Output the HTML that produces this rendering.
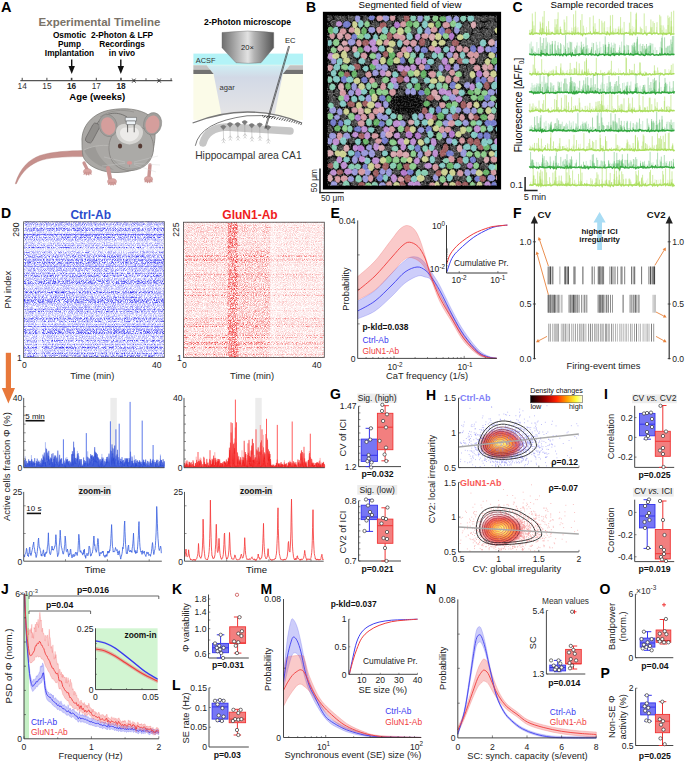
<!DOCTYPE html>
<html><head><meta charset="utf-8"><style>
html,body{margin:0;padding:0;background:#fff;width:685px;height:761px;overflow:hidden}
svg{display:block;font-family:"Liberation Sans", sans-serif;}
</style></head><body>
<svg width="685" height="761" viewBox="0 0 685 761" font-size="9.7">
<rect width="685" height="761" fill="#fff"/>
<text x="1" y="11.8" font-size="14.50" font-weight="bold">A</text>
<text x="99.5" y="26.3" font-size="11.50" text-anchor="middle" font-weight="bold" fill="#7a7267">Experimental Timeline</text>
<text x="69.5" y="38.2" font-size="8.30" text-anchor="middle" font-weight="bold">Osmotic</text>
<text x="69.5" y="47.3" font-size="8.30" text-anchor="middle" font-weight="bold">Pump</text>
<text x="69.5" y="56.4" font-size="8.30" text-anchor="middle" font-weight="bold">Implantation</text>
<text x="122" y="38.2" font-size="8.30" text-anchor="middle" font-weight="bold">2-Photon &amp; LFP</text>
<text x="122" y="47.3" font-size="8.30" text-anchor="middle" font-weight="bold">Recordings</text>
<text x="122" y="56.4" font-size="8.30" text-anchor="middle" font-weight="bold">in vivo</text>
<line x1="71.7" y1="59.6" x2="71.7" y2="68" stroke="#111" stroke-width="1.4" />
<path d="M68.5 66L74.9 66L71.7 74Z" fill="#111"/>
<line x1="120.8" y1="59.6" x2="120.8" y2="68" stroke="#111" stroke-width="1.4" />
<path d="M117.6 66L124 66L120.8 74Z" fill="#111"/>
<line x1="20.3" y1="80.7" x2="172.3" y2="80.7" stroke="#555" stroke-width="1.3" />
<line x1="22.2" y1="77.8" x2="22.2" y2="80.7" stroke="#444" stroke-width="1" />
<text x="22.2" y="88.5" font-size="8.30" text-anchor="middle" fill="#333">14</text>
<line x1="46.9" y1="77.8" x2="46.9" y2="80.7" stroke="#444" stroke-width="1" />
<text x="46.9" y="88.5" font-size="8.30" text-anchor="middle" fill="#333">15</text>
<line x1="71.6" y1="77.8" x2="71.6" y2="80.7" stroke="#444" stroke-width="1.6" />
<text x="71.6" y="88.5" font-size="8.30" text-anchor="middle" font-weight="bold" fill="#222">16</text>
<line x1="96.3" y1="77.8" x2="96.3" y2="80.7" stroke="#444" stroke-width="1" />
<text x="96.3" y="88.5" font-size="8.30" text-anchor="middle" fill="#333">17</text>
<line x1="121" y1="77.8" x2="121" y2="80.7" stroke="#444" stroke-width="1.6" />
<text x="121" y="88.5" font-size="8.30" text-anchor="middle" font-weight="bold" fill="#222">18</text>
<line x1="146" y1="78.2" x2="146" y2="80.7" stroke="#444" stroke-width="0.9" />
<line x1="171.1" y1="78.2" x2="171.1" y2="80.7" stroke="#444" stroke-width="0.9" />
<path d="M132.2 78.6L135.6 82.6M135.6 78.6L132.2 82.6" fill="none" stroke="#333" stroke-width="1"/>
<path d="M157.4 78.6L160.8 82.6M160.8 78.6L157.4 82.6" fill="none" stroke="#333" stroke-width="1"/>
<text x="97.3" y="99.8" font-size="9.60" text-anchor="middle" font-weight="bold">Age (weeks)</text>
<g stroke-linejoin="round">
<path d="M83 150.5 C70 150.8 52 151.5 40 155.5 C29 159.5 20 168 15.3 183.6 C15.8 184.2 16.2 184 16.5 183.4 C22 171 31 163.5 42 160 C54 156.8 70 156.6 83 156.6Z" fill="#c6908c" stroke="#b07d79" stroke-width="0.4"/>
<path d="M84 163 L88 171" fill="none" stroke="#c99492" stroke-width="3.2" stroke-linecap="round"/>
<path d="M82 142 C81 126 93 113 110 110 C124 107.5 140 108.5 150 116 C157 122 156 140 152 155 C148 166 134 172 118 172.5 C102 173 86 166 83 156 C82.2 152 82 147 82 142Z" fill="#aaa8a5" stroke="#7f7d7a" stroke-width="0.8"/>
<path d="M84 150 C88 160 100 168 114 170 C104 163 97 155 95 146 C91 147 87 148 84 150Z" fill="#9c9a97"/>
<path d="M84 150 C90 147 100 144 112 146" fill="none" stroke="#bdbbb8" stroke-width="0.8"/>
<rect x="-3.6" y="-10.5" width="7.2" height="21" rx="3" transform="translate(92.5 133) rotate(28)" fill="#908e8b" stroke="#6a6866" stroke-width="0.7"/>
<path d="M97 124 C103 113 116 110 127 117" fill="none" stroke="#6a6866" stroke-width="0.8"/>
<path d="M100 117 C110 110 122 109 134 112" fill="none" stroke="#8a8885" stroke-width="0.6"/>
<path d="M108 168 L110 178" fill="none" stroke="#c99492" stroke-width="4" stroke-linecap="round"/>
<path d="M150 165 L149 176" fill="none" stroke="#c99492" stroke-width="3.4" stroke-linecap="round"/>
<ellipse cx="87.5" cy="171.6" rx="4.1" ry="2.9" fill="#d9a3a0" stroke="#b88683" stroke-width="0.4"/>
<path d="M85.5 172.1l-1.5 2.2M86.8 172.4l-0.4 2.6M88.2 172.4l0.6 2.6M89.5 172.1l1.6 2.1" fill="none" stroke="#c99290" stroke-width="1.1" stroke-linecap="round"/>
<ellipse cx="112" cy="181.6" rx="4.5" ry="3.1" fill="#d9a3a0" stroke="#b88683" stroke-width="0.4"/>
<path d="M110 182.1l-1.5 2.2M111.3 182.4l-0.4 2.6M112.7 182.4l0.6 2.6M114 182.1l1.6 2.1" fill="none" stroke="#c99290" stroke-width="1.1" stroke-linecap="round"/>
<ellipse cx="148.5" cy="179.2" rx="4.1" ry="2.9" fill="#d9a3a0" stroke="#b88683" stroke-width="0.4"/>
<path d="M146.5 179.7l-1.5 2.2M147.8 180l-0.4 2.6M149.2 180l0.6 2.6M150.5 179.7l1.6 2.1" fill="none" stroke="#c99290" stroke-width="1.1" stroke-linecap="round"/>
<path d="M109 150 C108 136 117 126 131 125.5 C145 125 154 135 153.5 149 C153 161 144 170 131 170.5 C118 171 109.5 162 109 150Z" fill="#abaaa7" stroke="#7f7d7a" stroke-width="0.7"/>
<path d="M112 158 C118 166 124 169 131 169 C139 169 146 165 150 158" fill="none" stroke="#8f8d8a" stroke-width="0.6"/>
<ellipse cx="0" cy="0" rx="9" ry="11.3" transform="translate(108 125.5) rotate(-15)" fill="#a09e9b" stroke="#7f7d7a" stroke-width="0.5"/>
<ellipse cx="0" cy="0.6" rx="7" ry="9" transform="translate(108 125.5) rotate(-15)" fill="#d59e9c"/>
<ellipse cx="0" cy="0" rx="9" ry="11.3" transform="translate(152.6 123.8) rotate(12)" fill="#a09e9b" stroke="#7f7d7a" stroke-width="0.5"/>
<ellipse cx="0" cy="0.6" rx="7" ry="9" transform="translate(152.6 123.8) rotate(12)" fill="#d59e9c"/>
<path d="M116 132 C116 125 123 122.5 129 124.5 C135 122.5 143 125 143 132 C143 139 137 144 129.5 144.5 C122 144 116 139 116 132Z" fill="#d6d5d2"/>
<path d="M120 133 C120 128 125 126.5 129.5 128 C134 126.5 139 128 139 133 C139 138 134 141 129.5 141.5 C125 141 120 138 120 133Z" fill="#ecebe9"/>
<rect x="125.3" y="117.4" width="11.2" height="3.6" fill="#eef3f7" stroke="#555" stroke-width="0.5"/>
<rect x="126.3" y="121" width="9.2" height="3.6" fill="#eef3f7" stroke="#555" stroke-width="0.5"/>
<line x1="127.6" y1="124.6" x2="127.6" y2="132.3" stroke="#333" stroke-width="0.7" />
<line x1="134.2" y1="124.6" x2="134.2" y2="132.3" stroke="#333" stroke-width="0.7" />
<ellipse cx="120" cy="146" rx="2.1" ry="2.6" fill="#553a33"/>
<ellipse cx="140.2" cy="146" rx="2.1" ry="2.6" fill="#553a33"/>
<ellipse cx="129.5" cy="162.8" rx="2.6" ry="1.9" fill="#d99594"/>
<path d="M129.5 164.6 V167" fill="none" stroke="#8a7a78" stroke-width="0.4"/>
<path d="M134 162 L158 156 M134 163.3 L160 165 M134 164.5 L156 172 M125 162 L104 157 M125 163.3 L102 166" fill="none" stroke="#d0d0d0" stroke-width="0.35"/>
</g>
<text x="247.5" y="25.3" font-size="8.50" text-anchor="middle" font-weight="bold">2-Photon microscope</text>
<defs><linearGradient id="obj" x1="0" x2="1" y1="0" y2="0"><stop offset="0" stop-color="#6e6e6e"/><stop offset="0.5" stop-color="#e2e2e2"/><stop offset="0.62" stop-color="#b4b4b4"/><stop offset="1" stop-color="#555"/></linearGradient><linearGradient id="agar" x1="0" x2="0" y1="0" y2="1"><stop offset="0" stop-color="#cfeef4"/><stop offset="0.25" stop-color="#d2d9e6"/><stop offset="1" stop-color="#e4e4e6"/></linearGradient><pattern id="hatch" width="2.2" height="2.2" patternUnits="userSpaceOnUse" patternTransform="rotate(40)"><rect width="0.8" height="2.2" fill="#444"/></pattern></defs>
<rect x="193.4" y="53.6" width="109.6" height="11.3" fill="#b3f3f7" />
<rect x="193.4" y="64.9" width="109.6" height="55" fill="#fbfbe8" />
<path d="M206.6 65.3 L289.8 65.3 L282.8 74 L274.9 114 L221.3 114 L213.6 74Z" fill="url(#agar)"/>
<path d="M193.4 65.3 L206.6 65.3 L210.1 69.7 L193.4 69.7Z" fill="#c2c2c2"/>
<path d="M193.4 69.7 L210.1 69.7 L213.6 74 L193.4 74Z" fill="#727272"/>
<path d="M289.8 65.3 L303 65.3 L303 69.7 L286.3 69.7Z" fill="#c2c2c2"/>
<path d="M286.3 69.7 L303 69.7 L303 74 L282.8 74Z" fill="#727272"/>
<path d="M222 32.5 Q247.8 29.5 273.7 32.5 L273.7 47.8 L261 62.7 Q248.5 64 236 62.7 L222 47.8Z" fill="url(#obj)" stroke="#666" stroke-width="0.4"/>
<text x="247.5" y="50.3" font-size="7.60" text-anchor="middle" fill="#222">20×</text>
<text x="195.8" y="63" font-size="7.40" fill="#333">ACSF</text>
<text x="219.6" y="89.6" font-size="7.60" fill="#333">agar</text>
<path d="M192.6 123 Q247.8 101 302.1 123 L303 125 L303 170 L193 170 L192.6 125Z" fill="#fff"/>
<path d="M192.6 123 Q247.8 101 302.1 123" fill="none" stroke="#777" stroke-width="1.3"/>
<path d="M262 117.6 Q285 120 302.1 125.4 L302.1 123 Q285 117 262 115.3Z" fill="url(#hatch)"/>
<path d="M195.3 145.8 Q200 122 247 115.8 Q262 114.8 275 117" fill="none" stroke="#222" stroke-width="0.6"/>
<path d="M203 143 Q207 128 226 127 L290 131" fill="none" stroke="#c6c6c6" stroke-width="7.5" stroke-linecap="round"/>
<path d="M220.6 126.6 Q223.3 123.8 226 126.6 L223.3 129.8 Z" fill="#7a7a7a" stroke="#7a7a7a" stroke-width="0.6" stroke-linejoin="round"/>
<path d="M223.3 129.4 L223.6 141.4 M223.6 138.4 l-2 2.5 M223.6 138.4 l2 2.5 M223.6 141.4 l-1.3 1.8 M223.6 141.4 l1.3 1.8" fill="none" stroke="#888" stroke-width="0.35"/>
<path d="M227.3 124 Q230 121.2 232.7 124 L230 127.2 Z" fill="#7a7a7a" stroke="#7a7a7a" stroke-width="0.6" stroke-linejoin="round"/>
<path d="M230 126.8 L230.3 138.8 M230.3 135.8 l-2 2.5 M230.3 135.8 l2 2.5 M230.3 138.8 l-1.3 1.8 M230.3 138.8 l1.3 1.8" fill="none" stroke="#888" stroke-width="0.35"/>
<path d="M235 124 Q237.7 121.2 240.4 124 L237.7 127.2 Z" fill="#7a7a7a" stroke="#7a7a7a" stroke-width="0.6" stroke-linejoin="round"/>
<path d="M237.7 126.8 L238 138.8 M238 135.8 l-2 2.5 M238 135.8 l2 2.5 M238 138.8 l-1.3 1.8 M238 138.8 l1.3 1.8" fill="none" stroke="#888" stroke-width="0.35"/>
<path d="M242 121.9 Q244.7 119.1 247.4 121.9 L244.7 125.1 Z" fill="#7a7a7a" stroke="#7a7a7a" stroke-width="0.6" stroke-linejoin="round"/>
<path d="M244.7 124.7 L245 136.7 M245 133.7 l-2 2.5 M245 133.7 l2 2.5 M245 136.7 l-1.3 1.8 M245 136.7 l1.3 1.8" fill="none" stroke="#888" stroke-width="0.35"/>
<path d="M249 124.9 Q251.7 122.1 254.4 124.9 L251.7 128.1 Z" fill="#7a7a7a" stroke="#7a7a7a" stroke-width="0.6" stroke-linejoin="round"/>
<path d="M251.7 127.7 L252 139.7 M252 136.7 l-2 2.5 M252 136.7 l2 2.5 M252 139.7 l-1.3 1.8 M252 139.7 l1.3 1.8" fill="none" stroke="#888" stroke-width="0.35"/>
<path d="M257 124.3 Q259.7 121.5 262.4 124.3 L259.7 127.5 Z" fill="#7a7a7a" stroke="#7a7a7a" stroke-width="0.6" stroke-linejoin="round"/>
<path d="M259.7 127.1 L260 139.1 M260 136.1 l-2 2.5 M260 136.1 l2 2.5 M260 139.1 l-1.3 1.8 M260 139.1 l1.3 1.8" fill="none" stroke="#888" stroke-width="0.35"/>
<path d="M265.3 127 Q268 124.2 270.7 127 L268 130.2 Z" fill="#7a7a7a" stroke="#7a7a7a" stroke-width="0.6" stroke-linejoin="round"/>
<path d="M268 129.8 L268.3 141.8 M268.3 138.8 l-2 2.5 M268.3 138.8 l2 2.5 M268.3 141.8 l-1.3 1.8 M268.3 141.8 l1.3 1.8" fill="none" stroke="#888" stroke-width="0.35"/>
<line x1="288.6" y1="46" x2="264.8" y2="128.5" stroke="#3a3a3a" stroke-width="0.7" />
<line x1="289.6" y1="46.2" x2="265.8" y2="128.7" stroke="#3a3a3a" stroke-width="0.7" />
<text x="290.2" y="43.4" font-size="7.60" text-anchor="middle" fill="#222">EC</text>
<text x="195.2" y="158.9" font-size="10.30" fill="#333">Hippocampal area CA1</text>
<text x="306" y="11.6" font-size="14" font-weight="bold">B</text>
<text x="410" y="8" text-anchor="middle">Segmented field of view</text>
<rect x="322.9" y="11.8" width="178.2" height="177.7" fill="#000" />
<defs><filter id="grain" x="0" y="0" width="1" height="1"><feTurbulence type="fractalNoise" baseFrequency="0.6" numOctaves="2" seed="3"/><feColorMatrix values="0 0 0 0 0.75  0 0 0 0 0.75  0 0 0 0 0.75  2.2 0 0 0 -0.95"/></filter><clipPath id="bclip"><rect x="327.8" y="15.8" width="169.2" height="169.7"/></clipPath></defs>
<rect x="327.8" y="15.8" width="169.2" height="169.7" fill="#0a0a0a" />
<rect x="327.8" y="15.8" width="169.2" height="169.7" fill="#000" filter="url(#grain)" opacity="0.4"/>
<g clip-path="url(#bclip)">
<path d="M332.3 19l-2.3 1.5l-2.7 -0.3l-0.9 -2.6l1 -2.6l2.7 -0.4l2 1.7zM335.2 15.5l2.8 -0.7l2.8 1.1l-0.3 2.4l-1.7 2l-2.9 -0.6l-1.3 -2zM340.7 17.5l2.1 -1.6l2.4 1l0.9 2.1l-1.1 2.1l-2.6 0.7l-1.9 -1.9zM351.8 15.5l2.2 1.5l-0.2 2.6l-2.3 1.8l-2.9 -0.8l-0.8 -2.5l1 -2.6zM364.1 15.8l2.5 -0.3l1.9 2.3l-0.4 3.5l-2.3 1.3l-2.2 -1l-0.9 -3zM400.7 21.6l-2 -1.3l-0.9 -2.6l1.6 -2.4l2.6 0.4l1.5 2.2l-0.8 2.5zM478.9 22.1l-2.5 0.5l-2 -1.8l0 -3.2l1.7 -2.5l2.8 0.6l1.4 3.2zM486.6 16.9l1.3 2.2l-2 1.8l-2.9 0.2l-2.3 -1.6l0.6 -2.5l2.7 -0.8zM489.7 20.3l-1.9 -1.6l0.6 -2.5l2.4 -0.8l2.4 0.8l0.8 2.4l-1.8 2zM501.3 21l-2.3 2l-2.5 -1.8l-0.5 -3.1l1.5 -2.7l3 -0.4l1.9 2.9zM503.2 15.9l2.5 -0.1l1.2 3l-1 2.8l-2.2 1.6l-2.1 -2.1l-0.3 -3.4zM331 24.7l0.2 -3.4l2.8 -1.2l2.4 1.2l1 2.9l-1.7 2.5l-2.6 0.1zM373.4 21.5l3.2 -0.1l2.1 1.9l0.2 3l-3 1.1l-3 -0.5l-1.1 -2.8zM391.5 26l-2.2 1.2l-2 -1.8l-0.2 -2.7l1.8 -1.9l2.5 0.4l1.1 2.4zM463.6 27.1l-0.2 -3l2 -2.1l2.6 0.6l1.5 2.4l-0.6 3.2l-2.9 0.4zM477.6 26.4l-0.7 -2.4l1.8 -2l2.9 0.4l1.6 1.7l-0.5 2.1l-2.3 1.2zM488.7 21.4l2.1 1.8l0.9 2.8l-2.2 1.9l-2.9 0.2l-1.5 -2.8l1.1 -2.7zM496 27.3l-2.3 1.4l-2.2 -1.7l-0.4 -3.2l1.4 -2.7l2.4 0.6l1.5 2.4zM499.4 25.3l0.4 -3.4l2.8 -1.1l2.3 1.9l0.2 3.1l-1.5 2.6l-2.8 -0.1zM508.1 28.7l-2.5 -1l-1.1 -3.3l1.6 -2.8l2.6 -1l2 2.6l-0.4 3.6zM414 34.4l-2.5 -0.3l-1 -3.1l0.8 -3l2.3 -0.8l2.2 1.5l0 3.5zM466.4 31l-1.7 2.1l-2.8 0.6l-2.1 -2.1l0.6 -2.8l2.4 -1.2l2.6 0.8zM466.5 31.4l-0.2 -2.5l2.2 -1.1l2.5 0.4l1 2.6l-1.5 2.2l-2.4 0.1zM478.7 29.3l1.4 2.2l-1.6 2l-2.8 1l-2.2 -1.7l-0.3 -2.4l2.5 -1.6zM482.8 33.6l-1.7 -2l1.5 -2.1l2.5 -0.9l1.9 1.7l0.3 2.3l-2 1.8zM492.8 31.4l-1.2 2.7l-2.6 -0.2l-1.7 -2.4l1 -2.8l2 -1.7l2 1.7zM505.8 33.6l-2.9 0.5l-1.6 -2.3l0.3 -2.6l2.7 -1.5l2.7 1.4l0.8 2.6zM471.8 34.9l2.7 -0.9l2 2.1l0.2 2.8l-2.1 2.1l-2.9 -0.7l-1.3 -2.8zM476.9 38.6l0.2 -2.9l1.8 -2.2l3.1 0.2l1.4 2.5l-0.9 2.6l-2.8 1.3zM490.3 34.9l0.1 2.9l-2.5 1.7l-2.9 -0.8l-1 -2.9l1.4 -2.7l3.1 -0.6zM492.8 34.6l2.5 0.5l1.9 1.9l-1 2.7l-2.2 0.9l-2.1 -1.1l-0.5 -2.6zM499.4 39.4l-1.5 -2.6l1.1 -3.2l2.8 -0.6l2 2l0.5 3.2l-2.3 1.9zM505.1 34.7l2.8 -0.6l2.7 1.4l-0.3 3.2l-2.1 2.2l-3.1 -0.4l-1.5 -2.9zM423.4 43.9l0.1 -2.8l3.2 -1.2l2.6 1.5l0.7 2.3l-1.5 2.3l-3.4 0.2zM448.7 47.1l-1.7 -2.5l0.2 -3l2.5 -1.5l2.8 0.9l0.8 3.1l-1.9 2.3zM461 41.8l1.7 -1.9l3 0.2l1.1 2.3l-0.7 2.3l-2.7 0.9l-2.3 -1.4zM466.1 44.5l0.6 -3.6l2.5 -1.2l2.4 1.1l0.9 3.4l-1.7 3l-2.7 -0.2zM478.3 44.9l-2.7 0.1l-1.6 -2.1l0.6 -2.5l2.5 -0.8l2.2 1.1l1.2 2.4zM392.2 48.8l1.3 -2.9l2.6 -0.5l1.6 2.5l0 3.2l-2.2 1.5l-2.4 -0.8zM349.7 58.5l-2.8 -1.3l-0.1 -3l2.1 -1.9l2.7 0.5l1.5 2.1l-0.5 2.7zM430.9 53.1l-0.2 2.4l-1.7 1.6l-2.5 -0.2l-1.3 -1.9l0.8 -2.2l2.5 -0.8zM486 58.1l-2.9 1.5l-2.7 -1.1l-1.3 -2.4l1.6 -2.4l3 -0.2l2.4 1.7zM350.4 62l0.9 -2.7l2.9 -1.4l2.3 2.1l0.5 2.7l-1.9 2.4l-3.2 -0.5zM364.4 61.7l0.8 -2.5l2.6 -0.5l2.2 1.2l0.2 2.7l-2.1 1.5l-2.5 -0.2zM437.5 58.5l3 0.1l1.7 2.8l-0.6 3.3l-2.7 1.2l-2.6 -1.3l-0.5 -3.2zM478.4 63.5l-1.4 -2.5l0.7 -2.8l2.6 -0.7l2.7 0.9l0.2 3.1l-1.9 2.5zM498.6 58l3 -0.8l1.9 2.2l0.1 2.7l-2.7 1.1l-2.5 -0.7l-1 -2.2zM395.1 67.4l-0.8 3l-2.3 0.3l-1.8 -1.6l0.1 -3.1l1.7 -1.8l2 0.6zM433.3 69.3l-1.1 -2.6l1.4 -2.5l2.8 -0.5l1.8 2l0 2.7l-2.2 1.9zM459.3 68.7l0.8 -2.4l2.8 -1l2.9 1.1l0.4 2.7l-2.1 2l-3 -0.3zM470.6 64.1l2 1.8l0.7 3.3l-2.2 1.9l-2.4 -0.4l-1.7 -2.5l1 -3.2zM357.7 71.9l2.4 -1.4l2.6 1l1.3 2.9l-1.9 2.7l-3.1 -0.3l-2.4 -2zM447.4 71.1l2 2.2l-0.6 3.3l-2.9 1l-2.7 -1.3l-0.8 -3.3l2.1 -2.6zM464.2 76.4l-0.4 -3.3l1.7 -2.8l3.1 0.6l2.2 2.2l-1.2 2.9l-2.5 1.5zM377.2 83.2l-1.8 -2.4l1.8 -2.5l2.9 -0.3l2.6 1.4l-0.4 2.8l-2.2 1.7zM423.2 79l-0.9 2.7l-2.4 0.9l-2.5 -1.5l-0.1 -3.4l2.2 -1.9l2.5 0.7zM459.4 82.8l-0.6 -2.6l1.8 -2.1l2.8 0.4l1.6 1.7l0 2.6l-2.8 1.1zM469.5 83.1l-3.2 -1l-1.6 -2.8l1.9 -2.5l2.9 -0.5l2.1 1.8l0.5 2.9zM407.3 87.1l-2.5 1.9l-2.8 -0.4l-1.9 -2.2l1.2 -2.6l2.7 -1.2l2.8 1.4zM421.7 87.4l0.1 -2.7l2.2 -1.2l2.1 1.1l1.2 2.5l-1.7 2.2l-2.3 0zM330.6 90.1l2.3 1.2l0.2 3l-1.7 2.3l-2.6 -0.3l-1.3 -2.6l1 -2.5zM339.1 94.1l-1.6 2.3l-2.1 -1.2l-1 -2.5l0.9 -2.7l2.2 -1l2 1.9zM398.1 93.6l0.7 -2.3l2.2 -1.4l2.5 1.2l0.4 2.6l-1.7 1.7l-2.5 0.2zM333.6 102.1l-3.2 -0.4l-1.6 -2.8l1.2 -3l3 -0.6l2.8 1.4l0.3 3.3zM424.1 93.7l2.4 2l0.6 2.6l-1.7 2.1l-2.8 -0.1l-2.2 -2l0.8 -3zM468.4 98.1l0.4 2.4l-2.3 1.5l-2.8 -0.4l-1 -2.4l1.3 -2.2l2.7 -0.8zM334.1 106.5l-0.7 -2.8l1.3 -2.5l3.5 -0.7l2.3 2.2l-0.1 2.7l-2.8 1.4zM438.1 105.4l-1.7 2.2l-2.2 -0.5l-1.5 -2.2l0.9 -2.6l1.9 -1.4l1.9 1.5zM345.6 119.6l-2.2 1.4l-2.2 -1.6l-0.8 -3l1.8 -2.6l2.9 0l1.2 3zM402.9 115.6l1.5 -2.4l2.2 -0.2l1.6 2l0.1 3l-2.2 1.1l-2.3 -0.5zM494.9 118.9l-1.5 -2.4l0.7 -2.6l3.1 -0.9l2.5 1.5l1 2.5l-2.6 1.6zM354.7 119.8l2.4 1.2l0.7 2.7l-2.1 1.9l-2.9 0l-1.5 -2.4l0.6 -2.8zM330.9 132.7l-2.5 -0.5l-1.5 -2.4l0.7 -3.1l2.7 -1l2.1 1.9l0.6 3.1zM377 129.3l1.6 -2l3.1 0.2l1.8 2.1l-1 2.4l-2.7 0.6l-2.9 -0.8zM456.6 133l-2.4 -1.4l-0.5 -2.5l1.8 -1.8l2.8 -0.3l1.8 2.2l-0.8 2.7zM406.2 136.6l-2.4 1.3l-3 -0.5l-1 -2.5l1.7 -2.4l3.3 -0.2l2.5 1.9zM419.8 136.3l1 -2.4l3 -1l2.8 1.6l-0.1 2.8l-2.1 2.2l-3.3 -0.7zM466.6 131.3l2.8 1.3l1.2 2.2l-1.4 2.4l-3.4 0l-2.6 -1.7l0.9 -2.5zM490.9 135.4l1.3 -2.3l2.7 0.3l1.4 2l-0.4 2.4l-2.3 1.2l-2.3 -1.2zM500.2 138.8l-2.7 -1.2l-0.1 -2.5l1.7 -1.6l2.7 -0.4l1.6 2.1l-0.9 2.3zM348.6 141.1l0.7 -2.7l2.9 -0.9l2.1 1.6l0.4 2.3l-1.8 1.7l-2.7 0.1zM374.8 145.3l-2.6 0.7l-2 -2.2l0.2 -3.4l1.9 -2l2.6 0.2l1 3.4zM439.3 138.2l2.9 0.1l1.6 2.2l-0.5 2.5l-2.3 1.8l-2.9 -1.2l-0.8 -3zM343.1 146.1l0.4 2.8l-1.4 2.4l-2.6 -0.2l-1.4 -2.1l0.5 -2.5l2 -1.4zM384.5 148.8l1.2 -2.4l2.8 -1l2.7 1.2l0.9 2.5l-2.3 2l-3.5 0zM441.1 148.6l-0.9 2.7l-2.7 0.6l-2 -1.9l-0.2 -3.1l2.3 -1.9l2.4 1.1zM454.3 144.8l2 2.3l-0.6 3.3l-2.1 1.5l-2.5 -0.6l-0.7 -3.4l1.7 -2.4zM376.8 150.9l2.6 0.1l1.8 2l-0.4 2.8l-2.3 1.5l-2.5 -1.2l-0.6 -2.8zM452.8 155.6l0.6 -3.2l2.6 -1.5l2.9 1l0.3 3.1l-1.5 2.3l-2.7 0.5zM330.5 162.8l-2 -2.4l2.2 -2.3l3.1 -0.3l2.9 1.5l-0.7 2.8l-2.5 1.9zM440.2 159.8l-1.3 2.8l-2.6 0l-1.7 -2l0.1 -2.9l2.1 -1.4l2.2 0.9zM477.1 161.1l-0.4 -3.2l2.1 -2.4l3.1 0.5l1.5 3l-1.4 2.8l-2.5 1.1zM417.9 164.5l2.7 -1.9l3.3 0.6l1.4 2.4l-1 2.6l-3.2 0.6l-3 -1.4zM466.6 166.3l-1.2 3.1l-2.8 -0.2l-2.2 -2l0.2 -3.6l2.6 -2l2.8 1.4zM482.5 163.2l3.4 -0.2l2.6 2l-0.7 2.9l-3.2 1.1l-2.8 -1.1l-1.6 -2.5zM399.1 169.7l0.8 2.3l-1.4 2.4l-3.4 0l-2.3 -2l1 -2.5l2.4 -1.5zM429.4 169.6l2.9 -0.1l1.8 2.4l-0.7 2.8l-2.3 1.3l-2.4 -1.1l-0.8 -2.8zM424.1 180.8l-0.7 -2.6l1.9 -2l2.9 -0.1l2.3 1.9l-0.6 2.8l-2.8 1.1zM453.9 177.3l1.2 -2.3l2.6 -0.9l1.9 2.3l-0.3 2.8l-2.1 1.7l-2.4 -1.1zM462.5 182l-1.5 -2.2l0.3 -3.1l2.2 -1.3l2.3 1.1l0.7 3.2l-1.7 2.4zM343.8 185.7l-1.2 2.2l-2.9 0l-1.8 -1.7l0.4 -2.1l2.1 -1.3l2.7 0.7zM351.8 182.3l1.9 -2l2.4 0.8l0.9 2.6l-0.7 2.9l-2.5 0.1l-2.3 -1.4zM422.2 182.6l3.2 0.2l2.4 2l-0.8 3l-3.2 1.1l-2.8 -1.4l-0.8 -2.7zM505.4 186l-1.6 2.2l-2.7 0.4l-1.9 -2.2l0.6 -2.8l2.3 -1.1l2.3 0.9zM335.2 193.6l-1.4 -2.8l0.6 -3.1l2.1 -1.5l1.9 1.9l0.5 2.8l-1.2 2.7zM465.6 193.2l-2.5 1.1l-2.5 -1.3l0 -2.6l1.6 -1.8l2.8 -0.3l1.7 2.4z" fill="#858585" fill-opacity="0.42" stroke="#858585" stroke-opacity="0.35" stroke-width="0.5" stroke-linejoin="round"/>
<path d="M354.9 19.1l0.8 -3l2.3 -0.8l2 1.6l-0.1 3.1l-1.5 2.3l-2.3 -0.6zM388.9 17.1l-0.4 2.8l-2.6 1.5l-2.5 -1.4l-1.4 -2.5l1.9 -2.4l3.2 -0.3zM422.7 19l-1.3 2.4l-2.3 0.5l-1.8 -2.5l0.7 -3.2l2 -1.9l2.4 1.4zM449.4 22.5l-2.6 -0.7l-1.4 -2.7l1.3 -2.8l2.6 -0.9l2 2.1l0.6 3.3zM458.8 17.5l0.2 2.8l-2.1 1.6l-2.6 -0.1l-1.2 -2.4l1 -2.3l2.4 -1.3zM368.3 30.2l0.8 -2.5l3.1 -0.7l2.7 1.5l0.1 2.7l-2.5 1.7l-2.9 -0.6zM425.4 34.5l-0.8 -3.3l1.3 -2.7l2.6 -1.3l2 2.6l0.1 3.6l-2.5 1.8zM456.9 25.6l2 2.1l0.7 3.1l-1.7 2.5l-2.5 -0.1l-1.3 -2.8l0.6 -3.1zM348.5 40.1l3 -1.4l3.1 1.4l0.8 3l-2.4 2l-3.2 0.3l-2 -2.4zM500.9 45.2l-2.3 1.7l-3.2 0l-1.1 -3l1 -2.8l3 -0.9l2.8 1.7zM415.1 50.6l-0.5 -3l1.9 -1.8l2.2 -0.1l1.4 2.4l-1 2.6l-2 1.5zM489.1 46.3l2.3 1.7l0.1 2.5l-2.3 1.6l-3 -0.4l-1.1 -2.4l1.2 -2.3zM379.1 52.9l1.9 1.8l-0.2 2.9l-1.8 2.3l-2.4 -1.3l-1.2 -2.7l1.4 -2.5zM452.6 53.7l-0.4 2.8l-2.2 1.5l-2.5 -0.9l-0.8 -2.7l1.4 -2.2l2.4 0zM336.2 60.1l-0.4 3l-2.2 1.1l-2.3 -1.1l0 -3.1l1.2 -2.8l2.6 0.1zM381.1 64.8l0.8 2.7l-1.7 2.3l-3 0l-1.9 -2l0.1 -2.8l2.8 -1.4zM381.3 67l1.9 -2.5l3.2 0.2l1.7 2.6l-1 2.8l-2.6 1l-2.5 -1.3zM439.7 71.3l-1.2 -2.6l0.3 -2.9l2.3 -1.4l2 1.7l0.6 2.7l-1.4 2.5zM454.8 70.9l-1.3 -2.9l0.6 -3.2l2.3 -1.3l2.4 1.4l0.4 3.6l-2 2.1zM494.8 66.4l1.8 -2.2l2.5 0.9l1.4 2.5l-1 2.9l-2.6 0.7l-2.1 -1.8zM376.2 69.8l1.9 1.9l0.3 2.7l-2.3 1.4l-2.8 -0.3l-0.9 -2.6l1 -2.6zM499.8 82.5l-3.2 0.5l-1.9 -2.3l0 -2.6l2.2 -1.6l3 0.3l1.2 2.8zM356.8 86.1l-0.5 3.1l-2.2 1.9l-2 -2.1l-0.6 -3l1.4 -2.8l2.8 -0.2zM398.1 88.2l-2.5 0.9l-2.2 -1.3l-0.7 -3l1.9 -2.1l2.4 0.1l1.5 2.3zM468.7 87.8l-2.6 0.2l-2.1 -1.8l0.6 -2.8l2.4 -1.5l2.7 1l0.4 2.7zM351.9 89.9l2.2 1.6l-0.3 2.5l-2 1.9l-2.8 -0.9l-0.8 -2.4l1.1 -2.1zM408.2 88.2l1.8 1.5l0.3 2.8l-1.5 2.3l-2.5 -0.1l-1 -2.8l0.7 -2.7zM415.9 90.9l-0.4 3l-2.3 1.4l-2.3 -1.6l-0.2 -3.2l1.4 -2.6l2.5 0.4zM493.5 94.9l-3.4 0.4l-2.7 -1.6l0.5 -2.6l2.2 -2l3.3 0.8l1.6 2.4zM495.3 91.6l1.3 -2.3l2.9 -0.3l2.4 1.4l-0.3 2.5l-2.3 1.2l-2.7 -0.3zM371.2 97.5l0 3.4l-2.4 1.8l-2.5 -1.3l-0.9 -3.2l1.6 -2.7l2.7 -0.8zM449.2 99.1l-0.4 -3l2.4 -1.9l3.2 0l1.8 2.8l-1.2 3l-3.2 0.8zM388.7 104.7l-1.3 2.6l-2.4 0.8l-1.6 -2.6l-0.1 -3.3l2.3 -1.4l2.1 1.1zM482 104.3l1.3 -2.2l2.5 -0.4l1.9 1.9l-0.5 2.6l-2.1 1.4l-2.4 -0.7zM490.6 107.1l-2.6 -1.6l0 -2.8l2.3 -1.6l3.1 0l1.3 2.6l-1.2 2.4zM332.6 106.5l2.6 1.1l1 2.8l-1.5 2.7l-3.1 0.4l-2.2 -2.4l0.4 -3.3zM341.5 114.7l-2.6 0.4l-1.6 -2.3l-0.1 -2.9l2.2 -1.7l2.3 1.2l0.7 2.6zM460.6 111.5l-1.9 1.5l-2.4 -0.5l-1.1 -2.2l0.8 -2.5l2.8 -0.6l2.2 1.7zM468.3 107.3l1.9 2.1l0.1 3l-3.1 1.3l-3.1 -1.1l-1.2 -2.9l2.3 -2.1zM476.8 109.7l-0.4 3l-2.3 1l-2.3 -0.8l-0.5 -2.8l1.4 -2.2l2.3 -0.1zM338.5 115.2l1.5 1.8l-0.9 2.1l-2.4 0.8l-2.1 -1.2l-0.6 -2.2l2 -1.5zM377.8 118.6l-1 -3l1.4 -2.8l2.5 -0.3l2 1.9l-0.3 3.2l-2 2.3zM383.2 115.5l2.9 -0.7l2 1.8l-0.2 2.3l-2.1 1.4l-2.7 -0.3l-1.5 -2.3zM419.2 113.5l2.4 -0.5l1.7 2l-0.1 2.8l-1.6 2.1l-2.3 -0.7l-1.2 -2.8zM446.4 118.1l0.4 -2.9l3.2 -1.3l3.3 1.2l0.7 3.1l-2.2 2.4l-3.4 -0.4zM402.6 127.3l-2.7 -1.5l-1.3 -2.7l2 -2.5l3.2 0.2l1.8 2.1l-0.4 2.7zM443.3 124.8l-1 -2.6l2.6 -2l3.4 0.6l2.1 2.2l-1.6 2.4l-3.1 1.2zM468.8 122.6l-0.9 2.4l-2.4 1l-2.3 -1.2l-0.7 -2.8l2 -2.2l2.8 0.7zM417.6 129.7l1.6 -1.9l2.9 -0.5l2.2 1.7l-0.4 2.4l-2.4 1.5l-2.7 -0.9zM331.7 132.8l3.1 0.7l1.5 2.1l-0.9 2.4l-2.9 0.9l-2.8 -1.3l-0.6 -2.8zM344.4 133.4l3 -0.6l2.2 1.8l0.7 3l-3 1.4l-3.1 -0.2l-1.2 -2.8zM380.4 134.1l1.6 -2.6l2.6 0l1.6 2.6l-0.9 3l-2.1 1.1l-2.3 -1zM441.3 134.3l1.5 -2.2l2.4 -0.2l1.4 2.2l-0.2 2.8l-2.2 1.3l-2.3 -1.1zM510.8 134.4l-0.4 3.1l-2.5 0.6l-2.1 -1.5l-0.4 -3l1.7 -2.7l2.6 0.8zM327.5 143.9l-1.7 -2l0.3 -2.7l2.9 -1.1l3.1 1l0.1 2.8l-1.6 2.4zM450.6 143.8l-3.1 -0.4l-1.3 -2.4l0.7 -2.6l3 -0.4l2.5 1.2l0.3 2.6zM366.2 148.4l0.8 -2.5l2.1 -1.2l2.6 0.6l0.1 2.7l-1.1 2.2l-2.5 -0.2zM366.9 155.2l-3 1.1l-2.4 -1.9l-0.2 -2.6l2.4 -1.9l3.4 0.3l1.4 2.7zM373 157.2l-2.7 -0.4l-1.8 -2.7l1.2 -3.1l2.3 -1.7l2.3 2l0.8 3.5zM418.7 152l2 -1.3l1.8 2l-0.1 3l-1.5 2.2l-2.4 -0.2l-0.9 -3zM464.1 157.1l-2.7 -1.1l-0.9 -3.3l1.2 -3.1l2.7 -0.5l2.3 2.2l-0.5 3.6zM352.3 158l2 -2.2l2.3 1.5l1.3 2.8l-1.4 2.9l-2.7 0.6l-1.8 -2.5zM501.7 169.3l-1.7 -2.3l0.6 -2.7l3.3 -1.2l2.7 1.7l1.2 2.6l-2.6 1.9zM354.5 168.4l2.8 1l0.5 3.1l-1.4 2.6l-2.7 0.2l-2.1 -2.1l0.7 -3zM369.1 174.9l-2.8 0.3l-2 -2.3l0.7 -3l2.5 -1.5l2.7 1.3l0.3 2.9zM385.1 170.1l0.1 2.9l-2 1.6l-2.6 -0.3l-1.2 -2.9l1.6 -2.4l2.2 -0.6zM391.3 174.3l-1.8 2.2l-2.4 -0.9l-1.2 -2.9l1.1 -3.1l2.5 -1.1l2.3 2.2zM465.4 170l2.8 -0.8l2 2.2l0.1 3l-2.1 1.7l-2.4 -0.6l-1.5 -2.6zM471.9 173.8l-1.3 -2.1l1.2 -2.2l2.4 -0.5l2.2 1.3l-0.2 2.5l-1.9 1.8zM353.4 180.7l-2.3 1.4l-2.4 -1.2l-1.1 -2.4l1.8 -2.2l2.8 0.2l1.9 1.8zM368.3 179.9l-1.8 2.5l-2.8 -0.7l-1.3 -2.6l0.8 -2.8l2.5 -1l2.5 1.5zM434.2 174.6l2.4 -0.3l1.4 2.2l0.2 2.9l-2.1 1.8l-2.3 -1.2l-1 -2.8zM490 181l-2.6 -2l0.7 -3l3.2 -1.4l3 1.3l1 2.6l-1.9 2.3zM330.9 183.8l1.2 -2.3l3.1 -0.1l2 1.9l-0.6 2.5l-2.5 1.2l-2.7 -0.9zM378.9 184.8l1.7 -2.1l3.3 -0.1l1.7 2.2l-0.1 2.7l-3.3 0.8l-3.1 -0.9zM432.4 189.1l2.7 -1.7l3.2 1.3l0.5 3l-2 2.4l-3.4 -0.2l-1.9 -2.3zM480.6 190.2l1.9 -1.9l2.8 0.2l1.4 3.1l-1.3 3.2l-2.9 0.3l-2.5 -1.6z" fill="#a4a4ec" fill-opacity="0.92" stroke="#a4a4ec" stroke-width="0.4" stroke-linejoin="round"/>
<path d="M374.4 18.6l-1.8 1.6l-2.6 -0.3l-1.7 -2l1.5 -2.1l2.4 -0.9l2.3 1.3zM349.5 26.4l-2.9 1.3l-3.2 -1.1l-0.4 -2.9l1.9 -2.3l3.4 -0.1l2.4 2.3zM442.9 35.4l-3 -0.4l-1.2 -3.3l1.1 -3l2.4 -1.8l2.2 2.3l0.6 3.5zM357.1 37.5l-1.7 1.9l-3 -0.1l-1 -2.4l0.9 -2.2l2.6 -1l2.3 1.5zM421.1 51.7l-0.3 -2.6l2 -1.8l3 0l1.9 1.9l-0.4 2.7l-3.1 1.1zM475.7 51.6l-2.7 1.3l-2.2 -1.8l-0.6 -3l1.6 -2.4l2.7 -0.2l1.7 2.7zM490.7 49.7l1.1 -2.7l2.7 -0.5l2.4 1.6l0 3.2l-2.4 1.6l-3 -0.1zM499.4 53.2l2.1 1.7l-0.1 2.3l-1.9 1.8l-2.7 -0.8l-1.2 -2.1l1.1 -2.2zM403.2 57.3l1.6 2.1l0 2.9l-2.1 1.4l-2.1 -1l-1.2 -2.5l1.4 -2.5zM425 69.3l-1.2 -2.2l1.3 -2l2.5 -0.7l2.5 1.3l-0.2 2.6l-2.3 1.4zM341.1 77.4l2.5 -1.7l2.6 0.6l1.1 2.7l-0.8 2.9l-2.8 1l-2.4 -2zM366.5 77.4l1 2.4l-0.7 2.4l-2.8 0.8l-2.3 -1.6l-0.5 -2.6l2.3 -1.9zM478.9 77.1l1.4 2.2l0.1 2.9l-2.1 1.7l-2.4 -1.1l-0.2 -3l0.9 -2.7zM484.6 76.9l1.9 1.9l-0.4 3.2l-2 1.8l-2.2 -1.2l-1.3 -2.8l1.6 -2.5zM449.6 86.6l0.9 -3.4l2.4 -1.6l2.5 1.3l1 3.2l-1.9 2.4l-2.6 0.4zM422.4 95l-2.9 0.2l-1.3 -2.1l0.9 -2.1l2.6 -0.8l2.5 1.1l0.7 2.4zM379.8 96.3l2.5 -1.1l2.6 1.1l0.6 2.5l-1.6 2.3l-3.1 -0.3l-1.6 -2.1zM489.2 100l-2.9 1.2l-2.3 -2.2l-0.1 -3l2.7 -1.4l3 0.3l1.1 2.7zM505.9 98.3l2 -1.9l3.1 -0.6l2.1 2.3l-0.8 2.8l-2.9 1.3l-2.7 -1.4zM436.4 107.6l2.2 -1.5l2.2 1.7l0.5 3.2l-1.7 2.5l-2.6 -0.3l-1.2 -2.7zM336.2 122.6l-1.2 2.6l-2.3 0.8l-1.9 -1.8l-0.3 -3l1.9 -2.3l2.7 0.8zM338.5 125.4l-0.3 -2.6l1.1 -2.3l2.3 -0.1l1.6 2l-0.4 2.7l-2 1.1zM378.5 122.9l1.8 -1.8l2.8 0.3l1.6 1.9l-0.7 2.3l-2.7 1.1l-2.7 -1.4zM485.6 125.2l-1.2 -2.8l2.1 -2.3l3 0.1l1.9 2.3l-1 2.7l-2.4 1.3zM493.8 119.8l2.4 1.7l0.4 2.9l-2.6 1.7l-3.2 -0.3l-1.2 -2.7l1 -2.8zM360.3 131.3l-2.9 0.4l-2.8 -1.1l-0.2 -2.7l2.6 -1.3l2.9 0l1.1 2.3zM428.9 125.7l2.2 1.9l0.7 3l-1.8 2.4l-2.9 0l-1.3 -2.8l0.6 -2.9zM479.2 132.9l2.8 0l0.8 2.5l-0.7 2.5l-2.7 0.5l-2 -1.6l-0.1 -2.4zM490.2 134.4l0.2 3l-2.3 2.4l-3.2 -0.9l-1.4 -2.9l1.2 -3l3.1 -0.5zM386.2 137.8l2.1 2.2l-1.3 2.8l-2.5 1.3l-2.3 -1.5l-1.2 -2.9l2.4 -2.1zM415.6 145.9l2.4 -1.1l2.2 1.7l0 2.9l-1.7 2.4l-2.6 -0.6l-1.2 -2.6zM355.4 152.1l2.7 -1.2l2.1 2.1l0.4 2.8l-2 2l-2.6 -0.6l-1.3 -2.3zM446.7 155.4l-0.6 -2.8l2.2 -2.1l3.1 0.3l2.4 1.9l-0.8 2.9l-3.2 1.2zM476.1 159.9l-1 2.4l-2.9 0.8l-2 -2l-0.4 -2.5l2.2 -1.9l2.8 0.9zM365.5 163.4l1.8 1.8l-0.1 2.9l-1.4 2.1l-2.2 -0.3l-1.2 -2.7l1.2 -2.6zM409.6 169.4l3.1 0.5l0.9 2.4l-1.4 2.1l-3 0.6l-2.5 -1.7l0.4 -2.6zM380.1 173.9l2.3 1.9l0.9 2.8l-1.9 2.5l-3.1 -0.1l-1.8 -2.6l1 -2.9zM474.5 179.5l0.4 -2.2l2.5 -1.2l2.9 0.9l0.1 2.5l-1.3 2.1l-2.9 -0.1zM496.6 184.6l-0.3 3l-2.4 0.8l-2.3 -1.1l-0.2 -3l1.5 -2.2l2.4 0.1z" fill="#7c84dc" fill-opacity="0.92" stroke="#7c84dc" stroke-width="0.4" stroke-linejoin="round"/>
<path d="M377.3 20.4l-0.8 -2.5l1.2 -2.1l2.7 -0.5l2.2 1.5l0.2 2.5l-2.3 1.6zM395.1 18.9l-1.8 2l-2.4 -0.4l-1 -2.8l0.9 -2.7l2.2 -1l1.9 1.8zM401.9 21.4l3.1 0.1l1.4 2.3l-0.6 2.4l-2.5 1.1l-2.8 -1l-0.3 -2.7zM449.4 23.5l0.5 2.7l-2.6 1.5l-3.2 0.1l-1.5 -2.4l0.9 -2.6l3.2 -0.8zM346.4 32.1l-1.8 2.2l-3 0l-1.8 -2.2l0.7 -2.5l2.4 -1.4l2.7 1.1zM353.4 27.4l1.5 2l-0.3 2.4l-2.6 1l-2.9 -0.8l-0.2 -2.6l1.6 -2zM379.5 26.8l1.9 1.2l0.8 2.6l-1.6 2.1l-2.5 0.4l-1.6 -2.5l0.6 -3.1zM431.9 27.6l2.8 -0.9l2.4 1.7l0.1 2.6l-2.5 1.4l-2.9 -0.4l-1.5 -2.2zM329.9 33.8l2.4 -1.3l2 1.7l0.5 2.5l-1.5 2.2l-2.4 -0.5l-1.3 -2zM351.2 36.8l-1.5 2.2l-2.7 0.6l-1.9 -1.9l-0.1 -2.7l2.5 -1.5l2.5 1zM394.4 38.4l-1.4 -2.6l2 -2.1l2.9 -1l2.6 1.9l-0.1 2.9l-2.9 1.2zM399.6 35l3.1 -0.6l2.4 1.6l0.2 2.5l-2 2.2l-3.1 -0.8l-1.6 -2.3zM423.1 38.5l-1.9 -2.1l1.6 -2.3l2.8 -0.7l2.7 1.2l0.1 2.7l-2.3 1.5zM359 46.5l-2 -1.3l-0.9 -2.6l1.4 -2.3l2.3 -0.5l1.7 2.2l-0.3 3zM385.5 45.6l-2.1 -1.9l0.7 -2.6l2 -1.8l2.8 0.8l0.8 2.7l-1.6 2.1zM404.6 40.5l2.8 -0.9l2.1 1.7l0.1 2.3l-2 1.9l-3.1 -0.7l-1.7 -2.3zM416.9 42.7l-1.1 2.7l-2.6 1.4l-2.4 -1.9l-0.3 -2.9l2 -2l2.7 0.3zM349.4 47.8l-0.1 2.4l-2.2 1.4l-2.8 -0.3l-1 -2.3l1.1 -2.2l2.7 -0.3zM401 49.7l1.6 -2.1l2.7 -1l1.7 2.3l-0.2 2.6l-2.2 1.4l-2.5 -0.7zM435.4 47.5l-0.4 2.5l-2.7 1.3l-2.8 -1.2l-0.9 -2.4l2 -1.8l2.9 -0.3zM456.3 49.4l0.7 -2.9l2.6 -1.2l2.5 1.2l0.7 2.7l-1.6 2.4l-2.9 0zM463.3 48.8l1.6 -2.3l2.6 0.8l1.6 2.2l-1.3 2.4l-2.3 0.7l-2.4 -1zM362 58.8l-1.1 -2.5l0.6 -2.9l2.9 -0.6l2.6 1.6l-0.2 3.1l-2 2.1zM402 56.9l-2.7 1.2l-2.4 -1.8l-0.1 -2.7l2.1 -1.7l2.9 0.2l1.2 2.4zM456 52.5l2.1 1.5l0.1 3.1l-1.4 2.3l-2.4 0.1l-1.2 -2.8l0.7 -2.9zM468.9 57.2l-1.9 -2.2l1.3 -2.4l2.7 -1.2l2.7 1.4l0.4 2.7l-2 2.1zM478.7 56.1l-1.6 2.2l-2.4 -0.6l-1 -2.5l0.7 -2.5l2.3 -0.9l1.9 1.6zM501.6 52l3.1 -1l2.8 1.6l0 2.8l-2.2 1.9l-2.9 -0.5l-1.6 -2.1zM475 58.3l0.5 2.8l-1.4 2.3l-2.9 0.6l-2.1 -2.1l0.5 -2.8l2.4 -1.6zM330.7 64.9l2.2 1.7l-0.7 2.7l-2 1.9l-2.3 -1.3l-1.2 -2.4l1.5 -2.3zM422.9 64.2l1.8 2.1l-0.6 2.9l-2.5 1.3l-2.1 -1.6l-0.7 -2.4l1.4 -2.3zM480.3 69l-2 2l-3.1 -0.1l-1.6 -2.6l1 -2.8l2.9 -0.4l2.4 1.3zM487.5 66.3l1.5 -2.1l2.5 0l1.4 2.2l-0.3 2.7l-2.3 0.8l-2.4 -0.8zM371.3 73.7l-0.1 2.5l-2.2 1.5l-2.5 -0.9l-1.3 -2.4l1.8 -2.1l2.7 -0.7zM433.4 71l2.4 2l-0.4 3.2l-2.7 1.8l-2.8 -1.4l-1.5 -2.7l1.9 -2.5zM453.4 69.8l1.6 2.1l-0.5 2.6l-2.1 1.2l-2.2 -0.9l-1 -2.6l1.6 -2.2zM371.2 77.8l2.6 0.6l1.1 2.1l-0.7 2.4l-2.7 0.9l-2 -1.7l-0.1 -2.4zM445.8 82.1l-0.5 -3.3l1.4 -2.7l2.6 -0.4l1.9 2.5l-0.4 3.5l-2.4 1.8zM453.5 80.9l-0.2 -2.7l1.7 -2.2l3 0.1l1.6 2.3l-1 2.4l-2.5 1.5zM491.5 82.2l-2.9 0.1l-1.2 -3l1.2 -2.7l2.6 -0.6l2.5 1.4l0.2 3.2zM382.7 90.3l-2.3 -1.5l0.3 -3.5l1.6 -2.5l2.5 0.7l1.3 3.1l-1.2 3zM344.9 96.2l-2.8 0.5l-2.2 -2l0.1 -3.3l2.4 -1.8l2.6 0.9l1.1 2.7zM392.8 88.7l2.6 1.5l0.3 3.4l-2.3 2.1l-2.6 -0.7l-1.6 -2.4l0.9 -3zM456.4 89l2.5 1.5l0 2.6l-2.4 1.6l-3 -0.4l-1.2 -2.4l0.8 -2.7zM444 107.7l-2.9 0.3l-1.6 -2.2l-0.1 -2.8l2.8 -0.8l2.5 0.8l0.9 2.5zM472.1 104.6l-0.7 2.4l-2.2 1.4l-2.4 -1.4l-0.2 -2.9l2 -1.8l2.6 -0.2zM353.3 107.6l2.4 0l2 1.7l-0.5 2.7l-2.5 0.8l-2.4 -0.8l-0.6 -2.5zM373.6 113.2l-0.8 -2.4l1.5 -2.3l3.1 0.1l2.4 1.9l-1.2 2.5l-2.4 1.4zM365.3 114.5l1.5 2.3l-0.7 2.9l-2.8 1l-2.2 -1.9l-0.5 -2.9l2.1 -2.1zM370.1 119.8l-1.2 -2.9l0.5 -3.2l2.5 -0.8l2.2 1.5l0.5 3.3l-2.1 2zM463.7 115l1.2 2.4l-1.1 2.4l-2.2 1l-2 -1.7l0.1 -2.7l1.5 -2.3zM364.6 122.5l-0.6 2.9l-2.8 1.2l-2.8 -1.3l-0.8 -3l2.4 -1.8l2.8 -0.1zM454.6 125.1l-2.6 1.4l-3 -0.8l-1.2 -2.5l1.6 -2.5l3.6 -0.4l2.3 2.1zM393.6 127l1.5 2.2l-1.3 2.5l-2.9 0.6l-1.7 -2l-0.4 -2.4l2.2 -1.6zM443.9 132.1l-2.6 0.9l-2.3 -1.6l-0.1 -2.9l1.9 -2l2.7 0.4l1.3 2.5zM444.7 130.6l0.4 -2.6l2.3 -1.2l2.8 0.4l1 2.8l-1.9 2.1l-2.7 0.4zM337.9 140l-1 -3.3l0.5 -3.4l2.6 -0.5l2.3 1.5l0.1 3.5l-1.7 2.8zM373.4 138.5l-1.8 -2.1l0.9 -2.4l2.8 -0.8l2.7 1l0.4 2.4l-2 1.5zM381.8 140.8l-1.3 2.1l-2.4 1l-2.2 -1.3l-0.8 -2.2l2 -1.8l3 0.2zM464.2 138.8l0.8 2.3l-1.4 2.2l-2.8 0.1l-1.5 -2.1l0.4 -2.4l2.2 -1.5zM399.5 156.9l-2.4 -1l-0.4 -3.1l1.5 -2.7l2.8 0l1.7 2.7l-0.6 3.3zM425 151.2l2.2 -1.7l2.9 0.3l1.2 3.3l-1.7 2.7l-2.8 0.7l-2.2 -2.2zM453.4 161.9l-3 0.3l-2.3 -1.6l0.2 -2.7l2.1 -2.1l3 0.9l1.3 2.6zM496.2 162l-3.3 0.5l-2.1 -1.9l-0.1 -2.4l2.4 -1.6l3.4 0.3l0.8 2.7zM379.5 167.8l-2.4 0.7l-2.3 -1.2l-0.2 -2.4l2.1 -1.3l2.4 0.3l1.6 1.9zM434.4 164.1l2.8 0.1l1.3 2.5l-0.8 2.5l-2.6 1.5l-2.3 -1.9l-0.2 -2.7zM358 171.6l1.6 -2.4l2.9 -0.8l2.6 1.8l-0.4 2.8l-2.2 2.3l-3.3 -1zM463.3 172.8l-0.9 2.9l-2.6 0.6l-2.2 -1.5l-0.2 -2.8l1.9 -1.9l2.5 0.3zM491.5 169.2l2.5 -0.3l1.8 1.7l0.4 2.8l-2 2l-2.4 -1l-1 -2.4zM335 180l0.2 -3.2l2.4 -0.9l2.2 0.9l0.5 2.8l-1.2 2.8l-2.5 -0.2zM343.6 175.4l2.9 0.7l1.5 2.5l-1.8 2.2l-3 1.1l-2.4 -2.1l0.3 -2.9zM372.7 180.3l-1.8 1.7l-2 -1.2l-0.9 -2.7l1.3 -2.4l2.2 -0.7l1.8 2.3zM399.6 176.4l2.7 0.6l1.9 1.9l-0.9 2.6l-2.8 0.6l-2.3 -1.3l-0.4 -2.4zM500.5 180.6l-2.3 0.4l-2.1 -1.6l0 -3.2l2.1 -1.8l2.6 0.5l1 3.1zM387.8 181.9l2.6 -0.7l1.4 2.3l-0.3 2.4l-2.2 1.2l-2.4 -0.9l-0.8 -2.4zM429.2 185.9l0.4 -2.5l2.7 -1l2.8 1l0.5 2.7l-1.8 2.2l-3.2 0.2zM444.9 188.7l-1.6 -1.9l0.2 -2.7l1.6 -2.1l2.1 1.2l1.1 2.6l-1.1 2.7zM491.2 194.9l-1.9 -1.9l0 -3.1l1.8 -2.2l2.4 0.9l1 2.9l-0.8 3.3zM505.1 187.6l1.9 1.7l0 3.1l-1.9 2.3l-2.4 -1.2l-0.8 -2.7l0.8 -2.7z" fill="#e4a4ac" fill-opacity="0.92" stroke="#e4a4ac" stroke-width="0.4" stroke-linejoin="round"/>
<path d="M408.2 21.6l-2.7 0.1l-1.6 -2.6l0 -3.4l2.2 -1.4l2.4 0.7l1.1 3.4zM382.8 22.4l2.9 0.6l1 2.6l-1.5 2.5l-3.3 0.3l-2.3 -2.1l0.6 -2.8zM445.1 32.9l0 -2.5l1.8 -1.7l2.7 0.1l1.7 2l-0.9 2.3l-2.6 0.7zM391.3 38.9l-2.5 1.4l-1.9 -2.7l0.2 -3.4l1.9 -1.9l2.3 0.7l1.4 2.9zM363.9 40.3l3 -0.2l2.5 1.8l-1.1 2.6l-2.4 1.6l-3 -1l-0.5 -2.5zM424.1 45.2l-2.5 0.7l-2.3 -1.6l0.1 -3.5l1.8 -2.2l2.6 -0.1l1.4 3.2zM456.5 40.3l2.5 1.7l-0.6 2.8l-3 1.4l-2.9 -1.3l-0.6 -2.5l1.5 -2.4zM507.6 42.1l-0.9 3l-2.6 1l-2.6 -1.7l-0.2 -3.7l2.3 -2.4l2.7 1.2zM386.8 51.7l1.4 2.1l-0.5 2.5l-2.1 1l-2 -1.3l-0.8 -2.5l1.7 -2zM457.4 62.4l-0.3 -2.6l2.4 -2l3.1 1l1.3 2.3l-1.4 2.2l-2.8 0.7zM360.3 67l-1.2 2.6l-3.4 0l-2.4 -1.7l-0.2 -2.8l3 -1.3l3.1 0.6zM347.9 71.9l1.8 1.6l0 2.2l-2.3 1.4l-2.6 -0.9l-1.2 -2.1l1.7 -1.8zM404.6 76.4l-2.9 -1.1l-0.5 -2.8l1.3 -2.3l2.8 -0.5l2.3 2l-1 2.7zM404.1 79.2l-1.8 2.5l-3.1 1.2l-2.2 -2.2l-0.4 -2.7l2.5 -1.6l3.1 0.3zM485.3 82.2l2.6 0.1l1.5 2.6l-0.4 3.3l-2.3 1.6l-2 -1.9l-0.8 -2.9zM428.8 95.2l3.3 -0.5l1.9 2.3l-0.6 2.5l-2.8 1.1l-2.8 -1l-1.4 -2.4zM351.2 107l-2.8 -1l-1.3 -2.5l2.2 -2l3.3 -0.3l1.9 2.2l-0.1 2.8zM366.9 105.9l-2.9 0.5l-1.5 -2.2l0.3 -2.5l2.8 -0.9l2.5 1.2l1.1 2.4zM466.2 104.3l-0.7 3.4l-2.4 0.7l-2.1 -1.4l-0.2 -3.1l1.4 -2.6l2.6 0.1zM422.1 113.1l-0.2 -3.1l1.6 -2.5l2.6 0.6l1.6 2.4l-1.1 2.7l-2.1 1.1zM433.6 120.4l-2.3 -1.1l-0.6 -2.6l2 -1.6l2.6 -0.2l1.2 2.2l-0.5 2.4zM457.5 113.8l1.3 2.5l-1 2.4l-2.9 1.1l-2.5 -1.7l-0.4 -2.6l2.3 -1.7zM475.1 114.8l2.7 0.6l1.4 2.1l-1.5 2l-2.5 0.8l-2 -1.5l-0.1 -2.3zM410.1 132.3l-2.8 0.2l-2.3 -1.3l0 -2.8l1.6 -2.5l2.7 1.1l1.9 2.3zM364.8 136.8l-1.7 1.9l-2.8 -0.2l-2 -1.9l0.7 -2.7l2.9 -0.7l2.5 1.1zM467.1 140.3l1.9 -2.3l2.6 -0.1l1.8 2.2l-0.3 3.2l-2.6 1.7l-2.6 -1.5zM477.3 138.4l2.4 1.8l0.3 3.3l-1.6 2.8l-2.8 -0.7l-1.9 -2.5l0.9 -3.3zM442.9 147.8l0.9 -3.3l2.6 -0.6l1.7 2.4l0 3.1l-1.7 2.6l-2.5 -1.1zM477.5 147.5l1.4 -2l2.5 -1.1l2.4 1.4l0.2 2.4l-2 1.7l-2.8 -0.4zM439.6 153.5l1 -2.9l2.3 -1.5l2.2 1.9l0.7 3.2l-2.1 2.1l-2.7 0.2zM457.4 158.7l2.5 -1.4l2.5 1.1l1 2.6l-1.6 2.2l-2.5 0.1l-2.1 -1.7zM331.3 168.5l-2.7 -0.8l-1.6 -2l1.6 -2l2.6 -0.8l2.1 1.6l0.4 2.5zM388.5 167l-1.6 2.7l-3 0.1l-1.6 -3.2l1.2 -3.1l2.4 -1.5l2.3 1.8zM403.8 167.8l-0.2 -2.8l3 -1.5l3.3 0.9l0.6 2.8l-1.7 2.2l-3.1 0.6zM343.1 173l-2.2 1.5l-2.7 0.3l-1.7 -1.9l0.6 -2.2l2.6 -1.2l2.6 1.1zM377.7 170.3l0.8 2.7l-0.5 2.9l-2.5 0.6l-2 -1.7l-0.1 -3l1.9 -1.9zM441 171.1l0.5 2.7l-1.7 2.1l-2.7 0.1l-1.5 -2.1l0.7 -2.3l2.1 -1.5zM407.3 174.9l2.8 0.9l1.1 3l-1.6 3l-3.2 0.4l-1.9 -2.7l0.5 -2.9zM482.9 175.7l2.3 1.3l0.9 2.5l-2 2.1l-2.9 -0.2l-1.8 -2.1l0.6 -2.7zM359.1 182.7l2.7 -0.6l2.4 1.2l0.8 2.5l-2.4 1.8l-3.1 -0.2l-1.4 -2.3zM404.9 187.4l-2.8 0.9l-2.5 -1.2l-0.4 -3l1.7 -2.4l2.8 0.2l1.6 2.4zM460.5 187.1l-2.9 0.8l-2.3 -1.8l0 -2.8l1.8 -2.3l2.8 0.8l1.7 2.4zM467.6 182.7l0.7 3.2l-1.2 3l-2.8 0.4l-1.8 -2.5l-0.1 -3.5l2.5 -1.6zM328 194.2l-2 -2.4l0.2 -3.1l2.7 -1.5l3.1 0.8l0.8 3.2l-1.6 2.8zM354.1 189.8l-0.1 2.5l-2.6 1.2l-3 -0.4l-1.5 -2.3l1.9 -2l3 -0.8zM423.2 187.8l1.3 2.7l-1.6 2.5l-2.7 0.2l-2.3 -1.8l0.4 -3.2l2.5 -1.5z" fill="#aa6264" fill-opacity="0.92" stroke="#aa6264" stroke-width="0.4" stroke-linejoin="round"/>
<path d="M413.7 14.8l2 1.7l0.2 2.5l-1.6 2.1l-2.8 -0.3l-1.4 -2.5l1 -2.6zM428.1 20.9l-2.9 -0.5l-1.2 -2.5l0.9 -2.5l2.7 -0.9l1.9 1.8l0.5 2.5zM460 18l1.8 -2l2.6 -0.6l1.7 2l-0.3 2.6l-2.1 1.7l-2.6 -1.1zM463.1 38l-0.1 -2.9l2 -2.1l3.1 0.1l1.5 2.4l-1 2.5l-2.7 1.3zM410.2 55.4l0.9 -2.5l2.4 -0.6l1.8 1.8l0.4 2.9l-2.2 1.6l-2.4 -0.6zM443.4 56.9l-1.5 2.6l-2.6 -0.7l-1.9 -2.3l0.9 -3.2l2.6 -0.7l2.4 1.1zM440.8 71.6l1.4 2.3l-0.9 2.6l-2.2 1.1l-2.3 -1.4l-0.2 -3.1l1.8 -2.2zM329.2 82.8l-2.4 -1.1l0 -2.8l1.6 -1.9l2.5 -0.3l1.3 2.5l-0.5 2.8zM331.8 83.7l2.4 0.5l1.2 2.6l-1.1 2.5l-2.3 1l-2.4 -1.5l0.1 -3.3zM370.8 87.7l-1.5 2.1l-2.2 -0.7l-1 -2.5l0.7 -2.8l2.3 -1.2l2 2.1zM388 84.4l1.9 -1.8l2.7 0l0.8 3.1l-0.7 3.2l-2.8 0.3l-2.3 -1.8zM409.7 88.9l-2.2 -0.8l-1 -2.3l1.3 -2.3l2.6 -0.6l1.8 2.2l-0.5 2.6zM428.6 86.6l0.9 -2.2l2.3 -1.1l2.4 1.1l0.5 2.4l-1.9 1.6l-2.7 0.3zM440.5 89.4l-2.9 0.2l-1.3 -3.1l0.5 -3l2.4 -1.1l2.5 1.1l0.3 3.2zM449.1 96.9l-0.5 2.7l-2.6 1.1l-2.6 -0.7l-1.1 -2.2l1.4 -2.3l2.9 0.1zM329.7 102.7l2.5 0.2l1.4 1.9l-0.4 2.5l-2.4 1.1l-2.2 -1.3l-0.5 -2.5zM498 101.7l2.3 1l0.8 2.8l-1.3 2.6l-2.5 0.7l-1.9 -2.3l0.6 -3zM494.5 107.3l1.7 2.1l-0.2 2.8l-2 1.6l-2.1 -1.1l-1.2 -2.4l1.4 -2.2zM369.9 118.7l1.8 2.2l0.1 3.2l-2.3 1.7l-2.6 -0.9l-0.8 -3l1.2 -2.8zM390.8 118.5l1.8 2.9l-1 3.1l-2.3 1.2l-2.7 -0.8l-0.6 -3.5l2 -2.2zM505.9 123l-1.2 2.5l-3.3 0.4l-2.8 -1.8l0.6 -2.9l2.7 -1.5l3.4 0.4zM351.1 131.9l-2.4 -0.1l-1.4 -2.2l0.4 -2.7l2.2 -1.4l2.2 1.3l0.3 2.8zM336.4 145.4l0.6 2.8l-1.4 2.6l-2.5 -0.6l-1.4 -2.1l0.2 -3l2.4 -0.8zM394.9 151.2l-2.7 -0.9l-0.5 -2.6l2.3 -1.7l3 0.2l1.2 2.2l-0.5 2.4zM427.8 149.7l-1.8 2l-2.8 -0.7l-1 -2.5l1.1 -2.3l2.7 -0.7l1.9 1.9zM511.1 146.8l-0.6 2.5l-2.3 1.5l-2.7 -0.9l-1.2 -2.1l1.5 -2l2.7 -0.7zM447.1 158.1l1.8 1.8l0 2.4l-2.6 0.9l-2.3 -0.7l-1.5 -2.1l1.9 -1.8zM335 161.3l2.7 0.3l1.1 3.2l-0.7 3.2l-2.3 1.3l-2.3 -1.7l-0.2 -3.6zM353.2 169.3l-3.1 0.2l-1.9 -2l0.6 -2.3l2.4 -1.4l2.8 1l1.2 2.4zM361.1 166.6l-1.3 2.2l-2.3 0.5l-2.3 -1.2l-0.1 -2.7l2.1 -1.7l2.5 0.7zM390 165.1l1.7 -2.1l2.5 -0.4l2.1 2l-0.8 2.9l-2.3 1.5l-2.6 -1zM416.2 175.7l-0.5 -3.2l1.5 -2.3l2.4 -0.9l1.3 3l-0.1 3.5l-2.4 0.9zM427.8 174.4l-2.8 1.3l-2.9 -0.9l-1.2 -2.5l1.9 -2.2l3 -0.2l2.1 1.9zM358.5 182.4l-2.7 -1.4l-0.2 -2.9l1.4 -2.7l3 0.3l1.6 2.4l-0.2 3.1zM470.8 177l0.9 2.8l-1.8 2.1l-2.2 0l-1.4 -2.4l0.8 -2.7l1.9 -1.3zM346.1 180.5l2.5 1.4l0.8 3.2l-2 2.4l-2.7 0.1l-1.8 -2.5l0.8 -3.1zM377.3 183.4l0.8 2.9l-2.3 1.9l-2.8 0l-1.4 -2.8l1 -2.8l2.6 -0.6zM346.8 188l1.3 2.8l-1.1 3.1l-3 0.5l-2.5 -1.9l-0.2 -3.5l2.6 -2zM388.5 189l2.1 -2l2.7 -0.1l1.5 2.6l-0.9 2.7l-2.4 1.6l-2.2 -1.9z" fill="#90dcc0" fill-opacity="0.92" stroke="#90dcc0" stroke-width="0.4" stroke-linejoin="round"/>
<path d="M436.1 14.9l2.1 1.9l-0.4 2.9l-1.9 1.7l-2.6 -0.4l-1 -2.8l1.4 -2.3zM364.2 24.2l1.3 -2.5l2.2 -0.8l1.7 1.9l0.1 2.9l-2 1.6l-2.2 -0.7zM419.3 23.7l-0.7 2.8l-2.5 1.8l-2.4 -1.9l-0.8 -2.9l2 -2.1l2.8 -0.2zM451.6 26.8l-1.6 -2.7l1.4 -2.7l2.4 -1.2l2 1.9l0.4 2.9l-2 2zM393.9 33.7l-2.5 -0.5l-1.8 -2.5l1.2 -3.1l2.6 -0.8l2.2 1.7l0.6 3.3zM404.6 31.6l0.3 -3.6l2.7 -1.2l2.6 0.7l0.9 3.2l-1.7 2.5l-2.6 0.4zM364 37.3l-2.2 1.9l-2.8 -0.6l-2.1 -1.7l1 -2.5l2.9 -0.8l2.7 1.1zM381.4 34.4l3.3 -0.5l2.3 2.1l-0.4 2.8l-3.1 1.2l-3.2 -0.8l-0.9 -2.6zM446.3 33.2l2.3 1.3l0.5 2.8l-2.4 1.6l-2.6 -0.4l-1.4 -2.2l0.8 -2.7zM333.1 44l0.2 -2.8l2.1 -2.1l3 0.7l0.8 2.7l-0.8 2.7l-3 0.7zM335.8 52.5l-2.9 0.4l-1.9 -1.7l-0.2 -2.4l2.1 -1.6l2.5 0.9l1.2 2zM375.4 54.3l0.7 2.4l-1.8 2.2l-3 -0.4l-2.1 -2l1.2 -2.4l2.5 -1.1zM413.3 63.3l-2.9 0.5l-1.7 -2.2l0 -2.5l1.9 -2l2.7 0.9l0.9 2.6zM347.1 69.8l-3.2 0l-2.5 -1.6l0.2 -2.8l2.8 -1.2l2.8 0.7l1.2 2.4zM407.8 74.1l0 -2.8l3.2 -1l2.9 1.1l0.5 2.6l-1.8 2.1l-3.3 0.4zM457.1 71.8l2.8 -0.6l1.7 2.1l0.2 2.6l-2.8 1.1l-2.7 -0.8l-1.5 -2.4zM510.6 75.9l-2.6 0.3l-1.8 -2.2l0.1 -3.3l2.7 -1.7l2.4 1.8l0.8 2.9zM388.9 80.7l-1.8 2l-3.2 0.2l-1.8 -2.3l0.8 -2.6l2.8 -1.3l2.7 1.4zM371.8 86.9l-0.5 -2.6l2.2 -1.6l2.9 -0.3l1.2 2.5l-0.6 2.6l-2.8 0.4zM444.2 83.2l2.4 0.5l1.5 2.3l-0.5 3.2l-2.1 1.8l-2.1 -1.8l-0.8 -3.2zM379 88.2l2.1 1.2l0.8 2.6l-0.8 2.8l-2.3 0.3l-2.1 -1.6l0.1 -3.4zM382.7 94.6l-1.4 -2.5l1.8 -2.2l2.6 -0.4l2.3 1.5l0 2.7l-2.4 1.5zM480.7 92.2l-1.8 2.5l-3.1 -0.2l-1.6 -2.4l0.3 -2.9l2.8 -1.6l3 1.4zM486.9 91l0.8 2.2l-1.5 2.1l-3.2 0.3l-1.6 -2.1l0.4 -2.2l2.5 -1.1zM344.3 99.5l-2.3 1.3l-2.6 -0.3l-1.3 -2.1l1 -2.4l2.9 -0.2l2.4 1.3zM476.5 99.4l-2.7 1.2l-2.4 -1.4l-0.9 -2.4l2 -1.9l2.8 0.4l1.9 1.8zM494.9 96.4l1.5 1.9l-1.1 2.2l-2.7 0.8l-2.4 -1.5l0.1 -2.4l1.9 -1.8zM456 107.5l-3 -0.1l-1.3 -2.5l0.5 -2.8l3 -0.9l2.4 1.6l0.1 2.6zM504.2 101.8l2.5 0l1.2 2.6l-0.3 3.2l-2.7 0.9l-2.4 -1.6l-0.6 -3.3zM480.4 107.7l2.3 1.4l0.4 2.3l-1.6 1.8l-2.7 0.2l-1.7 -2l0.8 -2.3zM500.2 108.9l2.8 0l2.1 1.7l-0.5 2.5l-2.7 0.9l-2.6 -0.9l-1.3 -2.4zM328.7 119.2l-2.3 -1.8l0.4 -2.9l2.8 -1.3l2.9 0.9l0.6 2.7l-1.3 2.5zM349.1 118.8l-1.2 -3.1l2.1 -2.5l2.9 0l1.8 2.5l-0.4 3.3l-2.7 1.6zM402.2 115.8l0.3 2.9l-1.9 1.5l-2.1 -0.3l-0.9 -2.5l0.7 -2.6l2.1 -0.4zM437.8 126.9l-2 -2l0.4 -2.9l2.4 -1.8l2.9 1.1l1 3.1l-1.9 2.4zM476.3 124.3l-2.1 1.5l-2.7 -0.2l-1.3 -2.4l1.4 -2.2l2.4 -0.5l2.2 1.2zM508.9 125.1l-2.6 -0.5l-1.4 -2.6l1.3 -2.9l3 -0.5l2.2 2.1l0.1 3.1zM343.7 131.3l-1.8 -2.2l1 -2.8l2 -1.8l2.1 1.7l0.3 2.8l-1.1 2.7zM401.9 126.1l2.2 1.9l-0.9 3l-2.2 1.2l-2.2 -1l-1.2 -2.9l1.8 -2.6zM468.9 132.4l-2.5 -1.4l-0.7 -2.3l1.7 -1.9l3 -0.1l1.8 2l-0.6 2.4zM485.5 126.9l0.7 2.8l-2 2l-2.9 0.2l-1.3 -2.6l0.6 -2.6l2.5 -1.2zM440.7 133.1l1.6 2.4l-0.7 3l-2.2 1.5l-2.5 -1.2l-0.5 -3.7l1.7 -2.9zM396.1 141.2l0.6 2.6l-2.8 1.4l-3.1 -0.5l-1.4 -2.3l1 -2.7l3.4 -0.1zM414.7 150.9l1.4 2.5l-0.8 2.8l-2.2 0.9l-2.1 -1.1l-0.4 -2.9l1.6 -2.4zM468.3 151.5l2.9 0.3l1.5 2l-1 2.1l-2.4 0.8l-2.5 -0.9l-0.6 -2.4zM479.2 151.7l1.2 2.7l-1 2.9l-2.6 0.5l-1.9 -2l-0.3 -3.2l2.2 -1.7zM482.3 151.8l2.6 -0.9l1.6 2.3l-0.2 2.7l-2.3 1.8l-2.4 -1.4l-0.7 -2.4zM504.6 151.6l2.8 0.9l0.6 2.6l-1.7 2.2l-3 0.1l-2.1 -2l0.9 -2.5zM392.8 159l2 -2l2.9 0l1.6 2.3l-0.3 3l-3.1 0.8l-3.1 -1zM407.1 161.1l-2.6 1.6l-3.1 -0.6l-1 -2.5l1.4 -2.1l2.8 -0.6l2.5 1.5zM413 170l-3.1 -1.6l-0.5 -2.9l2.1 -2.2l3.3 0l1.7 2.3l-0.8 2.5zM474 163.5l2.6 -1l2.2 1.6l0.1 2.6l-1.8 2l-2.9 -0.2l-0.9 -2.5zM497.2 163.8l2.8 1.1l0.7 2.6l-1.9 2.1l-3.1 0.3l-2.2 -2.2l1.1 -2.6zM507.2 175.7l-2.4 -2.2l0.7 -3.2l2.3 -1.7l2.7 1l0.8 2.9l-1.3 2.6zM445.5 181.2l-2.5 1.5l-2.5 -1l-1.1 -2.7l1.5 -2.4l2.6 -0.7l1.8 2.2zM366.6 188.1l-1.2 -2.4l0.8 -2.5l2.7 -0.4l2.4 1.1l0 2.5l-1.8 1.9zM474.4 183.3l0.9 2.8l-1.6 2.3l-2.3 0.3l-1.4 -2.3l0.2 -3.1l2.2 -1.5zM375.9 190.4l0.6 -2.9l2.3 -0.4l2.1 1.3l0 3l-1.7 2.2l-2.3 -0.8zM383.7 194.2l-2.3 -1.6l0.5 -2.4l2.2 -1.5l3.1 0.5l1.2 2.5l-1.6 2.3zM438.6 191l1.9 -2.1l3.1 -0.6l2.4 1.9l-0.2 2.9l-3.1 1.2l-2.9 -1zM446.7 190.6l1.1 -2.3l2.8 0.3l1.8 1.6l-0.1 2.4l-2.4 1.4l-2.7 -0.9zM452.1 193l-0.2 -2.9l1.5 -2.4l2.7 0.1l1.4 2.3l-0.3 2.9l-2.6 0.8z" fill="#96dc96" fill-opacity="0.92" stroke="#96dc96" stroke-width="0.4" stroke-linejoin="round"/>
<path d="M444.4 16.4l1.6 2l-0.6 2.3l-2.7 0.7l-2.3 -1l-1.2 -2.2l2.2 -1.8zM408.1 21.1l3 0.1l1.6 2.4l-0.9 2.7l-2.8 0.7l-2.9 -1l0.1 -2.9zM440.8 25.4l-1.9 2l-2.4 0.2l-1 -2.9l0.7 -2.8l2.1 -1.2l1.9 1.7zM331.3 34.2l-2.5 -1.4l-1.4 -3l1.8 -2.8l2.6 -0.1l1.8 2.1l-0.1 3.2zM363.8 34.9l-2.1 -1.9l0 -3.4l1.7 -2.5l2.2 1.2l1.1 2.5l-0.7 2.9zM362.6 48.4l0.7 2.3l-1.7 1.8l-2.5 0l-1.5 -1.9l0.5 -2.3l2.3 -1.4zM394.3 57.6l-3 1l-2.2 -2.1l-0.4 -2.9l1.9 -2.4l2.9 0.7l1.9 2.5zM392.5 58.5l0.7 3.3l-1.2 3.2l-2.9 0.4l-2.2 -2.4l0.7 -3.3l2.1 -2zM494.4 64.5l-2.9 -1.4l-0.2 -2.9l1.8 -2.4l3.4 0l1.6 2.6l-0.9 2.6zM374.6 69.2l-2.5 1.1l-2 -2l-0.5 -2.9l2.2 -1.8l2.5 0.8l1.3 2.3zM343.9 75l-1.6 2.1l-2.7 -0.7l-1.3 -2.1l0.7 -2.4l2.6 -0.6l2.3 1.2zM355.5 70.8l1.5 2.6l-0.7 3.1l-2.3 1l-1.9 -1.5l-0.4 -2.8l1.4 -2.4zM424.3 69.9l1.9 2.4l-0.1 3.3l-1.8 2.7l-2.7 -1.1l-1.2 -3.2l1.5 -2.8zM349.3 83.2l1.3 2.3l-0.5 2.7l-2.2 1.5l-2 -1.7l-0.7 -2.6l1.5 -2.2zM419.6 83.3l1 3.5l-1.3 3l-2.5 0.7l-2.4 -1.8l0.4 -3.5l2 -1.9zM374.5 90.6l0.7 3.1l-1.9 2.2l-2.4 -0.2l-1.4 -2.4l0.4 -3.2l2.6 -1.4zM425.7 94.7l-1.6 -2.7l1 -3.3l2.7 -0.9l1.9 2.1l0.7 3.1l-2.1 2.3zM468 90.9l2.3 -1.3l2.6 0.8l1.3 2.2l-1.7 2.1l-2.8 0l-2 -1.5zM389.4 102.1l-2.1 -0.7l-1.2 -2.2l0.7 -2.5l1.9 -1.1l2 1.2l0.3 3.1zM484.1 96.4l-0.2 2.6l-2.2 1.7l-3.1 -0.3l-1.5 -2.3l1.4 -2.3l2.9 -0.9zM429.4 105.3l-2.3 1.3l-2.6 -0.7l-1.2 -2.5l1.9 -2.1l2.6 -0.2l1.9 1.7zM448.9 108.4l-2.4 -1.2l-0.5 -2.6l2.1 -1.8l2.6 0.4l1.3 2.1l-0.6 2.5zM438.1 118.5l-0.9 -3.1l1.9 -2.7l3.1 0l1.8 2.6l-0.5 3.1l-2.7 1.4zM480.8 115.5l3 -1.2l2.8 1.1l1.3 2.5l-2.3 2l-3 0l-2.1 -1.8zM373.9 124.9l-0.3 -3l1.3 -2.5l2.8 -0.3l2 2.4l-1 2.8l-2.1 1.5zM337.4 131.3l-2.5 -0.8l-0.6 -2.8l2 -1.8l2.6 -0.3l1.6 2.2l-0.7 2.6zM364.8 144.5l-1.6 -2l-0.2 -2.5l2.3 -1.2l2.5 0.7l0.9 2.4l-1.3 2.1zM483.1 145.7l2.4 -1.9l2.9 0.7l1.5 2.7l-1.5 2.5l-2.6 0.9l-2.1 -1.9zM389 163l-2.8 -0.4l-1.8 -2.6l1.7 -2.7l2.7 -1.4l2.6 2l0.2 3.4zM397.7 164.3l1.9 -1.1l1.9 1.3l0.6 3l-1.8 1.9l-2.3 0.4l-1 -2.9zM451.4 162.8l2.2 2.1l-0.3 3l-3.1 1l-2.8 -0.9l-0.7 -2.5l1.4 -2.4zM483.3 171.3l2 -1.9l2.9 0.9l1.2 2.2l-1.4 2.1l-2.6 0.5l-2.2 -1.4zM362.4 193.6l-1.4 -2.5l1.5 -2.6l3 -0.2l2.4 1.7l-0.6 2.8l-2.1 2.2zM467.9 193.3l-2.8 -1.6l1.1 -2.6l2.6 -1.6l3.4 0.8l0.9 2.8l-1.9 2.5z" fill="#6cc06c" fill-opacity="0.92" stroke="#6cc06c" stroke-width="0.4" stroke-linejoin="round"/>
<path d="M467.4 18.1l1.5 -2.6l2.8 -0.6l2.1 1.9l0.2 3.1l-2.6 1.7l-3 -0.7zM358.1 24.8l0.5 -2.8l2 -1.9l2.4 1.3l0.4 3.2l-1.5 2.2l-2.5 0.6zM424.1 20.5l2.8 0.9l1 2.9l-0.9 2.8l-2.4 1.3l-2.3 -1.9l-0.1 -3.2zM459.3 28.5l-3 -1l-1 -2.3l1.3 -2.1l2.8 -0.4l2.3 1.5l-0.3 2.4zM338.4 29.9l-0.6 2.6l-2 1.3l-2.3 -1.2l-0.4 -3.2l1.7 -2.3l2.6 0zM382 31.8l0.2 -3.2l2.3 -1.8l2.7 1.1l1 3.2l-1.6 2.8l-2.6 -0.1zM418.1 27.8l2.3 -1.2l1.9 2.2l0 3.1l-1.8 2l-2.6 -0.2l-0.8 -3.2zM365.7 38.7l-1.7 -2.1l1 -2.4l2.6 -0.6l2.4 1.1l0.3 2.4l-1.7 1.9zM377.4 35.4l0.6 2.8l-1 2.8l-2.4 0.4l-1.6 -2.5l0.5 -3.1l1.8 -2zM407.3 39.3l-0.8 -3.2l1.2 -3l2.9 -0.3l1.7 2.4l0.1 3l-2.2 1.8zM330.8 40.1l1.1 2.5l-0.6 2.5l-2.2 0.9l-2.1 -1.2l-0.2 -2.6l1.6 -1.7zM400.8 46.8l-2.4 0l-1.3 -2.6l0.7 -2.9l2 -1.6l2.1 1.5l0.4 3.1zM484.7 45.9l-2.9 0.5l-1.8 -2.2l0.2 -2.6l2.1 -2.2l3.1 1.1l0.9 3zM380.8 45.5l2.9 0.7l1.2 2.2l-0.7 2.6l-3.1 0.5l-2.7 -1.5l0.4 -2.6zM443.1 48.9l1.8 -2.1l2.5 -0.3l1.9 1.8l-0.6 2.6l-2 1.7l-2.7 -0.8zM358.4 51.5l1.4 2.5l-0.6 2.4l-2.3 1.6l-2.5 -1.5l-0.9 -2.7l2 -2zM421.3 59.6l-1.9 -1.8l0 -3l1.6 -2l2.2 0.3l1.1 2.7l-1.1 2.7zM436 52.9l1.2 2.4l-0.7 2.4l-2.5 1l-2.1 -1.6l-0.1 -2.4l1.5 -2.2zM461.4 58.4l-1.6 -2.3l0.6 -2.9l1.9 -1.4l2.2 0.9l0.6 2.9l-1.2 2.8zM337.1 63.4l-0.3 -3l2 -2.2l2.8 0.5l0.9 2.9l-0.9 2.6l-2.5 0.9zM358.8 62.9l-0.1 -2.9l2.1 -1.7l2.6 0.3l1.9 2.3l-1.3 2.7l-2.7 0.5zM433.9 60.9l-0.1 2.4l-2.8 1.4l-3.2 -1l-0.8 -2.6l2 -2.1l3.3 -0.1zM462.9 59.5l2.6 -0.9l2.7 0.7l0.9 2.5l-2 2l-2.8 -0.2l-2.2 -1.6zM340.1 66.3l-0.3 2.8l-2.5 1.5l-2.9 -0.8l-0.9 -2.8l1.5 -2.4l3 -0.8zM348.4 66.5l2.2 -1.8l2.9 1l1.5 2.3l-1.5 2.4l-3.1 0l-2.6 -1.4zM366 71.4l-2.3 -1.1l-1.1 -2.1l1.6 -1.9l2.6 -0.3l1.6 1.8l-0.4 2.1zM335.3 70.1l1 2.8l-0.8 2.6l-2 0.9l-2.2 -1.1l-0.4 -3.2l1.9 -1.9zM396 71.4l1.9 2l0.3 2.8l-2.5 1.3l-2.6 -0.6l-0.9 -2.4l1 -2.4zM332.9 79.9l0.7 -3l2.9 -0.9l2.6 1.3l1 2.9l-2.2 2.2l-2.9 -0.3zM353.4 78.8l-0.7 2.9l-2.9 1l-2.9 -1l-0.5 -3l2.1 -2l2.9 0zM418 79.8l-0.4 2.8l-3 1l-2.8 -0.8l-0.8 -2.4l1.2 -2.5l3.5 -0.2zM430.7 80.3l-1.4 2.4l-3 0.9l-2.2 -1.8l-0.2 -2.3l2 -1.9l3.1 0.4zM476 83.8l2.8 -1.7l2.8 1.3l0.9 2.4l-1.1 2.6l-3.3 0.2l-2 -2zM495.4 81.7l2.5 1.9l-0.5 3.4l-2 2.2l-2.9 -0.3l-1.3 -3.4l1.6 -2.9zM366.4 93.5l-2.5 1.1l-2.6 -1.1l-0.7 -2.7l1.8 -2.3l2.8 0.5l2.1 1.9zM458.7 93.5l0.5 -2.9l2.5 -0.9l2.4 1l0.8 2.8l-1.8 2.1l-2.6 0.3zM355.2 102.1l-2.6 -0.3l-1.3 -2.2l0.5 -2.7l2.8 -1.1l2.3 1.9l0.3 2.7zM363.5 96.2l1.5 2.1l-1.4 2.4l-2.6 0.2l-2.1 -1.6l-0.1 -2.8l2.4 -1.3zM340.7 101.3l2.8 -0.7l2.1 1.7l0.6 2.7l-2.2 1.8l-2.7 -0.4l-1.6 -2.3zM386.9 114.2l-1.4 -2.3l0.9 -2.3l2.4 -1.5l2.3 1.7l0.2 2.5l-1.6 2.1zM432.7 114.2l-2.6 -0.3l-1.1 -2.8l0.6 -3l2.4 -0.6l2.2 1.3l0 3.1zM441.9 112.2l0.5 -2.6l2.7 -1l2.9 0.5l0.5 2.3l-1.1 2.3l-3.3 0.3zM449.9 109.5l1.7 -2.9l2.6 -0.7l1.8 2.8l-0.4 3.6l-2.2 2.1l-2.3 -1.7zM390.3 116l1.5 -2.5l2.6 0.1l1.9 1.7l-0.4 2.7l-2.1 1.1l-2.3 -0.6zM416.6 114.1l1.3 2.7l-1.3 3l-2.6 0.7l-1.7 -2.4l0 -3.2l2.1 -1.7zM350.2 120l0.6 2.5l-1.1 2.5l-3.4 0.3l-2.1 -1.9l-0.2 -2.7l2.9 -1.5zM415.5 125.8l-1.3 -2.5l0.8 -2.8l2.3 -0.8l2.1 1.4l-0.1 2.7l-1.5 2zM424.2 125.4l-2.3 -1.6l0 -2.5l2.1 -1.9l3.2 0.5l1.1 2.5l-1.1 2.3zM454.8 124l0.4 -2.5l2.6 -1.4l2.8 1l1.6 2.3l-2 2.2l-3.2 0.3zM479 120.3l2.4 0.8l0.6 2.3l-1.4 1.9l-2.4 0.2l-2.1 -1.6l0.6 -2.5zM368.9 128l2.4 -0.8l2.6 1l0.2 2.5l-1.8 2l-2.8 -0.6l-1.5 -1.9zM488.5 131.4l-1.3 -2.5l0.7 -2.6l2.3 -1l2.4 1.2l0.5 2.9l-2 1.9zM496.9 131.5l-1.3 -2.9l1.8 -2.5l2.7 -0.5l1.8 2.5l-0.4 3.1l-2.4 1.3zM504.6 126.6l2.2 0.4l1 2.2l-0.7 2.5l-2.5 0.5l-1.8 -1.7l0 -2.5zM429.1 137.7l-1.4 -2.5l0.1 -3.2l2.6 -1.4l2.4 1.6l0.5 3.1l-1.7 2.3zM472 137.6l-1.3 -2.8l1.5 -2.7l2.9 -0.2l2.5 1.5l-0.6 2.8l-2 1.8zM343.1 137.2l2.7 1l0.5 3.3l-1.3 2.9l-2.8 -0.1l-1.9 -2.2l0.3 -3.3zM359.9 139l0.8 2.7l-0.9 2.6l-2.5 0.6l-1.9 -1.8l-0.3 -2.8l2.2 -1.3zM429.8 140.7l-1.3 2.5l-2.3 0.4l-1.9 -1.7l0.1 -2.9l2 -1.8l2.4 0.7zM456.7 144.6l-2.4 0.8l-2 -1.8l-0.3 -3l2 -1.9l2.3 0.9l1.3 2.3zM485.4 138.6l2 2.5l0 3.6l-2.7 1.6l-2.7 -1.1l-0.7 -3l1.1 -2.9zM491.2 144.1l-2.4 0.2l-1.7 -2l0.5 -2.6l2.1 -1l2 1l0.9 2.3zM507.2 139l2.1 2.1l-1 3l-2.5 1.3l-2.1 -1.7l-0.9 -2.9l2 -2.2zM407.9 146l2.6 -1.2l3 0.4l1.1 2.3l-1.3 2.2l-3.1 0.6l-2 -1.9zM432.2 150.7l-2.3 -0.3l-1 -2.6l1 -2.8l2.5 -0.4l2.1 1.7l-0.3 2.9zM463.2 146l2.3 -1.8l3.3 -0.3l1.6 2.4l-0.3 2.8l-3.4 0.9l-3.2 -1.2zM473.2 151.5l-2 -1.9l-0.1 -2.7l1.8 -2l2.7 0.4l1 2.6l-0.8 2.5zM493.9 150.3l-2.6 -1.8l-0.2 -2.9l2.7 -1.6l3.3 0.2l1.3 2.7l-1.2 2.7zM503.3 145.4l0.9 2.3l-1.3 2.3l-2.7 -0.2l-1.9 -1.5l0.1 -2.5l2.4 -1.3zM349.6 155.9l-1.5 -2.2l0.3 -2.6l3 -0.5l2.4 1l0.7 2.3l-1.9 1.7zM386.1 155.7l-2.8 0.3l-1.3 -2.3l0.6 -2.3l2.3 -0.9l2.2 1.1l0.9 2.4zM496.7 150.6l2.6 1.3l0.4 2.6l-1.5 2l-2.7 0.4l-1.9 -2.1l1 -2.5zM347.5 162.3l-2.7 0l-1.4 -2.4l0.8 -2.6l2.7 -0.4l2.5 1l0.1 2.7zM369.6 163l-2.6 1.3l-2.4 -1.6l-1 -2.9l2.1 -2.2l2.8 0.5l2.1 2zM433.4 163l-2.6 -0.1l-1.1 -2.8l0.4 -2.8l2.1 -1.6l2.3 1.6l0.5 3.3zM462.8 158.4l2.2 -1.9l2.9 0.7l0.9 2.9l-1.2 2.8l-2.9 0.5l-1.8 -2.2zM502.4 156.8l2.2 1.5l0.9 3l-1.8 2.3l-2.5 0.1l-1.6 -2.4l0.1 -3.4zM440.1 163.7l2.6 -1l2.4 1.5l0.1 2.4l-2.2 1.5l-2.6 -0.6l-1.5 -1.9zM459.5 167.8l-2.7 1l-2.9 -0.7l-0.1 -2.7l1.6 -2l2.9 -0.2l2.3 2zM495.2 165.9l-0.5 3l-2.6 1.3l-2.5 -1l-1.4 -2.5l1.8 -2.4l2.8 -0.1zM386.3 181.4l-2.2 -0.9l-1.1 -2.4l0.6 -2.9l2.4 -0.7l1.8 1.8l0 2.7zM411.8 177l2.9 -1.4l2.8 1.8l-0.1 2.8l-2 1.8l-3.2 0l-1.5 -2.5zM447.9 174.7l2.6 -0.7l2.1 2l-0.3 3.1l-1.9 2.1l-2.7 -0.5l-1.1 -3.1zM415.9 189.7l0.4 3.5l-2.3 2l-2.5 -0.6l-1.1 -2.8l0.7 -3.1l2.6 -1z" fill="#8cd8d2" fill-opacity="0.92" stroke="#8cd8d2" stroke-width="0.4" stroke-linejoin="round"/>
<path d="M338.2 26.5l-2.1 -1.7l0.5 -2.4l2.2 -1.4l2.4 1l1 2.2l-1.5 1.9zM419.6 34l0.6 3l-1 2.4l-2 0.7l-2 -1.6l0 -3.3l2.2 -1.3zM369 42.3l2 -2.4l2.8 -1l2.3 2.3l-0.4 3.1l-2.3 2.2l-2.9 -1.3zM370.6 49.8l-2 2.4l-3.1 -1.1l-2.1 -2.2l1.5 -2.7l2.9 -0.7l2.3 1.5zM375.2 52.1l-2.8 -0.7l-1.6 -2.6l1.5 -2.8l3.1 -0.2l2.1 1.9l-0.1 2.8zM412.4 49.8l-1.5 2.2l-2.7 0.4l-1.6 -2.1l-0.2 -2.6l2.5 -1.4l2.3 1.2zM440.9 48.6l-0.1 3.2l-2.7 1.9l-2.7 -1.3l-1.5 -2.4l1.7 -2.4l2.9 -0.8zM454 51.4l-2.1 1l-1.9 -1.6l-0.2 -2.8l1.6 -1.9l2.2 0l1.4 2.5zM480.6 45.9l2.7 1.6l0.7 3.2l-2.3 1.9l-2.9 0.4l-1.2 -2.8l0.3 -3zM499.5 51.1l-0.1 -2.2l1.9 -1.7l2.8 0.5l1.6 2.2l-1.4 2.3l-3 0.5zM506.4 51.8l-1.6 -2.4l1.5 -2.6l2.8 -0.5l1.9 1.8l0.2 2.6l-2.1 1.7zM327.3 57.5l0.7 -2.8l2.3 -1.6l2.9 0.7l0.6 2.7l-1.3 2.3l-2.9 0.9zM374.5 59.4l3.1 0.1l1.2 2.7l-1.7 2.2l-2.8 1l-2.2 -1.9l0.2 -2.6zM415.9 58.7l2.3 -1.3l2.6 1.1l0.4 3.7l-1.9 2.3l-2.4 0l-1.6 -2.5zM421.9 59.8l1.7 -1.7l2.5 0.4l0.4 2.7l-1 2.2l-2.2 0.8l-1.6 -2zM441.7 61.5l0.9 -2.9l2.6 -1.1l2.3 1.8l0.2 2.9l-1.6 2.8l-3 -0.7zM404 69.1l-2 2.3l-3.2 -0.3l-1.6 -2.5l0.5 -3l3.2 -0.4l2.9 1zM404.9 66.5l2.6 -1l2.2 1.6l0.3 2.5l-2 1.8l-2.9 -0.3l-1.2 -2.3zM415.8 66l0.2 2.8l-1.8 1.9l-2.5 -0.4l-1.3 -2.2l0.4 -2.8l2.7 -0.8zM385.5 71.8l-0.2 3l-2.3 1.4l-2.2 -1l-0.8 -2.4l0.8 -2.7l2.5 0.1zM505.4 73.4l-0.9 2.5l-2.4 1l-2.6 -0.9l-0.9 -2.6l1.9 -2.2l2.9 0.2zM396.7 81l-1.4 2.2l-3 0l-1.6 -2.1l0.2 -2.6l2.7 -1.3l2.8 1.2zM404.5 81.3l-0.7 -2.7l1.8 -2.1l2.4 0.2l1.2 2.3l-0.4 2.8l-2.3 0.7zM474.8 87.2l-1 2.7l-2.6 0.3l-1.6 -2.2l0.2 -2.8l2 -1.7l2.4 1zM502.1 89.7l-2.1 -0.9l-0.9 -2.4l0.9 -2.5l2.3 -0.5l1.5 2l0.2 2.8zM359.3 87.9l1.7 2.6l0.1 3.4l-2.3 2l-2.7 -1.2l-0.6 -3.4l1.3 -2.6zM443.8 88.6l2.6 2l-0.4 2.9l-3.2 1.2l-3.3 -0.7l-0.9 -2.7l1.6 -2.5zM450.4 90.2l1.1 2.4l-0.5 2.6l-3.1 0.7l-2.5 -1.5l-0.2 -2.6l2.4 -1.4zM502.4 93.2l0.1 -2.6l1.8 -1.6l2.5 0.2l1.5 2.3l-1.1 2.6l-2.6 0.4zM459.7 95.7l2.5 2.1l-0.3 2.8l-2.4 2l-3 -1l-1.6 -2.4l1.7 -2.3zM375.8 107.2l-1.2 -2.2l1.3 -2.2l2.8 -0.5l2.5 1.4l0.1 2.7l-2.7 1.3zM504.6 111.3l0.7 -2.5l2.5 -1.2l2 1.7l1 2.5l-2.1 1.7l-2.4 -0.3zM432.2 114.2l0.3 2.9l-1.8 2.4l-3.6 -0.1l-1.9 -2.3l0.1 -2.9l3.5 -1.1zM394.6 126.9l-1.6 -2.6l0.6 -2.9l3.2 -1.2l3.2 1.3l0.4 3l-2.3 2zM365.6 132.2l-3.1 0.1l-1.2 -2.7l0.5 -2.8l2.9 -0.6l2.4 1.2l0.3 2.7zM385.2 126.5l2.5 0.6l2 1.9l-1 2.7l-2.3 1.4l-2.3 -1.6l-0.7 -2.8zM480.6 127.7l-0.7 3.1l-2.3 1.8l-2.8 -1l-0.9 -3.2l1.8 -2.6l2.7 0zM353.2 132.7l2.5 -0.6l2.5 1.1l-0.3 2.6l-1.8 1.6l-2.5 -0.3l-1.5 -2.1zM364.7 137.9l-0.1 -3.4l1.8 -2.2l2.4 0.3l1.5 2.6l-1 2.9l-2.3 1.3zM396.4 138.5l-2.3 -1.7l-0.1 -2.3l2 -1.6l3.1 -0.1l0.9 2.5l-0.6 2.5zM332.5 142.4l0.9 -3l2.7 -1.1l2.4 1.5l0.7 2.8l-1.9 2.3l-3.1 0.1zM397.6 141.1l1.6 -2.3l3.1 -0.5l2.3 2.1l-0.3 3l-2.9 1.2l-3.1 -0.6zM412.8 145.5l-2.1 -1.9l-0.4 -3.3l2.1 -1.8l2.3 0.3l1.4 2.5l-1 2.7zM430.9 142.3l0.6 -3.5l2.6 -0.6l1.9 2.1l0.5 3.5l-2 2.5l-2.4 -1.2zM494.2 141.3l1 -2.3l2.8 -0.7l2.5 1.5l0.2 2.7l-2.3 1.8l-3.3 -0.1zM357.1 145.6l0.7 2.5l-1 2.5l-2.3 0.4l-1.6 -2l0.2 -2.8l1.9 -1.3zM376.7 150.8l-2.3 -1l-1.1 -3l1.1 -3.4l2.7 0l2.1 2.2l-0.6 3.4zM401.9 144.3l2.1 -0.6l1.9 1.8l-0.3 3.1l-1.9 1.6l-2.4 -0.5l-0.7 -3.1zM438 153.5l-1 3l-2.5 0.4l-2 -2.3l0.5 -3.5l2.2 -1.7l2.1 1.4zM336.5 160.3l0.8 -2.7l2.2 -1.4l2.3 1.5l0.1 2.8l-1.3 2.4l-2.7 -0.1zM361.7 162.2l-2.3 -1.3l-0.5 -2.6l1.6 -2.4l2.9 0.5l2 2.2l-0.9 2.8zM379 162l-2.3 2.1l-3.4 -0.7l-1.3 -2.6l1.2 -2.8l3.5 -0.6l2.9 1.8zM419.7 160l-0.5 2.7l-2.1 1.6l-2.5 -1l-0.6 -3l1.7 -2.1l2.5 -0.7zM507.3 161l-1.2 -2.2l1.8 -2l2.9 -0.3l1.7 2l-0.6 2.2l-2.2 1.1zM341.2 167l-0.1 -2.9l1.8 -2l2.7 0.1l1.6 2.7l-1.2 2.8l-2.6 1.2zM424.3 165l2.5 -1.7l3.2 -0.2l2 2.2l-1.2 2.5l-2.9 1l-2.5 -1.3zM336.5 173.5l-2.1 1.9l-2.7 -0.6l-1.7 -2.2l1.5 -2.2l2.4 -0.8l2 1.4zM346.6 174.6l-2.4 -2.2l0.9 -2.9l3.1 -1l3 1.1l1 2.7l-2.4 1.8zM393.5 182.8l-2 -2.5l-0.7 -3.5l2.1 -2.5l2.6 0.7l1.7 2.9l-1.2 3.4zM409.2 186.5l-1.4 -2.3l1.7 -2.1l2.9 -0.6l2.1 1.8l0.3 2.7l-2.8 1.3zM415.6 181.6l3.4 0.2l1.5 2.5l-0.5 2.9l-3.3 0.9l-2.9 -1.5l-0.2 -2.9zM490.1 183.1l0.7 2.9l-2.2 2l-2.8 -0.4l-1.5 -2.8l1.4 -2.7l2.5 -0.6zM429.4 193.9l-2.6 -0.9l-1.3 -2.6l1.4 -2.6l2.7 -0.2l1.9 1.7l0.1 2.8z" fill="#cc98e2" fill-opacity="0.92" stroke="#cc98e2" stroke-width="0.4" stroke-linejoin="round"/>
<path d="M353.3 27.5l-1 -2.6l0.5 -3.1l2.4 -0.6l1.8 1.8l0.1 2.9l-1.5 2.5zM430.9 22.7l2.7 0.6l0.5 2.5l-1.7 2l-2.8 -0.3l-1.7 -1.7l0.6 -2.2zM360.2 32.2l-1.3 3.1l-2.6 -0.6l-1.8 -2.5l0.6 -3.6l2.5 -1l2.2 1.6zM403.5 33.3l-2.9 1.6l-3 -1.4l-0.2 -3.2l1.5 -2.5l2.8 0l1.9 2.2zM494.5 29.1l2.6 -1.7l3.1 -0.3l1.5 2.9l-1.2 2.8l-2.9 1.3l-2.4 -2zM438.7 40.1l-2.9 -0.9l-1 -3.1l1.7 -2.7l3 -0.1l2 2.2l-0.5 2.9zM461 39.9l-2.6 -0.2l-1.6 -2.1l1.1 -2.3l2.4 -1.1l2.6 1.3l0.3 2.9zM376.4 44l0.2 -2.8l1.9 -2.1l2.8 0.8l1.4 2.4l-1.2 2.4l-2.6 0.9zM389.9 40.9l3.2 -0.2l2.3 1.9l-0.3 2.8l-2.6 1.6l-3 -0.9l-1.2 -2.6zM436.1 41.3l1.2 2.2l-1 2.4l-2.5 0.5l-2.1 -1.6l0.4 -2.6l1.8 -1.9zM442.9 39.8l2.4 1.7l-0.2 2.5l-2.3 1.3l-3.1 0l-1.2 -2.5l1.3 -2.4zM393.6 50.1l-1.4 2.4l-3.2 0l-2 -1.7l-0.2 -2.6l2.8 -1.2l2.7 0.9zM337.6 53.1l1.9 2.3l-0.9 2.4l-2.7 1.2l-3 -1l-0.8 -2.6l2.1 -1.9zM342.1 51.9l2.6 -1.3l2 2.5l0.4 3.6l-2.2 1.8l-2.5 -0.4l-1.6 -3zM407.2 52l2.2 1.6l0.1 2.8l-1.8 1.9l-2.4 -0.6l-1.3 -2.2l0.5 -2.8zM494.8 54.3l-0.1 2.7l-2.3 1.5l-2.6 -0.7l-1.6 -2.3l1.4 -2.7l3 -0.2zM342.9 61.4l0.7 -2.6l2.9 -1.3l3 1.1l0.6 2.6l-1.8 2.1l-3 -0.4zM385.8 62l-2 1.9l-2.6 0l-1.2 -2.9l0.9 -2.9l2.5 -1.3l2.2 2zM399.7 62.6l-2.7 0.9l-2.9 -0.6l-0.7 -3l1.9 -2.2l2.7 -0.1l1.9 2zM450.9 63.9l-1.7 -2.1l0 -2.9l2.3 -1.2l2.4 0.5l0.7 2.8l-1.4 2.1zM489.7 63.7l-1.9 1.9l-2.1 -1.5l-1.1 -2.7l1.6 -2.5l2.4 -0.3l1.7 2.2zM503.8 63.6l2.4 -0.2l2 1.6l-0.2 3.1l-1.6 2.5l-2.4 -0.9l-1.3 -2.9zM417.5 76.5l-2.7 -0.8l-1 -2.9l1.3 -2.5l2.4 -0.5l2.1 1.7l0 3zM473.6 71.5l1.5 2.2l-0.1 2.9l-2.2 1.8l-2.4 -1.4l-0.7 -2.9l1.2 -2.8zM496.6 75l-2 2.3l-2.7 -0.5l-1.8 -2.3l1.1 -2.8l2.4 -1.3l2.3 1.6zM353.4 80.2l2.1 -2l2.7 -0.4l1.8 2l-0.1 2.6l-2.5 1.5l-2.9 -0.8zM437.2 79.7l-0.1 2.7l-2.9 1.3l-3.3 -0.6l-1.2 -2.7l2.2 -2l3 -0.2zM442.2 75.8l2.6 1.4l-0.2 3.2l-2.4 1.6l-2.7 -0.5l-1.5 -2.7l1.2 -3zM361.8 82.9l2.2 1.5l1 3l-2 2.2l-2.6 0l-2.1 -2.3l0.9 -3.3zM455 87.2l0.8 -2.5l2.1 -1.3l2.3 1l1.3 2.4l-2 1.9l-2.5 0.2zM509.2 89.1l-2.6 0.5l-1.5 -2.4l0.4 -2.7l2.4 -1.7l2.6 1.4l0.7 2.9zM375.4 93.9l1.9 2.3l-0.2 3.5l-2.2 1.8l-2.7 -0.7l-0.6 -3.6l1.2 -3.1zM499.4 97.6l0.7 -2.8l2.6 -0.4l2.1 1.6l-0.3 2.8l-1.7 2.1l-2.4 -1.1zM358.2 102.1l2.3 0.4l1.4 3l-1.4 3l-2.4 1l-1.7 -2.4l-0.3 -3.2zM373.5 107.3l-2.8 1.1l-2.8 -1.1l-0.9 -2.9l2.1 -2.6l3.6 0l2.2 2.6zM479.4 105.8l-1.7 2.3l-2.5 -0.5l-1.7 -2l0.7 -2.8l2.3 -1.2l2.1 1.5zM343.9 113.3l-0.4 -2.5l1.5 -2.1l2.7 0.1l1.4 2.2l-0.4 2.5l-2.5 1.4zM371.2 111.6l-2.2 1.8l-2.9 0.3l-1.7 -2.2l0.4 -2.7l2.9 -0.6l2.6 0.9zM489 107l1.9 2.2l0.3 3.2l-2.2 1.5l-2.3 -0.5l-1.3 -2.7l1.2 -2.8zM501.7 117.4l-0.7 -2.6l2.4 -1.9l3.2 0.4l1.4 2.2l-0.9 2.3l-2.8 0.9zM431 118.7l2.4 1.4l0 3.4l-1.8 2.1l-2.6 0l-1.5 -2.9l1.1 -2.9zM409.8 129.8l0.8 -3.1l2.5 -0.4l2.3 1.4l-0.1 3.3l-1.9 2l-2.3 -0.5zM438.6 130.3l-2.6 1.1l-2.7 -1.1l-0.5 -2.6l1.7 -2l2.9 -0.2l1.7 2.2zM460.4 131l0.1 -3.3l2.5 -1l2.5 0.8l0.6 3.4l-1.7 2.6l-2.7 0.4zM456.7 136.7l-1.7 -2.1l1.4 -2.4l2.6 -1.1l2.1 1.9l0.1 2.6l-2 1.6zM408.7 143.3l-1.9 1.2l-2.3 -0.6l-0.7 -2.8l1.5 -2.3l2.4 0.1l1.8 1.8zM418.4 139.7l2.9 -0.5l2 1.8l0.8 2.8l-2.5 1.9l-2.7 -1l-1.2 -2.3zM338.3 150.6l1.8 1.7l0.1 2.2l-1.6 2l-2.6 -0.8l-1.3 -2.1l0.8 -2.5zM344.9 156.9l-3.4 0.3l-2.4 -2.1l0.2 -3l2.9 -1.5l3 1l1.3 2.7zM491.3 156.6l-2 -1.3l-0.6 -2.6l2.1 -1.7l2.4 0.5l1.5 2.1l-1.1 2.2zM379.9 160.3l1.1 -2.4l2.6 -1l2.3 1.9l-0.1 3l-2.2 1.8l-2.7 -0.7zM412.2 160.7l-1.3 2.3l-2.4 -0.6l-1.7 -1.9l0.7 -2.7l2.4 -0.7l2.2 1.1zM425.9 156l2 1.9l0.3 2.6l-2.4 1.5l-3 -0.4l-1.2 -2.5l1.3 -2.4zM369.3 169.9l-1.4 -2.7l0.8 -3.1l2.6 -1.3l2.6 1.8l0 3.6l-1.9 2.7zM442.5 174.8l-1.5 -2.6l1.6 -2.6l2.9 -0.8l2.3 2.1l-0.6 2.9l-2 2zM451.1 169.6l2.6 0.2l1.7 2.2l-0.4 3l-2.6 0.9l-2.1 -1.3l-1.1 -2.6zM476.2 171.4l2.4 -1.9l2.6 1.3l1.8 2.3l-1.7 2.5l-2.9 0.3l-2.5 -1.6zM500.3 174.4l-0.4 -2.8l1.4 -2.5l2.5 0.3l1.2 2.8l-0.8 3l-2.2 1zM419.4 181.7l-2.4 -2.1l0.1 -3l3.1 -1.6l3.4 1.1l1 2.8l-2 2.1zM394.5 187.6l-1.2 -2.7l1.3 -2.5l2.5 -0.4l2 1.4l0.3 2.8l-2.2 1.6zM434.8 186.5l0.2 -2.9l1.7 -2.4l2.1 1.6l1 2.8l-1.1 2.8l-2.4 0.6zM449.8 183.1l2.7 -1.2l2.5 1.3l0.8 2.8l-1.7 2.4l-2.7 -0.1l-2 -2zM478.5 181.6l2.7 0.7l1.1 2.5l-1.1 2.5l-2.6 0.4l-1.9 -1.7l0.2 -2.4zM360.9 191.6l-2.1 2l-3 0.1l-2.2 -2l0.5 -2.8l3 -0.9l2.6 1.1z" fill="#dce29c" fill-opacity="0.92" stroke="#dce29c" stroke-width="0.4" stroke-linejoin="round"/>
<path d="M394.1 24.3l1.4 -2.4l2.9 0.3l1.6 2l-0.5 2.5l-2.5 1.5l-2.4 -1.5zM448.8 35.8l1.3 -2.3l2.4 -0.8l1.7 2.5l-0.7 2.9l-1.9 2.1l-2.1 -1.7zM510.8 60.4l-0.1 2.6l-1.8 1.9l-2.6 -0.7l-0.5 -2.8l1.2 -2.1l2.3 -0.9zM447 64.2l2.5 0.5l1.3 2.7l-1.3 2.6l-2.4 0.7l-2.1 -1.7l-0.2 -3.1zM482.3 73.1l-0.5 3l-2.4 1.2l-2.4 -1.1l-0.8 -2.9l1.5 -2.6l2.8 0.1zM345.6 101.5l-1.6 -2.2l0.2 -3l2 -1.7l2.4 0.9l0.6 3l-1.2 2.8zM355.9 115l2.8 -0.4l1.8 2.1l-0.1 2.7l-2.3 1.7l-2.4 -1.4l-1 -2.4zM411.2 137.8l-3 0.1l-2.3 -1.7l-0.1 -3.2l2.7 -1.8l2.8 1.1l1.2 2.7zM417.6 132.3l2.5 1.2l1.2 2.6l-1.6 2.4l-2.7 0.2l-1.9 -1.9l0.1 -2.9zM449.4 131.8l2.5 -1.3l2.4 1.6l0.4 3.3l-1.9 2.2l-2.4 -0.4l-1.4 -2.3zM364 147l0.4 2.6l-2.5 1.8l-3.2 -0.6l-2 -2.3l1.3 -2.8l3.5 -0.2zM469.9 168.5l-2.3 -1.2l-0.8 -2.2l1.6 -1.8l2.7 -0.6l1.8 2.1l-0.7 2.5zM407.5 172.9l-1.6 2.4l-2.8 0.4l-2.1 -1.6l-0.3 -2.6l2.4 -1.8l2.8 1zM506 174.7l1 2.7l-0.8 2.8l-2.3 1l-2 -1.9l-0.2 -3.2l1.9 -2.2zM369.7 187.8l2.7 -1.3l2.6 1.6l0.2 3.1l-1.5 2.7l-3.1 -0.2l-1.5 -2.8zM494.3 189.7l1.5 -2.1l2.2 0.5l0.9 2.6l-0.5 2.9l-2.2 1.1l-1.9 -1.9z" fill="#c080dc" fill-opacity="0.92" stroke="#c080dc" stroke-width="0.4" stroke-linejoin="round"/>
<path d="M473.3 28.4l-2 -1.5l-0.5 -3l2 -2.1l2.6 0.4l0.8 2.7l-0.8 2.4zM337.3 34.2l2.3 -1.6l2.3 1.2l1.3 2.8l-1.8 2.5l-2.4 0.3l-1.7 -2.1zM429.8 34.6l2.6 -1l2.6 1.5l-0.3 3.2l-1.7 2.6l-2.7 -1l-1.4 -2.4zM347.9 43.4l-1.6 1.9l-2.6 0.2l-1.9 -1.4l0.1 -2.1l2.1 -1.5l2.6 0.9zM491.9 39.1l2.6 2l0.2 2.6l-2 1.9l-3.1 -0.3l-1.6 -2.3l1 -2.4zM342 50.5l-2.5 1l-1.9 -1.8l0.1 -2.4l1.8 -2l2.6 1l1.6 2.2zM356.7 46.9l0.7 2.6l-1.1 2.3l-2.4 0.8l-1.6 -2.2l0.3 -2.7l1.8 -1.7zM483.8 70.5l-1.6 -2.4l0.4 -2.9l2.2 -1.3l2.1 1.3l0.8 2.6l-1.2 2.6zM385.6 73l1.6 -1.9l2.5 -0.1l1.5 2.1l-0.6 2.4l-2.1 1.1l-2.5 -0.8zM483 73.1l2.1 -2.3l3 0.5l1.5 2.7l-1.4 2.6l-2.4 1.1l-2.2 -1.7zM507.8 78.4l0.3 3l-2.4 2l-3.2 -0.5l-1.1 -2.6l0.6 -2.7l3 -1zM340.6 90.7l-2 -2l-0.3 -2.9l1.7 -2.6l2.9 0.5l1.1 3.1l-0.7 3.2zM434.1 96.4l-2.4 -1.6l-0.4 -3l2 -2l2.6 0.2l2 2.4l-1.3 3zM435.8 99.8l-1.5 -2l1 -2.4l2.7 -0.3l2.2 1.2l0.3 2.5l-2.3 1.6zM358.1 110.8l1.1 -2.7l2.4 -0.6l1.8 2.2l0.2 3.4l-2.4 1.4l-2.6 -0.3zM378.6 111.1l-0.2 -2.8l2.3 -1.6l2.8 0.4l0.7 2.8l-1 2.5l-2.7 0.5zM473.7 116.9l-1.4 2.5l-2.4 0.2l-1.4 -2.3l0.3 -2.9l1.9 -2l2.1 1.6zM491.7 113.6l2.6 1.7l-0.2 3.2l-2.2 1.9l-2.9 -0.2l-1.6 -2.9l1.5 -2.8zM409.3 124.4l-1.2 -1.9l0.7 -2.3l2.8 -0.3l2.4 1.1l-0.2 2.3l-1.9 1.5zM385.5 135.4l0.6 -2.7l2.7 -1.4l3.1 1.1l1 2.9l-2.3 2.1l-3.2 0.3zM348.4 145.6l1 2.9l-1.3 2.6l-2.3 0.7l-2.2 -1.8l0.2 -3.4l2.2 -1.8zM379.7 150.6l-1.4 -2.3l0.7 -2.3l2.5 -0.9l2.5 1l0.8 2.5l-1.9 2.2zM461.6 145.9l0.6 3.1l-1.2 2.7l-2.4 0.2l-1.8 -2.1l0.5 -3l1.9 -2.1zM333.4 154.5l-2.7 1.6l-3.4 0.3l-1.7 -2.7l1.3 -2.7l3 -1l2.9 1.4zM391 152.2l2.5 -0.9l2.5 0.9l1 2.6l-2.1 2l-2.9 0.2l-1.4 -2.3zM403.3 152.5l2.8 -1.1l2.5 1.5l0.8 2.8l-2.2 2.1l-2.9 -0.3l-2.2 -2.1zM483.8 160.2l0.8 -2.8l2.1 -0.9l2.1 1.2l0.2 3l-1.6 1.9l-2.3 0.4zM330.2 174.3l1.9 1.9l0.5 3.2l-1.9 2.3l-2.4 -0.8l-1.2 -2.6l0.8 -2.9zM509.4 188.3l-2.9 -0.3l-1.3 -2.3l0.5 -2.5l2.4 -0.9l2.6 1l0.3 2.8zM401.6 192.9l-2.6 0.7l-2.1 -1.6l0 -2.4l2 -1.5l2.7 0.2l1.1 2.4zM403.3 189.3l1.6 -2.1l2.9 0.5l1.5 2.2l-1.3 2.3l-2.6 0.7l-2 -1.5zM480.4 188.5l0.4 3.3l-2.2 2.2l-2.9 -0.3l-1.1 -3.1l1 -3l2.5 -0.7z" fill="#e8b4bc" fill-opacity="0.92" stroke="#e8b4bc" stroke-width="0.4" stroke-linejoin="round"/>
</g>
<rect x="327.8" y="15.8" width="169.2" height="169.7" fill="#000" filter="url(#grain)" opacity="0.22"/>
<ellipse cx="407" cy="104.5" rx="14" ry="10.5" fill="#000" fill-opacity="0.35"/>
<line x1="320" y1="168.4" x2="320" y2="193.3" stroke="#222" stroke-width="1.5" />
<line x1="319.3" y1="192.6" x2="343.8" y2="192.6" stroke="#222" stroke-width="1.3" />
<text x="317.2" y="180.6" font-size="8.30" text-anchor="middle" fill="#222" transform="rotate(-90 317.2 180.6)">50 μm</text>
<text x="332.5" y="200.8" font-size="8.30" text-anchor="middle" fill="#222">50 μm</text>
<text x="512.5" y="11.6" font-size="14" font-weight="bold">C</text>
<text x="602" y="7.7" text-anchor="middle">Sample recorded traces</text>
<text x="521.8" y="105" font-size="10.10" text-anchor="middle" transform="rotate(-90 521.8 105)">Fluorescence [ΔF/F<tspan font-size="6.7" dy="2">0</tspan><tspan dy="-2">]</tspan></text>
<path d="M619.9 33.6V29.9M613.8 33.6V28.3M541.3 33.6V28.1M673 33.6V26.4M634.8 33.6V29.9M635.8 33.6V28.5M593.3 33.6V26.7M541.8 33.6V27.3M534 33.6V28.4M599.1 33.6V31M630.5 33.6V29.1M618.4 33.6V26.2M566.6 33.6V32.5M573.1 33.6V27.9M558.9 33.6V31.4M660.4 33.6V28M593.5 33.6V26.4M576.9 33.6V27.9M558.3 33.6V29.6M646 33.6V26.2M656.7 33.6V29.9M613.8 33.6V30.4M549.4 33.6V29.1M650.5 33.6V26.7M632.3 33.6V25.9M569.6 33.6V31.4M594.7 33.6V30.7M560.6 33.6V29.7M620 33.6V29.1M575.2 33.6V26.7M671.4 33.6V29.4M540.5 33.6V32.4M655.6 33.6V32.3M632 33.6V28.6M574.3 33.6V27.1M532.5 33.6V31.6M595.3 33.6V32.4M649.4 33.6V30.9M550 33.6V32.3M620.5 33.6V29.5M620.6 33.6V28M646.2 33.6V25.9M628.5 33.6V31.2M598.3 33.6V31.3M531.3 33.6V29.3M632.8 33.6V31.3M569 33.6V30.2M630.3 33.6V29M618.4 33.6V27.3M586.5 33.6V27.1M660.5 33.6V32M664.3 33.6V27.5M548.4 33.6V29.4M620 33.6V26.2M584.1 33.6V28.6M656.6 33.6V27M666 33.6V29.4M623.7 33.6V31.2M633.9 33.6V26.9M622.3 33.6V27.6M560.5 33.6V26.3M671.2 33.6V25.8M607.2 33.6V27.1M575.9 33.6V26.2M653.2 33.6V30.2M541.6 33.6V29.5M609.1 33.6V27.2M600 33.6V32.4M646.5 33.6V32.2M645.1 33.6V31.4M578 33.6V27.1M550 33.6V31.6M604.2 33.6V27.5M650.9 33.6V27.8M666.2 33.6V29.2M666.7 33.6V32M561.7 33.6V28.9M571.6 33.6V27.5M621.9 33.6V28.9M651.4 33.6V28.7" fill="none" stroke="#abde5e" stroke-width="0.6" stroke-opacity="0.45"/>
<path d="M595 33.6V23.3M663.1 33.6V25.4M603 33.6V22.6M556.3 33.6V24.4M620.6 33.6V17.1M543.3 33.6V28.5M542.8 33.6V16.6M629.8 33.6V31.5M671.4 33.6V11.8M624.1 33.6V21.9M552.4 33.6V31.6M605.9 33.6V31.4M557.1 33.6V29.4M534 33.6V25.5M593.3 33.6V15.6M604.6 33.6V21.3M601.8 33.6V20.7M595.7 33.6V28.9M673.7 33.6V10.7M650.9 33.6V19.5M575.2 33.6V29.6M571.4 33.6V31.3M640.3 33.6V26.7M651.9 33.6V27M667.9 33.6V15.5M529.8 33.6V29.9M661.1 33.6V25.3M671.2 33.6V26.8M540.2 33.6V21.6M642 33.6V29M542.3 33.6V28M668.8 33.6V18.1M546.7 33.6V29.4M544.3 33.6V31.4M644.7 33.6V30.3M610.4 33.6V25.8M557.2 33.6V18.9M548.6 33.6V21.2M546.5 33.6V26.3M560.4 33.6V29M669.8 33.6V16.8M573.6 33.6V14.3M560.1 33.6V26.9M653 33.6V21.3M544.2 33.6V11M560.5 33.6V29.2M641.2 33.6V28.1M572.5 33.6V31.3M542.7 33.6V22.7M564.8 33.6V22.3M583.3 33.6V25.7M668.1 33.6V25M612.6 33.6V14.9M556.1 33.6V30.5M660.8 33.6V16.4M565.7 33.6V30.1M636.4 33.6V12.6M558.1 33.6V12.3M657 33.6V22.2M590.5 33.6V31M535.3 33.6V11.8M564.1 33.6V19.6M566.8 33.6V16.2M615.8 33.6V28.6M555 33.6V19.2M539.6 33.6V29.6M610.4 33.6V15.3M618.3 33.6V28.9M662.1 33.6V29.9M532.1 33.6V29M594 33.6V31.4M555.1 33.6V27.3M612.3 33.6V30.8M582 33.6V14.1M671.2 33.6V20.9M629.4 33.6V22.7M550 33.6V31.5M532.3 33.6V13.5M630.8 33.6V11.8M532.8 33.6V21.4M599.3 33.6V18.9M575.7 33.6V10.6M540.6 33.6V23.6M636 33.6V13.9M636.1 33.6V19.6M644.2 33.6V13.4M580.5 33.6V20.1M659.7 33.6V14.8M589.9 33.6V17.2M654.3 33.6V23" fill="none" stroke="#abde5e" stroke-width="0.7" stroke-opacity="0.8"/>
<polyline points="529.2,33.4 529.9,34 530.7,34.1 531.4,32.8 532.1,33.8 532.9,34.4 533.6,34.1 534.3,33.5 535,33.3 535.8,33.5 536.5,33.1 537.2,33.5 538,33.5 538.7,33.5 539.4,34.1 540.2,33.5 540.9,32.9 541.6,34.1 542.3,33.1 543.1,33.4 543.8,33.5 544.5,33.4 545.3,33.1 546,33.5 546.7,34.6 547.5,33.3 548.2,33.5 548.9,34.1 549.6,33.9 550.4,33.9 551.1,34 551.8,32.7 552.6,33.2 553.3,33.7 554,33.8 554.8,34.2 555.5,33.8 556.2,33.5 556.9,33.6 557.7,33.5 558.4,33.7 559.1,33.9 559.9,33.4 560.6,33.2 561.3,33.2 562.1,34.1 562.8,34.2 563.5,34 564.2,34 565,34 565.7,33.6 566.4,33.9 567.2,33.1 567.9,33.5 568.6,33.3 569.4,33.9 570.1,33.3 570.8,33.6 571.5,33.8 572.3,34.2 573,33.2 573.7,33.2 574.5,34 575.2,33.1 575.9,33.8 576.7,33.3 577.4,33.6 578.1,32.8 578.9,33.9 579.6,33.4 580.3,33.2 581,34.5 581.8,33.9 582.5,35.2 583.2,33.8 584,33.4 584.7,33.6 585.4,34.3 586.2,33.6 586.9,33.8 587.6,33.8 588.3,33.2 589.1,33.7 589.8,33.4 590.5,33 591.3,34 592,33.9 592.7,33.6 593.5,33.2 594.2,32.7 594.9,33.8 595.6,33.6 596.4,32.8 597.1,33.6 597.8,32.9 598.6,33.6 599.3,33.7 600,33.8 600.8,33.7 601.5,33.7 602.2,33.1 602.9,33.4 603.7,33.4 604.4,33.5 605.1,33.7 605.9,33.9 606.6,34.3 607.3,32.4 608.1,33.8 608.8,33.5 609.5,34.6 610.2,34 611,32.9 611.7,33.8 612.4,33.4 613.2,34 613.9,33.1 614.6,33.6 615.4,33.5 616.1,33.6 616.8,33.3 617.5,32.8 618.3,33.8 619,34 619.7,33.6 620.5,33.1 621.2,33.7 621.9,33.9 622.7,33.5 623.4,33.6 624.1,34.2 624.8,33.1 625.6,33.3 626.3,32.7 627,33.3 627.8,33.3 628.5,33.2 629.2,33.3 630,34.4 630.7,33.5 631.4,33.5 632.2,34.6 632.9,33.6 633.6,32.8 634.3,33.8 635.1,33.2 635.8,34.3 636.5,33 637.3,33.3 638,32.9 638.7,33.6 639.5,33.1 640.2,33.6 640.9,33.4 641.6,33.3 642.4,34 643.1,34 643.8,33.6 644.6,33.2 645.3,33.1 646,33.7 646.8,34.7 647.5,33.4 648.2,33.2 648.9,33.3 649.7,33.1 650.4,33.2 651.1,33.5 651.9,34.2 652.6,33.6 653.3,33.4 654.1,32.9 654.8,33.7 655.5,33.6 656.2,33 657,33.1 657.7,33.6 658.4,34.1 659.2,33.9 659.9,33.7 660.6,33.5 661.4,33.7 662.1,33.6 662.8,34.6 663.5,33.1 664.3,33.4 665,34.2 665.7,33.5 666.5,34.2 667.2,33.6 667.9,33.7 668.7,33.4 669.4,33 670.1,33.2 670.8,34.6 671.6,33.9 672.3,33.9 673,34 673.8,33.9 674.5,34.1" fill="none" stroke="#abde5e" stroke-width="1.5" />
<path d="M608.2 54.5V46.7M669.2 54.5V45.7M645.8 54.5V52.7M608.6 54.5V44M541.8 54.5V52.5M636.1 54.5V42.7M541.9 54.5V45.9M550.5 54.5V44.6M623.4 54.5V50.6M561.5 54.5V44.3M605 54.5V44.3M586.6 54.5V49.4M669.4 54.5V45.4M600.9 54.5V47.1M633.7 54.5V45M661.7 54.5V48.6M648.9 54.5V45.5M652.9 54.5V43.8M650 54.5V42.8M667.9 54.5V45.8M605.3 54.5V45M645.5 54.5V48.4M590.4 54.5V51.7M636.7 54.5V41.6M583.9 54.5V51.5M559.2 54.5V48.4M571.8 54.5V41.9M538.2 54.5V49.8M546.3 54.5V45.7M641.7 54.5V51.3M538.7 54.5V48M614 54.5V42.6M534.9 54.5V52.2M556.3 54.5V50.9M563.7 54.5V44.9M615.5 54.5V50.8M556.4 54.5V50.1M554.6 54.5V44.4M574.7 54.5V46.9M647.6 54.5V47.7M567.3 54.5V42.9M661.6 54.5V49.4M608.7 54.5V42M599.3 54.5V50.8M536.9 54.5V42.1M645.3 54.5V48.9M605.8 54.5V47.3M569.3 54.5V41.6M624.6 54.5V50.6M531.3 54.5V47.8M583.3 54.5V43.9M632.6 54.5V46.2M552.4 54.5V51.6M576.1 54.5V50.4M655.1 54.5V47.3M621.6 54.5V41.6M568.2 54.5V47.1M551.4 54.5V44.3M529.9 54.5V43.6M651.8 54.5V43.6M541.6 54.5V50.3M633.1 54.5V52.3M599 54.5V47.9M667.6 54.5V46.5M653.4 54.5V49.9M643.6 54.5V48.5M662 54.5V52.4M648.9 54.5V51M608.1 54.5V47.2M552.4 54.5V43.5M574.6 54.5V49.8M540.7 54.5V49.8M597.1 54.5V44.9M581.6 54.5V45.3M545 54.5V48.8M596.3 54.5V41.9M649.4 54.5V45.7M531.5 54.5V49M632.2 54.5V50.7M611.1 54.5V48M531.2 54.5V41.6M645.1 54.5V51M618.6 54.5V50M584 54.5V47M572.7 54.5V49.5M586.3 54.5V45.5M566.7 54.5V51.1M635.2 54.5V49.5M666.1 54.5V46.7M634.1 54.5V49.5M649 54.5V52.4M550 54.5V52.4M627.5 54.5V45M555.7 54.5V48.7M650.5 54.5V46.4M542.7 54.5V50.8M552.4 54.5V52M588.4 54.5V52.6M662.5 54.5V48.4M603.5 54.5V45.7M640.4 54.5V43.6M585.4 54.5V49.5M589.2 54.5V53.3M587.5 54.5V45.1M671.4 54.5V44M625 54.5V46.2M532.4 54.5V49.5M579.1 54.5V45.7M545 54.5V49M603.2 54.5V44M648.8 54.5V46.2M552.5 54.5V44.3M660 54.5V46.9M580.6 54.5V47.5M550.2 54.5V44.9M672.1 54.5V47.3M632.9 54.5V43.5M558.2 54.5V42.2M620.2 54.5V51.1M541.7 54.5V50.6M612.9 54.5V45.1M577.2 54.5V42.4M581.8 54.5V47.9M547.6 54.5V41.8M549.3 54.5V42.7M608.1 54.5V46.8M610.6 54.5V50.3M660.9 54.5V41.6M647.7 54.5V46.3M547.4 54.5V43.6M571.3 54.5V42.7M564.5 54.5V46.6M649.6 54.5V51.3M608.8 54.5V52.6M534.3 54.5V51.3M672.1 54.5V42.2M624.7 54.5V49.8M626.6 54.5V44.6M584.8 54.5V46.4M645.7 54.5V53.3M558.5 54.5V47.9M550.3 54.5V48.9M611.9 54.5V51.4M604.7 54.5V50.3M611.7 54.5V49.5M622.3 54.5V53M626.5 54.5V51.8M668.1 54.5V46.3M597.5 54.5V48.6M619.7 54.5V45.2M639.1 54.5V44.5M599.8 54.5V41.6M650.7 54.5V43.2M588.7 54.5V48.3M611.4 54.5V42.6M605.6 54.5V47.2M592.1 54.5V42.6M576 54.5V52.8M634.4 54.5V42.7M635.3 54.5V46.3" fill="none" stroke="#6cc680" stroke-width="0.6" stroke-opacity="0.6"/>
<path d="M617.9 54.5V52.3M666.1 54.5V48M605.7 54.5V44.6M582.5 54.5V50.1M624.2 54.5V45.4M570.6 54.5V41.9M572.4 54.5V52.5M565.1 54.5V52.4M552.3 54.5V41M586 54.5V37.4M637.7 54.5V52.4M672.4 54.5V36.1M540.3 54.5V37.1M591.7 54.5V47M670.1 54.5V50.6M605.2 54.5V36.3M634 54.5V47.2M670.9 54.5V39.5M616.8 54.5V51.9M619.8 54.5V47.4M559.1 54.5V52.3M605.9 54.5V51.9M593.6 54.5V43.1M595.4 54.5V50.4M613.7 54.5V48M642 54.5V46M673.7 54.5V35.8M635.7 54.5V50.7M546.1 54.5V37.5M642.9 54.5V44M581.5 54.5V50.3M628.6 54.5V45.3M615.1 54.5V43.8M638.4 54.5V51.2M565.6 54.5V35.1M661.8 54.5V37.9M535.4 54.5V52.3M568.8 54.5V47.9M619.6 54.5V52M607.9 54.5V52.2M542.2 54.5V42.9M609.2 54.5V43.9M583.6 54.5V47M560.1 54.5V49.2M637.2 54.5V38.9M540.4 54.5V51.9M646.5 54.5V44M640.6 54.5V51M590.9 54.5V50.4M646.6 54.5V48.8M624 54.5V34.8M576.7 54.5V45.6M637.4 54.5V36.7M591.4 54.5V48.8M543.7 54.5V38M541 54.5V52.2M611.1 54.5V46.8M628.6 54.5V49.9M641.6 54.5V52.2M560.5 54.5V43.2M541.5 54.5V49.8M634.3 54.5V42.5M570.5 54.5V51.7M581.3 54.5V41.7M582.6 54.5V51.9M632 54.5V45.2M662.2 54.5V36.2M661.5 54.5V47.7M645.6 54.5V49.8M575.5 54.5V48.4M664.6 54.5V37.4M565.5 54.5V49M582.5 54.5V48.9M586.8 54.5V48.5M557.8 54.5V45.3M644.7 54.5V45.8M650.4 54.5V45.3M555.2 54.5V40.9M656.8 54.5V50.1M532.9 54.5V46.3" fill="none" stroke="#2fa63c" stroke-width="0.65" stroke-opacity="0.62"/>
<polyline points="529.2,54.5 529.9,54.1 530.7,54.4 531.4,54.4 532.1,54.8 532.9,54.8 533.6,54 534.3,54.5 535,55.2 535.8,54.7 536.5,54.2 537.2,54.4 538,54.3 538.7,54.9 539.4,54.5 540.2,54.7 540.9,55.5 541.6,53.9 542.3,54 543.1,53.7 543.8,53.8 544.5,54.9 545.3,54.6 546,55.2 546.7,53.6 547.5,54.1 548.2,55.1 548.9,55 549.6,54.9 550.4,54.9 551.1,54.5 551.8,54.5 552.6,54.5 553.3,54.9 554,54.4 554.8,54.6 555.5,55.2 556.2,54 556.9,54.2 557.7,54.8 558.4,54.4 559.1,54.4 559.9,55.4 560.6,54.7 561.3,54.3 562.1,55 562.8,55.6 563.5,54 564.2,54.2 565,54.6 565.7,54.2 566.4,55.5 567.2,54.7 567.9,54.3 568.6,54.7 569.4,54.1 570.1,54.2 570.8,54.5 571.5,55.6 572.3,53.5 573,54.7 573.7,55.1 574.5,54.8 575.2,55.4 575.9,54.7 576.7,54.6 577.4,54.4 578.1,54.1 578.9,55.2 579.6,54 580.3,54.4 581,54.3 581.8,54.1 582.5,53.5 583.2,54.3 584,54.6 584.7,54.6 585.4,54.9 586.2,54.4 586.9,54.2 587.6,54.6 588.3,54.8 589.1,54.1 589.8,53.8 590.5,54 591.3,55 592,54.9 592.7,54.1 593.5,54.6 594.2,54.9 594.9,55.1 595.6,54.2 596.4,54.4 597.1,55.1 597.8,55.6 598.6,55.2 599.3,54 600,54.7 600.8,54.4 601.5,54.5 602.2,54.2 602.9,54.3 603.7,54.5 604.4,55.3 605.1,54.8 605.9,54.7 606.6,54.5 607.3,54.2 608.1,54.4 608.8,55.1 609.5,54.9 610.2,55.4 611,54.6 611.7,54.5 612.4,53.8 613.2,54.7 613.9,53.7 614.6,55.2 615.4,54.2 616.1,54.5 616.8,53.9 617.5,54.3 618.3,54.1 619,55 619.7,54.6 620.5,54 621.2,53.6 621.9,54.5 622.7,54.3 623.4,54 624.1,54.8 624.8,54.4 625.6,54.6 626.3,54.2 627,54.2 627.8,54.3 628.5,53.8 629.2,54.8 630,54.7 630.7,53.7 631.4,54.5 632.2,55 632.9,54.6 633.6,55.1 634.3,54.4 635.1,54.5 635.8,53.9 636.5,54.1 637.3,53.7 638,54.1 638.7,54.6 639.5,54.7 640.2,55 640.9,54.6 641.6,54.1 642.4,54.7 643.1,54.4 643.8,55.3 644.6,55.4 645.3,54.9 646,54 646.8,54.3 647.5,54.6 648.2,54.2 648.9,54.7 649.7,54.8 650.4,54.9 651.1,54.6 651.9,54.1 652.6,54.1 653.3,54.4 654.1,55.1 654.8,55.2 655.5,54.9 656.2,54.7 657,54.8 657.7,54.9 658.4,55.1 659.2,54.9 659.9,53.8 660.6,54.9 661.4,54.7 662.1,54.3 662.8,54.7 663.5,54.6 664.3,54.5 665,53.7 665.7,54.6 666.5,54.8 667.2,54.5 667.9,53.8 668.7,54.7 669.4,54.8 670.1,54.6 670.8,54.7 671.6,54.3 672.3,54.2 673,54.7 673.8,54.3 674.5,54.6" fill="none" stroke="#2fa63c" stroke-width="1.5" />
<path d="M621 74.2V72.8M591.4 74.2V71.2M538.4 74.2V71.3M577.1 74.2V70.7M570.1 74.2V72.4M587.8 74.2V70.8M553.8 74.2V69.9M564.3 74.2V72.7M579 74.2V71.1M551.5 74.2V70.3M630.9 74.2V70.4M630.7 74.2V73.1M586.2 74.2V71.4M538.8 74.2V71.2M537.6 74.2V70.7M614.2 74.2V70.9M576.7 74.2V71.9M533.1 74.2V71.5M658.4 74.2V70.4M567.5 74.2V69.9M556.5 74.2V70.9M618.5 74.2V68.4M582 74.2V70.3M665.7 74.2V69.3M620.2 74.2V70.1M589 74.2V71.1M569.6 74.2V69.1M656.6 74.2V71.3M661 74.2V73M549.3 74.2V70.7M574.2 74.2V71.4M670.7 74.2V72.5M557.5 74.2V72.1M627.8 74.2V72M529.8 74.2V70.5M586.5 74.2V72M600.9 74.2V69.9M608.8 74.2V70.1M610.6 74.2V69M669.5 74.2V71.5M579.7 74.2V68.8M574.9 74.2V69.6M630 74.2V69.8M668.8 74.2V69.1M552.7 74.2V70.1M600.5 74.2V70.4M583 74.2V71.8M637.8 74.2V70.5M563.9 74.2V72M576.6 74.2V72.3M603.8 74.2V72.6M538.8 74.2V72.9M544.5 74.2V69.7M546 74.2V70.9M641.1 74.2V70.8M553.2 74.2V68.9M655.2 74.2V72.9M566.3 74.2V70.7M644.6 74.2V71.2M633 74.2V71.9" fill="none" stroke="#abde5e" stroke-width="0.6" stroke-opacity="0.45"/>
<path d="M534.6 74.2V56.3M639.8 74.2V62.4M562.9 74.2V70.4M609.3 74.2V70.6M596.3 74.2V57.9M582.2 74.2V69.4M671.3 74.2V64.9M535.4 74.2V68.5M623.5 74.2V72M579.2 74.2V63.3M654.4 74.2V65.3M657.6 74.2V67.5M586.4 74.2V60M584.7 74.2V61.4M560.8 74.2V69.3M556.2 74.2V66.1M553.3 74.2V70.9M560.6 74.2V67.5M574.2 74.2V67.8M673 74.2V63.6M654.2 74.2V70.9M585 74.2V72M629.5 74.2V69M569.3 74.2V72.2M556 74.2V70.3M586.4 74.2V58.1M632.9 74.2V70.2M581.8 74.2V71.4M664.9 74.2V69.1M640.2 74.2V62.7M660.6 74.2V72.2M576.2 74.2V68.7M541.7 74.2V59.1M576.6 74.2V61.7M604.6 74.2V72M586.6 74.2V70.6M535.6 74.2V71.4M615.6 74.2V72.1M574.8 74.2V68.1M608.2 74.2V71.5M631.7 74.2V70.3M634.4 74.2V63.8M550.9 74.2V70.9M570.2 74.2V62.9M588.2 74.2V68.7M654.7 74.2V70.7M571.8 74.2V69.3M560.8 74.2V72.1M533.2 74.2V64.6M611.4 74.2V60.8M670.5 74.2V69.9M626.5 74.2V58.2M560.9 74.2V63.4M625.9 74.2V57.3M655 74.2V70.6" fill="none" stroke="#abde5e" stroke-width="0.7" stroke-opacity="0.8"/>
<polyline points="529.2,74.1 529.9,73.8 530.7,73.8 531.4,74.9 532.1,74.7 532.9,73.5 533.6,73.8 534.3,74 535,74 535.8,73.6 536.5,74.6 537.2,73.5 538,74.5 538.7,74.5 539.4,74 540.2,73.9 540.9,74.2 541.6,74.3 542.3,73.3 543.1,73.7 543.8,74.4 544.5,74.2 545.3,74 546,73.8 546.7,73.9 547.5,73.9 548.2,75.4 548.9,73.7 549.6,74.9 550.4,74.4 551.1,74.3 551.8,74.3 552.6,74 553.3,74.9 554,74.4 554.8,74.2 555.5,74.1 556.2,74.3 556.9,73.7 557.7,74.1 558.4,73.9 559.1,74.5 559.9,74.5 560.6,73.4 561.3,74.1 562.1,74.6 562.8,73.6 563.5,73.7 564.2,74.6 565,74.1 565.7,74 566.4,73.7 567.2,74.3 567.9,74 568.6,74.3 569.4,74.4 570.1,74.5 570.8,74.1 571.5,74 572.3,74.2 573,74.2 573.7,74.3 574.5,74 575.2,74.1 575.9,73.9 576.7,73.9 577.4,74.3 578.1,74.7 578.9,74 579.6,74.5 580.3,74.4 581,74.3 581.8,74.5 582.5,74 583.2,74.5 584,74.3 584.7,72.7 585.4,74.4 586.2,74.5 586.9,75.1 587.6,73.7 588.3,74.2 589.1,74.4 589.8,73.8 590.5,74.7 591.3,74.4 592,73.9 592.7,73.7 593.5,74 594.2,75.2 594.9,75.2 595.6,73.1 596.4,73.4 597.1,74.5 597.8,74.2 598.6,73.9 599.3,74.5 600,74.2 600.8,74.3 601.5,74.3 602.2,73.7 602.9,74.8 603.7,74 604.4,74.7 605.1,74.5 605.9,74.2 606.6,74.3 607.3,74.2 608.1,73.4 608.8,74.1 609.5,74.4 610.2,73.5 611,73.5 611.7,74.7 612.4,74.6 613.2,73.5 613.9,74.4 614.6,74.2 615.4,74.6 616.1,74.1 616.8,74.1 617.5,73.9 618.3,74.3 619,74.1 619.7,73.9 620.5,74.1 621.2,73.9 621.9,74.5 622.7,73.7 623.4,73.5 624.1,73.8 624.8,74.7 625.6,74 626.3,74.5 627,74.5 627.8,74 628.5,74.5 629.2,74.4 630,74.2 630.7,73.9 631.4,74.2 632.2,73.6 632.9,74.1 633.6,73.9 634.3,74.4 635.1,74.4 635.8,73.9 636.5,74.6 637.3,74.7 638,74.2 638.7,73.9 639.5,74.4 640.2,73.1 640.9,73.9 641.6,74.5 642.4,75.1 643.1,73.9 643.8,74.9 644.6,75.2 645.3,75 646,73.2 646.8,74.7 647.5,74.3 648.2,74.7 648.9,74.1 649.7,73.9 650.4,74.1 651.1,74.9 651.9,74.6 652.6,74.1 653.3,74.4 654.1,74.6 654.8,74.5 655.5,74.2 656.2,73.9 657,73.9 657.7,74 658.4,74 659.2,73.5 659.9,73.6 660.6,74.6 661.4,73.7 662.1,73.6 662.8,74.2 663.5,74.8 664.3,74.8 665,74 665.7,73.7 666.5,74 667.2,73.8 667.9,74 668.7,74.4 669.4,73.7 670.1,73.9 670.8,74.1 671.6,74.2 672.3,73.9 673,73.8 673.8,73.7 674.5,73.9" fill="none" stroke="#abde5e" stroke-width="1.5" />
<path d="M533.1 92.5V85.2M597.4 92.5V87.9M596.8 92.5V88.3M626.5 92.5V85.4M669.7 92.5V81.7M672.9 92.5V87.5M649.3 92.5V85M630.9 92.5V81.5M539.3 92.5V86.9M587.6 92.5V84.9M561.2 92.5V81.6M559.9 92.5V87.8M550.3 92.5V87.6M636.7 92.5V90.7M553.8 92.5V85M619.6 92.5V84.1M566.3 92.5V83.4M635.2 92.5V83.7M547 92.5V86.8M532 92.5V82.9M666 92.5V82.5M533.2 92.5V88M607 92.5V86.2M545.7 92.5V83.6M573.2 92.5V86.4M547.7 92.5V85.8M548.4 92.5V90.6M603.6 92.5V88.6M641.9 92.5V89M589.4 92.5V91M561.1 92.5V87M610.2 92.5V86.9M652.5 92.5V90.5M652.4 92.5V90M669.7 92.5V86.3M588.3 92.5V85.4M654.4 92.5V81.9M589.4 92.5V91.4M551.9 92.5V83.3M635.7 92.5V84.4M552.3 92.5V86.2M533.8 92.5V90.4M573.1 92.5V81.8M622.5 92.5V83M536.3 92.5V87.3M541 92.5V88.9M545.8 92.5V82.3M577.1 92.5V86.6M624.1 92.5V82.6M666.3 92.5V85.8M602 92.5V82.5M586.6 92.5V88.5M636.4 92.5V88.9M582.8 92.5V87.2M598.5 92.5V87.9M591.8 92.5V87M536.9 92.5V83.1M538.6 92.5V86.2M608.7 92.5V87.5M561.8 92.5V90.5M583.4 92.5V88.4M599.5 92.5V89.2M637.8 92.5V86.6M531 92.5V87.4M669.1 92.5V91.4M615.3 92.5V81.9M582.5 92.5V85.5M582.9 92.5V88.5M617.6 92.5V85.6M575.2 92.5V86.5M604.2 92.5V84M537.4 92.5V90.6M566.1 92.5V88.8M644.5 92.5V87.2M653.8 92.5V87.5M570.9 92.5V84.7M542 92.5V81.7M649.7 92.5V88.2M575.5 92.5V83.3M643.5 92.5V85.1M537.9 92.5V83.9M536.6 92.5V85.3M609.4 92.5V82.2M621.9 92.5V91.3M664.5 92.5V84M613.4 92.5V91.4M636 92.5V87.3M627.8 92.5V81.7M662 92.5V90.8M642.5 92.5V87.1M638.2 92.5V87.7M594.3 92.5V87.1M546.7 92.5V88.3M635.7 92.5V90.8M546.4 92.5V83.2M625.8 92.5V86M546 92.5V90.3M574.4 92.5V82M610.5 92.5V82.3M560.2 92.5V87.4M607.1 92.5V83.1M547.5 92.5V82.8M597.9 92.5V91.2M592 92.5V87.7M627 92.5V82.2M600.9 92.5V84.6M585.7 92.5V83.7M544.9 92.5V84.1M553.7 92.5V85.6M558.9 92.5V88M553.3 92.5V88M615 92.5V86.3M585.8 92.5V85.8M651.2 92.5V87.9M613.9 92.5V86.7M671.2 92.5V88.2M630.3 92.5V89.2M567.4 92.5V84.2M612.7 92.5V88.9M539 92.5V83.3M584.2 92.5V84.3M592.1 92.5V85.3M610.4 92.5V81.7M661 92.5V86.9M599.9 92.5V89.2M638.4 92.5V90.5M573.9 92.5V83M534.8 92.5V84.5M611.7 92.5V86M577.8 92.5V90M666.9 92.5V83.9M646 92.5V90.5M642.8 92.5V89.3M558.5 92.5V86.2M617.7 92.5V90.3M640.1 92.5V85.7M659.5 92.5V82.3M629.2 92.5V87.9M666.9 92.5V84.3M571.7 92.5V82.9M634.6 92.5V88.9M565.7 92.5V91.3M607.2 92.5V89M572 92.5V89M548.7 92.5V86.7M569 92.5V88.6M569.8 92.5V86.4M655.8 92.5V89.9M653.7 92.5V83M617.6 92.5V86.1" fill="none" stroke="#6cc680" stroke-width="0.6" stroke-opacity="0.6"/>
<path d="M664.1 92.5V89.7M597.3 92.5V73.7M636.2 92.5V87.9M636 92.5V73.8M587.7 92.5V77M548 92.5V73.8M600.6 92.5V88.8M650.9 92.5V82M665 92.5V77.9M644.8 92.5V84.7M673.1 92.5V90.3M655.3 92.5V80.6M565.9 92.5V78.4M595.2 92.5V84.2M654.6 92.5V89.2M570 92.5V82.1M540.3 92.5V83.9M643.3 92.5V85.1M564.6 92.5V78.6M653.1 92.5V79.3M609 92.5V76M644.7 92.5V89.7M582.5 92.5V90.1M535 92.5V87.4M654.5 92.5V77.8M546.6 92.5V89.4M585.8 92.5V77.4M618.7 92.5V76.1M540.1 92.5V73.8M559.5 92.5V82.4M656.2 92.5V80.3M558.1 92.5V81.6M591.9 92.5V90.5M578.7 92.5V87.8M620.6 92.5V88.3M616.7 92.5V81M555.8 92.5V89.9M629.8 92.5V85.5M548.3 92.5V90M665.5 92.5V82.8M581.3 92.5V89.2M673.3 92.5V81.1M635.9 92.5V87.2M574.5 92.5V86.4M550.8 92.5V82.4M591 92.5V78.1M588.7 92.5V85.6M602.8 92.5V75.1M579.7 92.5V80.8M563.6 92.5V83.4M570.8 92.5V76.8M571 92.5V77.3M627.3 92.5V85.7M664.4 92.5V86.8M637 92.5V83M594.4 92.5V90.3M590.2 92.5V88.3M593.3 92.5V74.7M572 92.5V81M626.7 92.5V88.7M589.1 92.5V89.8M658.9 92.5V88.6M590.4 92.5V87.5M648.1 92.5V77.4M614.9 92.5V84M544 92.5V76.2M542.5 92.5V87.1M583.7 92.5V80.4M626.3 92.5V87.4M659.3 92.5V74.8" fill="none" stroke="#2fa63c" stroke-width="0.65" stroke-opacity="0.62"/>
<polyline points="529.2,92.4 529.9,91.9 530.7,92 531.4,91.6 532.1,92.6 532.9,92.2 533.6,93.5 534.3,92.9 535,92 535.8,93.1 536.5,92.6 537.2,93 538,92 538.7,93 539.4,93 540.2,92.3 540.9,92.1 541.6,92.3 542.3,92.6 543.1,93.6 543.8,93.3 544.5,93.2 545.3,92.4 546,92.4 546.7,92.7 547.5,92.4 548.2,92.3 548.9,92.4 549.6,92.9 550.4,92.5 551.1,92.6 551.8,92.4 552.6,92.4 553.3,92.4 554,93.1 554.8,92.6 555.5,93.2 556.2,92.4 556.9,93 557.7,91.9 558.4,92.3 559.1,92.5 559.9,92.2 560.6,92.5 561.3,92.1 562.1,92.4 562.8,92.2 563.5,92.5 564.2,92.4 565,92.1 565.7,92.3 566.4,92.5 567.2,91.9 567.9,92.5 568.6,93.1 569.4,92.4 570.1,92.8 570.8,92.8 571.5,92.1 572.3,93.1 573,93.6 573.7,92 574.5,93.5 575.2,92.2 575.9,93.2 576.7,91.7 577.4,93 578.1,92.6 578.9,91.9 579.6,92.1 580.3,92 581,92.1 581.8,92.7 582.5,92.4 583.2,91.4 584,92.4 584.7,92.7 585.4,92.5 586.2,93.3 586.9,91.7 587.6,92.6 588.3,92.5 589.1,92.8 589.8,91.9 590.5,91.9 591.3,92.4 592,92.5 592.7,91.7 593.5,92.7 594.2,92.5 594.9,92.8 595.6,91.3 596.4,92.7 597.1,92.1 597.8,92.3 598.6,92.9 599.3,93.3 600,92.6 600.8,92.5 601.5,93.1 602.2,92.1 602.9,92.4 603.7,92.3 604.4,92.1 605.1,92.6 605.9,93.4 606.6,92.6 607.3,92.7 608.1,92.5 608.8,93 609.5,92.6 610.2,92.1 611,92.5 611.7,93.2 612.4,92.5 613.2,93 613.9,92.5 614.6,93.4 615.4,92.6 616.1,92.8 616.8,92.4 617.5,92.9 618.3,92.4 619,91.8 619.7,92.6 620.5,92 621.2,93.2 621.9,92.9 622.7,92.5 623.4,92.8 624.1,91.3 624.8,93.2 625.6,92.2 626.3,92.8 627,93.7 627.8,91.8 628.5,92.3 629.2,92.7 630,92.7 630.7,91.7 631.4,92.1 632.2,93.2 632.9,92.2 633.6,92.8 634.3,91.9 635.1,92.1 635.8,91.7 636.5,92.6 637.3,93 638,92.5 638.7,92.4 639.5,92.6 640.2,92.7 640.9,92.4 641.6,92.8 642.4,93.4 643.1,93.5 643.8,92.2 644.6,91.9 645.3,93.4 646,92.9 646.8,93.1 647.5,92.8 648.2,92.4 648.9,92.9 649.7,93 650.4,93 651.1,92 651.9,93 652.6,92.3 653.3,92.3 654.1,92.7 654.8,92.3 655.5,93.6 656.2,92.8 657,92.6 657.7,92.4 658.4,92.6 659.2,92.4 659.9,92.8 660.6,92.9 661.4,92.9 662.1,91.9 662.8,92.4 663.5,92.5 664.3,92 665,92.7 665.7,92.4 666.5,92.5 667.2,92.7 667.9,92.2 668.7,93.2 669.4,93 670.1,92.3 670.8,92.7 671.6,92.8 672.3,92.2 673,92.3 673.8,92.8 674.5,91.3" fill="none" stroke="#2fa63c" stroke-width="1.5" />
<path d="M556.7 110.9V106.7M628.7 110.9V105.2M577.4 110.9V105.3M661.2 110.9V108.4M667.1 110.9V106.8M668.6 110.9V106M577.8 110.9V108.5M605.1 110.9V107.5M534.8 110.9V105.6M607 110.9V107.5M637.1 110.9V108.7M558.4 110.9V107M564.5 110.9V108.3M539.8 110.9V109.6M581 110.9V107.3M666.6 110.9V106.7M589.5 110.9V107.9M563.7 110.9V107.5M668.1 110.9V109.3M592.2 110.9V106.5M639.7 110.9V107.1M622.2 110.9V105.2M659.9 110.9V108.6M607.8 110.9V104.9M605.9 110.9V109M640.2 110.9V109.6M551.4 110.9V107.1M569 110.9V106.3M634.6 110.9V108.3M640.4 110.9V106.7M631.6 110.9V107.6M592.1 110.9V109.4M598.2 110.9V105.1M657.9 110.9V109.6M540 110.9V108.6M629.9 110.9V107.7M548.1 110.9V107.8M612.4 110.9V106.2M587.9 110.9V106.7M628 110.9V106.8M536.4 110.9V106.3M548.3 110.9V109.6M598 110.9V109.8M540.2 110.9V107.9M597.3 110.9V109.4M667.3 110.9V105.6M599.9 110.9V107M575.2 110.9V105M547 110.9V108.4M561.6 110.9V105.6M603.1 110.9V107.8M587.2 110.9V105.5M566.8 110.9V105.9M631.9 110.9V107.7M582.5 110.9V107.7M595.1 110.9V108.3M619.7 110.9V107.8M573.5 110.9V106M595.4 110.9V107.5M656.6 110.9V107.6" fill="none" stroke="#abde5e" stroke-width="0.6" stroke-opacity="0.45"/>
<path d="M596 110.9V101.8M651.8 110.9V104.2M557.2 110.9V94.3M670.8 110.9V108.9M639.8 110.9V105.2M537.2 110.9V108M554.7 110.9V99.1M560.2 110.9V108.9M561.4 110.9V97.7M601.7 110.9V100.8M596.8 110.9V107.8M531.9 110.9V106.5M535.7 110.9V107M619 110.9V105.6M597.9 110.9V101.4M575.5 110.9V105.8M657.2 110.9V102.2M589.9 110.9V102.9M596.1 110.9V106.2M661.5 110.9V107.3M664.7 110.9V96.5M657 110.9V108M603.1 110.9V93.3M571.4 110.9V108M634.1 110.9V107.3M613.9 110.9V108.1M666.4 110.9V106.8M543.7 110.9V100.1M579.8 110.9V102.6M601.4 110.9V94.8M603.9 110.9V105.5M529.9 110.9V103.7M568.5 110.9V102.3M620.9 110.9V104.2M542.7 110.9V103.7M599.2 110.9V101M669.7 110.9V106.8M593.6 110.9V108.6M645.1 110.9V107.3M649.3 110.9V97.7M566.4 110.9V95.3M602.4 110.9V104.8M609.8 110.9V94.3M600.4 110.9V103.9M571.6 110.9V96.8M602.3 110.9V106M558.1 110.9V107.5M650.1 110.9V97.6M670.9 110.9V95M628.6 110.9V97.8M632.4 110.9V97.5M645.3 110.9V107.9M647.3 110.9V106.5M564.9 110.9V94.9M533 110.9V103.4M579.2 110.9V97.9M617.8 110.9V95.1M664.3 110.9V101M539 110.9V100.5M545.5 110.9V93.4M655.4 110.9V106.4M556.5 110.9V100M639.1 110.9V93.3M619.6 110.9V108.3M634.6 110.9V108.7M654.9 110.9V98.4M643 110.9V96M611.8 110.9V94.3M621.9 110.9V103.8M585.2 110.9V105.9M533 110.9V108M644.5 110.9V107.4M624 110.9V98.3M629.9 110.9V103.4M575.3 110.9V106.9" fill="none" stroke="#abde5e" stroke-width="0.7" stroke-opacity="0.8"/>
<polyline points="529.2,110.2 529.9,111.6 530.7,111.7 531.4,110.8 532.1,110.4 532.9,111.3 533.6,110.9 534.3,110.5 535,110.7 535.8,109.8 536.5,110.5 537.2,110.3 538,110.3 538.7,111.2 539.4,111 540.2,111.7 540.9,109.7 541.6,110.6 542.3,110.5 543.1,111.5 543.8,111.4 544.5,110.9 545.3,110.9 546,110.6 546.7,110.7 547.5,110.7 548.2,109.8 548.9,111.8 549.6,111.2 550.4,111.8 551.1,111.5 551.8,111.1 552.6,111.3 553.3,110.1 554,110.4 554.8,111.3 555.5,110.7 556.2,110.2 556.9,110.9 557.7,110.3 558.4,110.9 559.1,111.6 559.9,110.4 560.6,110.7 561.3,111.1 562.1,110.9 562.8,111 563.5,110.5 564.2,110.7 565,109.8 565.7,110.8 566.4,111.5 567.2,110.4 567.9,110.8 568.6,111.2 569.4,111.4 570.1,111.4 570.8,110.5 571.5,110.7 572.3,111.7 573,110.7 573.7,111 574.5,110.5 575.2,110.6 575.9,109.5 576.7,110.6 577.4,109.9 578.1,110.4 578.9,110.4 579.6,111.5 580.3,111.2 581,111.1 581.8,110.7 582.5,110.3 583.2,111.1 584,110.5 584.7,110.8 585.4,111.3 586.2,110.8 586.9,110.9 587.6,110.4 588.3,111.4 589.1,111.1 589.8,111.2 590.5,111.6 591.3,110.1 592,110.9 592.7,111.2 593.5,111 594.2,111 594.9,111.1 595.6,110.2 596.4,110.9 597.1,111.4 597.8,110.9 598.6,110.8 599.3,111.3 600,110.1 600.8,111.1 601.5,111.6 602.2,110.8 602.9,110.5 603.7,111.1 604.4,110.7 605.1,110.5 605.9,111 606.6,110.1 607.3,111.2 608.1,110.3 608.8,110.6 609.5,111.2 610.2,110.9 611,111 611.7,111.5 612.4,111.6 613.2,111.8 613.9,110.6 614.6,111.3 615.4,110.1 616.1,111.3 616.8,111.5 617.5,110.6 618.3,111.1 619,111.3 619.7,110.8 620.5,110.6 621.2,111.6 621.9,110.3 622.7,111 623.4,111.3 624.1,111 624.8,111.6 625.6,111.6 626.3,111.1 627,111.7 627.8,111.2 628.5,110.3 629.2,110.7 630,111 630.7,111 631.4,110.1 632.2,111.9 632.9,110.2 633.6,110.4 634.3,111.1 635.1,111 635.8,111.6 636.5,111 637.3,111.1 638,111.2 638.7,110.6 639.5,110.3 640.2,110.7 640.9,111.4 641.6,110.8 642.4,111.5 643.1,110.6 643.8,111.2 644.6,110.9 645.3,111.3 646,110.9 646.8,111 647.5,110.7 648.2,111.5 648.9,110.9 649.7,111.1 650.4,111.2 651.1,110.5 651.9,110.5 652.6,110.9 653.3,111.5 654.1,110.4 654.8,110.4 655.5,110.4 656.2,110.7 657,110.4 657.7,110.5 658.4,111.1 659.2,110.4 659.9,110.9 660.6,110.4 661.4,110.8 662.1,111.1 662.8,110 663.5,110.9 664.3,111 665,110.9 665.7,111 666.5,111.1 667.2,110.3 667.9,110.8 668.7,111.2 669.4,111.5 670.1,110.3 670.8,110.6 671.6,110.3 672.3,110.9 673,110.4 673.8,110.4 674.5,111.2" fill="none" stroke="#abde5e" stroke-width="1.5" />
<path d="M598.1 130.6V129.2M618.5 130.6V127.9M578.2 130.6V129.5M657.8 130.6V124.3M586.3 130.6V124.7M665.3 130.6V128.4M585 130.6V123.2M583.4 130.6V123.2M660.8 130.6V129.2M570.8 130.6V127M638 130.6V122.5M630.6 130.6V121.3M556.5 130.6V126.1M652.8 130.6V122.7M546 130.6V120.8M636.6 130.6V121.8M582 130.6V124.2M668 130.6V121.5M613 130.6V121.6M673.9 130.6V122M624.3 130.6V121M550.4 130.6V126M611.1 130.6V128.4M642.4 130.6V129M620.4 130.6V127.1M576.3 130.6V124.1M557.3 130.6V125.6M653.4 130.6V120.7M567.6 130.6V126.3M629.8 130.6V127.9M652.2 130.6V127.8M610 130.6V126.5M529.9 130.6V129.6M530 130.6V126.6M569.4 130.6V120.7M621.7 130.6V129M633 130.6V127.5M599.2 130.6V123.1M653.3 130.6V121.2M590.4 130.6V126.7M587.1 130.6V126.8M636.7 130.6V125.4M628.6 130.6V128.2M642.7 130.6V120.9M559 130.6V124.1M553.1 130.6V129.3M589.4 130.6V128M635.1 130.6V124.4M627 130.6V120.9M538.1 130.6V128.7M534.9 130.6V125.5M648.7 130.6V123.4M608.7 130.6V121.9M583.4 130.6V128.6M622.3 130.6V129.4M562.8 130.6V129.3M553 130.6V129M606.4 130.6V128.4M616.8 130.6V122.2M579.4 130.6V128.5M626.6 130.6V123M657.3 130.6V124.6M613.7 130.6V121.8M627.4 130.6V120.8M571.1 130.6V122.6M621 130.6V125.4M531.3 130.6V125.3M567.7 130.6V124.2M603.2 130.6V125M538.2 130.6V128.4M617.3 130.6V123.5M672.6 130.6V122.5M571.6 130.6V125.5M602.7 130.6V122.4M586.6 130.6V121.3M599.5 130.6V126M598.9 130.6V126.4M673.9 130.6V129.2M587.4 130.6V128.9M627.5 130.6V128.2M551.2 130.6V125.8M616.6 130.6V122.7M593.8 130.6V126.9M582.8 130.6V121.6M560.5 130.6V129.5M657.5 130.6V125.3M548.8 130.6V128.4M658.2 130.6V122.9M539 130.6V123.5M560.6 130.6V125.6M617 130.6V129.1M664.7 130.6V126.6M550.5 130.6V122.6M545.4 130.6V129.3M623.8 130.6V125.4M659.7 130.6V122.5M559.5 130.6V129.2M616.8 130.6V125.4M573.2 130.6V121.3M559.8 130.6V123.8M540.3 130.6V121.3M666.6 130.6V124M575.9 130.6V123.1M660.1 130.6V122.4M535.6 130.6V125.1M549.9 130.6V124.7M666.8 130.6V121.8M565.6 130.6V124.6M575.5 130.6V128.1M637 130.6V122.8M578.3 130.6V125.8M630.2 130.6V123.1M596.6 130.6V128.5M543.5 130.6V128.1M648.9 130.6V125.1M622.7 130.6V126.3M582.9 130.6V128M670.3 130.6V124.2M548.3 130.6V123.3M616 130.6V124.1M640.8 130.6V124.1M656.2 130.6V120.9M588.4 130.6V123.8M583.7 130.6V125.9M582.5 130.6V123.8M580.6 130.6V126.4M651.9 130.6V122.4M627.3 130.6V122M585.4 130.6V123.8M566 130.6V126.8M544.2 130.6V122.4M662.6 130.6V126.9M584.3 130.6V128.5M550.2 130.6V123.9M658.4 130.6V128.8M566.4 130.6V122.8M562.3 130.6V121.7M580.6 130.6V125.3M558.8 130.6V127M591 130.6V127.1" fill="none" stroke="#6cc680" stroke-width="0.6" stroke-opacity="0.6"/>
<path d="M656.7 130.6V111.8M662 130.6V115.8M540.4 130.6V126.8M669.8 130.6V122.2M604 130.6V126M654.1 130.6V122.7M672.6 130.6V128.3M673 130.6V128.6M551.1 130.6V124.8M622 130.6V128.1M610.9 130.6V113.2M592.5 130.6V117.6M615.1 130.6V121.4M554.7 130.6V123.6M659.6 130.6V119.6M561 130.6V123.9M608.1 130.6V125.6M613.1 130.6V120.5M532.3 130.6V127.1M624.5 130.6V127.2M540.2 130.6V117.6M577.9 130.6V112.7M610.3 130.6V128.2M621.6 130.6V126.6M647.2 130.6V118.5M639.1 130.6V128.4M534.6 130.6V116.8M550 130.6V127.3M534 130.6V127.7M598 130.6V112.7M576.1 130.6V126.6M649.2 130.6V127.5M621.3 130.6V120.8M664.7 130.6V128.5M611 130.6V124.9M648.6 130.6V126.7M632.9 130.6V127.5M601.1 130.6V112.5M564.3 130.6V126.4M662.1 130.6V119.5M539.2 130.6V127.4M563.9 130.6V126.3M651.6 130.6V119M671.1 130.6V119.6M620.3 130.6V124.9M633.2 130.6V123.1M538.2 130.6V123.1M585.1 130.6V122.4M536.7 130.6V128.5M671.5 130.6V125.1M577.3 130.6V127.8M615.2 130.6V113.9M555.7 130.6V123M601.8 130.6V117.5M611.2 130.6V126.9M557.1 130.6V118.4M541 130.6V115.1M534.5 130.6V127.4M597.2 130.6V115.6M619.1 130.6V118M639.5 130.6V118.5M537.1 130.6V116.1M551 130.6V127.7M535.1 130.6V128.5M656.2 130.6V125M542.2 130.6V128.5M651.8 130.6V121.1M661.9 130.6V128.5M545.9 130.6V126.3M557.3 130.6V128.1M558.6 130.6V120.3M554 130.6V127.6M607 130.6V125.1M551.3 130.6V121.7M603 130.6V124.9" fill="none" stroke="#2fa63c" stroke-width="0.65" stroke-opacity="0.62"/>
<polyline points="529.2,130.6 529.9,130.5 530.7,130.1 531.4,130 532.1,130.5 532.9,130.9 533.6,130.7 534.3,130.7 535,130.8 535.8,130 536.5,131.1 537.2,130.6 538,130.3 538.7,130.4 539.4,131.1 540.2,130.7 540.9,129.9 541.6,131.6 542.3,130 543.1,131.4 543.8,131 544.5,130.2 545.3,131.2 546,131.2 546.7,131.1 547.5,130.9 548.2,130.8 548.9,130.7 549.6,130.4 550.4,130.7 551.1,131.2 551.8,130.6 552.6,131.5 553.3,129.9 554,130.6 554.8,130 555.5,129.8 556.2,130.7 556.9,130.5 557.7,130.4 558.4,130.1 559.1,130.5 559.9,129.9 560.6,130.5 561.3,130.4 562.1,130.1 562.8,130.8 563.5,129.8 564.2,130.8 565,130.7 565.7,130.9 566.4,130.7 567.2,131 567.9,130.5 568.6,130.1 569.4,130.8 570.1,130.3 570.8,130.5 571.5,130.7 572.3,130.2 573,131.1 573.7,129.9 574.5,131.2 575.2,130.6 575.9,131.4 576.7,131.1 577.4,130.9 578.1,130.7 578.9,130.7 579.6,130 580.3,130.4 581,130.2 581.8,130.3 582.5,130.6 583.2,130.3 584,130.7 584.7,130.5 585.4,130.4 586.2,130.8 586.9,130.8 587.6,130 588.3,130.5 589.1,131.9 589.8,130.6 590.5,130.8 591.3,130.2 592,131.1 592.7,131.3 593.5,130.9 594.2,130.6 594.9,130.6 595.6,129.8 596.4,130.9 597.1,130.5 597.8,130.8 598.6,130.8 599.3,130.7 600,131.6 600.8,131 601.5,130.3 602.2,130.9 602.9,130.9 603.7,130.6 604.4,131.2 605.1,130.5 605.9,129.8 606.6,130.1 607.3,130.8 608.1,130.2 608.8,130.7 609.5,129.9 610.2,130.8 611,130.5 611.7,130.2 612.4,130.4 613.2,130.5 613.9,131 614.6,130.7 615.4,130.5 616.1,130.7 616.8,131 617.5,130.8 618.3,131.4 619,130.3 619.7,131 620.5,130.7 621.2,130.3 621.9,130.9 622.7,131 623.4,131.1 624.1,130.8 624.8,130.2 625.6,130.7 626.3,130.8 627,131.4 627.8,130.7 628.5,130.7 629.2,131.3 630,130.6 630.7,130.4 631.4,130.7 632.2,131 632.9,130.7 633.6,129.9 634.3,130.4 635.1,131.1 635.8,130.3 636.5,131 637.3,130.7 638,130.3 638.7,131 639.5,129.7 640.2,129.7 640.9,129.9 641.6,130.9 642.4,130.5 643.1,130.9 643.8,130.6 644.6,130.7 645.3,130.4 646,130.4 646.8,131.1 647.5,131 648.2,130 648.9,130.9 649.7,131.5 650.4,131 651.1,130.2 651.9,131 652.6,130.7 653.3,130.5 654.1,131.1 654.8,131.2 655.5,130.4 656.2,130.7 657,130.4 657.7,130.6 658.4,131.3 659.2,130.4 659.9,130.9 660.6,130.7 661.4,130.7 662.1,130.1 662.8,130.9 663.5,130.1 664.3,130.9 665,130.6 665.7,130.7 666.5,130.4 667.2,130.2 667.9,130.2 668.7,130.6 669.4,130.6 670.1,130.7 670.8,130.5 671.6,131 672.3,130.7 673,130.7 673.8,130.5 674.5,130.6" fill="none" stroke="#2fa63c" stroke-width="1.5" />
<path d="M532.7 149.8V144.5M617.6 149.8V145.1M618.3 149.8V147M578.7 149.8V148.4M625.5 149.8V148.5M628 149.8V144.2M626.1 149.8V145.8M646.3 149.8V144M647 149.8V143.8M596 149.8V148.7M618.3 149.8V145.6M654.2 149.8V145.7M582.1 149.8V148.8M649.6 149.8V145.7M671.9 149.8V145.8M652.7 149.8V144.9M672.7 149.8V146.5M659.2 149.8V146.8M531.3 149.8V147.2M580.4 149.8V143.8M586.7 149.8V147.4M629.4 149.8V148.3M573.8 149.8V146.8M547.6 149.8V145.8M590.7 149.8V144.8M578.7 149.8V143.9M557.9 149.8V146.1M562.3 149.8V148.7M573.2 149.8V144.3M571.8 149.8V146.4M605.3 149.8V147.5M606.9 149.8V148.5M580.1 149.8V147.4M647.4 149.8V144.9M630.8 149.8V145.8M654.7 149.8V145.1M537.7 149.8V148.1M637.6 149.8V144.6M672.5 149.8V144.9M552.5 149.8V146M619.8 149.8V145.8M549.1 149.8V144M603.3 149.8V147.5M671.3 149.8V146.9M539.8 149.8V145.5M567.2 149.8V147.7M573.4 149.8V145.8M575.8 149.8V145.5M660.3 149.8V143.8M658 149.8V144.2M566.2 149.8V144.7M542.7 149.8V145.9M540.6 149.8V148.3M666.6 149.8V148.2M633.2 149.8V146.2M529.9 149.8V144.8M538.5 149.8V144.4M647.8 149.8V146.3M594.1 149.8V148.7M630.7 149.8V148.6" fill="none" stroke="#abde5e" stroke-width="0.6" stroke-opacity="0.45"/>
<path d="M656.5 149.8V144.7M593.7 149.8V142.1M533.2 149.8V147.4M643 149.8V141.5M600.9 149.8V144.9M638.1 149.8V142.5M644 149.8V135.8M658.7 149.8V138.2M626.9 149.8V143.2M606.7 149.8V141.1M605.5 149.8V136.2M653.5 149.8V147.7M638.2 149.8V140.4M616 149.8V134.1M536.9 149.8V142.9M583.9 149.8V133.1M553.5 149.8V141.4M550.5 149.8V137.6M600.3 149.8V138M574 149.8V134.7M530.7 149.8V146.3M635.5 149.8V134.8M641.9 149.8V145.8M541.4 149.8V138.6M635.2 149.8V147.6M664.6 149.8V142M534.5 149.8V142.9M578.5 149.8V147.4M657.5 149.8V133.4M547.6 149.8V143.4M569.2 149.8V139.3M545.5 149.8V145M588.9 149.8V143M592.5 149.8V140.8M665.4 149.8V133.5M660.6 149.8V135.9M562.7 149.8V146.1M596 149.8V139.9M617.2 149.8V144.8M672.8 149.8V145.3M532.5 149.8V147.5M559.9 149.8V138.1M651 149.8V147.7M563.9 149.8V146.1M643.2 149.8V134.3M567.7 149.8V147.4M669.2 149.8V132.5M633.1 149.8V143M637.5 149.8V137.3M603.2 149.8V145.8M605.5 149.8V139.5M576.5 149.8V140M550.9 149.8V132.5M560.2 149.8V146.3M668.3 149.8V133.1M663.2 149.8V135.7M652.2 149.8V136.1M611.5 149.8V147.6M635.3 149.8V135.8M650.6 149.8V147.7M538.5 149.8V138.1M600.1 149.8V134.4M672.7 149.8V143.4M627.2 149.8V139.5M629.8 149.8V144.6M622 149.8V147.6M659.6 149.8V138.3M645.5 149.8V143.1M559.3 149.8V143.3M627.9 149.8V141.7M545.4 149.8V147.8M587.1 149.8V146.1M562.4 149.8V146.4M589.7 149.8V138.9M661.5 149.8V139.2" fill="none" stroke="#abde5e" stroke-width="0.7" stroke-opacity="0.8"/>
<polyline points="529.2,148.8 529.9,149.6 530.7,149.7 531.4,149.6 532.1,149.7 532.9,149.1 533.6,149.4 534.3,150.5 535,149.4 535.8,149.6 536.5,149.4 537.2,149.7 538,149.6 538.7,150.7 539.4,149.3 540.2,150.4 540.9,149.6 541.6,150 542.3,151 543.1,149.8 543.8,149.8 544.5,148.5 545.3,149.7 546,149.7 546.7,149.9 547.5,149.9 548.2,149.3 548.9,149.4 549.6,150.2 550.4,149.7 551.1,149.8 551.8,150.1 552.6,149.9 553.3,149.9 554,149.3 554.8,149.8 555.5,149.1 556.2,150.6 556.9,149.5 557.7,150.6 558.4,149.6 559.1,149.8 559.9,150.4 560.6,149.9 561.3,149.9 562.1,149.7 562.8,149.7 563.5,149.5 564.2,149.5 565,149 565.7,149.8 566.4,149.5 567.2,150.5 567.9,150.8 568.6,150.7 569.4,149.3 570.1,149.7 570.8,149.8 571.5,149.1 572.3,150.5 573,150.1 573.7,150 574.5,150.7 575.2,150 575.9,149.7 576.7,149.9 577.4,149.6 578.1,150 578.9,149.2 579.6,150.1 580.3,149.7 581,149.6 581.8,149.7 582.5,149.8 583.2,149 584,150.1 584.7,149.7 585.4,150.6 586.2,149.8 586.9,150.2 587.6,149.8 588.3,149.8 589.1,149.3 589.8,149.6 590.5,149.6 591.3,148.7 592,149.7 592.7,149.5 593.5,150 594.2,150.3 594.9,149.7 595.6,150.4 596.4,150.4 597.1,150.2 597.8,149.7 598.6,149.9 599.3,150.6 600,150.5 600.8,150.3 601.5,149 602.2,148.8 602.9,150.6 603.7,150.1 604.4,150.4 605.1,150.1 605.9,149.7 606.6,150 607.3,149.8 608.1,150.5 608.8,150.2 609.5,149.4 610.2,149.5 611,150.3 611.7,150.2 612.4,150 613.2,150 613.9,149.3 614.6,149.4 615.4,150.1 616.1,149 616.8,150 617.5,150.1 618.3,150.1 619,150.2 619.7,150.7 620.5,150 621.2,149.5 621.9,149.1 622.7,148.8 623.4,149.9 624.1,150.2 624.8,149.1 625.6,149.9 626.3,149.5 627,149.7 627.8,149.9 628.5,149.8 629.2,149.3 630,150.2 630.7,149.8 631.4,149 632.2,150.2 632.9,150.5 633.6,149.7 634.3,150.6 635.1,149.1 635.8,149.7 636.5,150.4 637.3,150.4 638,150.1 638.7,150.3 639.5,149.6 640.2,150.2 640.9,150.3 641.6,150.3 642.4,150 643.1,150.2 643.8,150 644.6,150.1 645.3,149.1 646,150.1 646.8,149.4 647.5,149.7 648.2,149.9 648.9,149.9 649.7,149.2 650.4,149.6 651.1,149.9 651.9,149.6 652.6,149.8 653.3,149.9 654.1,149.9 654.8,149.6 655.5,149.9 656.2,150.1 657,149.3 657.7,150.2 658.4,149.4 659.2,150 659.9,150.1 660.6,150.1 661.4,149.3 662.1,149.4 662.8,149.3 663.5,150.1 664.3,149.9 665,149 665.7,150.2 666.5,150.4 667.2,149.6 667.9,149.8 668.7,149.9 669.4,149.4 670.1,149.6 670.8,150.1 671.6,149.7 672.3,149.8 673,149.9 673.8,150.6 674.5,149.9" fill="none" stroke="#abde5e" stroke-width="1.5" />
<path d="M644 167.4V162.2M576.4 167.4V159.7M616.1 167.4V164.5M608.7 167.4V160.3M536.4 167.4V161.9M600.1 167.4V164.4M552.7 167.4V164.8M592.8 167.4V163.4M616.5 167.4V164.5M619.2 167.4V163.1M644.5 167.4V160.8M563.9 167.4V159.6M608.5 167.4V164.1M566.4 167.4V161.4M592.7 167.4V161.6M566.6 167.4V160.4M567.9 167.4V160.3M593 167.4V163.6M613 167.4V162.7M608.8 167.4V162.5M666.8 167.4V161.2M543 167.4V159.5M531.9 167.4V166M647.8 167.4V164.5M533.9 167.4V165.2M601.2 167.4V160.5M532.6 167.4V165.2M531.5 167.4V166M575.2 167.4V163M669.5 167.4V161.9M653 167.4V162.3M661.1 167.4V161.7M564.3 167.4V163.8M598.9 167.4V165.6M663.1 167.4V163M558.6 167.4V163M645.9 167.4V164.5M614.5 167.4V165.8M564.5 167.4V165.1M602.6 167.4V161.6M562.5 167.4V161.6M614.3 167.4V161.1M673.4 167.4V164.1M673.5 167.4V163.2M603.2 167.4V165.2M542 167.4V161.9M544.6 167.4V166.2M541.8 167.4V162.6M558 167.4V164.6M640.4 167.4V163.3M550.9 167.4V161.6M673.2 167.4V162M593.9 167.4V162.6M631.1 167.4V160.5M643.1 167.4V164.7M642.3 167.4V165.7M548.2 167.4V162.8M556.3 167.4V162.5M570.7 167.4V159.8M592.2 167.4V160.7M666 167.4V163.2M640.6 167.4V163M587.3 167.4V165.5M624.7 167.4V159.9M629 167.4V164.2M605.5 167.4V163.9M586.2 167.4V161M530.7 167.4V163M603.6 167.4V165.4M635.4 167.4V164.6M587.9 167.4V164.7M615.9 167.4V163.4M628.4 167.4V163.4M642.8 167.4V162.5M544.9 167.4V163M566.2 167.4V164.3M666.5 167.4V163M636.3 167.4V165.3M620.5 167.4V165.6M561.7 167.4V165.5M533.3 167.4V160M668.9 167.4V163.8M531.5 167.4V161.3M625.3 167.4V166.1M640.3 167.4V165.9M563.3 167.4V160.9M640.4 167.4V164.8M603 167.4V160.8M616.8 167.4V162.7M556.4 167.4V165.9M556.8 167.4V162.7M615.7 167.4V163.2M621.5 167.4V162.5M622.9 167.4V163.5M651.2 167.4V162.7M656.7 167.4V159.5M649.2 167.4V161M629.3 167.4V162.5M565.4 167.4V165.7M625.1 167.4V164.7M618.1 167.4V162.6M617.3 167.4V163.4M564.3 167.4V164.3M630.2 167.4V160.2M575.7 167.4V164.2M594.3 167.4V163.4M620.9 167.4V161.1M640.5 167.4V160.7M634.4 167.4V159.6M594.4 167.4V163.3M623.7 167.4V164.2M649.4 167.4V163.5M610.1 167.4V162.8M582.2 167.4V166.3M569.9 167.4V163.1M667 167.4V165.4M660 167.4V159.6M643.9 167.4V164.4M532.5 167.4V160.2M539.6 167.4V164.3M665.2 167.4V161.7M648.6 167.4V160.6M555.4 167.4V162.9M543.3 167.4V163.7M601.2 167.4V160.7M571.4 167.4V161.7M550 167.4V164.6M538.2 167.4V162.3M614.3 167.4V161.4M590.3 167.4V159.8" fill="none" stroke="#6cc680" stroke-width="0.6" stroke-opacity="0.6"/>
<path d="M655.4 167.4V164.7M531.9 167.4V159.6M565.3 167.4V159M661.3 167.4V156.6M570.1 167.4V159.1M571.5 167.4V156.4M567 167.4V154.2M627.6 167.4V153.7M579.6 167.4V152.4M613.7 167.4V163.8M623 167.4V163.2M546.1 167.4V165.3M617.8 167.4V164M544.1 167.4V156.1M550.2 167.4V156.5M569.1 167.4V162.6M664.3 167.4V155M650.1 167.4V151.8M616.8 167.4V152.8M619.5 167.4V159.5M576.4 167.4V162.4M611.9 167.4V163.9M622.3 167.4V154.3M633.6 167.4V164.1M533.7 167.4V162.6M592.3 167.4V154.7M608.6 167.4V160.5M617.1 167.4V160M627.6 167.4V159.9M609.5 167.4V164M547.5 167.4V161.6M657.6 167.4V152.6M572 167.4V159.6M604.5 167.4V161.4M555.4 167.4V155.8M542 167.4V164.1M569.9 167.4V164.3M557.6 167.4V165.2M605.2 167.4V164.6M622.4 167.4V159.2M619.8 167.4V161.1M618.1 167.4V163.4M596.7 167.4V157.7M560.8 167.4V156.9M614.2 167.4V152M618.6 167.4V160M640.5 167.4V163.5M583.5 167.4V161.7M635.7 167.4V157.1M556.4 167.4V152.4M671.4 167.4V160.8M673.4 167.4V158.9M585.2 167.4V165.1M532.2 167.4V159.4M633.4 167.4V159M642.7 167.4V161.7M636.8 167.4V159.2M621.2 167.4V160M626 167.4V159.9M542.8 167.4V157.9M631.2 167.4V161.8M669.7 167.4V161.1M553.7 167.4V160.6M581.4 167.4V164.6M657.9 167.4V164.5M632.5 167.4V164.6M604.3 167.4V151.5M542.5 167.4V154.4M530.6 167.4V151.9M660.8 167.4V161.5M621.7 167.4V161.4M553.3 167.4V162.7M593.4 167.4V154.2M546.2 167.4V160.2M597.7 167.4V160" fill="none" stroke="#3aac45" stroke-width="0.65" stroke-opacity="0.62"/>
<polyline points="529.2,167.3 529.9,166.8 530.7,167.6 531.4,167.2 532.1,167.3 532.9,167.9 533.6,166.5 534.3,166.7 535,167.3 535.8,167.3 536.5,167.9 537.2,167.2 538,167.6 538.7,168.1 539.4,166.8 540.2,166.8 540.9,167.1 541.6,167.3 542.3,166.9 543.1,167.5 543.8,167 544.5,167.9 545.3,167.6 546,167.7 546.7,167.5 547.5,167.5 548.2,166.7 548.9,167.3 549.6,166.6 550.4,168 551.1,166.9 551.8,167 552.6,167.2 553.3,168.3 554,166.9 554.8,168.1 555.5,167.4 556.2,168.5 556.9,167.3 557.7,167.1 558.4,167.4 559.1,167.1 559.9,167.1 560.6,167.7 561.3,167.2 562.1,167.8 562.8,167.6 563.5,167.8 564.2,168.1 565,167.8 565.7,167 566.4,168 567.2,166.3 567.9,167.9 568.6,167.9 569.4,166.9 570.1,167.9 570.8,166.6 571.5,167.8 572.3,167.2 573,167.3 573.7,167.3 574.5,167.1 575.2,167.7 575.9,167.4 576.7,167.4 577.4,167.4 578.1,167.2 578.9,166.9 579.6,167.6 580.3,167.7 581,166.9 581.8,167.8 582.5,167.9 583.2,167.5 584,168 584.7,166.4 585.4,168 586.2,167.1 586.9,167.5 587.6,167 588.3,168.5 589.1,167.2 589.8,167.7 590.5,166.7 591.3,167.3 592,167.6 592.7,167.3 593.5,167.1 594.2,168 594.9,166.7 595.6,167.4 596.4,167.3 597.1,167.2 597.8,167.7 598.6,167.5 599.3,167.3 600,167.7 600.8,167.3 601.5,167.6 602.2,167.9 602.9,167.5 603.7,167.4 604.4,167.1 605.1,168 605.9,167.8 606.6,167.6 607.3,167.5 608.1,167 608.8,167.4 609.5,167.5 610.2,166.9 611,167 611.7,167.3 612.4,168.2 613.2,167.5 613.9,166.8 614.6,167.9 615.4,167.8 616.1,167.7 616.8,167.1 617.5,167.3 618.3,168.3 619,167.9 619.7,169.4 620.5,166.6 621.2,166.7 621.9,167.2 622.7,167 623.4,167.1 624.1,167.7 624.8,168 625.6,166.8 626.3,167.6 627,167.8 627.8,167.5 628.5,168 629.2,167.9 630,167 630.7,167.4 631.4,167.5 632.2,166.9 632.9,167.3 633.6,167.8 634.3,167.6 635.1,167.4 635.8,168.5 636.5,167.7 637.3,167.8 638,167 638.7,167.9 639.5,167.2 640.2,167.3 640.9,167.2 641.6,166.8 642.4,167.6 643.1,166.8 643.8,167.8 644.6,167 645.3,167.9 646,167.5 646.8,167.9 647.5,166.9 648.2,167.6 648.9,167.7 649.7,167.5 650.4,167.3 651.1,167.1 651.9,166 652.6,167.6 653.3,166.8 654.1,166.9 654.8,167.6 655.5,166.2 656.2,167.1 657,167.7 657.7,167.4 658.4,167.3 659.2,167 659.9,167.5 660.6,166.7 661.4,167.1 662.1,167.7 662.8,167 663.5,167.3 664.3,167.2 665,166.8 665.7,166.5 666.5,167 667.2,167.1 667.9,166.9 668.7,167.4 669.4,167.5 670.1,167.7 670.8,167.6 671.6,166.9 672.3,168 673,167.5 673.8,167.7 674.5,166.8" fill="none" stroke="#3aac45" stroke-width="1.5" />
<path d="M607.3 185V182.7M613.9 185V182.1M631.1 185V183.7M651.1 185V181.3M554.6 185V182.3M620.3 185V183.4M661.3 185V182.7M589 185V183.6M595.5 185V178.2M556.7 185V182.9M608.6 185V180.2M550.3 185V182.7M616.9 185V182.6M533.7 185V179.8M655 185V179.2M653.1 185V182.7M574.4 185V180.4M618.6 185V180.2M609.5 185V182.6M564.1 185V183.5M538 185V180.5M542.2 185V178.7M668.1 185V183.1M669.1 185V180.3M530.5 185V181.7M581.8 185V182.1M539.4 185V182.5M532.2 185V181.3M599.2 185V182.6M663.1 185V178.7M601.8 185V179.2M580.7 185V179.5M641.9 185V181.9M636.5 185V181.9M554.7 185V181.5M546.1 185V179.7M566 185V181M646.4 185V180.4M660.8 185V179.6M629.6 185V179.6M629.4 185V178.5M615.5 185V180M609.1 185V180.8M665.5 185V182.2M557.1 185V181M574.7 185V179.7M621.5 185V184M559.8 185V180.3M586.9 185V179.9M597.4 185V183.3M629.2 185V178.2M543 185V180.3M618.2 185V180.3M602.6 185V181M672.5 185V178.8M592.4 185V179.1M626 185V179.2M673.7 185V183.6M560.3 185V182.6M647.8 185V178.5M562.4 185V181.1M658.1 185V179.7M614.4 185V178.6M663 185V183.5M669.1 185V182.3M618.4 185V179.5M572.1 185V182.2M660.3 185V179.3M670.6 185V183.4M620.1 185V179.6M667.7 185V179.6M570.1 185V183.4M554.7 185V182.4M612 185V182.1M551.1 185V183.5M628.6 185V179.1M547.5 185V180.9M671.1 185V181.8M606.8 185V179.1M533.1 185V178.8M641.4 185V179.6M579.2 185V181M665.4 185V183.6M541.6 185V180.2M667.1 185V183.1M556.9 185V181.2M643.6 185V180.6M624.9 185V183.7M558.5 185V180.5M634.3 185V183.5" fill="none" stroke="#abde5e" stroke-width="0.6" stroke-opacity="0.45"/>
<path d="M555.7 185V167.3M556 185V177.2M596.1 185V182M568.2 185V181.8M553.9 185V182.9M622.9 185V174.1M566 185V167.3M590.8 185V178.2M663.5 185V174.5M596.9 185V172.3M636.5 185V180.4M539.8 185V172.7M637.6 185V175.5M546.6 185V172.4M555 185V171.2M619.4 185V174.7M540.5 185V179.6M635.5 185V182.5M535.3 185V178.9M652.7 185V174.9M562.9 185V182.7M650.5 185V170.1M630.9 185V181.6M638 185V183M554.6 185V180.3M667.8 185V182.9M552.9 185V172.6M639.7 185V180.9M540.7 185V169.8M669.7 185V168.4M611.4 185V182.7M636.5 185V174.5M649.7 185V172.1M602.2 185V166.6M596.3 185V178.3M621.7 185V171.4M614.5 185V167.6M568.9 185V168.7M656.4 185V179.9M533.8 185V175.5M619.1 185V167.1M610.2 185V172.9M639.3 185V182M625.9 185V178.5M560.9 185V180.8M582 185V172.6M609.4 185V180.2M537.7 185V171.4M638.5 185V170.2M643.2 185V182.8M570.3 185V178M572.6 185V170.5M559.2 185V183M594.8 185V182.9M533.8 185V175.4M616.9 185V176.6M539.9 185V176.3M605.2 185V180.5M561.9 185V182.1M599.4 185V179.6M614.2 185V174M569.5 185V175.3M567 185V172.4M559.1 185V175.6M635.9 185V171.1M606.3 185V168.3M672 185V171.3M581.5 185V181M620.1 185V182.4M555.2 185V182.6M623.6 185V179.3M662.7 185V170.9M606.4 185V180M575.9 185V182.8M545.7 185V169.3M572.7 185V183M671.1 185V179.4M641.5 185V178.2M669.4 185V182.7M598 185V174.5M533.2 185V168.2M578.5 185V173.9M541.1 185V182.7M542.2 185V171.4M665.6 185V168.2M606.3 185V182.6M641.9 185V177.3M642.6 185V174.8M611.4 185V182M550.3 185V182.7M592.1 185V180.7M667.4 185V182.9M639.3 185V182.4M544.6 185V168M561.4 185V175.6M614.1 185V179.1M580.2 185V182.3M630.1 185V179.5M616.4 185V170.7M540.7 185V178.7M580.6 185V167.8M619.3 185V181.7M595.9 185V183M603.9 185V182.8M549.6 185V177.2" fill="none" stroke="#abde5e" stroke-width="0.7" stroke-opacity="0.8"/>
<polyline points="529.2,185.3 529.9,185.2 530.7,184.7 531.4,185.2 532.1,185.1 532.9,185.2 533.6,184.3 534.3,184.1 535,184.3 535.8,184.2 536.5,185.4 537.2,185.4 538,184.4 538.7,185.7 539.4,184.5 540.2,184.6 540.9,186 541.6,184.4 542.3,185.3 543.1,185.4 543.8,185.5 544.5,185.3 545.3,185.1 546,185.7 546.7,185 547.5,185 548.2,185.2 548.9,184.8 549.6,184.9 550.4,185.5 551.1,185.7 551.8,185.3 552.6,185 553.3,184.8 554,184.8 554.8,184.8 555.5,184.8 556.2,185 556.9,184.9 557.7,185.5 558.4,184.4 559.1,184.8 559.9,185.4 560.6,184.8 561.3,184.8 562.1,185.2 562.8,185 563.5,184.6 564.2,185.1 565,185.3 565.7,184.2 566.4,185.4 567.2,184.2 567.9,185.3 568.6,184.4 569.4,185.1 570.1,185 570.8,185.5 571.5,185 572.3,184.8 573,184.7 573.7,185.1 574.5,184.9 575.2,185.4 575.9,185.2 576.7,185.6 577.4,185.3 578.1,185.1 578.9,185 579.6,185.3 580.3,185.3 581,184.4 581.8,185.2 582.5,184.8 583.2,185.1 584,185.4 584.7,184.1 585.4,185 586.2,185.5 586.9,184.2 587.6,185.1 588.3,185 589.1,184.8 589.8,185.4 590.5,185.4 591.3,185 592,185.6 592.7,185.7 593.5,185.1 594.2,185.4 594.9,185.4 595.6,185.8 596.4,185.4 597.1,185.3 597.8,185.1 598.6,185.3 599.3,185.7 600,185 600.8,185 601.5,184.6 602.2,186.2 602.9,184.8 603.7,184.8 604.4,184.8 605.1,185.5 605.9,185.2 606.6,184.1 607.3,185.1 608.1,185.8 608.8,185 609.5,185.1 610.2,186.3 611,184.9 611.7,184.9 612.4,185.3 613.2,186.1 613.9,185.2 614.6,184.3 615.4,184.9 616.1,184.9 616.8,185.3 617.5,184.9 618.3,185.1 619,184.4 619.7,184.5 620.5,185 621.2,185.7 621.9,184.6 622.7,184.3 623.4,185.5 624.1,185.2 624.8,185.4 625.6,184.9 626.3,185.1 627,185 627.8,185 628.5,185.8 629.2,184.8 630,184.8 630.7,185 631.4,184.9 632.2,185.8 632.9,184.9 633.6,185.2 634.3,184.5 635.1,185.3 635.8,185.3 636.5,185.3 637.3,184.3 638,184.7 638.7,183.8 639.5,185.8 640.2,185 640.9,185.7 641.6,185.9 642.4,185.5 643.1,184.7 643.8,184.9 644.6,185.4 645.3,184.1 646,185.6 646.8,185.7 647.5,185.4 648.2,184.9 648.9,185.2 649.7,184.3 650.4,184.6 651.1,184.8 651.9,184.7 652.6,185.8 653.3,185.2 654.1,183.9 654.8,185.5 655.5,185.2 656.2,184.9 657,184.7 657.7,185.9 658.4,185.1 659.2,185.1 659.9,184.3 660.6,184.8 661.4,185.4 662.1,185.1 662.8,184.8 663.5,184.9 664.3,184.3 665,183.9 665.7,185.3 666.5,184.4 667.2,184.3 667.9,185.2 668.7,185.4 669.4,184.9 670.1,185.5 670.8,185 671.6,183.6 672.3,185.7 673,184.5 673.8,185.7 674.5,184.9" fill="none" stroke="#abde5e" stroke-width="1.5" />
<line x1="525.1" y1="177.1" x2="525.1" y2="191.2" stroke="#222" stroke-width="1.5" />
<line x1="524.4" y1="190.5" x2="537.6" y2="190.5" stroke="#222" stroke-width="1.5" />
<text x="523" y="187.6" font-size="9.40" text-anchor="end" fill="#222">0.1</text>
<text x="535" y="199.8" font-size="9.20" text-anchor="middle" fill="#222">5 min</text>
<text x="1" y="217.5" font-size="14" font-weight="bold">D</text>
<text x="90.8" y="219.3" font-size="12" text-anchor="middle" font-weight="bold" fill="#2b4bcc">Ctrl-Ab</text>
<text x="250" y="219.3" font-size="12" text-anchor="middle" font-weight="bold" fill="#f02020">GluN1-Ab</text>
<defs><filter id="rastb" filterUnits="userSpaceOnUse" x="23.6" y="221.8" width="140.7" height="135.8"><feTurbulence type="fractalNoise" baseFrequency="0.9 2.2" numOctaves="1" seed="4"/><feColorMatrix values="0 0 0 0 0  0 0 0 0 0  0 0 0 0 0  2.9 0 0 0 -1.02"/><feComposite in="SourceGraphic" operator="in"/></filter><filter id="rastr" filterUnits="userSpaceOnUse" x="183.5" y="222.2" width="140.8" height="135.2"><feTurbulence type="fractalNoise" baseFrequency="0.9 2.2" numOctaves="1" seed="9"/><feColorMatrix values="0 0 0 0 0  0 0 0 0 0  0 0 0 0 0  2.7 0 0 0 -1.0"/><feComposite in="SourceGraphic" operator="in"/></filter></defs>
<g filter="url(#rastb)" fill="#3434f4"><rect x="23.6" y="221" width="140.7" height="1" fill-opacity="0.52"/><rect x="23.6" y="222" width="140.7" height="1" fill-opacity="0.58"/><rect x="23.6" y="223" width="140.7" height="1" fill-opacity="0.58"/><rect x="23.6" y="224" width="140.7" height="1" fill-opacity="0.82"/><rect x="23.6" y="225" width="140.7" height="1" fill-opacity="0.49"/><rect x="23.6" y="226" width="140.7" height="1" fill-opacity="0.33"/><rect x="23.6" y="227" width="140.7" height="1" fill-opacity="0.37"/><rect x="23.6" y="228" width="140.7" height="1" fill-opacity="1.00"/><rect x="23.6" y="229" width="140.7" height="1" fill-opacity="0.75"/><rect x="23.6" y="230" width="140.7" height="1" fill-opacity="0.93"/><rect x="23.6" y="231" width="140.7" height="1" fill-opacity="0.35"/><rect x="23.6" y="232" width="140.7" height="1" fill-opacity="0.34"/><rect x="23.6" y="233" width="140.7" height="1" fill-opacity="0.34"/><rect x="23.6" y="234" width="140.7" height="1" fill-opacity="0.92"/><rect x="23.6" y="235" width="140.7" height="1" fill-opacity="0.75"/><rect x="23.6" y="236" width="140.7" height="1" fill-opacity="0.56"/><rect x="23.6" y="237" width="140.7" height="1" fill-opacity="0.94"/><rect x="23.6" y="238" width="140.7" height="1" fill-opacity="0.50"/><rect x="23.6" y="239" width="140.7" height="1" fill-opacity="0.75"/><rect x="23.6" y="240" width="140.7" height="1" fill-opacity="0.47"/><rect x="23.6" y="241" width="140.7" height="1" fill-opacity="0.31"/><rect x="23.6" y="242" width="140.7" height="1" fill-opacity="0.28"/><rect x="23.6" y="243" width="140.7" height="1" fill-opacity="0.57"/><rect x="23.6" y="244" width="140.7" height="1" fill-opacity="0.38"/><rect x="23.6" y="245" width="140.7" height="1" fill-opacity="0.70"/><rect x="23.6" y="246" width="140.7" height="1" fill-opacity="0.31"/><rect x="23.6" y="247" width="140.7" height="1" fill-opacity="1.00"/><rect x="23.6" y="248" width="140.7" height="1" fill-opacity="0.36"/><rect x="23.6" y="249" width="140.7" height="1" fill-opacity="0.25"/><rect x="23.6" y="250" width="140.7" height="1" fill-opacity="0.25"/><rect x="23.6" y="251" width="140.7" height="1" fill-opacity="0.44"/><rect x="23.6" y="252" width="140.7" height="1" fill-opacity="0.72"/><rect x="23.6" y="253" width="140.7" height="1" fill-opacity="0.38"/><rect x="23.6" y="254" width="140.7" height="1" fill-opacity="0.57"/><rect x="23.6" y="255" width="140.7" height="1" fill-opacity="0.75"/><rect x="23.6" y="256" width="140.7" height="1" fill-opacity="0.89"/><rect x="23.6" y="257" width="140.7" height="1" fill-opacity="0.58"/><rect x="23.6" y="258" width="140.7" height="1" fill-opacity="0.41"/><rect x="23.6" y="259" width="140.7" height="1" fill-opacity="1.00"/><rect x="23.6" y="260" width="140.7" height="1" fill-opacity="0.89"/><rect x="23.6" y="261" width="140.7" height="1" fill-opacity="0.56"/><rect x="23.6" y="262" width="140.7" height="1" fill-opacity="0.94"/><rect x="23.6" y="263" width="140.7" height="1" fill-opacity="0.79"/><rect x="23.6" y="264" width="140.7" height="1" fill-opacity="0.58"/><rect x="23.6" y="265" width="140.7" height="1" fill-opacity="0.58"/><rect x="23.6" y="266" width="140.7" height="1" fill-opacity="0.39"/><rect x="23.6" y="267" width="140.7" height="1" fill-opacity="0.35"/><rect x="23.6" y="268" width="140.7" height="1" fill-opacity="0.74"/><rect x="23.6" y="269" width="140.7" height="1" fill-opacity="0.60"/><rect x="23.6" y="270" width="140.7" height="1" fill-opacity="0.71"/><rect x="23.6" y="271" width="140.7" height="1" fill-opacity="0.46"/><rect x="23.6" y="272" width="140.7" height="1" fill-opacity="0.37"/><rect x="23.6" y="273" width="140.7" height="1" fill-opacity="1.00"/><rect x="23.6" y="274" width="140.7" height="1" fill-opacity="0.43"/><rect x="23.6" y="275" width="140.7" height="1" fill-opacity="0.93"/><rect x="23.6" y="276" width="140.7" height="1" fill-opacity="0.82"/><rect x="23.6" y="277" width="140.7" height="1" fill-opacity="0.34"/><rect x="23.6" y="278" width="140.7" height="1" fill-opacity="0.58"/><rect x="23.6" y="279" width="140.7" height="1" fill-opacity="0.54"/><rect x="23.6" y="280" width="140.7" height="1" fill-opacity="0.81"/><rect x="23.6" y="281" width="140.7" height="1" fill-opacity="0.91"/><rect x="23.6" y="282" width="140.7" height="1" fill-opacity="0.81"/><rect x="23.6" y="283" width="140.7" height="1" fill-opacity="1.00"/><rect x="23.6" y="284" width="140.7" height="1" fill-opacity="0.44"/><rect x="23.6" y="285" width="140.7" height="1" fill-opacity="0.52"/><rect x="23.6" y="286" width="140.7" height="1" fill-opacity="0.39"/><rect x="23.6" y="287" width="140.7" height="1" fill-opacity="0.34"/><rect x="23.6" y="288" width="140.7" height="1" fill-opacity="0.60"/><rect x="23.6" y="289" width="140.7" height="1" fill-opacity="0.49"/><rect x="23.6" y="290" width="140.7" height="1" fill-opacity="0.40"/><rect x="23.6" y="291" width="140.7" height="1" fill-opacity="0.77"/><rect x="23.6" y="292" width="140.7" height="1" fill-opacity="1.00"/><rect x="23.6" y="293" width="140.7" height="1" fill-opacity="0.54"/><rect x="23.6" y="294" width="140.7" height="1" fill-opacity="0.51"/><rect x="23.6" y="295" width="140.7" height="1" fill-opacity="0.53"/><rect x="23.6" y="296" width="140.7" height="1" fill-opacity="0.51"/><rect x="23.6" y="297" width="140.7" height="1" fill-opacity="0.82"/><rect x="23.6" y="298" width="140.7" height="1" fill-opacity="0.51"/><rect x="23.6" y="299" width="140.7" height="1" fill-opacity="0.94"/><rect x="23.6" y="300" width="140.7" height="1" fill-opacity="1.00"/><rect x="23.6" y="301" width="140.7" height="1" fill-opacity="0.84"/><rect x="23.6" y="302" width="140.7" height="1" fill-opacity="0.87"/><rect x="23.6" y="303" width="140.7" height="1" fill-opacity="0.55"/><rect x="23.6" y="304" width="140.7" height="1" fill-opacity="0.54"/><rect x="23.6" y="305" width="140.7" height="1" fill-opacity="0.49"/><rect x="23.6" y="306" width="140.7" height="1" fill-opacity="0.55"/><rect x="23.6" y="307" width="140.7" height="1" fill-opacity="0.55"/><rect x="23.6" y="308" width="140.7" height="1" fill-opacity="0.51"/><rect x="23.6" y="309" width="140.7" height="1" fill-opacity="1.00"/><rect x="23.6" y="310" width="140.7" height="1" fill-opacity="0.46"/><rect x="23.6" y="311" width="140.7" height="1" fill-opacity="0.91"/><rect x="23.6" y="312" width="140.7" height="1" fill-opacity="0.44"/><rect x="23.6" y="313" width="140.7" height="1" fill-opacity="0.52"/><rect x="23.6" y="314" width="140.7" height="1" fill-opacity="0.35"/><rect x="23.6" y="315" width="140.7" height="1" fill-opacity="0.47"/><rect x="23.6" y="316" width="140.7" height="1" fill-opacity="0.43"/><rect x="23.6" y="317" width="140.7" height="1" fill-opacity="0.53"/><rect x="23.6" y="318" width="140.7" height="1" fill-opacity="1.00"/><rect x="23.6" y="319" width="140.7" height="1" fill-opacity="0.74"/><rect x="23.6" y="320" width="140.7" height="1" fill-opacity="0.50"/><rect x="23.6" y="321" width="140.7" height="1" fill-opacity="0.87"/><rect x="23.6" y="322" width="140.7" height="1" fill-opacity="0.31"/><rect x="23.6" y="323" width="140.7" height="1" fill-opacity="0.37"/><rect x="23.6" y="324" width="140.7" height="1" fill-opacity="0.73"/><rect x="23.6" y="325" width="140.7" height="1" fill-opacity="0.35"/><rect x="23.6" y="326" width="140.7" height="1" fill-opacity="0.71"/><rect x="23.6" y="327" width="140.7" height="1" fill-opacity="0.41"/><rect x="23.6" y="328" width="140.7" height="1" fill-opacity="0.48"/><rect x="23.6" y="329" width="140.7" height="1" fill-opacity="0.93"/><rect x="23.6" y="330" width="140.7" height="1" fill-opacity="0.80"/><rect x="23.6" y="331" width="140.7" height="1" fill-opacity="0.80"/><rect x="23.6" y="332" width="140.7" height="1" fill-opacity="0.91"/><rect x="23.6" y="333" width="140.7" height="1" fill-opacity="1.00"/><rect x="23.6" y="334" width="140.7" height="1" fill-opacity="0.33"/><rect x="23.6" y="335" width="140.7" height="1" fill-opacity="0.40"/><rect x="23.6" y="336" width="140.7" height="1" fill-opacity="0.59"/><rect x="23.6" y="337" width="140.7" height="1" fill-opacity="0.43"/><rect x="23.6" y="338" width="140.7" height="1" fill-opacity="0.49"/><rect x="23.6" y="339" width="140.7" height="1" fill-opacity="0.34"/><rect x="23.6" y="340" width="140.7" height="1" fill-opacity="1.00"/><rect x="23.6" y="341" width="140.7" height="1" fill-opacity="0.59"/><rect x="23.6" y="342" width="140.7" height="1" fill-opacity="0.41"/><rect x="23.6" y="343" width="140.7" height="1" fill-opacity="0.30"/><rect x="23.6" y="344" width="140.7" height="1" fill-opacity="0.84"/><rect x="23.6" y="345" width="140.7" height="1" fill-opacity="0.34"/><rect x="23.6" y="346" width="140.7" height="1" fill-opacity="0.57"/><rect x="23.6" y="347" width="140.7" height="1" fill-opacity="1.00"/><rect x="23.6" y="348" width="140.7" height="1" fill-opacity="0.77"/><rect x="23.6" y="349" width="140.7" height="1" fill-opacity="0.41"/><rect x="23.6" y="350" width="140.7" height="1" fill-opacity="0.57"/><rect x="23.6" y="351" width="140.7" height="1" fill-opacity="0.38"/><rect x="23.6" y="352" width="140.7" height="1" fill-opacity="0.45"/><rect x="23.6" y="353" width="140.7" height="1" fill-opacity="1.00"/><rect x="23.6" y="354" width="140.7" height="1" fill-opacity="0.45"/><rect x="23.6" y="355" width="140.7" height="1" fill-opacity="0.82"/><rect x="23.6" y="356" width="140.7" height="1" fill-opacity="0.86"/><rect x="23.6" y="357" width="140.7" height="1" fill-opacity="0.39"/><rect x="37" y="320" width="5" height="38" fill="#fff" fill-opacity="0.5"/></g>
<path d="M23.6 234.5H164.3M23.6 266.5H164.3M23.6 326.5H164.3" fill="none" stroke="#3434f4" stroke-width="1.1" stroke-opacity="0.55" stroke-dasharray="3 1 5 1 2 1"/>
<rect x="23.6" y="221.8" width="140.7" height="135.8" fill="none" stroke="#555" stroke-width="0.8"/>
<g filter="url(#rastr)" fill="#f03030"><rect x="183.5" y="222" width="140.8" height="1" fill-opacity="0.48"/><rect x="183.5" y="223" width="140.8" height="1" fill-opacity="0.25"/><rect x="183.5" y="224" width="140.8" height="1" fill-opacity="0.33"/><rect x="183.5" y="225" width="140.8" height="1" fill-opacity="0.48"/><rect x="183.5" y="226" width="140.8" height="1" fill-opacity="0.33"/><rect x="183.5" y="227" width="140.8" height="1" fill-opacity="0.55"/><rect x="183.5" y="228" width="140.8" height="1" fill-opacity="0.43"/><rect x="183.5" y="229" width="140.8" height="1" fill-opacity="0.44"/><rect x="183.5" y="230" width="140.8" height="1" fill-opacity="0.47"/><rect x="183.5" y="231" width="140.8" height="1" fill-opacity="0.48"/><rect x="183.5" y="232" width="140.8" height="1" fill-opacity="0.41"/><rect x="183.5" y="233" width="140.8" height="1" fill-opacity="0.34"/><rect x="183.5" y="234" width="140.8" height="1" fill-opacity="0.39"/><rect x="183.5" y="235" width="140.8" height="1" fill-opacity="0.47"/><rect x="183.5" y="236" width="140.8" height="1" fill-opacity="0.26"/><rect x="183.5" y="237" width="140.8" height="1" fill-opacity="0.39"/><rect x="183.5" y="238" width="140.8" height="1" fill-opacity="0.52"/><rect x="183.5" y="239" width="140.8" height="1" fill-opacity="0.25"/><rect x="183.5" y="240" width="140.8" height="1" fill-opacity="0.38"/><rect x="183.5" y="241" width="140.8" height="1" fill-opacity="0.46"/><rect x="183.5" y="242" width="140.8" height="1" fill-opacity="0.39"/><rect x="183.5" y="243" width="140.8" height="1" fill-opacity="0.37"/><rect x="183.5" y="244" width="140.8" height="1" fill-opacity="0.51"/><rect x="183.5" y="245" width="140.8" height="1" fill-opacity="0.34"/><rect x="183.5" y="246" width="140.8" height="1" fill-opacity="0.27"/><rect x="183.5" y="247" width="140.8" height="1" fill-opacity="0.46"/><rect x="183.5" y="248" width="140.8" height="1" fill-opacity="0.34"/><rect x="183.5" y="249" width="140.8" height="1" fill-opacity="0.52"/><rect x="183.5" y="250" width="140.8" height="1" fill-opacity="0.39"/><rect x="183.5" y="251" width="140.8" height="1" fill-opacity="0.40"/><rect x="183.5" y="252" width="140.8" height="1" fill-opacity="0.30"/><rect x="183.5" y="253" width="140.8" height="1" fill-opacity="0.49"/><rect x="183.5" y="254" width="140.8" height="1" fill-opacity="0.32"/><rect x="183.5" y="255" width="140.8" height="1" fill-opacity="0.90"/><rect x="183.5" y="256" width="140.8" height="1" fill-opacity="0.90"/><rect x="183.5" y="257" width="140.8" height="1" fill-opacity="0.26"/><rect x="183.5" y="258" width="140.8" height="1" fill-opacity="0.54"/><rect x="183.5" y="259" width="140.8" height="1" fill-opacity="0.90"/><rect x="183.5" y="260" width="140.8" height="1" fill-opacity="0.90"/><rect x="183.5" y="261" width="140.8" height="1" fill-opacity="0.32"/><rect x="183.5" y="262" width="140.8" height="1" fill-opacity="0.54"/><rect x="183.5" y="263" width="140.8" height="1" fill-opacity="0.29"/><rect x="183.5" y="264" width="140.8" height="1" fill-opacity="0.53"/><rect x="183.5" y="265" width="140.8" height="1" fill-opacity="0.43"/><rect x="183.5" y="266" width="140.8" height="1" fill-opacity="0.30"/><rect x="183.5" y="267" width="140.8" height="1" fill-opacity="0.26"/><rect x="183.5" y="268" width="140.8" height="1" fill-opacity="0.36"/><rect x="183.5" y="269" width="140.8" height="1" fill-opacity="0.27"/><rect x="183.5" y="270" width="140.8" height="1" fill-opacity="0.47"/><rect x="183.5" y="271" width="140.8" height="1" fill-opacity="0.29"/><rect x="183.5" y="272" width="140.8" height="1" fill-opacity="0.34"/><rect x="183.5" y="273" width="140.8" height="1" fill-opacity="0.40"/><rect x="183.5" y="274" width="140.8" height="1" fill-opacity="0.90"/><rect x="183.5" y="275" width="140.8" height="1" fill-opacity="0.46"/><rect x="183.5" y="276" width="140.8" height="1" fill-opacity="0.44"/><rect x="183.5" y="277" width="140.8" height="1" fill-opacity="0.52"/><rect x="183.5" y="278" width="140.8" height="1" fill-opacity="0.44"/><rect x="183.5" y="279" width="140.8" height="1" fill-opacity="0.42"/><rect x="183.5" y="280" width="140.8" height="1" fill-opacity="0.48"/><rect x="183.5" y="281" width="140.8" height="1" fill-opacity="0.29"/><rect x="183.5" y="282" width="140.8" height="1" fill-opacity="0.36"/><rect x="183.5" y="283" width="140.8" height="1" fill-opacity="0.30"/><rect x="183.5" y="284" width="140.8" height="1" fill-opacity="0.45"/><rect x="183.5" y="285" width="140.8" height="1" fill-opacity="0.45"/><rect x="183.5" y="286" width="140.8" height="1" fill-opacity="0.29"/><rect x="183.5" y="287" width="140.8" height="1" fill-opacity="0.32"/><rect x="183.5" y="288" width="140.8" height="1" fill-opacity="0.39"/><rect x="183.5" y="289" width="140.8" height="1" fill-opacity="0.90"/><rect x="183.5" y="290" width="140.8" height="1" fill-opacity="0.26"/><rect x="183.5" y="291" width="140.8" height="1" fill-opacity="0.27"/><rect x="183.5" y="292" width="140.8" height="1" fill-opacity="0.54"/><rect x="183.5" y="293" width="140.8" height="1" fill-opacity="0.32"/><rect x="183.5" y="294" width="140.8" height="1" fill-opacity="0.54"/><rect x="183.5" y="295" width="140.8" height="1" fill-opacity="0.90"/><rect x="183.5" y="296" width="140.8" height="1" fill-opacity="0.29"/><rect x="183.5" y="297" width="140.8" height="1" fill-opacity="0.36"/><rect x="183.5" y="298" width="140.8" height="1" fill-opacity="0.35"/><rect x="183.5" y="299" width="140.8" height="1" fill-opacity="0.35"/><rect x="183.5" y="300" width="140.8" height="1" fill-opacity="0.29"/><rect x="183.5" y="301" width="140.8" height="1" fill-opacity="0.44"/><rect x="183.5" y="302" width="140.8" height="1" fill-opacity="0.38"/><rect x="183.5" y="303" width="140.8" height="1" fill-opacity="0.41"/><rect x="183.5" y="304" width="140.8" height="1" fill-opacity="0.42"/><rect x="183.5" y="305" width="140.8" height="1" fill-opacity="0.37"/><rect x="183.5" y="306" width="140.8" height="1" fill-opacity="0.26"/><rect x="183.5" y="307" width="140.8" height="1" fill-opacity="0.26"/><rect x="183.5" y="308" width="140.8" height="1" fill-opacity="0.39"/><rect x="183.5" y="309" width="140.8" height="1" fill-opacity="0.25"/><rect x="183.5" y="310" width="140.8" height="1" fill-opacity="0.52"/><rect x="183.5" y="311" width="140.8" height="1" fill-opacity="0.38"/><rect x="183.5" y="312" width="140.8" height="1" fill-opacity="0.28"/><rect x="183.5" y="313" width="140.8" height="1" fill-opacity="0.30"/><rect x="183.5" y="314" width="140.8" height="1" fill-opacity="0.37"/><rect x="183.5" y="315" width="140.8" height="1" fill-opacity="0.30"/><rect x="183.5" y="316" width="140.8" height="1" fill-opacity="0.33"/><rect x="183.5" y="317" width="140.8" height="1" fill-opacity="0.34"/><rect x="183.5" y="318" width="140.8" height="1" fill-opacity="0.90"/><rect x="183.5" y="319" width="140.8" height="1" fill-opacity="0.53"/><rect x="183.5" y="320" width="140.8" height="1" fill-opacity="0.53"/><rect x="183.5" y="321" width="140.8" height="1" fill-opacity="0.45"/><rect x="183.5" y="322" width="140.8" height="1" fill-opacity="0.53"/><rect x="183.5" y="323" width="140.8" height="1" fill-opacity="0.45"/><rect x="183.5" y="324" width="140.8" height="1" fill-opacity="0.90"/><rect x="183.5" y="325" width="140.8" height="1" fill-opacity="0.47"/><rect x="183.5" y="326" width="140.8" height="1" fill-opacity="0.90"/><rect x="183.5" y="327" width="140.8" height="1" fill-opacity="0.32"/><rect x="183.5" y="328" width="140.8" height="1" fill-opacity="0.37"/><rect x="183.5" y="329" width="140.8" height="1" fill-opacity="0.36"/><rect x="183.5" y="330" width="140.8" height="1" fill-opacity="0.39"/><rect x="183.5" y="331" width="140.8" height="1" fill-opacity="0.47"/><rect x="183.5" y="332" width="140.8" height="1" fill-opacity="0.30"/><rect x="183.5" y="333" width="140.8" height="1" fill-opacity="0.45"/><rect x="183.5" y="334" width="140.8" height="1" fill-opacity="0.44"/><rect x="183.5" y="335" width="140.8" height="1" fill-opacity="0.90"/><rect x="183.5" y="336" width="140.8" height="1" fill-opacity="0.27"/><rect x="183.5" y="337" width="140.8" height="1" fill-opacity="0.90"/><rect x="183.5" y="338" width="140.8" height="1" fill-opacity="0.41"/><rect x="183.5" y="339" width="140.8" height="1" fill-opacity="0.41"/><rect x="183.5" y="340" width="140.8" height="1" fill-opacity="0.28"/><rect x="183.5" y="341" width="140.8" height="1" fill-opacity="0.52"/><rect x="183.5" y="342" width="140.8" height="1" fill-opacity="0.90"/><rect x="183.5" y="343" width="140.8" height="1" fill-opacity="0.90"/><rect x="183.5" y="344" width="140.8" height="1" fill-opacity="0.90"/><rect x="183.5" y="345" width="140.8" height="1" fill-opacity="0.27"/><rect x="183.5" y="346" width="140.8" height="1" fill-opacity="0.37"/><rect x="183.5" y="347" width="140.8" height="1" fill-opacity="0.90"/><rect x="183.5" y="348" width="140.8" height="1" fill-opacity="0.54"/><rect x="183.5" y="349" width="140.8" height="1" fill-opacity="0.40"/><rect x="183.5" y="350" width="140.8" height="1" fill-opacity="0.41"/><rect x="183.5" y="351" width="140.8" height="1" fill-opacity="0.34"/><rect x="183.5" y="352" width="140.8" height="1" fill-opacity="0.41"/><rect x="183.5" y="353" width="140.8" height="1" fill-opacity="0.43"/><rect x="183.5" y="354" width="140.8" height="1" fill-opacity="0.90"/><rect x="183.5" y="355" width="140.8" height="1" fill-opacity="0.41"/><rect x="183.5" y="356" width="140.8" height="1" fill-opacity="0.42"/><rect x="183.5" y="357" width="140.8" height="1" fill-opacity="0.44"/><rect x="227.7" y="222.2" width="9.7" height="135.2" fill-opacity="0.9"/><rect x="239" y="250" width="31" height="85" fill-opacity="0.3"/><rect x="270.5" y="222.2" width="6" height="135.2" fill="#fff" fill-opacity="0.5"/><rect x="276.5" y="222.2" width="48" height="135.2" fill="#fff" fill-opacity="0.3"/></g>
<path d="M229 224.5h1M233 224.5h1M235 224.5h2M230 225.5h3M235 225.5h1M237 225.5h1M228 226.5h3M234 226.5h1M237 226.5h1M228.3 228.5h2M232.3 228.5h1M234.3 228.5h3M230 229.5h1M233 229.5h1M237 229.5h1M229.8 230.5h1M233.8 230.5h1M228 231.5h3M234 231.5h1M237 231.5h1M228.5 232.5h2M232.5 232.5h1M234.5 232.5h1M236.5 232.5h1M228.5 235.5h1M230.5 235.5h3M234.5 235.5h2M227.7 236.5h1M231.7 236.5h1M234.7 236.5h1M230.5 238.5h3M234.5 238.5h2M228.4 239.5h3M232.4 239.5h3M236.4 239.5h1M229.2 240.5h1M231.2 240.5h1M234.2 240.5h1M236.2 240.5h1M229.8 242.5h2M233.8 242.5h3M230.2 243.5h2M235.2 243.5h2M230.1 244.5h1M234.1 244.5h3M228.1 245.5h1M231.1 245.5h3M235.1 245.5h1M237.1 245.5h3M230.5 247.5h2M234.5 247.5h3M227.7 250.5h1M230.7 250.5h1M233.7 250.5h1M228.8 251.5h3M234.8 251.5h3M230.1 257.5h2M235.1 257.5h1M228.6 259.5h1M230.6 259.5h2M235.6 259.5h3M230.5 261.5h1M232.5 261.5h1M234.5 261.5h2M229.3 266.5h1M231.3 266.5h2M236.3 266.5h3M230 269.5h1M234 269.5h2M230.2 270.5h2M233.2 270.5h1M235.2 270.5h2M230.6 273.5h1M234.6 273.5h3M227.9 274.5h3M232.9 274.5h1M235.9 274.5h3M229 276.5h1M233 276.5h2M236 276.5h3M228.6 277.5h1M231.6 277.5h1M234.6 277.5h1M227.9 279.5h3M231.9 279.5h1M234.9 279.5h1M229.8 282.5h3M233.8 282.5h1M235.8 282.5h1M228.2 283.5h1M232.2 283.5h3M230 284.5h1M234 284.5h1M237 284.5h1M228.7 285.5h1M231.7 285.5h1M233.7 285.5h3M227.7 286.5h2M230.7 286.5h1M233.7 286.5h3M230 288.5h2M233 288.5h1M236 288.5h2M228.7 289.5h1M231.7 289.5h3M228.7 293.5h1M232.7 293.5h3M236.7 293.5h1M229.9 295.5h1M232.9 295.5h1M236.9 295.5h3M228.9 297.5h1M230.9 297.5h3M235.9 297.5h1M230 298.5h2M233 298.5h1M236 298.5h3M230.6 300.5h1M233.6 300.5h1M236.6 300.5h1M227.8 303.5h1M230.8 303.5h3M236.8 303.5h1M230 304.5h3M235 304.5h3M230 308.5h3M234 308.5h2M237 308.5h3M228.1 309.5h2M232.1 309.5h1M236.1 309.5h1M229.8 311.5h1M232.8 311.5h1M234.8 311.5h1M228.4 315.5h2M233.4 315.5h1M235.4 315.5h1M228.1 316.5h2M232.1 316.5h1M234.1 316.5h2M228 320.5h3M233 320.5h2M237 320.5h3M229.4 323.5h2M232.4 323.5h1M236.4 323.5h3M229.7 324.5h1M231.7 324.5h1M233.7 324.5h3M229.5 325.5h2M232.5 325.5h1M234.5 325.5h3M228 328.5h1M231 328.5h2M236 328.5h3M228.2 329.5h1M232.2 329.5h3M236.2 329.5h1M229.2 331.5h2M233.2 331.5h1M236.2 331.5h2M229.4 332.5h1M233.4 332.5h3M228 333.5h2M231 333.5h2M235 333.5h2M228.1 334.5h1M231.1 334.5h2M234.1 334.5h2M230.1 335.5h2M235.1 335.5h3M228.1 339.5h3M232.1 339.5h3M229.5 341.5h1M232.5 341.5h3M229.8 343.5h1M233.8 343.5h1M235.8 343.5h1M229.6 344.5h1M233.6 344.5h2M236.6 344.5h3M228.6 345.5h1M231.6 345.5h3M236.6 345.5h3M229.5 348.5h3M233.5 348.5h1M236.5 348.5h1M229.6 349.5h3M233.6 349.5h1M235.6 349.5h3M229.4 351.5h1M231.4 351.5h3M236.4 351.5h3M230.4 352.5h1M234.4 352.5h1M228.6 354.5h1M230.6 354.5h2M234.6 354.5h2M229.6 355.5h1M231.6 355.5h1M234.6 355.5h1M236.6 355.5h2M230 356.5h3M234 356.5h2" fill="none" stroke="#f03030" stroke-width="1" stroke-opacity="0.45"/>
<rect x="183.5" y="222.2" width="140.8" height="135.2" fill="none" stroke="#444" stroke-width="0.8"/>
<text x="18.8" y="222.5" font-size="8.60" text-anchor="end" fill="#222" transform="rotate(-90 18.8 222.5)">290</text>
<text x="21.8" y="361" font-size="8.60" text-anchor="end" fill="#222">1</text>
<text x="24.4" y="368" font-size="8.60" text-anchor="middle" fill="#222">0</text>
<text x="156.8" y="368" font-size="8.60" text-anchor="middle" fill="#222">40</text>
<text x="92.2" y="379" font-size="9.30" text-anchor="middle" fill="#222">Time (min)</text>
<text x="178.7" y="222.5" font-size="8.60" text-anchor="end" fill="#222" transform="rotate(-90 178.7 222.5)">225</text>
<text x="181.7" y="361" font-size="8.60" text-anchor="end" fill="#222">1</text>
<text x="184.3" y="368" font-size="8.60" text-anchor="middle" fill="#222">0</text>
<text x="316.8" y="368" font-size="8.60" text-anchor="middle" fill="#222">40</text>
<text x="252.1" y="379" font-size="9.30" text-anchor="middle" fill="#222">Time (min)</text>
<text x="11" y="289.7" font-size="9.30" text-anchor="middle" fill="#222" transform="rotate(-90 11 289.7)">PN index</text>
<line x1="8.4" y1="352.8" x2="8.4" y2="392" stroke="#e8783a" stroke-width="5.2" />
<path d="M1.8 388 L15 388 L8.4 403.6Z" fill="#e8783a"/>
<rect x="110.4" y="397.9" width="6.4" height="69.8" fill="#ececec" />
<path d="M24.2 467.7L24.2 461.3L24.5 460L24.7 465.2L25 465.5L25.2 462.4L25.5 458.9L25.7 462.2L26 466.1L26.2 465.1L26.5 463.4L26.7 460.9L27 463.3L27.2 464.1L27.5 463.8L27.7 462.8L28 465.1L28.2 463.2L28.5 462.6L28.7 459.2L29 463.4L29.2 460.8L29.5 465.8L29.7 461.1L30 462.8L30.2 464.5L30.5 463.3L30.7 461L31 464L31.2 460.7L31.5 459.5L31.7 459.2L32 459.2L32.2 466.3L32.5 462.4L32.7 464.9L33 460.9L33.2 463L33.5 462.7L33.7 462.1L34 464.7L34.2 463L34.5 465L34.7 458.1L35 464.3L35.2 463.2L35.5 467.6L35.7 466.9L36 465.3L36.2 461.2L36.5 461.3L36.7 462.5L37 464.8L37.2 458.6L37.5 465.7L37.7 465.3L38 462L38.2 465.6L38.5 462.5L38.7 460.7L39 463.3L39.2 462.1L39.5 463L39.7 464.7L40 464.2L40.3 466.1L40.5 462.8L40.8 467.2L41 464.2L41.3 461.9L41.5 458.5L41.8 466.4L42 463.7L42.3 461.2L42.5 459.9L42.8 466.2L43 454.6L43.3 464L43.5 456.5L43.8 461.2L44 458.4L44.3 452.6L44.5 456.4L44.8 458.7L45 463.8L45.3 462L45.5 465.8L45.8 447.8L46 466.4L46.3 463.6L46.5 449L46.8 450.9L47 459.8L47.3 453.3L47.5 462.4L47.8 461.1L48 455.5L48.3 456.3L48.5 460.9L48.8 450.8L49 455.5L49.3 458.7L49.5 464.9L49.8 459.3L50 461.5L50.3 460.7L50.5 457.6L50.8 463.1L51 460.2L51.3 458.5L51.5 460.3L51.8 453.9L52 467.5L52.3 462L52.5 465.7L52.8 462L53 453.2L53.3 467.2L53.5 462.4L53.8 458.7L54 460.4L54.3 456.8L54.5 466.7L54.8 455.4L55 463.8L55.3 464.9L55.6 455.7L55.8 455.7L56.1 461.9L56.3 462.3L56.6 458.7L56.8 457.5L57.1 458.4L57.3 463.3L57.6 464.7L57.8 450.6L58.1 457.2L58.3 464.9L58.6 466.6L58.8 462.5L59.1 461.5L59.3 466.2L59.6 454.8L59.8 459.2L60.1 462.4L60.3 460.3L60.6 461.1L60.8 458.8L61.1 461.9L61.3 458.9L61.6 458.3L61.8 463.7L62.1 464.1L62.3 465.3L62.6 463.7L62.8 465L63.1 463.1L63.3 462.4L63.6 461.9L63.8 466.1L64.1 460.5L64.3 464L64.6 463.5L64.8 464.5L65.1 467.1L65.3 462.6L65.6 467.7L65.8 460.4L66.1 463.1L66.3 459.3L66.6 461.5L66.8 461.4L67.1 459.5L67.3 463.2L67.6 459L67.8 463.4L68.1 462.3L68.3 464.7L68.6 461.3L68.8 460.8L69.1 464L69.3 466.2L69.6 462.4L69.8 460.8L70.1 462.4L70.3 465L70.6 464L70.8 462.1L71.1 464.4L71.4 462.9L71.6 454.2L71.9 465.6L72.1 460.6L72.4 451.2L72.6 455.4L72.9 453.9L73.1 459.1L73.4 465.3L73.6 441.7L73.9 455.8L74.1 456L74.4 447.5L74.6 452.3L74.9 456.7L75.1 463.7L75.4 458.1L75.6 458.1L75.9 461.3L76.1 462.5L76.4 463.4L76.6 458.7L76.9 461.5L77.1 456.5L77.4 453.9L77.6 457.7L77.9 459.5L78.1 453.1L78.4 457.5L78.6 466.5L78.9 463.6L79.1 460.4L79.4 464.5L79.6 459.1L79.9 467.7L80.1 467.2L80.4 459.3L80.6 460.7L80.9 467.2L81.1 462.5L81.4 459.1L81.6 465.9L81.9 466.2L82.1 466.3L82.4 465.7L82.6 467.6L82.9 464.4L83.1 466.9L83.4 463L83.6 457.5L83.9 465.9L84.1 460.9L84.4 460.2L84.6 466.3L84.9 462.9L85.1 463.2L85.4 464L85.6 461.1L85.9 464.3L86.1 462.2L86.4 464.1L86.7 463.4L86.9 465.1L87.2 456.7L87.4 463L87.7 465.9L87.9 457.2L88.2 458.1L88.4 463.1L88.7 464.4L88.9 464.6L89.2 458.3L89.4 463.1L89.7 464.2L89.9 458.9L90.2 462.5L90.4 461.6L90.7 454.1L90.9 457.8L91.2 456L91.4 459L91.7 455.2L91.9 461L92.2 455.9L92.4 455.3L92.7 461.6L92.9 465.5L93.2 456.9L93.4 459.9L93.7 456.3L93.9 462L94.2 456.4L94.4 454.2L94.7 447.1L94.9 450L95.2 456.9L95.4 451.8L95.7 462.1L95.9 453.3L96.2 458.5L96.4 452.8L96.7 457.8L96.9 460.6L97.2 462.9L97.4 454.2L97.7 459.7L97.9 457.1L98.2 458.4L98.4 466.5L98.7 458.4L98.9 462.4L99.2 459.6L99.4 459.5L99.7 467.5L99.9 462.7L100.2 462L100.4 460.7L100.7 459.1L100.9 464.3L101.2 463L101.4 460.6L101.7 467.5L101.9 457.2L102.2 465.4L102.5 459L102.7 462.4L103 457.6L103.2 459.9L103.5 462.9L103.7 467.5L104 462.5L104.2 461.9L104.5 461.2L104.7 466.3L105 465L105.2 464.8L105.5 461.6L105.7 465L106 462.5L106.2 459L106.5 463.2L106.7 457L107 460.4L107.2 462.1L107.5 456.8L107.7 458.7L108 461.6L108.2 462.7L108.5 460L108.7 457.9L109 453.6L109.2 457.5L109.5 461.7L109.7 465.4L110 456.4L110.2 455.2L110.5 450.4L110.7 460.1L111 464.7L111.2 450.9L111.5 457.2L111.7 464L112 444.4L112.2 449.4L112.5 455L112.7 453.4L113 460.6L113.2 448.5L113.5 458.5L113.7 458.7L114 457.7L114.2 463.5L114.5 449.2L114.7 445.5L115 451.7L115.2 465.9L115.5 458.9L115.7 461.2L116 455.7L116.2 465.6L116.5 465.6L116.7 461.1L117 454.3L117.2 460.3L117.5 449.8L117.8 463.7L118 460.2L118.3 461.3L118.5 464.1L118.8 457.1L119 466.1L119.3 465.3L119.5 463L119.8 463.6L120 458.6L120.3 463.9L120.5 461L120.8 463.9L121 459L121.3 462.8L121.5 462.1L121.8 467.3L122 461L122.3 464.7L122.5 460.6L122.8 461.6L123 461.5L123.3 460L123.5 461.9L123.8 465.3L124 462.4L124.3 462.3L124.5 466L124.8 460.9L125 458.2L125.3 461.7L125.5 461.9L125.8 460.7L126 458.4L126.3 463.6L126.5 458.4L126.8 464.1L127 459.3L127.3 459.1L127.5 465.8L127.8 458.1L128 459.6L128.3 467.3L128.5 462.1L128.8 462.8L129 463.9L129.3 458L129.5 463.4L129.8 459.6L130 464.7L130.3 461L130.5 451.7L130.8 458.1L131 466.8L131.3 464.2L131.5 460.9L131.8 467.1L132 456.6L132.3 460.9L132.5 461.2L132.8 460.9L133 463.8L133.3 465.5L133.6 463.1L133.8 467.2L134.1 461.3L134.3 460.1L134.6 462.9L134.8 467.5L135.1 463.6L135.3 462.6L135.6 466.4L135.8 459.1L136.1 466L136.3 463L136.6 465.9L136.8 460.7L137.1 466.4L137.3 465.5L137.6 460.4L137.8 466.4L138.1 464.6L138.3 461.9L138.6 462.4L138.8 467.7L139.1 461.8L139.3 464L139.6 460.2L139.8 467.6L140.1 461.4L140.3 462.3L140.6 464.2L140.8 464.4L141.1 462.3L141.3 465L141.6 464.2L141.8 465.2L142.1 463L142.3 461.6L142.6 467.3L142.8 463.2L143.1 462.5L143.3 459.6L143.6 465.2L143.8 460.2L144.1 464.4L144.3 462.1L144.6 462.8L144.8 462.6L145.1 464.2L145.3 465.8L145.6 459.6L145.8 459.7L146.1 463.6L146.3 463.7L146.6 463.8L146.8 466.6L147.1 466.1L147.3 462.3L147.6 460.9L147.8 463.9L148.1 465.6L148.3 466L148.6 464.8L148.9 461.6L149.1 463.2L149.4 466.9L149.6 466.2L149.9 462.5L150.1 462.6L150.4 458.9L150.6 459.7L150.9 462.9L151.1 465L151.4 462.8L151.6 466.1L151.9 465L152.1 460.8L152.4 461.8L152.6 461L152.9 459.4L153.1 464.3L153.4 461.3L153.6 463.1L153.9 462.5L154.1 462.7L154.4 462L154.6 466.8L154.9 466.7L155.1 463.1L155.4 462.1L155.6 464.5L155.9 463.6L156.1 466.8L156.4 460.9L156.6 462.2L156.9 459.6L157.1 464.3L157.4 463.6L157.6 463.1L157.9 459.9L158.1 461.9L158.4 462.3L158.6 467.4L158.9 465.5L159.1 467L159.4 463.8L159.6 461.2L159.9 463.2L160.1 465.6L160.4 458.2L160.6 466.1L160.9 459.9L161.1 460.4L161.4 462.7L161.6 460L161.9 466L162.1 464.7L162.4 464.1L162.6 462.4L162.9 463.8L163.1 459.1L163.4 464.3L163.6 463.9L163.9 466.3L164.1 462.1L164.4 461.3L164.4 467.7" fill="#2042d2" stroke="#2042d2" stroke-width="0.5" stroke-opacity="0.8" fill-opacity="0.85"/>
<path d="M116.8 461.1 V457.8M78.7 463.6 V461.3M32.1 462.4 V460.9M37.2 465.7 V465.2M134.7 462.9 V460.2M45.4 447.8 V442.2M40.3 462.8 V460.4M86.1 462.2 V460.9M76.6 461.5 V457.6M83.7 465.9 V465M111.8 464 V462.6M101.9 457.2 V453.9M52.2 465.7 V464.9M66.9 459.5 V457.1M50.6 463.1 V460.1M83.7 465.9 V465.5M29.1 465.8 V465.3M145.2 464.2 V463.1M117.2 460.3 V458.6M114.9 451.7 V445.8M126.8 464.1 V462.6M76.8 461.5 V459.8M107.1 462.1 V458.8M120.6 463.9 V462.5M70.3 465 V463.3M142.1 463 V462.1M118.9 466.1 V465.2M118.4 464.1 V461.7M146.6 463.8 V462.9M162.9 463.8 V462.6M77.4 457.7 V450.9M47.9 456.3 V452.5M111.5 457.2 V454.4M61.7 464.1 V462.1M109.7 465.4 V464.1M134.3 460.1 V455.3M148.6 464.8 V463.1M160.4 458.2 V454.5M122 461 V458.3M159.1 467 V466.6M84.4 466.3 V465.6M65.6 460.4 V459.2M78.3 457.5 V455.6M25.3 462.2 V461.4M87.7 457.2 V451.3M31.4 459.2 V455.1M40.1 462.8 V460.9M65.7 460.4 V457.8M123.4 461.9 V459.9M79 460.4 V456.5M40.8 464.2 V463.1M122 461 V457M160.5 458.2 V455.8M111.4 457.2 V454.2M122 461 V457M43.4 461.2 V459.2M154.6 462 V460.2M112.4 455 V447.5M63.4 461.9 V458.5M25.2 458.9 V456.3M47.8 455.5 V451.8M54.3 466.7 V466.6M136.1 466 V465.6M104.2 461.9 V459.4M142.5 467.3 V467M110.9 464.7 V464.2M130.2 461 V459.9M153.5 461.3 V459.5M59.8 462.4 V461.2M79.6 467.7 V467.6" fill="none" stroke="#4a6ae6" stroke-width="0.8" stroke-opacity="0.55"/>
<path d="M63.4 465.7 V439.3M86.3 465.7 V433.1M110.4 465.7 V421.3M115.9 465.7 V429.3M119.2 465.7 V423.7M130.1 465.7 V401.9M142.2 465.7 V420.6M153.1 465.7 V445" fill="none" stroke="#4a6ae6" stroke-width="0.9"/>
<line x1="23.7" y1="397.9" x2="23.7" y2="467.7" stroke="#444" stroke-width="0.9" />
<line x1="23.7" y1="467.7" x2="164.4" y2="467.7" stroke="#444" stroke-width="0.9" />
<path d="M23.7 459h2M23.7 450.2h2M23.7 441.5h2M23.7 432.8h2M23.7 424.1h2M23.7 415.3h2M23.7 406.6h2" fill="none" stroke="#444" stroke-width="0.6"/>
<text x="22.2" y="401.3" font-size="8.60" text-anchor="end" fill="#222">40</text>
<text x="22.2" y="471.1" font-size="8.60" text-anchor="end" fill="#222">0</text>
<rect x="255.3" y="397.9" width="6.4" height="69.8" fill="#ececec" />
<path d="M184.5 467.7L184.5 463L184.8 467.6L185 465.3L185.3 466.6L185.5 465.9L185.8 463.5L186 466.4L186.3 463.3L186.5 464.2L186.8 465.1L187 460.5L187.3 466.1L187.5 467.2L187.8 464.3L188 464.8L188.3 466.4L188.5 465.9L188.8 466.4L189 461.7L189.3 467.2L189.5 462.2L189.8 463.4L190 465.7L190.3 464.7L190.5 463.8L190.8 462.8L191 462.3L191.3 462.5L191.5 465.2L191.8 465.6L192 465.5L192.3 464L192.5 467L192.8 467.3L193 460.3L193.3 463.1L193.5 462.8L193.8 465.5L194 466.8L194.3 465.9L194.5 466.7L194.8 466.3L195 467L195.3 463.6L195.5 464.2L195.8 463.1L196 464.7L196.3 466.4L196.5 459.8L196.8 462.3L197 463.1L197.3 462.2L197.5 465.1L197.8 462.2L198 466.2L198.3 461L198.5 461L198.8 461.1L199 462.3L199.3 463L199.5 462.5L199.8 460.6L200 464.7L200.3 460.2L200.6 459.8L200.8 467.7L201.1 465.9L201.3 461.4L201.6 463.9L201.8 465.8L202.1 467.6L202.3 467.1L202.6 466.1L202.8 464L203.1 466.5L203.3 465.9L203.6 463.3L203.8 457.3L204.1 458.6L204.3 463.8L204.6 462L204.8 464.3L205.1 464L205.3 466.2L205.6 463.9L205.8 467.1L206.1 466.2L206.3 464.6L206.6 464.5L206.8 458.9L207.1 466.7L207.3 467.3L207.6 462.8L207.8 463L208.1 462.7L208.3 464.8L208.6 467L208.8 465.3L209.1 467.6L209.3 464.4L209.6 458.9L209.8 464.9L210.1 463.5L210.3 460.1L210.6 467.4L210.8 460.6L211.1 464.4L211.3 465.6L211.6 464.2L211.8 466.6L212.1 458.8L212.3 461.9L212.6 464.2L212.8 459.8L213.1 466.6L213.3 460.6L213.6 455.6L213.8 464.5L214.1 458.2L214.3 466.1L214.6 465L214.8 467L215.1 457.8L215.3 460.5L215.6 465L215.9 459.5L216.1 463.8L216.4 462.1L216.6 467L216.9 463.9L217.1 463L217.4 461.2L217.6 466.6L217.9 458.9L218.1 463.1L218.4 459.1L218.6 462.4L218.9 461.1L219.1 465.1L219.4 467.1L219.6 459.3L219.9 461.6L220.1 463.2L220.4 467L220.6 462.9L220.9 467.2L221.1 463.8L221.4 463L221.6 463.9L221.9 467.2L222.1 463.7L222.4 464.6L222.6 463.8L222.9 462.3L223.1 466.4L223.4 466.8L223.6 465.7L223.9 461.4L224.1 466.7L224.4 461.6L224.6 463.7L224.9 461.4L225.1 463.7L225.4 462.8L225.6 464.7L225.9 462.3L226.1 467.1L226.4 459.5L226.6 465.9L226.9 464.7L227.1 463.9L227.4 461.2L227.6 461.7L227.9 466.3L228.1 459.6L228.4 457.6L228.6 464L228.9 458.6L229.1 463.3L229.4 447.7L229.6 457.3L229.9 450.1L230.1 466.8L230.4 442.6L230.6 443.6L230.9 463.8L231.1 432.5L231.4 467L231.7 467.3L231.9 437.7L232.2 423.1L232.4 439.2L232.7 451.4L232.9 460L233.2 460.4L233.4 446.1L233.7 443.9L233.9 464.1L234.2 442.7L234.4 453.6L234.7 447.9L234.9 463.8L235.2 466.7L235.4 427.5L235.7 446.8L235.9 457.9L236.2 466.6L236.4 442.4L236.7 456L236.9 464L237.2 458.6L237.4 452.4L237.7 454.7L237.9 457.2L238.2 466.9L238.4 464.4L238.7 456.3L238.9 463.7L239.2 459.5L239.4 462.3L239.7 464.2L239.9 460.8L240.2 463.6L240.4 457.2L240.7 460.5L240.9 459.9L241.2 461L241.4 464.1L241.7 466.1L241.9 466.2L242.2 456.8L242.4 462.9L242.7 463L242.9 460.1L243.2 460.3L243.4 463.4L243.7 457.3L243.9 465.7L244.2 440.8L244.4 462.2L244.7 466.1L244.9 457.8L245.2 457.2L245.4 452L245.7 457L245.9 454L246.2 458.8L246.4 461.1L246.7 466.6L247 464.5L247.2 460.2L247.5 467.4L247.7 455L248 462L248.2 452.8L248.5 455.1L248.7 461.9L249 439.9L249.2 450.1L249.5 464L249.7 456L250 463.2L250.2 465.6L250.5 457.1L250.7 461.9L251 450.5L251.2 466L251.5 455L251.7 445.6L252 454.6L252.2 439.6L252.5 438.9L252.7 467.6L253 460.1L253.2 461.9L253.5 443.2L253.7 461.3L254 459.8L254.2 462.7L254.5 460L254.7 458.7L255 458.8L255.2 457.1L255.5 464.2L255.7 457.6L256 461.3L256.2 461L256.5 459.6L256.7 449.4L257 454.5L257.2 450.6L257.5 463.5L257.7 462.8L258 457.8L258.2 447.4L258.5 456L258.7 461L259 463.6L259.2 451.9L259.5 463.9L259.7 462.6L260 451.5L260.2 454.5L260.5 442.4L260.7 467.1L261 465.6L261.2 454.4L261.5 440.4L261.7 454.3L262 450.1L262.2 466L262.5 454.2L262.8 465L263 462.1L263.3 451L263.5 447.3L263.8 463.5L264 455.8L264.3 452.3L264.5 459L264.8 456.5L265 453.6L265.3 464.5L265.5 466.7L265.8 452.1L266 434L266.3 459.8L266.5 460.4L266.8 437.9L267 462.5L267.3 463.3L267.5 439.7L267.8 451.3L268 451.7L268.3 460.4L268.5 449.4L268.8 461.1L269 453.7L269.3 457.4L269.5 451.3L269.8 457.6L270 454L270.3 465.4L270.5 459L270.8 461.4L271 465.5L271.3 467.3L271.5 464.9L271.8 466.8L272 465.8L272.3 466L272.5 466.4L272.8 464.7L273 464.7L273.3 467.2L273.5 466.7L273.8 464.6L274 466.2L274.3 466.1L274.5 467.1L274.8 466.4L275 465.7L275.3 467.3L275.5 465.3L275.8 465.8L276 466L276.3 463.3L276.5 466.9L276.8 462.8L277 464.5L277.3 459.6L277.5 467L277.8 466.6L278.1 464.3L278.3 463.5L278.6 465.7L278.8 463.5L279.1 464.9L279.3 467.2L279.6 464.5L279.8 463.4L280.1 464.3L280.3 465.4L280.6 467L280.8 463.6L281.1 462.1L281.3 467.3L281.6 463.8L281.8 466.5L282.1 464.7L282.3 464.6L282.6 465.5L282.8 463.8L283.1 467.2L283.3 467.5L283.6 464.9L283.8 465.7L284.1 464.5L284.3 462.2L284.6 467.6L284.8 464.6L285.1 466.2L285.3 463.9L285.6 467.2L285.8 464.5L286.1 464.1L286.3 463.3L286.6 464.1L286.8 466.8L287.1 466.8L287.3 466.6L287.6 465.6L287.8 467.3L288.1 462.8L288.3 464.3L288.6 467.6L288.8 462L289.1 464.7L289.3 463.3L289.6 465.1L289.8 462.4L290.1 462.7L290.3 463.4L290.6 462.2L290.8 463.8L291.1 464.5L291.3 466.7L291.6 465.8L291.8 462.5L292.1 463.8L292.3 467.4L292.6 463.3L292.8 464.7L293.1 464.9L293.3 461.2L293.6 463L293.9 467.4L294.1 464.9L294.4 462.9L294.6 462.7L294.9 463.9L295.1 465.9L295.4 464.3L295.6 466.3L295.9 462.2L296.1 465.1L296.4 466.2L296.6 466.5L296.9 464.4L297.1 466.7L297.4 467.1L297.6 467L297.9 459.5L298.1 464.4L298.4 462.3L298.6 462.5L298.9 465.5L299.1 460.1L299.4 463.3L299.6 465.6L299.9 466.6L300.1 463.5L300.4 463.7L300.6 453.4L300.9 460.2L301.1 453.6L301.4 451.1L301.6 450.3L301.9 464.4L302.1 465.1L302.4 452L302.6 455.9L302.9 458.5L303.1 465.6L303.4 462.4L303.6 467.4L303.9 453.3L304.1 457L304.4 464.2L304.6 458.4L304.9 462.4L305.1 464.9L305.4 461.7L305.6 466.2L305.9 463.1L306.1 465.5L306.4 467L306.6 465.3L306.9 461.5L307.1 467.5L307.4 467L307.6 466.8L307.9 465.7L308.1 460.2L308.4 460.1L308.6 460.3L308.9 459.9L309.2 454.5L309.4 453.9L309.7 453L309.9 465.8L310.2 464.5L310.4 457.2L310.7 457.9L310.9 464.3L311.2 463.2L311.4 458.9L311.7 463.6L311.9 466L312.2 462.9L312.4 465.8L312.7 462.9L312.9 464L313.2 465.5L313.4 466.9L313.7 462.7L313.9 466.9L314.2 464.8L314.4 465.8L314.7 465L314.9 465.9L315.2 463L315.4 464.8L315.7 467.3L315.9 467.7L316.2 463.5L316.4 465.5L316.7 462.5L316.9 464.1L317.2 462.4L317.4 467.4L317.7 465.8L317.9 462.4L318.2 467.7L318.4 463.6L318.7 465.2L318.9 462.9L319.2 465.7L319.4 466.6L319.7 463.4L319.9 460.5L320.2 467.6L320.4 464.5L320.7 466.8L320.9 464L321.2 464.1L321.4 466.6L321.7 467.4L321.9 464.9L322.2 465L322.4 463.2L322.7 465.1L322.9 462.8L323.2 464.5L323.4 461.9L323.7 462.9L323.9 467.5L324.2 465.6L324.4 464.1L324.7 465.6L324.7 467.7" fill="#f01010" stroke="#f01010" stroke-width="0.5" stroke-opacity="0.8" fill-opacity="0.85"/>
<path d="M214.8 457.8 V452.2M269.2 457.4 V453.7M234.4 447.9 V438.5M316 467.7 V467.7M312.2 462.9 V459.5M203.3 463.3 V462.8M300 466.6 V466.4M257.4 463.5 V461.9M320.1 460.5 V457.9M203.7 458.6 V456.5M310.3 464.5 V462.6M204.4 462 V458.2M236.6 456 V449.8M263.3 447.3 V434.8M252.9 460.1 V459.2M262.3 454.2 V445.9M242 456.8 V450.3M246.9 460.2 V457.8M234.8 463.8 V462.9M254.4 460 V454.9M266.9 462.5 V459.5M209.9 463.5 V462.1M265.5 466.7 V466.4M186.2 464.2 V462M202.9 465.9 V465M321 464 V463M222.4 463.8 V462.7M260.2 454.5 V445.5M205.1 466.2 V465.8M309.3 454.5 V451M277.5 467 V466.7M185.1 465.9 V465.6M290.3 463.4 V460.7M281.4 467.3 V467.2M199 463 V461M200.2 459.8 V457.5M189.9 464.7 V463.5M249.8 463.2 V462M215.7 459.5 V458.4M188.9 467.2 V467.1M321.3 464.1 V463.7M284.4 462.2 V460.2M266.5 460.4 V458.4M321 464 V461.9M241.1 461 V458.5M312.3 462.9 V461.9M306.2 465.5 V464.5M263.6 463.5 V461.7M267 462.5 V461.7M219.6 461.6 V459.7M215.7 459.5 V458.3M283.9 465.7 V465M287.8 467.3 V467.2M315.6 464.8 V464.1M256.1 461 V458.6M294.7 462.7 V461.8M260.7 467.1 V466.9M271.6 466.8 V466.6M260.3 442.4 V425M199.3 462.5 V459M319.1 462.9 V461.1M196.2 459.8 V456.7M318.6 463.6 V463.1M289.4 463.3 V460.8M201 461.4 V458.4M205.6 467.1 V467M257.3 463.5 V462.3M276.4 466.9 V466.6M216.8 463 V459.9M185.8 463.3 V460.8" fill="none" stroke="#ff4a4a" stroke-width="0.8" stroke-opacity="0.55"/>
<path d="M235.4 465.7 V399.6M231 465.7 V422.3M236.5 465.7 V422.3M248 465.7 V443.3M256 465.7 V429.3M262 465.7 V429.3M266.5 465.7 V418.8M277.3 465.7 V424.9M292.2 465.7 V421.5M310.3 465.7 V433.7M304 465.7 V446.8M198 465.7 V452M210 465.7 V450.2" fill="none" stroke="#ff4a4a" stroke-width="0.9"/>
<line x1="184" y1="397.9" x2="184" y2="467.7" stroke="#444" stroke-width="0.9" />
<line x1="184" y1="467.7" x2="324.7" y2="467.7" stroke="#444" stroke-width="0.9" />
<path d="M184 459h2M184 450.2h2M184 441.5h2M184 432.8h2M184 424.1h2M184 415.3h2M184 406.6h2" fill="none" stroke="#444" stroke-width="0.6"/>
<text x="182.5" y="401.3" font-size="8.60" text-anchor="end" fill="#222">40</text>
<text x="182.5" y="471.1" font-size="8.60" text-anchor="end" fill="#222">0</text>
<line x1="25.5" y1="420.7" x2="44.6" y2="420.7" stroke="#111" stroke-width="1.6" />
<text x="35" y="418.6" font-size="8" text-anchor="middle" fill="#111">5 min</text>
<polyline points="24.2,554.8 24.5,557.1 24.9,554.6 25.2,554.3 25.5,553.9 25.8,553 26.2,551 26.5,548.3 26.8,549.4 27.1,551.6 27.5,555.6 27.8,555 28.1,555.6 28.5,556.6 28.8,553.2 29.1,553.6 29.4,548.4 29.8,547.2 30.1,552.5 30.4,553 30.7,555.3 31.1,555.6 31.4,554.2 31.7,552.1 32.1,550.4 32.4,549.3 32.7,547.6 33,545.2 33.4,544 33.7,542 34,546.5 34.3,547.8 34.7,549.8 35,552.8 35.3,552.4 35.7,554.4 36,557.5 36.3,557.3 36.6,556.2 37,553.7 37.3,551.5 37.6,547.7 37.9,545.5 38.3,539.8 38.6,538 38.9,543.5 39.3,547.9 39.6,547.9 39.9,547.7 40.2,550.3 40.6,551 40.9,553.5 41.2,555.7 41.5,554.3 41.9,556.2 42.2,554.3 42.5,553.4 42.9,552.4 43.2,550.6 43.5,549.8 43.8,553.5 44.2,555.8 44.5,553.7 44.8,556.9 45.1,555.5 45.5,553.8 45.8,552.4 46.1,553.6 46.5,551.9 46.8,552.5 47.1,550.3 47.4,546.8 47.8,545 48.1,540.1 48.4,532.8 48.7,542.3 49.1,547.1 49.4,551.2 49.7,553 50,554 50.4,554.7 50.7,553.9 51,551.8 51.4,550.4 51.7,548.9 52,546.1 52.3,548.1 52.7,549.9 53,549 53.3,550.3 53.6,549.4 54,549.2 54.3,548.2 54.6,546.3 55,546.6 55.3,544.3 55.6,539.3 55.9,534.7 56.3,541.1 56.6,545.2 56.9,549.9 57.2,552.4 57.6,556.6 57.9,555.7 58.2,554.9 58.6,554.5 58.9,551.1 59.2,546.2 59.5,542.9 59.9,537.6 60.2,530.2 60.5,535.6 60.8,540.8 61.2,545.2 61.5,547.7 61.8,547.8 62.2,550.4 62.5,550.9 62.8,553.4 63.1,554.2 63.5,553.9 63.8,551.9 64.1,550.7 64.4,546.8 64.8,544.9 65.1,536.1 65.4,537.3 65.8,543.3 66.1,549.5 66.4,551.5 66.7,551.8 67.1,551.6 67.4,549 67.7,550.5 68,551.9 68.4,555.1 68.7,556.7 69,554.5 69.4,555 69.7,553.6 70,554.1 70.3,549.7 70.7,549.1 71,552.4 71.3,555 71.6,556.6 72,557.9 72.3,557.2 72.6,555.1 73,554.5 73.3,555 73.6,554.6 73.9,556.9 74.3,555.1 74.6,554.9 74.9,555.7 75.2,553.4 75.6,552.3 75.9,553.5 76.2,552.9 76.6,552.6 76.9,554.9 77.2,555.5 77.5,553.1 77.9,551.4 78.2,545.8 78.5,540.3 78.8,534.3 79.2,537.8 79.5,542.1 79.8,549.7 80.2,552.2 80.5,552.1 80.8,550.6 81.1,551.9 81.5,552.8 81.8,552.8 82.1,552.8 82.4,554.3 82.8,555.1 83.1,552.7 83.4,553.8 83.8,550.1 84.1,552.1 84.4,549.1 84.7,554.2 85.1,556.5 85.4,555.6 85.7,558.3 86,556.2 86.4,555.4 86.7,555.2 87,553.2 87.4,554.7 87.7,555.6 88,555.7 88.3,554.6 88.7,551.9 89,546.1 89.3,546.3 89.6,547.2 90,549 90.3,553.6 90.6,556.1 91,556 91.3,555.6 91.6,553.8 91.9,553.1 92.3,553 92.6,551.2 92.9,549.5 93.2,545.7 93.6,539.9 93.9,536 94.2,540.1 94.5,545.5 94.9,544.7 95.2,549 95.5,550.1 95.9,550 96.2,552.3 96.5,551.6 96.8,550 97.2,546.3 97.5,542.5 97.8,538.5 98.1,538.9 98.5,544.6 98.8,551.8 99.1,553 99.5,556.1 99.8,555.8 100.1,552.4 100.4,552.9 100.8,553 101.1,553.8 101.4,552.4 101.7,552.6 102.1,552.4 102.4,551.3 102.7,552.7 103.1,551 103.4,553 103.7,555.6 104,555.4 104.4,556.3 104.7,555.6 105,557.4 105.3,555.8 105.7,555.3 106,556.3 106.3,554.5 106.7,556.2 107,556.4 107.3,553.8 107.6,551.3 108,553.3 108.3,551.3 108.6,552.5 108.9,551.3 109.3,552.5 109.6,549.8 109.9,550.7 110.3,546.1 110.6,544.9 110.9,538.4 111.2,533.4 111.6,524.6 111.9,531.9 112.2,540.1 112.5,546.8 112.9,548.3 113.2,552.1 113.5,551.3 113.9,551.9 114.2,551.6 114.5,551.8 114.8,551.3 115.2,549.3 115.5,547.5 115.8,548.6 116.1,549.7 116.5,550 116.8,550.5 117.1,549.5 117.5,553 117.8,552.6 118.1,555 118.4,553.7 118.8,551 119.1,550.7 119.4,550.9 119.7,554.2 120.1,555.8 120.4,557.2 120.7,559.1 121.1,557.3 121.4,556.3 121.7,554.9 122,553.6 122.4,551.2 122.7,547.3 123,548.8 123.3,546.2 123.7,542.2 124,534.9 124.3,525.9 124.7,521 125,531.7 125.3,537.9 125.6,544.7 126,549.1 126.3,553.2 126.6,552.8 126.9,554 127.3,553.5 127.6,551.1 127.9,547.8 128.3,545.7 128.6,545 128.9,550.5 129.2,550.6 129.6,551 129.9,552 130.2,550.2 130.5,550.9 130.9,550.5 131.2,551.9 131.5,551 131.9,552.5 132.2,548.1 132.5,546.8 132.8,543.9 133.2,539.2 133.5,533.2 133.8,540.9 134.1,546.8 134.5,551.8 134.8,551.6 135.1,551.8 135.5,553.4 135.8,550.4 136.1,553.3 136.4,551.9 136.8,552.5 137.1,552.9 137.4,549.4 137.7,546.1 138.1,539.7 138.4,535.2 138.7,525.4 139,521.6 139.4,534.1 139.7,542.4 140,546.7 140.4,550.1 140.7,550.7 141,552.2 141.3,551.2 141.7,552.4 142,554.4 142.3,552.5 142.6,550.6 143,553.3 143.3,552.7 143.6,552.8 144,551.6 144.3,551 144.6,553.8 144.9,554.3 145.3,555.1 145.6,555.9 145.9,556.5 146.2,554.6 146.6,554.3 146.9,551.9 147.2,553.3 147.6,553.7 147.9,553.2 148.2,552.3 148.5,554.6 148.9,555.6 149.2,554.7 149.5,554.3 149.8,554.5 150.2,554.5 150.5,556.3 150.8,554.5 151.2,553.6 151.5,551.2 151.8,548.8 152.1,545.8 152.5,542.6 152.8,545 153.1,549.4 153.4,551.7 153.8,554.5 154.1,553.4 154.4,550.8 154.8,550 155.1,548.6 155.4,545.4 155.7,540.5 156.1,532.8 156.4,523 156.7,506.5 157,513 157.4,523.8 157.7,531.7 158,538.4 158.4,543 158.7,547.6 159,549.3 159.3,550.5 159.7,549.1 160,548.9 160.3,546.6 160.6,546 161,548.1 161.3,553.2" fill="none" stroke="#4066e0" stroke-width="0.85" />
<line x1="23.7" y1="491.9" x2="23.7" y2="561.2" stroke="#444" stroke-width="0.9" />
<line x1="23.7" y1="561.2" x2="161.8" y2="561.2" stroke="#444" stroke-width="0.9" />
<path d="M65.5 561.2v-2M107.4 561.2v-2M149.2 561.2v-2" fill="none" stroke="#444" stroke-width="0.6"/>
<path d="M23.7 533.5h2M23.7 505.8h2" fill="none" stroke="#444" stroke-width="0.6"/>
<text x="22.2" y="495.3" font-size="8.60" text-anchor="end" fill="#222">25</text>
<text x="22.2" y="564.6" font-size="8.60" text-anchor="end" fill="#222">0</text>
<rect x="78.2" y="485" width="33" height="11" fill="#ececec" />
<text x="94.8" y="493.8" font-size="8.40" text-anchor="middle" font-weight="bold" fill="#111">zoom-in</text>
<text x="95.2" y="572.5" font-size="9.60" text-anchor="middle" fill="#111">Time</text>
<polyline points="185,556.7 185.3,554.2 185.7,551.3 186,549.1 186.3,552.3 186.6,555.8 187,556.6 187.3,556.9 187.6,556.7 188,556.2 188.3,553.9 188.6,549.8 189,553.4 189.3,555 189.6,557.6 189.9,557.8 190.3,558.8 190.6,560 190.9,559.3 191.3,559.7 191.6,559.4 191.9,559.8 192.3,560.1 192.6,559.9 192.9,560.5 193.2,559.6 193.6,559.2 193.9,560 194.2,559.3 194.6,560.2 194.9,559.7 195.2,560.7 195.6,559.8 195.9,559 196.2,558.8 196.5,558.8 196.9,558.5 197.2,556.6 197.5,556.2 197.9,553.4 198.2,549.6 198.5,543.5 198.9,550.5 199.2,554.2 199.5,556 199.8,557.2 200.2,557.3 200.5,557.3 200.8,558.4 201.2,556.7 201.5,556.8 201.8,554.9 202.2,551.1 202.5,545.9 202.8,537.3 203.1,519.2 203.5,533.8 203.8,544.8 204.1,549.3 204.5,553.3 204.8,556.1 205.1,557.8 205.4,558.8 205.8,559.2 206.1,559.1 206.4,559.4 206.8,559.3 207.1,559 207.4,559.9 207.8,558.9 208.1,557.3 208.4,557.2 208.7,554.7 209.1,551.8 209.4,547.7 209.7,538.7 210.1,523.9 210.4,500.1 210.7,523.1 211.1,537.7 211.4,547 211.7,551.3 212,556.2 212.4,556 212.7,558.1 213,558.7 213.4,558.4 213.7,558.7 214,557.3 214.4,557.6 214.7,556 215,554.6 215.3,549.7 215.7,544.1 216,532.4 216.3,524.3 216.7,538.6 217,546.2 217.3,551.2 217.7,552.5 218,551.4 218.3,550.9 218.6,545.2 219,538.4 219.3,542.9 219.6,549.1 220,553.8 220.3,555.4 220.6,557 221,558 221.3,559.1 221.6,559.4 221.9,558.2 222.3,558.3 222.6,557.9 222.9,556.3 223.3,554.6 223.6,550 223.9,544.7 224.3,534.2 224.6,533.1 224.9,544.1 225.2,549.2 225.6,554 225.9,556.3 226.2,557.4 226.6,559.1 226.9,557.7 227.2,558.7 227.5,558.4 227.9,557.3 228.2,556.1 228.5,554.1 228.9,550.1 229.2,543.2 229.5,532.5 229.9,541.1 230.2,549.1 230.5,552.8 230.8,555.5 231.2,556.8 231.5,557.2 231.8,559 232.2,559.2 232.5,559.1 232.8,558.9 233.2,558.8 233.5,559.3 233.8,559.2 234.1,557.9 234.5,557.1 234.8,554.9 235.1,555.2 235.5,557.1 235.8,557.8 236.1,558.6 236.5,559.6 236.8,559.8 237.1,559.3 237.4,559.8 237.8,560 238.1,559.9 238.4,559.8 238.8,559.4 239.1,559.5 239.4,559.1 239.8,559.4 240.1,557.8 240.4,558.2 240.7,556.2 241.1,554.9 241.4,554.1 241.7,555.7 242.1,556.8 242.4,558.1 242.7,558.1 243.1,557.5 243.4,556.3 243.7,554.9 244,552.1 244.4,546.4 244.7,537.7 245,544.1 245.4,550.5 245.7,554.5 246,555.5 246.3,557.7 246.7,558 247,559.6 247.3,559.1 247.7,559.4 248,559.6 248.3,559.5 248.7,560 249,559 249.3,558.6 249.6,559.3 250,559.2 250.3,559.5 250.6,558.9 251,558.7 251.3,557.7 251.6,557.4 252,556.8 252.3,558.7 252.6,558.7 252.9,558.9 253.3,559 253.6,559.6 253.9,559 254.3,558.8 254.6,560 254.9,560.1 255.3,559.6 255.6,559.6 255.9,560.9 256.2,559.3 256.6,559.8 256.9,558.8 257.2,558.6 257.6,557.6 257.9,556.9 258.2,554 258.6,556.4 258.9,557.6 259.2,557.2 259.5,559.2 259.9,559 260.2,559.4 260.5,558.4 260.9,558.5 261.2,558.1 261.5,558.2 261.9,556 262.2,554.2 262.5,550 262.8,543.6 263.2,533.4 263.5,523.4 263.8,537.4 264.2,546.4 264.5,552.2 264.8,554.5 265.1,556.9 265.5,557.2 265.8,558.5 266.1,559 266.5,558.6 266.8,557.5 267.1,557.3 267.5,555.3 267.8,553.1 268.1,548.7 268.4,554.2 268.8,556.2 269.1,557 269.4,557.7 269.8,558.6 270.1,559.2 270.4,559.9 270.8,559 271.1,559.7 271.4,560.3 271.7,559.9 272.1,560.6 272.4,559.3 272.7,559 273.1,559.6 273.4,559.6 273.7,559.8 274.1,559.9 274.4,559 274.7,558.8 275,558.6 275.4,559 275.7,557.7 276,555.7 276.4,553.9 276.7,550.2 277,543.5 277.4,535.3 277.7,517.8 278,507.8 278.3,528.3 278.7,540.2 279,549.1 279.3,553.4 279.7,555.2 280,556.6 280.3,558 280.7,559.4 281,559.3 281.3,559.3 281.6,559.6 282,559.5 282.3,560.1 282.6,560 283,560 283.3,559.3 283.6,560.3 283.9,560 284.3,559.4 284.6,559.9 284.9,558.9 285.3,559.9 285.6,559.7 285.9,559.5 286.3,558.8 286.6,558 286.9,557.2 287.2,556.5 287.6,553 287.9,550 288.2,543.2 288.6,541.5 288.9,547 289.2,550.7 289.6,551.3 289.9,552.1 290.2,548.8 290.5,543 290.9,531.9 291.2,514 291.5,499.1 291.9,522.7 292.2,538.1 292.5,546.1 292.9,551.8 293.2,553.8 293.5,556.9 293.8,557.8 294.2,559 294.5,559.8 294.8,558.9 295.2,559.7 295.5,558.3 295.8,559.7 296.2,558.9 296.5,559.3 296.8,557.6 297.1,556 297.5,555.8 297.8,558.4 298.1,558 298.5,558.4 298.8,559 299.1,559.2 299.5,559.8 299.8,559.5 300.1,560.5 300.4,559.1 300.8,559.8 301.1,559.1 301.4,558.8 301.8,559.9 302.1,559.8 302.4,559.6 302.8,559 303.1,558.5 303.4,558.3 303.7,557.3 304.1,555.6 304.4,553.3 304.7,550.4 305.1,553.7 305.4,555.2 305.7,556.5 306,558.5 306.4,558.6 306.7,560.3 307,560.1 307.4,559.6 307.7,559.8 308,558.6 308.4,559.1 308.7,559.5 309,559 309.3,559.1 309.7,559 310,559.8 310.3,558.9 310.7,558.5 311,557.6 311.3,555.8 311.7,552.7 312,548.4 312.3,540.8 312.6,527.3 313,509.7 313.3,530 313.6,540.8 314,549.4 314.3,553.6 314.6,555.2 315,556.7 315.3,559 315.6,558.5 315.9,559.3 316.3,560.1 316.6,559.2 316.9,559.9 317.3,559.8 317.6,558.9 317.9,559.9 318.3,559.2 318.6,560 318.9,560.2 319.2,560.2 319.6,559.2 319.9,559.8 320.2,559.5 320.6,559.7 320.9,558.8 321.2,557.1 321.6,555.7 321.9,554.3 322.2,556.5 322.5,557.2 322.9,560 323.2,559.2" fill="none" stroke="#f53c3c" stroke-width="0.85" />
<line x1="184.5" y1="491.9" x2="184.5" y2="561.2" stroke="#444" stroke-width="0.9" />
<line x1="184.5" y1="561.2" x2="323.7" y2="561.2" stroke="#444" stroke-width="0.9" />
<path d="M226.7 561.2v-2M268.9 561.2v-2M311 561.2v-2" fill="none" stroke="#444" stroke-width="0.6"/>
<path d="M184.5 533.5h2M184.5 505.8h2" fill="none" stroke="#444" stroke-width="0.6"/>
<text x="183" y="495.3" font-size="8.60" text-anchor="end" fill="#222">25</text>
<text x="183" y="564.6" font-size="8.60" text-anchor="end" fill="#222">0</text>
<rect x="239.6" y="485" width="33" height="11" fill="#ececec" />
<text x="256.1" y="493.8" font-size="8.40" text-anchor="middle" font-weight="bold" fill="#111">zoom-in</text>
<text x="256.6" y="572.5" font-size="9.60" text-anchor="middle" fill="#111">Time</text>
<line x1="26.8" y1="513.4" x2="41" y2="513.4" stroke="#111" stroke-width="1.6" />
<text x="33.9" y="511.4" font-size="8" text-anchor="middle" fill="#111">10 s</text>
<text x="10.3" y="466.5" font-size="9.50" text-anchor="middle" fill="#222" transform="rotate(-90 10.3 466.5)">Active cells fraction Φ (%)</text>
<text x="330.5" y="217.5" font-size="14" font-weight="bold">E</text>
<path d="M357.7 301C360.6 299.2 369.3 295.2 375 290.5C380.7 285.8 387 278 392 273C397 268 401.5 263.2 405 260.5C408.5 257.8 410.3 256.9 413 256.7C415.7 256.4 418.5 257.3 421 259C423.5 260.7 425.8 264.2 428 267C430.2 269.8 432 272.8 434 276C436 279.2 436.9 280.1 440 286C443.1 291.9 448.7 303.9 452.7 311.5C456.7 319.1 459.9 325.2 464.2 331.5C468.5 337.8 474.2 345.4 478.3 349.5C482.4 353.6 485.4 354.8 488.5 356.2C491.6 357.6 495.3 357.9 496.7 358.2L496.7 358.4C495.3 358.3 491.6 358.5 488.5 357.8C485.4 357.1 482.4 357.1 478.3 354C474.2 350.9 468.5 344.6 464.2 339C459.9 333.4 456.7 327.8 452.7 320.5C448.7 313.2 443.6 301.8 440 295C436.4 288.2 433.5 283 431 280C428.5 277 427.2 277.7 425 277C422.8 276.3 421.3 275 418 276C414.7 277 409.3 279.7 405 283C400.7 286.3 397 291.3 392 296C387 300.7 380.7 307.2 375 311C369.3 314.8 360.6 317.5 357.7 318.8Z" fill="#5a5af0" stroke="#4a4ae8" stroke-width="0.4" fill-opacity="0.3" stroke-opacity="0.6"/>
<path d="M357.7 276.6C360.6 274 369.3 267.3 375 261C380.7 254.7 387.8 244.3 392 239C396.2 233.7 397.5 231.2 400 229C402.5 226.8 404.5 225.5 406.8 225.5C409.1 225.5 411.8 226.6 414 229C416.2 231.4 417.8 234.5 420 240C422.2 245.5 425.2 256.4 427 262C428.8 267.6 428.8 268.2 431 273.5C433.2 278.8 436.4 286.8 440 294C443.6 301.2 448.7 309.5 452.7 316.5C456.7 323.5 459.9 330.2 464.2 336C468.5 341.8 474.2 348 478.3 351.5C482.4 355 485.4 356.1 488.5 357.2C491.6 358.3 495.3 358 496.7 358.2L496.7 358.4C495.3 358.3 491.6 358.6 488.5 358C485.4 357.4 482.4 357.7 478.3 355C474.2 352.3 468.5 347.2 464.2 342C459.9 336.8 456.7 330.2 452.7 323.5C448.7 316.8 443.6 309.3 440 302C436.4 294.7 433.5 285.2 431 279.5C428.5 273.8 427.2 271.2 425 268C422.8 264.8 420.6 262.2 418 260.5C415.4 258.8 412 257.3 409.3 257.5C406.6 257.7 404.9 258.9 402 261.5C399.1 264.1 396.5 268.2 392 273C387.5 277.8 380.7 285.5 375 290C369.3 294.5 360.6 298.3 357.7 300Z" fill="#ee5050" stroke="#e84848" stroke-width="0.4" fill-opacity="0.3" stroke-opacity="0.6"/>
<path d="M357.7 311C360.6 309.3 369.3 305.3 375 301C380.7 296.7 387 289.8 392 285C397 280.2 400.8 275 405 272C409.2 269 413.7 267.3 417 267C420.3 266.7 422.7 268.4 425 270C427.3 271.6 428.5 273.1 431 276.6C433.5 280.1 436.4 284.4 440 291C443.6 297.6 448.7 308.6 452.7 316C456.7 323.4 459.9 329.4 464.2 335.4C468.5 341.4 474.2 348.4 478.3 352C482.4 355.6 485.4 355.9 488.5 357C491.6 358.1 495.3 358.1 496.7 358.3" fill="none" stroke="#3f3ff0" stroke-width="0.9"/>
<path d="M357.7 290.7C360.6 288.2 369.3 281.6 375 276C380.7 270.4 387.5 262 392 257C396.5 252 399.1 248.5 402 246C404.9 243.5 406.6 242.1 409.3 242.2C412 242.3 415.4 243.9 418 246.5C420.6 249.1 422.8 253 425 258C427.2 263 428.5 269.9 431 276.6C433.5 283.3 436.4 290.8 440 298C443.6 305.2 448.7 313.2 452.7 320C456.7 326.8 459.9 333.4 464.2 339C468.5 344.6 474.2 350.2 478.3 353.3C482.4 356.4 485.4 356.8 488.5 357.6C491.6 358.4 495.3 358.2 496.7 358.3" fill="none" stroke="#f03c3c" stroke-width="0.9"/>
<line x1="357.7" y1="220.4" x2="357.7" y2="358.4" stroke="#333" stroke-width="0.9" />
<line x1="357.7" y1="358.4" x2="496.7" y2="358.4" stroke="#333" stroke-width="0.9" />
<path d="M357.7 323.9h2M357.7 289.4h2M357.7 254.9h2M366.1 358.4v-1.3M372.9 358.4v-1.3M378.4 358.4v-1.3M383.1 358.4v-1.3M387.2 358.4v-1.3M390.8 358.4v-1.3M394 358.4v-2.5M415.1 358.4v-1.3M427.5 358.4v-1.3M436.3 358.4v-1.3M443.1 358.4v-1.3M448.6 358.4v-1.3M453.3 358.4v-1.3M457.4 358.4v-1.3M461 358.4v-1.3M464.2 358.4v-2.5M485.3 358.4v-1.3" fill="none" stroke="#333" stroke-width="0.6"/>
<text x="355.5" y="223.8" font-size="8.60" text-anchor="end" fill="#222">0.04</text>
<text x="355.5" y="361.8" font-size="8.60" text-anchor="end" fill="#222">0</text>
<text x="395" y="370.3" font-size="8.60" text-anchor="middle" fill="#222">10<tspan font-size="6.3" dy="-3.5">-2</tspan></text>
<text x="465" y="370.3" font-size="8.60" text-anchor="middle" fill="#222">10<tspan font-size="6.3" dy="-3.5">-1</tspan></text>
<text x="427" y="378.8" font-size="9.30" text-anchor="middle" fill="#222">CaT frequency (1/s)</text>
<text x="348.5" y="289" font-size="9.30" text-anchor="middle" fill="#222" transform="rotate(-90 348.5 289)">Probability</text>
<text x="362.5" y="329.5" font-size="8.40" font-weight="bold" fill="#111">p-kld=0.038</text>
<text x="362.5" y="343.3" font-size="8.40" fill="#3a3af0">Ctrl-Ab</text>
<text x="362.5" y="354" font-size="8.40" fill="#f03c3c">GluN1-Ab</text>
<rect x="447.5" y="225.1" width="60.9" height="46.9" fill="#fff" />
<path d="M446.7 272.3C447.6 270 449.8 262.2 451.9 258.4C454 254.6 455.5 253.1 459.2 249.6C462.9 246.1 468.9 240.6 473.8 237.2C478.7 233.8 484.5 231 488.4 229.2C492.3 227.4 494 227 497.2 226.3C500.4 225.6 505.7 225.3 507.4 225.1" fill="none" stroke="#3f3ff0" stroke-width="1"/>
<path d="M446.7 264.2C447.3 262.5 448.3 257.4 450.4 254C452.5 250.6 455.3 247.2 459.2 243.8C463.1 240.4 468.9 236.3 473.8 233.6C478.7 230.9 484.5 229 488.4 227.7C492.3 226.4 494 226.4 497.2 226C500.4 225.6 505.7 225.2 507.4 225.1" fill="none" stroke="#f03c3c" stroke-width="1"/>
<line x1="446.5" y1="225.1" x2="446.5" y2="273" stroke="#222" stroke-width="0.9" />
<line x1="446.5" y1="273" x2="507.4" y2="273" stroke="#222" stroke-width="0.9" />
<path d="M446.5 265.8h1.3M446.5 261.5h1.3M446.5 258.6h1.3M446.5 256.2h1.3M446.5 254.3h1.3M446.5 252.7h1.3M446.5 251.3h1.3M446.5 250.1h1.3M446.5 249h1.3M459.2 273v-2M497.9 273v-2" fill="none" stroke="#222" stroke-width="0.5"/>
<text x="445" y="229" font-size="8.60" text-anchor="end" fill="#222">10<tspan font-size="6.3" dy="-3.5">0</tspan></text>
<text x="445" y="272" font-size="8.60" text-anchor="end" fill="#222">10<tspan font-size="6.3" dy="-3.5">-2</tspan></text>
<text x="459" y="283.2" font-size="8.60" text-anchor="middle" fill="#222">10<tspan font-size="6.3" dy="-3.5">-2</tspan></text>
<text x="497.8" y="283.2" font-size="8.60" text-anchor="middle" fill="#222">10<tspan font-size="6.3" dy="-3.5">-1</tspan></text>
<text x="454" y="265.8" font-size="8.40" fill="#222">Cumulative Pr.</text>
<text x="513" y="217.5" font-size="14" font-weight="bold">F</text>
<line x1="534.4" y1="222" x2="534.4" y2="359.2" stroke="#333" stroke-width="1.2" />
<path d="M534.4 215.8L530.8 223.5L538 223.5Z" fill="#222"/>
<path d="M532.9 241.8h3M532.9 304h3M532.9 358.6h3" fill="none" stroke="#333" stroke-width="0.8"/>
<line x1="669.2" y1="222" x2="669.2" y2="359.2" stroke="#333" stroke-width="1.2" />
<path d="M669.2 215.8L665.6 223.5L672.8 223.5Z" fill="#222"/>
<path d="M667.7 241.8h3M667.7 304h3M667.7 358.6h3" fill="none" stroke="#333" stroke-width="0.8"/>
<text x="531.5" y="245.1" font-size="8.60" text-anchor="end" fill="#222">1.0</text>
<text x="672.2" y="245.1" font-size="8.60" fill="#222">1.0</text>
<text x="531.5" y="307.3" font-size="8.60" text-anchor="end" fill="#222">0.5</text>
<text x="672.2" y="307.3" font-size="8.60" fill="#222">0.5</text>
<text x="531.5" y="361.9" font-size="8.60" text-anchor="end" fill="#222">0.0</text>
<text x="672.2" y="361.9" font-size="8.60" fill="#222">0.0</text>
<text x="537.5" y="217.6" font-size="9.80" font-weight="bold" fill="#111">CV</text>
<text x="665.5" y="217.6" font-size="9.60" text-anchor="end" font-weight="bold" fill="#111">CV2</text>
<path d="M597.2 250V222.5H593.5L599.6 212L605.7 222.5H602V250Z" fill="#a8dcf4"/>
<text x="599.6" y="234" font-size="7.80" text-anchor="middle" font-weight="bold" fill="#111">higher ICI</text>
<text x="599.6" y="242.2" font-size="7.80" text-anchor="middle" font-weight="bold" fill="#111">irregularity</text>
<path d="M548.1 266.5V284.3M549.1 266.5V284.3M550.2 266.5V284.3M564.7 266.5V284.3M567.6 266.5V284.3M575.1 266.5V284.3M598.2 266.5V284.3M602.8 266.5V284.3M603.6 266.5V284.3M613 266.5V284.3M621 266.5V284.3M624.7 266.5V284.3M650.5 266.5V284.3" fill="none" stroke="#555" stroke-width="0.75"/>
<path d="M550.6 266.5V284.3M568.5 266.5V284.3M574 266.5V284.3M582.9 266.5V284.3M599.9 266.5V284.3M611.6 266.5V284.3M631.7 266.5V284.3M634.7 266.5V284.3M650.2 266.5V284.3M654.2 266.5V284.3M654.6 266.5V284.3" fill="none" stroke="#222" stroke-width="0.75"/>
<path d="M552.1 266.5V284.3M559.9 266.5V284.3M592.7 266.5V284.3M594.5 266.5V284.3M600 266.5V284.3M600.7 266.5V284.3M602.2 266.5V284.3M633.4 266.5V284.3M648.6 266.5V284.3M651.8 266.5V284.3" fill="none" stroke="#888" stroke-width="0.75"/>
<path d="M552.9 266.5V284.3M565.4 266.5V284.3M566 266.5V284.3M599 266.5V284.3M615 266.5V284.3M622 266.5V284.3M641.6 266.5V284.3" fill="none" stroke="#444" stroke-width="0.75"/>
<path d="M592 266.5V284.3M601.9 266.5V284.3M609.9 266.5V284.3M617.6 266.5V284.3M652.6 266.5V284.3M653.5 266.5V284.3" fill="none" stroke="#666" stroke-width="0.75"/>
<path d="M548 294.8V312.7M552.2 294.8V312.7M553 294.8V312.7M554.5 294.8V312.7M557.9 294.8V312.7M569 294.8V312.7M610.5 294.8V312.7M633.6 294.8V312.7M636.9 294.8V312.7M655 294.8V312.7" fill="none" stroke="#666" stroke-width="0.75"/>
<path d="M548.5 294.8V312.7M550 294.8V312.7M550.8 294.8V312.7M555.3 294.8V312.7M570.2 294.8V312.7M577.8 294.8V312.7M586.8 294.8V312.7M598.1 294.8V312.7M599.6 294.8V312.7M602.6 294.8V312.7M603 294.8V312.7M604 294.8V312.7M608.4 294.8V312.7M639 294.8V312.7" fill="none" stroke="#555" stroke-width="0.75"/>
<path d="M549.8 294.8V312.7M550.6 294.8V312.7M558.7 294.8V312.7M561.9 294.8V312.7M570.6 294.8V312.7M571.7 294.8V312.7M572.6 294.8V312.7M575.3 294.8V312.7M576 294.8V312.7M577.1 294.8V312.7M579.2 294.8V312.7M581.5 294.8V312.7M599.2 294.8V312.7M601.1 294.8V312.7M612.5 294.8V312.7M630 294.8V312.7M631.7 294.8V312.7" fill="none" stroke="#777" stroke-width="0.75"/>
<path d="M551.8 294.8V312.7M556.8 294.8V312.7M559.8 294.8V312.7M583.1 294.8V312.7M605.9 294.8V312.7M630.9 294.8V312.7M632.9 294.8V312.7M634.7 294.8V312.7M638.6 294.8V312.7M653.1 294.8V312.7" fill="none" stroke="#999" stroke-width="0.75"/>
<path d="M554 294.8V312.7M573.5 294.8V312.7M574.2 294.8V312.7M584.8 294.8V312.7M600.8 294.8V312.7M606.8 294.8V312.7M623.1 294.8V312.7M635.6 294.8V312.7" fill="none" stroke="#333" stroke-width="0.75"/>
<path d="M548.7 323.7V341.6M552.8 323.7V341.6M558.5 323.7V341.6M573.2 323.7V341.6M577.6 323.7V341.6M592.5 323.7V341.6M598.6 323.7V341.6M619.9 323.7V341.6M630.6 323.7V341.6M634.5 323.7V341.6" fill="none" stroke="#888" stroke-width="0.75"/>
<path d="M550.3 323.7V341.6M575.4 323.7V341.6M581.9 323.7V341.6M588.6 323.7V341.6M596.9 323.7V341.6M605.4 323.7V341.6M626.1 323.7V341.6M647.1 323.7V341.6M653.7 323.7V341.6" fill="none" stroke="#777" stroke-width="0.75"/>
<path d="M555 323.7V341.6M557 323.7V341.6M563.1 323.7V341.6M565.2 323.7V341.6M569.2 323.7V341.6M579.9 323.7V341.6M583.8 323.7V341.6M590.6 323.7V341.6M594.9 323.7V341.6M600.9 323.7V341.6M603 323.7V341.6M606.8 323.7V341.6M609 323.7V341.6M611.7 323.7V341.6M636.5 323.7V341.6M651.5 323.7V341.6" fill="none" stroke="#555" stroke-width="0.75"/>
<path d="M561.3 323.7V341.6M571.5 323.7V341.6M613.5 323.7V341.6M617.4 323.7V341.6M628.3 323.7V341.6M638.8 323.7V341.6M640.5 323.7V341.6M645 323.7V341.6" fill="none" stroke="#aaa" stroke-width="0.75"/>
<path d="M567 323.7V341.6M585.9 323.7V341.6M615.5 323.7V341.6M621.8 323.7V341.6M623.8 323.7V341.6M632.2 323.7V341.6M643.1 323.7V341.6M649 323.7V341.6" fill="none" stroke="#999" stroke-width="0.75"/>
<line x1="548.4" y1="266" x2="539.6" y2="240" stroke="#e8823c" stroke-width="0.9" />
<path d="M538.6 237L541.3 239.5L537.9 240.6Z" fill="#e8823c"/>
<line x1="548.4" y1="294.8" x2="537.3" y2="254.6" stroke="#e8823c" stroke-width="0.9" />
<path d="M536.5 251.5L539.1 254.1L535.6 255.1Z" fill="#e8823c"/>
<line x1="547" y1="336.4" x2="538.8" y2="340.7" stroke="#e8823c" stroke-width="0.9" />
<path d="M536 342.2L538 339.1L539.7 342.3Z" fill="#e8823c"/>
<line x1="654.8" y1="265.4" x2="664.1" y2="250.2" stroke="#e8823c" stroke-width="0.9" />
<path d="M665.8 247.5L665.7 251.2L662.6 249.3Z" fill="#e8823c"/>
<line x1="656" y1="312" x2="663.8" y2="316" stroke="#e8823c" stroke-width="0.9" />
<path d="M666.6 317.5L662.9 317.6L664.6 314.4Z" fill="#e8823c"/>
<line x1="656" y1="336.4" x2="663.8" y2="340.7" stroke="#e8823c" stroke-width="0.9" />
<path d="M666.6 342.2L662.9 342.2L664.7 339.1Z" fill="#e8823c"/>
<text x="603.5" y="369.2" font-size="9.30" text-anchor="middle" fill="#222">Firing-event times</text>
<text x="330" y="398.5" font-size="14" font-weight="bold">G</text>
<rect x="357.3" y="393.6" width="39.9" height="9.2" fill="#ececec" />
<text x="377.2" y="400.6" font-size="8.50" text-anchor="middle" fill="#222">Sig. (high)</text>
<line x1="358.6" y1="406.2" x2="358.6" y2="466.6" stroke="#333" stroke-width="0.9" />
<line x1="358.6" y1="466.6" x2="401" y2="466.6" stroke="#333" stroke-width="0.9" />
<path d="M358.6 406.2h1.8M358.6 412.9h1.8M358.6 419.6h1.8M358.6 426.3h1.8M358.6 433h1.8M358.6 439.8h1.8M358.6 446.5h1.8M358.6 453.2h1.8M358.6 459.9h1.8M358.6 466.6h1.8" fill="none" stroke="#333" stroke-width="0.6"/>
<text x="356.6" y="409.4" font-size="8.60" text-anchor="end" fill="#222">1.47</text>
<text x="356.6" y="469.8" font-size="8.60" text-anchor="end" fill="#222">1.2</text>
<path d="M369.4 439.1V428.3M369.4 461.4V466.6M365.6 428.3h7.5M365.6 466.6h7.5" fill="none" stroke="#3434ee" stroke-width="1"/>
<rect x="361.2" y="439.1" width="16.3" height="22.3" fill="#7676f4" stroke="#3434ee" stroke-width="0.9"/>
<line x1="361.2" y1="455.3" x2="377.5" y2="455.3" stroke="#3434ee" stroke-width="1" />
<g fill="#fff" stroke="#2a2a2a" stroke-width="0.65"><circle cx="370.9" cy="428.3" r="1.65"/><circle cx="370.2" cy="439.6" r="1.65"/><circle cx="366.5" cy="441.9" r="1.65"/><circle cx="368.6" cy="455" r="1.65"/><circle cx="368.8" cy="458.7" r="1.65"/><circle cx="367.4" cy="461.2" r="1.65"/><circle cx="371.6" cy="462.4" r="1.65"/><circle cx="371.1" cy="467.4" r="1.65"/></g>
<path d="M385.1 413.3V405.7M385.1 449.7V460.8M381.4 405.7h7.5M381.4 460.8h7.5" fill="none" stroke="#f03434" stroke-width="1"/>
<rect x="377.4" y="413.3" width="15.5" height="36.4" fill="#f27f7f" stroke="#f03434" stroke-width="0.9"/>
<line x1="377.4" y1="427.2" x2="392.9" y2="427.2" stroke="#f03434" stroke-width="1" />
<g fill="#fff" stroke="#2a2a2a" stroke-width="0.65"><circle cx="382.3" cy="404.8" r="1.65"/><circle cx="382" cy="411" r="1.65"/><circle cx="387" cy="414.3" r="1.65"/><circle cx="383.1" cy="421" r="1.65"/><circle cx="386" cy="427.4" r="1.65"/><circle cx="379.6" cy="440.9" r="1.65"/><circle cx="386" cy="447.6" r="1.65"/><circle cx="384.6" cy="454.5" r="1.65"/><circle cx="386.3" cy="461" r="1.65"/></g>
<text x="377.5" y="477.4" font-size="8.70" text-anchor="middle" font-weight="bold" fill="#111">p=0.032</text>
<text x="345.8" y="437.7" font-size="9.30" text-anchor="middle" fill="#222" transform="rotate(-90 345.8 437.7)">CV of ICI</text>
<rect x="357.3" y="485" width="39.9" height="9.7" fill="#ececec" />
<text x="377.2" y="492.5" font-size="8.50" text-anchor="middle" fill="#222">Sig. (low)</text>
<line x1="358.6" y1="500.7" x2="358.6" y2="561" stroke="#333" stroke-width="0.9" />
<line x1="358.6" y1="561" x2="401" y2="561" stroke="#333" stroke-width="0.9" />
<path d="M358.6 500.7h1.8M358.6 506.7h1.8M358.6 512.8h1.8M358.6 518.8h1.8M358.6 524.8h1.8M358.6 530.9h1.8M358.6 536.9h1.8M358.6 542.9h1.8M358.6 548.9h1.8M358.6 555h1.8M358.6 561h1.8" fill="none" stroke="#333" stroke-width="0.6"/>
<text x="356.6" y="503.9" font-size="8.60" text-anchor="end" fill="#222">0.8</text>
<text x="356.6" y="564.2" font-size="8.60" text-anchor="end" fill="#222">0.7</text>
<path d="M369.4 505.2V499.4M369.4 519.6V531.4M365.6 499.4h7.5M365.6 531.4h7.5" fill="none" stroke="#3434ee" stroke-width="1"/>
<rect x="361.2" y="505.2" width="16.3" height="14.4" fill="#7676f4" stroke="#3434ee" stroke-width="0.9"/>
<line x1="361.2" y1="517" x2="377.5" y2="517" stroke="#3434ee" stroke-width="1" />
<g fill="#fff" stroke="#2a2a2a" stroke-width="0.65"><circle cx="366" cy="499.5" r="1.65"/><circle cx="372" cy="500.5" r="1.65"/><circle cx="368" cy="505.5" r="1.65"/><circle cx="370" cy="512" r="1.65"/><circle cx="372" cy="515" r="1.65"/><circle cx="368" cy="518" r="1.65"/><circle cx="366.5" cy="520.5" r="1.65"/><circle cx="364.5" cy="531" r="1.65"/></g>
<path d="M385.1 519.1V507.8M385.1 543.3V561M381.4 507.8h7.5M381.4 561h7.5" fill="none" stroke="#f03434" stroke-width="1"/>
<rect x="377.4" y="519.1" width="15.5" height="24.2" fill="#f27f7f" stroke="#f03434" stroke-width="0.9"/>
<line x1="377.4" y1="525.7" x2="392.9" y2="525.7" stroke="#f03434" stroke-width="1" />
<g fill="#fff" stroke="#2a2a2a" stroke-width="0.65"><circle cx="387.5" cy="507.5" r="1.65"/><circle cx="383" cy="518" r="1.65"/><circle cx="386" cy="519" r="1.65"/><circle cx="381.5" cy="523.5" r="1.65"/><circle cx="387" cy="532" r="1.65"/><circle cx="383.5" cy="538" r="1.65"/><circle cx="387" cy="539" r="1.65"/><circle cx="385" cy="548" r="1.65"/><circle cx="386.5" cy="561" r="1.65"/></g>
<text x="377.5" y="571.9" font-size="8.70" text-anchor="middle" font-weight="bold" fill="#111">p=0.021</text>
<text x="345.8" y="532" font-size="9.30" text-anchor="middle" fill="#222" transform="rotate(-90 345.8 532)">CV2 of ICI</text>
<text x="426" y="399.5" font-size="14" font-weight="bold">H</text>
<defs><linearGradient id="hot" x1="0" x2="1"><stop offset="0" stop-color="#000"/><stop offset="0.3" stop-color="#a00000"/><stop offset="0.5" stop-color="#ff2000"/><stop offset="0.7" stop-color="#ffa000"/><stop offset="0.88" stop-color="#ffff40"/><stop offset="1" stop-color="#ffffe0"/></linearGradient><radialGradient id="glow"><stop offset="0" stop-color="#ffffb0"/><stop offset="0.25" stop-color="#ffe860"/><stop offset="0.5" stop-color="#ff9838"/><stop offset="0.75" stop-color="#f04838" stop-opacity="0.8"/><stop offset="1" stop-color="#d03040" stop-opacity="0"/></radialGradient></defs>
<path d="M547.4 445.6h0.9M474.2 446.7h0.9M502 461.9h0.9M528.3 439.1h0.9M539.1 441h0.9M497.4 436.5h0.9M500.5 447.7h0.9M509.7 444.1h0.9M507 442.8h0.9M502.7 435.8h0.9M534.3 423h0.9M491.1 442.5h0.9M525.2 433.5h0.9M496.9 451h0.9M496.8 437.9h0.9M497.6 438.4h0.9M514.4 443.2h0.9M491.4 445.8h0.9M501.1 432.2h0.9M527.6 436.5h0.9M515.3 448.2h0.9M570.9 448h0.9M515.8 442.8h0.9M496.6 458.1h0.9M486 445.2h0.9M528.5 441.8h0.9M510.8 432.5h0.9M511.6 439.2h0.9M467.6 437.1h0.9M503.2 431.5h0.9M488.8 431.7h0.9M483.2 427.5h0.9M507.7 451.2h0.9M504.1 419.7h0.9M528.5 442.7h0.9M474.7 447.7h0.9M550.6 463.3h0.9M486.5 433.8h0.9M460 461.6h0.9M508.3 443.2h0.9M514.4 453.3h0.9M500.5 436.1h0.9M542.4 432h0.9M509.4 436.9h0.9M507.9 437.2h0.9M496.5 448.9h0.9M515.5 454.4h0.9M490.4 451.3h0.9M495.2 442.2h0.9M511.3 426.7h0.9M496.6 440.5h0.9M481.2 450.1h0.9M520.3 444.2h0.9M525.8 444.6h0.9M490.6 450.5h0.9M490.7 457.1h0.9M501.6 431.3h0.9M488.2 457.2h0.9M493.3 449.3h0.9M516 455.3h0.9M501.1 446.4h0.9M495.6 434.9h0.9M493.6 462.2h0.9M506.8 454.2h0.9M520.8 440.4h0.9M494.2 445.8h0.9M531.3 437.8h0.9M520.6 457.8h0.9M490.3 450.2h0.9M472 445h0.9M512.3 445.2h0.9M511.8 448.1h0.9M510.4 429.8h0.9M493.8 424.5h0.9M511.8 422.7h0.9M503.9 437.1h0.9M492 457.5h0.9M552.7 435.7h0.9M501.6 446.7h0.9M501.9 439.2h0.9M504 441.6h0.9M508.8 436.6h0.9M504.2 443.4h0.9M532.3 448.6h0.9M496.1 453.1h0.9M546.1 465.9h0.9M493.5 444.5h0.9M515.7 461.2h0.9M505.8 451.4h0.9M520.1 434.9h0.9M501.1 461.9h0.9M517.1 454.9h0.9M485.8 430h0.9M509.7 447.8h0.9M480.6 450.7h0.9M504.5 443.2h0.9M545 462.6h0.9M546.5 405.7h0.9M482.6 435.2h0.9M506.4 432.6h0.9M510.3 433.8h0.9M509.5 444.9h0.9M506.2 428h0.9M521.8 457.8h0.9M513.6 441.8h0.9M496 433.1h0.9M507.7 446.5h0.9M523.6 434h0.9M507.2 443.6h0.9M516.9 445.1h0.9M505.3 452.1h0.9M524.9 464.6h0.9M504.3 438.9h0.9M491.5 429.1h0.9M498.4 439h0.9M500 445.8h0.9M491.7 457h0.9M529.2 417h0.9M508.8 442.5h0.9M493.8 449.9h0.9M494.9 439.9h0.9M460.6 443.3h0.9M498.4 450.7h0.9M484.9 444.7h0.9M479.1 450.5h0.9M506.8 435.3h0.9M517 438.6h0.9M489.7 439.2h0.9M498.6 448.3h0.9M487.6 445.4h0.9M478 440h0.9M488.6 435.8h0.9M504.1 444.4h0.9M534.1 415.8h0.9M521.8 450.1h0.9M461 453h0.9M495.4 441.1h0.9M501.6 434.8h0.9M533.6 455.2h0.9M524.2 465.9h0.9M545.4 442.6h0.9M502.9 445.3h0.9M528.7 439.9h0.9M495.3 465.1h0.9M496.2 457.2h0.9M509.2 439.6h0.9M486.1 442.5h0.9M491.1 443.7h0.9M504.4 443.2h0.9M514.6 437.7h0.9M481.6 444.1h0.9M496 445.7h0.9M512.3 448.7h0.9M499.3 453h0.9M510.3 464h0.9M525 442.4h0.9M500.7 453h0.9M507.1 452.7h0.9M503.8 438.3h0.9M528.8 427.8h0.9M498.5 451.1h0.9M505 450.1h0.9M531.7 444.4h0.9M520.2 457.1h0.9M513.4 450.6h0.9M518.9 440.9h0.9M500 431h0.9M503.3 452.1h0.9M524.9 449.8h0.9M480.5 438h0.9M470.3 434.5h0.9M516.1 446.2h0.9M528.8 436h0.9M518.6 450.3h0.9M504.6 437.6h0.9M504 444.3h0.9M518.4 451.2h0.9M506.9 444.8h0.9M509.4 451.6h0.9M497.7 450.7h0.9M536.1 441.4h0.9M493 453.4h0.9M501.5 438.2h0.9M490 443.2h0.9M509 445.7h0.9M501.2 453.6h0.9M484.9 452.6h0.9M522.4 442.2h0.9M487.4 441.1h0.9M508.6 433.1h0.9M551.9 421.2h0.9M506.7 450.3h0.9M494.3 435.2h0.9M535.5 450.2h0.9M492.3 457.3h0.9M502.6 443.6h0.9M482.7 443.8h0.9M531.7 442.1h0.9M528.5 440.1h0.9M490.5 454.7h0.9M490.2 436.5h0.9M529.2 442.6h0.9M520 439.9h0.9M473.9 424.2h0.9M523.9 427h0.9M515.3 447.3h0.9M523.2 438.6h0.9M509.7 461.7h0.9M468.7 454.5h0.9M494 445.7h0.9M507.7 451h0.9M515.3 436.4h0.9M515.2 457.3h0.9M521.7 458.5h0.9M504.1 443.1h0.9M470.5 461.9h0.9M509 448.8h0.9M503.6 440.5h0.9M496.9 437.8h0.9M520.5 443.2h0.9M498.8 437.5h0.9M498.6 441.7h0.9M516.8 455.3h0.9M527.8 435.7h0.9M510.2 420.6h0.9M509.6 442.9h0.9M567.1 455.7h0.9M497.8 448.6h0.9M481.7 461h0.9M503.4 449.5h0.9M502.9 443.5h0.9M538.6 433.5h0.9M501.7 438.2h0.9M515.4 415.7h0.9M517.7 452.6h0.9M471.5 451.2h0.9M493.9 449.2h0.9M503.5 451.2h0.9M492.8 462.1h0.9M491 406.9h0.9M483.2 430.7h0.9M545.8 453h0.9M501.9 444.9h0.9M491.5 443.8h0.9M499 443.7h0.9M517.1 449.7h0.9M493.4 451.2h0.9M514.4 442.3h0.9M501.3 446.4h0.9M537.5 454.9h0.9M465.9 438.5h0.9M522.9 445.5h0.9M498 438.6h0.9M505.3 461h0.9M504.9 433.1h0.9M524.1 422.7h0.9M538.6 457.5h0.9M477.9 454.6h0.9M498.6 447.4h0.9M502.6 441.8h0.9M500.6 440.5h0.9M492.6 443.6h0.9M490 446.8h0.9M489.2 457h0.9M488.9 440.6h0.9M510.7 434.3h0.9M496.5 433.5h0.9M485.5 448.7h0.9M553.7 460.2h0.9M481.2 437.2h0.9M501.4 428.7h0.9M507.8 444.8h0.9M524.9 440h0.9M523.1 451.3h0.9M501.2 454.2h0.9M508.7 443.9h0.9M517.8 420.3h0.9M460.9 443.4h0.9M484.3 457h0.9M488.9 449.5h0.9M500.8 443.6h0.9M495 435.2h0.9M515.5 448.3h0.9M517.3 427.7h0.9M514.2 430.2h0.9M516.1 455.9h0.9M489.1 427.8h0.9M488.5 446.8h0.9M566.6 432.8h0.9M524.9 436.9h0.9M499.9 419.3h0.9M530.6 444.5h0.9M520.4 444.4h0.9M497.3 437.6h0.9M511.3 447h0.9M519.8 450.5h0.9M496.2 444.5h0.9M479.3 443.7h0.9M480.2 432.3h0.9M507.1 454.3h0.9M506.2 463.1h0.9M507.7 428.4h0.9M515.2 431.8h0.9M508.1 453.6h0.9M510 442.4h0.9M494.6 449.8h0.9M489.3 429.1h0.9M491.9 453.7h0.9M518.9 457.1h0.9M490.4 459.7h0.9M474.8 428.5h0.9M491.3 454.7h0.9M500.7 444.9h0.9M506.3 449.5h0.9M498.6 443.2h0.9M488.7 445.7h0.9M483.1 453.2h0.9M519.5 450.5h0.9M536 429.8h0.9M506.7 443.1h0.9M524 439.6h0.9M502.4 444.7h0.9M520.6 451.7h0.9M505.6 445.4h0.9M492.9 446.3h0.9M495.1 459.9h0.9M507.1 429.9h0.9M506.2 462.9h0.9M524.7 447.3h0.9M502.7 449.6h0.9M464.4 461.7h0.9M492.8 425.1h0.9M508 434.7h0.9M514 441.6h0.9M475 447.6h0.9M491.4 440.2h0.9M530.7 442.3h0.9M492.2 431.7h0.9M473.8 453.4h0.9M484 459h0.9M497.7 428.1h0.9M517.1 441.3h0.9M498.3 448.6h0.9M525.5 449.9h0.9M526.5 458.6h0.9M530.9 437.1h0.9M542.5 446.7h0.9M520.9 437.6h0.9M507.3 465.1h0.9M512.2 449.5h0.9M529.4 452h0.9M486.1 438.8h0.9M498.7 439.3h0.9M493 444.9h0.9M531.3 454.6h0.9M492.6 448.4h0.9M508.5 435.6h0.9M499.7 447h0.9M506.6 452h0.9M516.1 428h0.9M523.4 445.8h0.9M490.5 447.8h0.9M531.3 423.2h0.9M557.8 462.4h0.9M486.4 448.2h0.9M498.8 456.3h0.9M491.6 448.8h0.9M525.6 459.2h0.9M512 437.1h0.9M529 448h0.9M473.6 426.1h0.9M521.7 443.4h0.9M470.7 431.9h0.9M520.3 439h0.9M492.5 454.2h0.9M511.4 444.5h0.9M499.4 447.9h0.9M505.2 448.3h0.9M508 450.5h0.9M530.9 439.9h0.9M502.3 447.3h0.9M520.9 462.1h0.9M489.2 435.6h0.9M490.2 462.1h0.9M511 430.7h0.9M526.6 426.9h0.9M511 455.6h0.9M481.1 429.7h0.9M500 464.4h0.9M483.8 460.3h0.9M494 451.2h0.9M501.6 446.8h0.9M495.8 437h0.9M504.2 464.7h0.9M519.7 442.3h0.9M493.5 459h0.9M492.4 450.9h0.9M497.2 444.2h0.9M527 441.7h0.9M500.3 460h0.9M498.5 451.5h0.9M521.7 439.1h0.9M516.3 448.9h0.9M506 442.6h0.9M519 435.4h0.9M507.4 442.5h0.9M537.2 452h0.9M484.2 440.9h0.9M511.5 442.1h0.9M547.4 437.3h0.9M493.9 431.3h0.9M522.7 434.1h0.9M484.1 448.2h0.9M516.2 443.3h0.9M518.4 428.5h0.9M493.9 452.8h0.9M488.9 444.4h0.9M483.8 445.6h0.9M510.8 444.6h0.9M485.8 428.7h0.9M504.1 443.1h0.9M522.8 458.4h0.9M500.2 435.1h0.9M481.6 438.6h0.9M469.8 456.2h0.9M492.5 435.5h0.9M505.9 455.6h0.9M519.5 454.8h0.9M493.2 447.1h0.9M511.8 444.3h0.9M508 430.7h0.9M494 437.9h0.9M528 436h0.9M484.8 455h0.9M523.8 438.9h0.9M486.7 445.4h0.9M531.9 446.5h0.9M487.4 435.2h0.9M509.2 415.5h0.9M508.6 435.4h0.9M517.7 422.2h0.9M498.8 431.2h0.9M546.5 449.3h0.9M500.3 434.2h0.9M494.8 452.7h0.9M500.4 432.8h0.9M510.5 439.6h0.9M511.8 428.5h0.9M544.9 422.3h0.9M523 443.3h0.9M520.1 436.1h0.9M478.1 441.8h0.9M513.1 452h0.9M555.9 435.6h0.9M503.9 443.5h0.9M514.7 441.8h0.9M549.3 444.3h0.9M473.6 451h0.9M503.9 435.8h0.9M517.5 452.4h0.9M486 446.7h0.9M520.7 448.8h0.9M511 457.9h0.9M537.5 450.7h0.9M487.8 423.9h0.9M513.3 433.2h0.9M568.6 440.5h0.9M503.1 456.9h0.9M487.6 456.8h0.9M523.1 439.6h0.9M529.5 443.6h0.9M503.8 436.7h0.9M492.6 452.8h0.9M498.1 443.9h0.9M509.3 434.5h0.9M470.7 444h0.9M511.3 456.5h0.9M490.6 453.9h0.9M493.9 441.5h0.9M526.6 455.4h0.9M512.6 453.4h0.9M531.7 432h0.9M492.9 431.1h0.9M504.4 438.3h0.9M496.6 450h0.9M507.9 441.3h0.9M495.1 452.2h0.9M508.4 440.4h0.9M506.5 455.7h0.9M499.9 438.1h0.9M504.4 462.7h0.9M515.3 445.4h0.9M494.2 428.7h0.9M523.3 431.7h0.9M478.7 444.3h0.9M476.7 448.9h0.9M485.2 452.2h0.9M510.7 438.8h0.9M528.4 450.3h0.9M530.5 438.5h0.9M509 425.1h0.9M498.6 432.9h0.9M508.3 433.6h0.9M503.1 444h0.9M491.2 432.3h0.9M506.6 447.1h0.9M513.5 454.7h0.9M482.8 434.9h0.9M574.4 436.5h0.9M518.9 448.8h0.9M469.1 462.1h0.9M475.3 449.1h0.9M517.5 456.8h0.9M501.5 449.6h0.9M501.3 453.2h0.9M523.7 448.5h0.9M497 422.5h0.9M519.7 427.6h0.9M491.8 441.9h0.9M490.3 436.6h0.9M482.5 425.6h0.9M503.4 414h0.9M484.5 439.3h0.9M491.8 465.6h0.9M513.7 456h0.9M520.3 456.5h0.9M496 445.9h0.9M564.7 460.5h0.9M511.1 436.6h0.9M489.2 436.2h0.9M494 450.9h0.9M520.3 451.6h0.9M536.9 422h0.9M482 449.6h0.9M539.1 447.6h0.9M485.1 449.5h0.9M479.9 458.1h0.9M503.4 452.5h0.9M488 441h0.9M519.9 448h0.9M501.2 441h0.9M482.4 442.3h0.9M518.2 450.7h0.9M513.4 431.5h0.9M495.9 454.1h0.9M526.3 438.4h0.9M503.8 447.4h0.9M493.1 442.8h0.9M513.2 444.1h0.9M501.5 436.2h0.9M471 436.3h0.9M478.6 439.4h0.9M522.8 444.3h0.9M505.7 450.2h0.9M502 431.8h0.9M500.6 430h0.9M505.5 438.4h0.9M489.4 457.9h0.9M523.5 441.3h0.9M517.5 447.1h0.9M467.2 462.8h0.9M491 448.4h0.9M499 439h0.9M509.1 445.1h0.9M534.1 446.9h0.9M500.1 451.1h0.9M506.3 453.2h0.9M497.6 453.8h0.9M507.3 448.8h0.9M495.4 452.1h0.9M499.4 457.2h0.9M482.1 445.4h0.9M497.3 435.4h0.9M508.6 447.8h0.9M523.9 437.7h0.9M491.7 425.3h0.9M519.4 415.7h0.9M519.4 422.4h0.9M496.8 442.4h0.9M519.2 429.3h0.9M517.1 437.5h0.9M490.9 444h0.9M509.8 439h0.9M475.9 444.3h0.9M491 456.9h0.9M486.7 445.9h0.9M462.7 426.6h0.9M493.3 435.6h0.9M483 436.2h0.9M508.6 447.4h0.9M511.2 444h0.9M500.2 442.9h0.9M528.6 454.3h0.9M503.3 448.4h0.9M492.2 453.9h0.9M477.7 452.2h0.9M490.7 449h0.9M511.4 447.7h0.9M502.5 429h0.9M534.6 440.4h0.9M496.3 438h0.9M468.9 436.7h0.9M490.2 452.6h0.9M475.7 443.2h0.9M507.3 438.1h0.9M505.5 453.4h0.9M482.5 439.1h0.9M494.2 449.9h0.9M482.5 444.2h0.9M518.3 440.5h0.9M501.2 447.7h0.9M512.5 450.5h0.9M464.8 450.3h0.9M499.6 440.4h0.9M484.5 436.1h0.9M517.9 450.1h0.9M495.5 432.4h0.9M510 430.4h0.9M498 433.3h0.9M508.1 436.4h0.9M510 435.2h0.9M485.2 445.3h0.9M504.5 456.1h0.9M523.5 452h0.9M487.3 447.2h0.9M497.2 446.8h0.9M504.2 437.6h0.9M510.2 434.4h0.9M512.8 453.7h0.9M518.7 432h0.9M485.5 421.9h0.9M503 441.3h0.9M496.6 437.8h0.9M518.2 446.9h0.9M536.5 446.8h0.9M491.6 433.1h0.9M505 452h0.9M483 444.1h0.9M518.6 432h0.9M500.2 430h0.9M501.5 434h0.9M516.9 432.8h0.9M576.2 438.1h0.9M505.1 442.4h0.9M494.8 444.4h0.9M492.2 455.6h0.9M487.8 454.6h0.9M521.9 456.3h0.9M500.9 453.9h0.9M487.6 452h0.9M520.2 453h0.9M493.6 436.3h0.9M496.3 448.6h0.9M475.6 449.5h0.9M513.4 450.1h0.9M475.5 435.4h0.9M491.9 445.7h0.9M527.5 446.1h0.9M520.2 441.5h0.9M494.2 431.2h0.9M527 464.4h0.9M506.6 439.6h0.9M488.6 418.9h0.9M504.1 451.9h0.9M513 435.6h0.9M499.6 449.7h0.9M500.5 431.6h0.9M501.5 437.3h0.9M504.3 461.4h0.9M521.8 461h0.9M529.2 432h0.9M521.7 434.1h0.9M540.9 446.1h0.9M506.1 438.7h0.9M502.6 451.1h0.9M541 424.5h0.9M501.1 462.8h0.9M464.2 443.3h0.9M506.5 432.1h0.9M510.3 437.7h0.9M517.5 445.8h0.9M525.9 434.4h0.9M490.5 425.6h0.9M551.4 447.1h0.9M498.2 435.2h0.9M505.3 462.6h0.9M508.2 434.1h0.9M510.8 458.7h0.9M502.6 444.1h0.9M496.3 445.2h0.9M485.7 449.7h0.9M506.2 432.3h0.9M518.2 461.4h0.9M496.8 433.4h0.9M508.4 444.2h0.9M504.6 447h0.9M506.3 445.9h0.9M542 449.4h0.9M533.7 453.2h0.9M487.5 442h0.9M507.5 440.8h0.9M512.6 448h0.9M498.9 446.5h0.9M495.4 466.2h0.9M508.6 449.6h0.9M512.4 457.4h0.9M464.6 442.7h0.9M505.2 446.8h0.9M481.4 430.6h0.9M504 465.5h0.9M485.1 424.5h0.9M471.3 448.1h0.9M477.7 434.9h0.9M496.5 427.4h0.9M473.1 458.1h0.9M533.3 453.5h0.9M482.3 438h0.9M543.5 441.4h0.9M505.6 432.9h0.9M516 462.8h0.9M489.9 431h0.9M509.5 454h0.9M479.8 443.5h0.9M504.3 449.9h0.9M479.7 454h0.9M493.6 435.9h0.9M504.9 450.2h0.9M496.9 440.6h0.9M470.7 458.6h0.9M490.8 435h0.9M495.1 443.6h0.9M494.9 428.1h0.9M514.9 423h0.9M472.4 452.6h0.9M540.1 459h0.9M526.3 438.6h0.9M492.5 447.8h0.9M526.8 427.7h0.9M505.4 447.7h0.9M507.2 464.9h0.9M504.1 451.6h0.9M490 418.9h0.9M505.7 443.5h0.9M495.8 440.9h0.9M507.7 455.7h0.9M510.8 460.1h0.9M518.2 449.9h0.9M478 455.9h0.9M480.4 438.6h0.9M567.7 431.8h0.9M545.5 446.5h0.9M500.6 455.1h0.9M519.9 440.3h0.9M511.9 450.6h0.9M505.5 432.7h0.9M506.7 430.1h0.9M489.2 433.9h0.9M525.1 460.2h0.9M492.9 446.8h0.9M494.9 438.6h0.9M509 437.7h0.9M469.5 408.4h0.9M531.8 436.6h0.9M523.1 445.2h0.9M535.3 436.9h0.9M505.1 440.8h0.9M523.6 450.4h0.9M485 437.4h0.9M479.5 444.3h0.9M495.3 442h0.9M529.8 447.8h0.9M509 443.8h0.9M482.3 448.1h0.9M496 447.5h0.9M499.9 419.4h0.9M483.5 431.8h0.9M545.8 457.5h0.9M481.9 417.9h0.9M510.7 465h0.9M514.7 450.5h0.9M493.4 446.6h0.9M496.5 425.2h0.9M488.8 429.4h0.9M495.8 442.6h0.9M501.3 442.3h0.9M486 450.4h0.9M503.5 450.7h0.9M516.8 445.2h0.9M498.1 433.2h0.9M511.2 444.5h0.9M511.7 449.9h0.9M513.5 452.5h0.9M520.9 451h0.9M502.7 428.7h0.9M511.1 446.9h0.9M501.2 445.9h0.9M476.8 439.6h0.9M496.2 444.5h0.9M508.4 438h0.9M505.2 446.2h0.9M497.1 448.8h0.9M495.2 422.2h0.9M520.9 455.9h0.9M479.6 436.5h0.9M517.1 446.8h0.9M502.4 433.8h0.9M481.9 438.9h0.9M576.7 434.3h0.9M503.4 442.4h0.9M498.9 454.7h0.9M493.1 452.1h0.9M481.3 446.2h0.9M509.8 436.4h0.9M491.9 452.3h0.9M501.8 440.4h0.9M481.2 450.9h0.9M534.2 456.1h0.9M526 451.7h0.9M489.5 422.4h0.9M501.9 433h0.9M493.4 423.3h0.9M517.3 454.1h0.9M505.2 425.8h0.9M535.8 463.2h0.9M511.9 430.6h0.9M491.4 437.6h0.9M494.7 441.1h0.9M499.6 441.7h0.9M488.2 436.7h0.9M481.1 452h0.9M495.9 438.9h0.9M524.9 451.9h0.9M496.7 442.7h0.9M491.7 430.9h0.9M511.2 432.9h0.9M499.7 454.5h0.9M507.5 446.6h0.9M510.2 456.7h0.9M495.1 466.1h0.9M539.2 431.9h0.9M487.3 428.1h0.9M486 439h0.9M508.7 437.1h0.9M513.5 450.8h0.9M489.2 447.9h0.9M506 430.4h0.9M526.9 441.7h0.9M469 442.4h0.9M483.7 447h0.9M500.4 457.9h0.9M513.4 444.2h0.9M510.7 450.9h0.9M497.7 455.3h0.9M512.5 454.1h0.9M496.4 439.7h0.9M494.6 434.7h0.9M513.5 455.1h0.9M528 461.2h0.9M489.7 444.8h0.9M487.2 457.9h0.9M503.7 459.1h0.9M535.4 434.9h0.9M519.5 449h0.9M503.5 449.1h0.9M496.1 456.1h0.9M500.4 457.3h0.9M504 453.2h0.9M500.6 434.4h0.9M500 444.2h0.9M510.2 447.6h0.9M503.2 430.9h0.9M509.8 444.7h0.9M499 462.4h0.9M517.7 444.3h0.9M476.3 442.7h0.9M506.2 415h0.9M541.5 441.1h0.9M511.7 447.5h0.9M507.8 440.9h0.9M502 458.1h0.9M509.4 451.8h0.9M503.7 436.4h0.9M502.6 450.7h0.9M491 454.3h0.9M512 436.7h0.9M488 438.3h0.9M518.4 440.7h0.9M483.1 429.4h0.9M488.4 440.3h0.9M488.7 446h0.9M475.5 422.1h0.9M496.8 431.1h0.9M512.7 440.4h0.9M498.2 449.8h0.9M512.8 451.2h0.9M518.7 463.1h0.9M521.5 456.8h0.9M539.3 442.2h0.9M519.1 447.3h0.9M474.6 434.5h0.9M505.5 458.1h0.9M527.4 421h0.9M494.8 431.6h0.9M501.4 441.7h0.9M526.9 450h0.9M499.2 464.2h0.9M477.6 439.7h0.9M497 442.1h0.9M508.1 449.3h0.9M541.1 443.8h0.9M492.3 456.4h0.9M483.4 453h0.9M493.6 433.3h0.9M516.3 431.3h0.9M501.1 429.4h0.9M462.9 431h0.9M511.1 437.8h0.9M517.1 430.8h0.9M535.7 428.7h0.9M501.8 441.4h0.9M510 437.8h0.9M555.1 451.1h0.9M505.5 436.7h0.9M494.5 434h0.9M555.6 425.9h0.9M500.1 452.3h0.9M504.6 440.1h0.9M517.7 424.9h0.9M479.6 435.2h0.9M519.3 462.5h0.9M501.8 454.4h0.9M501.2 447h0.9M504.2 444.6h0.9M497.5 451.1h0.9M460.3 459.3h0.9M485 443.3h0.9M532.5 452h0.9M517.4 432.2h0.9M506.6 435.8h0.9M498.4 429.8h0.9M497.1 427h0.9M498.5 442.9h0.9M482.5 415.9h0.9M511.7 448.5h0.9M527.6 443.8h0.9M475.7 438.3h0.9M522.7 449.4h0.9M501.9 430.7h0.9M511.8 441.9h0.9M478.2 453.7h0.9M523.7 448h0.9M494 438.3h0.9M479.4 429.5h0.9M517.8 435h0.9M515.8 423.4h0.9M538.7 451.9h0.9M496.6 452.4h0.9M514.7 438h0.9M508.6 434.9h0.9M491.1 450.6h0.9M492.7 425.9h0.9M500.1 447.2h0.9M502.1 446.3h0.9M514.5 457.7h0.9M491.5 435.5h0.9M492.4 457h0.9M491.8 435.1h0.9M486.8 450.2h0.9M494.4 436.4h0.9M497.1 452.7h0.9M486.1 448.4h0.9M483.1 453.4h0.9M515.7 442.3h0.9M500.5 440.8h0.9M484.1 465.4h0.9M507.3 457.9h0.9M515.7 450.8h0.9M527.5 438.7h0.9M527.8 449.8h0.9M507.2 450.3h0.9M508.6 438.8h0.9M468.5 435.9h0.9M505.6 430h0.9M522.3 441.8h0.9M498.5 441.1h0.9M488.6 447.5h0.9M496.9 464.4h0.9M506.5 433.8h0.9M498.2 455h0.9M525.5 452.8h0.9M487.8 448.2h0.9M505.8 441h0.9M497.1 446.6h0.9M479.3 442.6h0.9M527.7 427.5h0.9M520 439.1h0.9M497.2 453h0.9M516.1 449.9h0.9M526.6 445.1h0.9M510.2 456.8h0.9M502 432.7h0.9M530.3 427.6h0.9M489 445.4h0.9M507.9 432.4h0.9M499.4 452.3h0.9M517.4 432.7h0.9M544 453.4h0.9M527.6 442.9h0.9M532.7 446.5h0.9M512.1 461.8h0.9M569.3 457.7h0.9M500 439.4h0.9M504.3 457.1h0.9M507.9 437h0.9M513.7 429.5h0.9M486.3 436.5h0.9M515.1 429.3h0.9M482.7 438.3h0.9M513.6 445.9h0.9M577.9 435.2h0.9M516 433.7h0.9M531.9 439.9h0.9M516.4 439.1h0.9M494 455.6h0.9M511.4 432.7h0.9M520.4 443.6h0.9M503.5 447.3h0.9M507.2 412.2h0.9M527.1 446.3h0.9M497 446.6h0.9M525.7 460.2h0.9M468.7 439.3h0.9M491 430.6h0.9M497.5 454h0.9M507 447.8h0.9M509 444.6h0.9M508.6 430.2h0.9M510.9 451.8h0.9M540.1 438.4h0.9M509.6 450.7h0.9M505 414.6h0.9M507.7 443.6h0.9M499.4 446.7h0.9M489 450.2h0.9M488 454.5h0.9M494 445.3h0.9M522.3 449.5h0.9M492.8 429.8h0.9M529.9 441.1h0.9M488.7 450.6h0.9M518.8 444.6h0.9M479 459.7h0.9M530.7 461.2h0.9M526.3 437.8h0.9M518.8 443.9h0.9M485 440.9h0.9M500 450h0.9M504 444.6h0.9M520 438.9h0.9M502 438.2h0.9M503.7 435.3h0.9M499.3 436.5h0.9M514.7 432.6h0.9M500.8 455h0.9M502.5 424.1h0.9M475.5 447.4h0.9M514.3 433.3h0.9M521.1 440.2h0.9M489.6 455.3h0.9M521.6 444.6h0.9M507.3 450.4h0.9M516.9 449.1h0.9M496.9 462.7h0.9M576.3 423.7h0.9M519.9 444.8h0.9M523 459.7h0.9M515.2 452.8h0.9M538 442.9h0.9M485.7 451.9h0.9M517.6 447.9h0.9M495.5 432.8h0.9M469.7 450.8h0.9M499.6 459.3h0.9M522.1 437.6h0.9M485.2 458.8h0.9M495 464h0.9M506.1 440.5h0.9M497.1 450.8h0.9M543.5 434.5h0.9M505.2 445h0.9M519.7 440h0.9M502.7 455.4h0.9M514.4 456.8h0.9M556.2 453.9h0.9M509.6 455.1h0.9M517.2 453.4h0.9M510.9 442.8h0.9M494.6 455.5h0.9M496.9 433.7h0.9M481.1 441h0.9M517 454.7h0.9M524.6 446.4h0.9M513.9 446h0.9M486.2 449.1h0.9M494.1 456.6h0.9M484.6 460.5h0.9M552.4 439.9h0.9M521.3 452.6h0.9M514.5 432h0.9M505.6 453.3h0.9M505 454.4h0.9M496.4 443.4h0.9M514.9 444.8h0.9M497.8 446.9h0.9M493.5 455.1h0.9M509 465h0.9M487.2 442.4h0.9M551.3 424.4h0.9M524.8 449h0.9M514 445.8h0.9M504.7 443.5h0.9M498.7 430.2h0.9M513.3 434.1h0.9M512.8 443.5h0.9M527.5 443.3h0.9M479.4 445.4h0.9M559.4 438.2h0.9M469 431.4h0.9M500.2 453h0.9M519 445.4h0.9M539.3 452.7h0.9M497.8 456.1h0.9M502.7 454.3h0.9M493.1 455.7h0.9M504.4 434.4h0.9M499.6 451.6h0.9M486.8 445.5h0.9M506.1 434.8h0.9M481.8 451.4h0.9M492.8 447.6h0.9M470 438.5h0.9M531.2 446h0.9M459.9 432.5h0.9M499.2 439.6h0.9M471.1 445.2h0.9M528.9 448.4h0.9M473.3 439.8h0.9M496.7 456.3h0.9M509.7 445h0.9M577.5 425.8h0.9M494.2 449.4h0.9M470.6 441.2h0.9M474.8 454.8h0.9M492.4 461.5h0.9M507 430.4h0.9M529.8 429.7h0.9M528.2 448.1h0.9M471.6 426.6h0.9M499.4 445.8h0.9M496.2 430.2h0.9M504.1 438.8h0.9M505.2 443.1h0.9M518.8 447.4h0.9M498.9 435.9h0.9M502.8 443.5h0.9M516.8 459h0.9M545.3 457h0.9M489.5 443.7h0.9M522.3 443.2h0.9M513.7 450.7h0.9M525.7 430.8h0.9M517.2 442.6h0.9M527.5 440.7h0.9M538.2 446h0.9M502.5 453h0.9M518 427.7h0.9M468.1 444.4h0.9M502.9 436.3h0.9M496.4 438.9h0.9M500.8 433.6h0.9M493.4 435.5h0.9M518.7 445.3h0.9M508.9 450h0.9M522.1 450.2h0.9M495.6 438.4h0.9M513.1 443.1h0.9M546.5 456.5h0.9M496.2 459.1h0.9M502.4 445.4h0.9M519.1 412.2h0.9M530.1 446.5h0.9M512 432.5h0.9M493.1 438.5h0.9M510.3 450.2h0.9M497.9 452.9h0.9M522.9 449.7h0.9M516.5 440.4h0.9M512.4 447.6h0.9M510.3 439.6h0.9M533.7 428h0.9M510.2 451.1h0.9M525.6 443.9h0.9M515.4 455.2h0.9M519.2 441.5h0.9M493.8 429.6h0.9M507.7 454.8h0.9M488.8 429.3h0.9M500.4 434.5h0.9M524.1 457h0.9M562.8 443.5h0.9M498 433.6h0.9M523.9 419.1h0.9M534.1 436.4h0.9M513.3 447.5h0.9M523.4 446.4h0.9M503.7 456.1h0.9M513.4 447h0.9M492.5 449.1h0.9M498.3 435.3h0.9M493.6 454.5h0.9M475.1 459.6h0.9M507.7 450.9h0.9M509 447.3h0.9M511 440.1h0.9M507.3 442.4h0.9M501.6 447.7h0.9M526.2 435.6h0.9M511.4 438.7h0.9M540.4 437.6h0.9M518.5 439.6h0.9M500.2 450.9h0.9M502.7 438.6h0.9M498.2 435.9h0.9M489.7 449.6h0.9M489.9 462.1h0.9M505.5 454h0.9M516.5 453.4h0.9M504.8 441h0.9M471.5 424.6h0.9M501.1 442.5h0.9M513.6 434.4h0.9M493.9 441h0.9M505 437.2h0.9M482.7 449.9h0.9M544.8 453.2h0.9M498.7 443h0.9M507.7 455.9h0.9M509.5 429h0.9M516 445.9h0.9M487.6 450.1h0.9M530.7 438.4h0.9M513.2 453.9h0.9M533 436.5h0.9M505 445.1h0.9M500.6 444.2h0.9M529.8 452.3h0.9M507.2 443.4h0.9M554.4 446.2h0.9M509.6 452.7h0.9M496.1 443.3h0.9M495.4 450.6h0.9M535.7 448.2h0.9M538.7 454.6h0.9M495 461.4h0.9M507.5 434.3h0.9M478.5 454h0.9M505 426.6h0.9M548.1 449.5h0.9M536.1 451.1h0.9M488.8 444.1h0.9M509.4 447.4h0.9M534.5 430.8h0.9M506.7 434.6h0.9M471 451h0.9M506 446.9h0.9M495.5 447h0.9M528 449.4h0.9M487 445.8h0.9M496.2 435.8h0.9M536.4 434.9h0.9M509.1 435.8h0.9M516.3 435.5h0.9M499.5 450.7h0.9M482.7 439.1h0.9M531.9 442.6h0.9M501.2 460.9h0.9M526.8 442.1h0.9M549.8 441.1h0.9M518.9 441.6h0.9M468.2 433.7h0.9M506.3 445.3h0.9M520.7 444.9h0.9M510.6 435.3h0.9M515.7 431.4h0.9M520.4 439.7h0.9M520.4 445.5h0.9M487.3 449.4h0.9M483.2 438.5h0.9M483.7 440.9h0.9M551.4 444.4h0.9M503.6 441.9h0.9M504.2 447.8h0.9M521.6 431.9h0.9M486.2 450.2h0.9M499.2 446h0.9M493.1 446h0.9M495.8 436.4h0.9M509 435.1h0.9M493.2 452.7h0.9M511.4 462.9h0.9M497.5 448.5h0.9M496 452.1h0.9M537.1 431.1h0.9M491.4 459.2h0.9M492.6 442.9h0.9M519.5 453.3h0.9M502.4 444.8h0.9M506.5 442.1h0.9M536 464.7h0.9M510.4 443.8h0.9M501.3 441h0.9M513.5 425.8h0.9M514 449.4h0.9M518.1 431.6h0.9M532.4 442.3h0.9M523.1 449.1h0.9M501.1 427.8h0.9M500.6 439.6h0.9M475.7 433.2h0.9M522.6 460.1h0.9M488.7 445.9h0.9M542.3 452.2h0.9M501.2 447.8h0.9M510.7 451.6h0.9M506.3 446.2h0.9M510.9 443.7h0.9M506.5 440.7h0.9M493.5 452.4h0.9M507.1 430.8h0.9M494.5 440.7h0.9M570.9 425.7h0.9M489.4 458.9h0.9M508.3 425.9h0.9M508.9 440.8h0.9M462.2 432.4h0.9M504.5 453.4h0.9M509.1 446.8h0.9M499.9 449.9h0.9M501.7 462.4h0.9M522.1 435.7h0.9M508.5 454h0.9M509.8 444.1h0.9M521.3 437.3h0.9M493.1 437.5h0.9M496.2 433.6h0.9M491.9 451.1h0.9M505.5 443.4h0.9M463.9 422h0.9M517.9 454.5h0.9M479.4 451.6h0.9M537.4 444.7h0.9M519 416.9h0.9M516.3 419.7h0.9M481.1 440.8h0.9M508.5 436.9h0.9M493.9 444.6h0.9M498.5 441.4h0.9M496.2 439.5h0.9M533.5 442h0.9M485.6 459.5h0.9M502.9 450.4h0.9M512.1 438.8h0.9M512.4 437.3h0.9M513.1 445.6h0.9M476.5 450.5h0.9M477.3 450.1h0.9M529.4 452.4h0.9M510 443.6h0.9M481.2 448.6h0.9M509.2 451.9h0.9M512.6 434.7h0.9M498.2 437.3h0.9M520.5 457h0.9M536.1 439.3h0.9M508 446.3h0.9M507.7 445.8h0.9M517.3 445.4h0.9M520.1 447.9h0.9M523.7 443h0.9M484.1 438.5h0.9M485.3 439.6h0.9M510.1 454.2h0.9M532.1 439.2h0.9M497.5 462.2h0.9M515.4 456.1h0.9M513.9 450.8h0.9M491.3 407.2h0.9M485.9 434.5h0.9M519.6 423.2h0.9M486.5 449.7h0.9M515.7 448.9h0.9M514.9 433.4h0.9M492.1 433.4h0.9M512.4 460.9h0.9M504 457.6h0.9M515.4 438.6h0.9M548.7 445.3h0.9M485 442.3h0.9M530.5 435.3h0.9M502.3 447.1h0.9M505 429h0.9M504.8 437.2h0.9M462.1 445.7h0.9M507.5 448.8h0.9M491.3 447.5h0.9M539.7 451.7h0.9M478.3 440.8h0.9M499.6 428h0.9M493.3 440.6h0.9M501.9 438.3h0.9M508.3 449.6h0.9M503.1 449.1h0.9M517.3 446h0.9M516.4 438.3h0.9M499.7 448h0.9M545.9 433.5h0.9M492.5 436.4h0.9M461.7 432.7h0.9M548.2 439.4h0.9M537.7 421h0.9M509.7 437.7h0.9M497.3 448.1h0.9M495.1 436.2h0.9M491.8 452.5h0.9M507 447.2h0.9M507.9 430.8h0.9M538.3 446.9h0.9M528.1 463h0.9M509.6 432.4h0.9M511.1 437.3h0.9M496 432.6h0.9M524.4 443.5h0.9M495.8 447.2h0.9M496.4 443.4h0.9M549.6 440.2h0.9M526.4 429.3h0.9M490.1 451.9h0.9M529.3 442.9h0.9M514.1 462.8h0.9M515 454h0.9M496.9 461.4h0.9M502 440.5h0.9M486.1 443.6h0.9M482 438.1h0.9M511.8 430.4h0.9M509.7 442.7h0.9M530.5 444.3h0.9M507.4 438.2h0.9M556.5 457.8h0.9M521.1 439.3h0.9M548.3 439.1h0.9M507.2 444h0.9M500.4 441.8h0.9M508.2 461.2h0.9M520.9 450h0.9M509.8 434.2h0.9M490.2 441.3h0.9M494.2 439.2h0.9M515.4 458.8h0.9M515.1 439.8h0.9M493.4 437.4h0.9M497.2 439.3h0.9M518.9 434.6h0.9M506.3 460.4h0.9M496.8 431.9h0.9M545 457.5h0.9M527.5 449.7h0.9M519.8 414.9h0.9M505.1 439.3h0.9M504.5 462.6h0.9M497.3 445.2h0.9M513.1 435.6h0.9M527.2 442.7h0.9M488.9 455.6h0.9M494 444.4h0.9M477.9 454.7h0.9M489.5 432.2h0.9M534.3 453.4h0.9M515.3 442.4h0.9M461.3 425.4h0.9M487.6 446.9h0.9M478.1 449h0.9M501.5 435h0.9M535.3 423.1h0.9M505.2 439.9h0.9M511.6 458.4h0.9M539 452.8h0.9M510 450.4h0.9M507 454.3h0.9M498.4 453.8h0.9M514.5 442.3h0.9M525.5 440.7h0.9M502.3 448.5h0.9M502.4 439.9h0.9M473.8 432.7h0.9M489.7 449h0.9M512.5 435.4h0.9M474.9 434.3h0.9M504.7 427.8h0.9M521.2 428.9h0.9M548.3 453.6h0.9M485.8 448.8h0.9M522.5 446.5h0.9M459.9 442.3h0.9M497.4 431.6h0.9M510 434.4h0.9M530.5 440.8h0.9M519.3 435.5h0.9M524.3 429.9h0.9M481.9 427.6h0.9M518.1 442.2h0.9M480 435.1h0.9M515.9 443.7h0.9M517.6 445.4h0.9M472.2 464.8h0.9M518.3 439.1h0.9M504.6 462.8h0.9M535.5 459.1h0.9M516.2 441.9h0.9M490.3 441.3h0.9M522.5 444.7h0.9M523.2 445.7h0.9M516.8 435.1h0.9M546.7 454.2h0.9M494.1 443.3h0.9M479.7 466.5h0.9M510 450.1h0.9M495.9 462h0.9M495.3 441.1h0.9M463.3 440.6h0.9M511.3 457.8h0.9M511.7 431h0.9M494.1 444.1h0.9M506.4 449.1h0.9M523.4 431.1h0.9M514.8 439.7h0.9M482.7 463.2h0.9M486.4 442.3h0.9M502.9 447.4h0.9M486.9 451.7h0.9M500.5 420.6h0.9M503.1 460.1h0.9M503.2 457.9h0.9M492.5 447.5h0.9M515.6 431.4h0.9M516.9 462.6h0.9M526.5 450.3h0.9M497.3 449.3h0.9M500.8 456.4h0.9M522.5 429.1h0.9M508.7 444.3h0.9M498.4 443.7h0.9M512.8 450.8h0.9M515.5 439h0.9M540.7 450.5h0.9M519.8 445.1h0.9M489 443.5h0.9M492.2 438.2h0.9M482.3 450.7h0.9M486.3 444h0.9M506.4 445.1h0.9M491.7 443.1h0.9M481.4 452.4h0.9M527.3 433.2h0.9M538.7 446h0.9M500.7 465.8h0.9M515.3 445.6h0.9M513.1 431.6h0.9M510.8 444.6h0.9M463 442.6h0.9M518.8 449.7h0.9M477.2 434.7h0.9M490.6 440.3h0.9M506.3 448h0.9M483.7 444.7h0.9M492.1 431.5h0.9M520.3 436.7h0.9M509.1 447.6h0.9M509.5 437.1h0.9M517 450.6h0.9M501.9 436.2h0.9M495.9 437.3h0.9M509.5 435h0.9M487.3 449.4h0.9M497.4 451h0.9M474.7 429.1h0.9M500.2 459.5h0.9M541.7 448.8h0.9M525.9 449.9h0.9M509.7 445.3h0.9M493.5 446.7h0.9M468.7 440h0.9M498.6 430.9h0.9M495.8 435.4h0.9M525.9 436.4h0.9M514.9 442.8h0.9M504.1 452.9h0.9M512.1 449h0.9M483.4 447.4h0.9M514.5 436.4h0.9M487.7 449.1h0.9M501.2 444.8h0.9M480.7 449h0.9M499 442.7h0.9M481.9 455.7h0.9M513.7 437h0.9M501.2 449.8h0.9M517.3 442.8h0.9M489.1 435h0.9M478.7 454.6h0.9M504.5 440.1h0.9M494.3 443.3h0.9M543.4 452.2h0.9M499.1 442.3h0.9M519.9 443.8h0.9M502.7 447h0.9M506.7 426.8h0.9M486 461.5h0.9M525.8 437.9h0.9M507.4 433.3h0.9M529 443.9h0.9M513.1 443.7h0.9M539.1 447.8h0.9M514.1 424.2h0.9M472.1 457h0.9M552 444.8h0.9M489.3 457.6h0.9M521 447.4h0.9M509.9 444.1h0.9M525.5 456.4h0.9M524.5 435.4h0.9M521.1 444.2h0.9M500.8 442.9h0.9M505.1 454h0.9M509.5 432.8h0.9M535.1 456.8h0.9M510.4 458.3h0.9M496.1 435.2h0.9M499.9 455.9h0.9M522.9 442.6h0.9M503.6 438.8h0.9M520.4 442h0.9M480.9 438.5h0.9M488.9 440.7h0.9M491.4 422.9h0.9M506.6 443.5h0.9M515 430.9h0.9M522.5 410.8h0.9M512.8 434.8h0.9M494.7 447.9h0.9M492.4 450.2h0.9M493.2 435h0.9M491 446.8h0.9M498 438.7h0.9M510.9 452.9h0.9M499.5 427.5h0.9M470.8 426h0.9M495.1 439.4h0.9M528.7 449.1h0.9M505.4 454.6h0.9M509 462.3h0.9M540.3 439h0.9M538.2 433.1h0.9M496.7 450.8h0.9M509.6 455h0.9M478.5 449.9h0.9M507.9 448.9h0.9M491.6 443.9h0.9M486.9 451.2h0.9M472.5 455.8h0.9M497.8 450.1h0.9M519.5 422.3h0.9M496.2 443.4h0.9M494.3 440.6h0.9M502.2 442.8h0.9M499.9 434.3h0.9M506.3 438.8h0.9M520.5 427.7h0.9M503.8 448.4h0.9M478.2 444.5h0.9M509.5 431.6h0.9M526.2 447.2h0.9M533.8 449.4h0.9M535.8 427.7h0.9M504.1 450.2h0.9M536.7 436.2h0.9M503.3 438.1h0.9M508.1 449.5h0.9M512.5 443.1h0.9M496.6 451.9h0.9M491.8 430.4h0.9M486.1 435.5h0.9M501.1 451.2h0.9M509.6 433.3h0.9M510 433.1h0.9M522 443.4h0.9M508.4 429.6h0.9M496.9 449.7h0.9M502.3 444.3h0.9M519.3 409.1h0.9M535 426.4h0.9M524.4 448.3h0.9M495.6 424.4h0.9M506.9 430.3h0.9M529.3 441.2h0.9M504.3 428.9h0.9M508.4 443.7h0.9M463.3 424.9h0.9M465.4 443.8h0.9M497.4 457.1h0.9M547.4 432h0.9M501.3 451h0.9M500.4 450h0.9M531.1 444.8h0.9M507.9 455.8h0.9M505.9 447h0.9M537.3 446.1h0.9M499.6 430.5h0.9M484.4 438.1h0.9M540.3 447.6h0.9M515.3 435.2h0.9M519.9 437.5h0.9M491.9 445h0.9M515.8 425.3h0.9M513.9 442h0.9M487.6 443.7h0.9M535.4 457.3h0.9M511.8 444.6h0.9M500.7 450.1h0.9M482.1 442h0.9M515.1 449.2h0.9M507.8 446.6h0.9M493.9 435.3h0.9M503.8 440.5h0.9M487.3 439.1h0.9M501.5 437h0.9M500.1 442.3h0.9M503.7 431h0.9M520.8 461h0.9M496.5 447.7h0.9M474.9 443.3h0.9M500.5 450.7h0.9M523.5 447.3h0.9M494.9 441.5h0.9M502.3 461.6h0.9M526.3 458.2h0.9M499.8 433.7h0.9M516.3 449.6h0.9M515.8 446h0.9M507.1 430.9h0.9M505.3 449.7h0.9M481.7 443.8h0.9M503.2 456.1h0.9M518.8 459.5h0.9M495.8 450.6h0.9M523.4 429.7h0.9M521.2 445h0.9M505.5 433.9h0.9M488.3 460.3h0.9M517.1 438.8h0.9M498.4 431.5h0.9M498.1 447.5h0.9M475.1 434.9h0.9M486.6 447.4h0.9M517.3 444.8h0.9M515.1 432.9h0.9M515.5 422.6h0.9M519.5 431h0.9M496.1 456.6h0.9M509.1 457.3h0.9M512.7 425.3h0.9M551.2 443.9h0.9M518.2 454.6h0.9M505.5 457.2h0.9M502.8 457.9h0.9M494.2 446.4h0.9M498.7 439.4h0.9M505 443.1h0.9M535.6 424.9h0.9M506.6 428.1h0.9M504.5 448.7h0.9M496.1 443.8h0.9M502.4 457.8h0.9M467.2 450.7h0.9M507.3 445.6h0.9M469.1 439.9h0.9M525.5 452.3h0.9M498.7 414.9h0.9M516.6 457.3h0.9M505 440.5h0.9M479.5 435h0.9M490 439.9h0.9M517.5 439.1h0.9M496.3 450.4h0.9M508.7 438.9h0.9M490.5 420.6h0.9M507.1 450.7h0.9M503.1 442.7h0.9M510.8 439.5h0.9M513 431.6h0.9M505.5 450h0.9M528.7 444.7h0.9M511.7 430.9h0.9M510.7 436.2h0.9M509 446.8h0.9M475 466.4h0.9M498.8 452.5h0.9M489.3 452.6h0.9M491.5 442.5h0.9M532.2 440h0.9M518 444.7h0.9M512.1 438.9h0.9" fill="none" stroke="#8a8af5" stroke-width="0.9" stroke-opacity="0.65"/>
<ellipse cx="500.5" cy="444.2" rx="22" ry="15.5" fill="url(#glow)"/>
<path d="M536.2 443.4C535.6 440.9 533.5 436.9 530.9 433.9C528.3 430.9 524.8 427.5 520.5 425.4C516.2 423.2 509.9 421.3 505.3 421C500.7 420.7 496.6 421.7 493 423.5C489.4 425.3 486 428.4 483.5 432C481 435.6 478.5 441.7 478.2 445.3C477.9 448.9 479.1 451.6 481.6 453.8C484.1 456 488.3 457.7 493 458.6C497.7 459.5 504.6 459.6 510 459.1C515.4 458.6 521.1 457.4 525.2 455.7C529.3 454 532.9 451.1 534.7 449C536.5 446.9 536.8 445.9 536.2 443.4Z" fill="none" stroke="#1a1a1a" stroke-width="0.85"/>
<path d="M530.9 443.5C530.4 441.3 528.6 437.9 526.4 435.3C524.1 432.8 521.1 429.9 517.4 428C513.8 426.2 508.3 424.5 504.3 424.2C500.4 424 496.9 424.8 493.8 426.4C490.6 428 487.7 430.6 485.6 433.7C483.5 436.8 481.3 442 481 445.1C480.8 448.3 481.8 450.5 484 452.5C486.1 454.4 489.7 455.8 493.8 456.6C497.8 457.3 503.8 457.4 508.4 457C513 456.6 517.9 455.5 521.5 454.1C525 452.6 528.1 450.1 529.6 448.3C531.2 446.6 531.5 445.7 530.9 443.5Z" fill="none" stroke="#2a2a2a" stroke-width="0.85"/>
<path d="M526.4 443.6C525.9 441.7 524.4 438.8 522.5 436.6C520.5 434.4 517.9 431.9 514.8 430.3C511.6 428.7 506.9 427.3 503.5 427C500.1 426.8 497.1 427.5 494.4 428.9C491.7 430.2 489.2 432.5 487.4 435.2C485.6 437.9 483.7 442.3 483.5 445C483.2 447.7 484.2 449.7 486 451.3C487.8 452.9 490.9 454.2 494.4 454.9C497.9 455.5 503 455.6 507 455.2C511 454.9 515.2 454 518.3 452.7C521.3 451.5 523.9 449.3 525.3 447.8C526.6 446.2 526.9 445.5 526.4 443.6Z" fill="none" stroke="#5a1a2a" stroke-width="0.65"/>
<path d="M522.6 443.7C522.2 442.1 520.9 439.5 519.2 437.6C517.6 435.7 515.3 433.5 512.6 432.2C509.8 430.8 505.8 429.6 502.9 429.4C499.9 429.1 497.3 429.8 495 431C492.7 432.1 490.5 434.1 488.9 436.4C487.3 438.7 485.7 442.6 485.5 444.9C485.3 447.2 486.1 448.9 487.7 450.3C489.3 451.8 492 452.9 495 453.4C498 454 502.4 454 505.9 453.7C509.3 453.4 513 452.6 515.6 451.6C518.2 450.5 520.5 448.6 521.7 447.3C522.8 446 523 445.3 522.6 443.7Z" fill="none" stroke="#7a2034" stroke-width="0.65"/>
<path d="M519.2 443.8C518.9 442.4 517.8 440.2 516.3 438.5C514.9 436.9 512.9 435 510.6 433.9C508.3 432.7 504.8 431.6 502.2 431.4C499.7 431.3 497.5 431.8 495.5 432.8C493.5 433.8 491.6 435.5 490.2 437.5C488.9 439.5 487.5 442.8 487.3 444.8C487.2 446.8 487.8 448.3 489.2 449.5C490.6 450.7 492.9 451.6 495.5 452.1C498.1 452.6 501.9 452.7 504.8 452.4C507.8 452.1 510.9 451.5 513.2 450.5C515.4 449.6 517.4 448 518.4 446.8C519.4 445.7 519.6 445.1 519.2 443.8Z" fill="none" stroke="#952840" stroke-width="0.65"/>
<path d="M515.8 443.8C515.6 442.7 514.6 440.8 513.4 439.5C512.2 438.1 510.6 436.5 508.6 435.6C506.7 434.6 503.7 433.7 501.6 433.5C499.5 433.4 497.6 433.8 496 434.7C494.3 435.5 492.7 436.9 491.6 438.6C490.5 440.3 489.3 443 489.2 444.7C489 446.4 489.6 447.6 490.7 448.6C491.9 449.6 493.8 450.4 496 450.8C498.1 451.2 501.3 451.3 503.8 451.1C506.3 450.8 508.9 450.3 510.8 449.5C512.7 448.7 514.3 447.4 515.2 446.4C516 445.5 516.1 445 515.8 443.8Z" fill="none" stroke="#ad3048" stroke-width="0.65"/>
<path d="M512.8 443.9C512.6 442.9 511.8 441.4 510.8 440.3C509.8 439.1 508.5 437.9 506.9 437.1C505.2 436.2 502.8 435.5 501.1 435.4C499.3 435.3 497.8 435.6 496.4 436.3C495 437 493.7 438.2 492.8 439.6C491.9 440.9 490.9 443.2 490.8 444.6C490.7 446 491.1 447 492.1 447.8C493 448.7 494.6 449.3 496.4 449.7C498.2 450 500.8 450 502.9 449.9C504.9 449.7 507.1 449.2 508.6 448.6C510.2 447.9 511.6 446.8 512.3 446C513 445.2 513.1 444.9 512.8 443.9Z" fill="none" stroke="#c23850" stroke-width="0.65"/>
<path d="M509.8 444C509.6 443.2 509 442 508.2 441.1C507.4 440.2 506.4 439.2 505.1 438.6C503.8 437.9 501.9 437.3 500.5 437.2C499.2 437.1 497.9 437.4 496.9 438C495.8 438.5 494.7 439.4 494 440.5C493.3 441.6 492.5 443.4 492.4 444.5C492.3 445.6 492.7 446.4 493.4 447.1C494.2 447.7 495.4 448.3 496.9 448.5C498.3 448.8 500.3 448.8 501.9 448.7C503.6 448.5 505.3 448.2 506.5 447.6C507.7 447.1 508.8 446.3 509.4 445.6C509.9 445 510 444.7 509.8 444Z" fill="none" stroke="#d44850" stroke-width="0.65"/>
<path d="M506.8 444C506.7 443.5 506.2 442.6 505.6 441.9C505.1 441.3 504.3 440.5 503.3 440.1C502.4 439.6 501 439.2 500 439.1C499 439 498.1 439.2 497.3 439.6C496.5 440 495.7 440.7 495.2 441.5C494.7 442.3 494.1 443.6 494 444.4C494 445.2 494.2 445.8 494.8 446.3C495.3 446.8 496.2 447.2 497.3 447.4C498.3 447.6 499.8 447.6 501 447.5C502.2 447.4 503.5 447.1 504.4 446.7C505.3 446.4 506.1 445.7 506.5 445.3C506.9 444.8 506.9 444.6 506.8 444Z" fill="none" stroke="#e46048" stroke-width="0.65"/>
<path d="M503.8 444.1C503.7 443.7 503.4 443.2 503 442.8C502.7 442.3 502.2 441.9 501.6 441.6C501 441.3 500.1 441 499.5 441C498.8 440.9 498.2 441 497.7 441.3C497.2 441.6 496.7 442 496.4 442.5C496.1 443 495.7 443.8 495.7 444.4C495.6 444.9 495.8 445.2 496.1 445.5C496.5 445.9 497.1 446.1 497.7 446.2C498.4 446.3 499.4 446.4 500.1 446.3C500.9 446.2 501.7 446 502.2 445.8C502.8 445.6 503.3 445.2 503.6 444.9C503.8 444.6 503.9 444.4 503.8 444.1Z" fill="none" stroke="#f08040" stroke-width="0.65"/>
<path d="M501.1 444.1C501.1 444 501 443.7 500.8 443.5C500.6 443.3 500.3 443 500 442.9C499.7 442.7 499.3 442.6 499 442.6C498.7 442.6 498.4 442.6 498.1 442.8C497.9 442.9 497.6 443.1 497.4 443.3C497.3 443.6 497.1 444 497.1 444.3C497.1 444.5 497.1 444.7 497.3 444.9C497.5 445 497.8 445.1 498.1 445.2C498.4 445.3 498.9 445.3 499.3 445.2C499.7 445.2 500.1 445.1 500.4 445C500.7 444.9 500.9 444.7 501 444.5C501.2 444.4 501.2 444.3 501.1 444.1Z" fill="none" stroke="#f8a848" stroke-width="0.65"/>
<path d="M506.4 442h0.9M507.3 444.3h0.9M520 428.5h0.9M485.1 437.8h0.9M489 428.1h0.9M517.4 441.5h0.9M495.7 445.2h0.9M481.6 438.5h0.9M514.1 455.4h0.9M523 448.4h0.9M496.1 449.3h0.9M502.6 441.9h0.9M499.5 434.3h0.9M506 443.3h0.9M504.2 445.8h0.9M521.9 457.6h0.9M490.2 440.2h0.9M504.8 442.3h0.9M511.1 434.5h0.9M514.3 454.1h0.9M511.4 453.9h0.9M491 448.1h0.9M494.9 440.2h0.9M496.8 450.4h0.9M508 437.1h0.9M489.2 456.3h0.9M512.1 446h0.9M496.8 449.7h0.9M497.7 454.9h0.9M507.6 449.3h0.9M515.2 446.3h0.9M502.1 442.2h0.9M503.1 441.1h0.9M500.1 448.3h0.9M500.8 443.9h0.9M532.1 433.2h0.9M489.2 445.6h0.9M482.2 453.7h0.9M489.4 449.9h0.9M488.1 456.6h0.9M480.4 448.2h0.9M517 454.2h0.9M502.3 449.4h0.9M500.7 436.1h0.9M501.3 442.5h0.9M498.8 454.3h0.9M501.5 444.7h0.9M507.9 452.1h0.9M488.5 436.4h0.9M498.4 441.6h0.9M507.2 444.5h0.9M517 442h0.9M527.8 446.3h0.9M495 448.5h0.9M508.2 438h0.9M507.4 448.6h0.9M505.3 440.2h0.9M500.2 445.3h0.9M488.3 438.6h0.9M488.9 444.4h0.9M513.9 446.5h0.9M486.8 444.2h0.9M520.3 445.8h0.9M512.1 448.9h0.9M509.7 440.7h0.9M499.5 433.8h0.9M513.2 443.6h0.9M496.5 440.3h0.9M510 453.9h0.9M501.3 445.6h0.9M493.9 440.4h0.9M507 443.1h0.9M523.6 449.2h0.9M489.6 449.3h0.9M502.9 457.7h0.9M504.9 455.1h0.9M476.6 445h0.9M504 449h0.9M510.7 449.8h0.9M498.2 436.3h0.9M508.5 443.6h0.9M490.6 438.9h0.9M491.8 433.2h0.9M497 446.6h0.9M501.8 443.3h0.9M496.5 443.2h0.9M502.2 447.5h0.9M516.4 441.2h0.9M513.1 455.3h0.9M499.9 436.6h0.9M519.6 453.6h0.9M501.5 442h0.9M493.2 443.8h0.9M510.3 455.8h0.9M509 436.1h0.9M499 460.8h0.9M500.9 440.9h0.9M502 460.2h0.9M512.3 446.2h0.9M493 453.9h0.9M503.2 440.3h0.9M516.4 436.8h0.9M520 442.8h0.9M519 444.8h0.9M513.9 444.5h0.9M491.4 429h0.9M479.3 442.5h0.9M506 439h0.9M509.8 437h0.9M503.6 462.4h0.9M508.1 440.3h0.9M490.2 453.3h0.9M510.2 444.4h0.9M487.7 431.5h0.9M480.1 445.4h0.9M474.3 443.7h0.9M499.8 455.7h0.9M517.4 450.4h0.9M510.6 441.4h0.9M503.3 446.6h0.9M501.6 451.6h0.9M494.3 439.3h0.9M506 444h0.9M501.6 436.6h0.9M493.8 434h0.9M503.1 438.3h0.9M504.8 447.1h0.9M498.5 450.8h0.9M505.7 436.4h0.9M505.8 442.4h0.9M501.9 440.2h0.9M508 438.4h0.9M494.5 434.8h0.9M503.1 446.4h0.9M488.8 446.6h0.9M510.6 446.2h0.9M507.5 459.4h0.9M509.1 444.5h0.9M481.9 454.7h0.9M499 442.9h0.9M476.3 455.1h0.9M520.6 444.3h0.9M487.7 447.2h0.9M526.7 445h0.9M498.9 437.2h0.9M486.9 438.2h0.9M500.4 445.7h0.9M505.6 434.7h0.9M498.7 443.6h0.9M510 456.8h0.9M485.3 442.3h0.9M509.7 440.9h0.9M509.6 448.7h0.9M502.6 449.2h0.9M499.9 442h0.9M514 430.5h0.9M490.3 433.2h0.9M504.1 431.5h0.9M500.9 430.9h0.9M508 442.7h0.9M516.3 438.3h0.9M510.5 441h0.9M496 450.6h0.9M519.5 450.9h0.9M523 440.5h0.9M492.4 436.3h0.9M479.3 447.2h0.9M512.7 455.2h0.9M508.5 442.6h0.9M506.6 442.3h0.9M498.8 454.2h0.9M518.6 445.7h0.9M490.1 450.3h0.9M510 440.1h0.9M496.5 454.7h0.9M493.4 440.1h0.9M518.9 440h0.9M507.5 446h0.9M505.8 442.8h0.9M501 448.5h0.9M506 433.5h0.9M493.6 436.8h0.9M497.8 448.9h0.9M510.1 458h0.9M498.4 446.7h0.9M498.5 445.1h0.9M509.1 432.9h0.9M498.3 449.2h0.9M514.9 445.5h0.9M524 447.8h0.9M513.2 439.6h0.9M520 448.1h0.9M496.3 446.7h0.9M502.4 450h0.9M479.6 445.3h0.9M494.9 436h0.9M502.5 453.8h0.9M495.6 452.7h0.9M503.5 451.4h0.9M513.8 435.7h0.9M483.9 439.9h0.9M493.5 444.4h0.9M496.1 440.1h0.9M491.8 443.6h0.9M515.5 428.3h0.9M522.4 452.3h0.9M527.7 448h0.9M514.9 436.6h0.9M496.8 428.1h0.9M509.2 429.3h0.9M490.5 435.3h0.9M502 447.8h0.9M506.1 438.7h0.9M512.9 434.6h0.9M495 445.8h0.9M501 435.3h0.9M496.8 435.2h0.9M507.6 446.7h0.9M483.6 447.3h0.9M502.4 448.3h0.9M507.9 443.3h0.9M512.6 447.1h0.9M498.7 440.6h0.9M482.9 440.6h0.9M492.8 447.1h0.9M506.3 443.6h0.9M519.3 446.7h0.9M509.5 438.5h0.9M518.5 442.9h0.9M499.1 450.9h0.9M513.4 449.9h0.9M517.3 440.3h0.9M523.3 450.9h0.9M508 437.6h0.9M494.9 446h0.9M495.4 438.5h0.9M491.8 461h0.9M491.7 439h0.9M498.6 452h0.9M510.8 450.6h0.9M500.9 444.2h0.9M508.7 451.7h0.9M510.8 437.5h0.9M502.2 450.4h0.9M499.7 427.8h0.9M509.4 428.2h0.9M497.5 435.1h0.9M496.9 437.5h0.9M487.7 450.5h0.9M515.2 436.5h0.9M510.2 445.2h0.9M515.5 444.3h0.9M492 435.5h0.9M519.2 431.8h0.9M471.5 460.2h0.9M517.8 449.6h0.9M522.5 440.5h0.9M514.9 444.9h0.9M515.4 441.6h0.9M520.8 457.6h0.9" fill="none" stroke="#8a8af5" stroke-width="0.9" stroke-opacity="0.45"/>
<line x1="458.5" y1="447" x2="578.8" y2="434" stroke="#a8a8a8" stroke-width="1.3" />
<line x1="458.5" y1="398.1" x2="458.5" y2="467.6" stroke="#333" stroke-width="0.9" />
<line x1="458.5" y1="467.6" x2="578.8" y2="467.6" stroke="#333" stroke-width="0.9" />
<path d="M458.5 398.1h2M458.5 432.9h2M458.5 467.6h2M498.6 467.6v-2M538.8 467.6v-2M579 467.6v-2" fill="none" stroke="#333" stroke-width="0.6"/>
<text x="456" y="401.2" font-size="8.60" text-anchor="end" fill="#222">1.5</text>
<text x="456" y="436" font-size="8.60" text-anchor="end" fill="#222">1</text>
<text x="456" y="470.7" font-size="8.60" text-anchor="end" fill="#222">0.5</text>
<text x="460" y="401.4" font-size="9" font-weight="bold" fill="#8080f8">Ctrl-Ab</text>
<text x="578" y="465.1" font-size="8.50" text-anchor="end" font-weight="bold" fill="#111">ρ=0.12</text>
<path d="M502.8 542h0.9M517.7 533.3h0.9M536 537.7h0.9M496.9 540.9h0.9M543.9 545.7h0.9M510.8 525.2h0.9M513 528.9h0.9M550.3 513.8h0.9M496.6 523.4h0.9M539.7 536h0.9M558.7 518.7h0.9M523.4 538h0.9M520.1 529.5h0.9M525.2 526.8h0.9M503.7 543.3h0.9M493.1 516.5h0.9M478.5 539.7h0.9M546 517.9h0.9M530.1 550.2h0.9M528.3 516.6h0.9M476.6 527.2h0.9M491 523.2h0.9M550.3 515h0.9M508.9 541.4h0.9M543.5 541.1h0.9M466 512.4h0.9M473.9 541h0.9M476.7 528.2h0.9M495.8 520.7h0.9M531.4 531.3h0.9M531.5 545h0.9M510.3 534.6h0.9M502.9 540.1h0.9M519.4 516.4h0.9M536.9 530.2h0.9M532.5 532.4h0.9M496 541.7h0.9M515.8 519h0.9M474 528.6h0.9M487 518.7h0.9M495.7 524h0.9M481.9 549.6h0.9M503 523.2h0.9M479.4 530.9h0.9M477.9 529.1h0.9M492.7 529.9h0.9M524 526h0.9M505.5 527.3h0.9M519.2 540h0.9M494.9 537h0.9M474.4 514.7h0.9M509.3 534.6h0.9M513.3 523.9h0.9M564.5 515.9h0.9M512.2 535.1h0.9M514.9 530.5h0.9M512.4 534.5h0.9M497.2 520.8h0.9M517.4 546.4h0.9M515.3 512.7h0.9M518 515.2h0.9M523.7 537.2h0.9M527.1 517.1h0.9M505.9 525.2h0.9M502.9 517.1h0.9M479.8 540.6h0.9M534.7 513.9h0.9M476.8 530.8h0.9M495 539.1h0.9M508.6 525h0.9M516.9 508.5h0.9M518.1 518.7h0.9M527.4 531.5h0.9M521.3 514.7h0.9M510.3 512.3h0.9M508.9 537.4h0.9M519.2 518h0.9M503 536.5h0.9M506.2 531.3h0.9M511.4 525.2h0.9M514.8 523.5h0.9M484.4 517.1h0.9M509.1 538h0.9M508.1 539.8h0.9M561.7 539.2h0.9M474.5 545.5h0.9M524.1 527.3h0.9M510.4 536.3h0.9M485.8 534.2h0.9M513.3 530h0.9M524.2 511.1h0.9M486.8 520.6h0.9M493.8 523.6h0.9M500.5 513.9h0.9M506.5 541.3h0.9M495 532.4h0.9M509.5 508.6h0.9M520.2 521.6h0.9M521.8 528.5h0.9M531.1 540.2h0.9M535.4 533.1h0.9M507.6 520.6h0.9M522 526.5h0.9M519.2 525.8h0.9M537.5 534.9h0.9M498.7 537.3h0.9M559.6 524.7h0.9M517 534.7h0.9M515.3 534.3h0.9M523.1 526h0.9M527.5 520.9h0.9M560.6 522.8h0.9M513.4 529.1h0.9M504 546.5h0.9M515.9 531.1h0.9M530.2 502.5h0.9M486.3 512.4h0.9M479.6 521.1h0.9M520 520.8h0.9M484.8 526.4h0.9M513.9 527.2h0.9M516.1 531.4h0.9M530 531.9h0.9M490.3 540h0.9M520.8 536.2h0.9M474.7 533.5h0.9M511.8 533.8h0.9M509.1 539.8h0.9M504.2 530.9h0.9M498.7 528.1h0.9M518.2 527.3h0.9M508.7 524.6h0.9M526.3 534h0.9M509.2 510.3h0.9M480 529.9h0.9M513.9 533.1h0.9M523.9 528.3h0.9M497.1 537.7h0.9M514.1 527.3h0.9M500.6 518.9h0.9M521.8 542.9h0.9M521.4 530.8h0.9M499.2 531.4h0.9M508.8 542.1h0.9M495 531h0.9M524.4 524h0.9M517.2 510.4h0.9M543.2 545.2h0.9M472 528.6h0.9M499.7 524.3h0.9M532.3 514.8h0.9M521.3 536.2h0.9M500.1 525.1h0.9M508.3 524.6h0.9M519.7 512.3h0.9M493.8 514.8h0.9M525.1 545h0.9M518.5 533.2h0.9M512.8 530h0.9M530.7 511.9h0.9M537.2 523.4h0.9M508.5 537.2h0.9M504.2 509.5h0.9M512.9 504.2h0.9M486.1 543.7h0.9M518.7 529.3h0.9M495.4 543.2h0.9M502.5 536.1h0.9M478.4 544.6h0.9M506.7 528.3h0.9M506.2 527.7h0.9M499 534.2h0.9M549.6 521.4h0.9M518.9 538.2h0.9M486.3 534.4h0.9M509.8 523.9h0.9M497.8 535h0.9M492.9 515.3h0.9M517.5 537.7h0.9M509.6 538.6h0.9M524.4 531.9h0.9M503.6 530.5h0.9M472.2 524h0.9M499 523h0.9M498.7 527.3h0.9M509.3 528.9h0.9M485.4 520.1h0.9M518.6 544.5h0.9M496.2 523.1h0.9M518.2 524h0.9M510.1 524.5h0.9M494.4 533.5h0.9M496.5 530.6h0.9M519.2 519.6h0.9M518.7 536.3h0.9M491.6 533.2h0.9M533 520.9h0.9M501.4 535.3h0.9M499 525.9h0.9M498.6 505h0.9M505 512.5h0.9M507.2 535.8h0.9M519.8 547h0.9M519 523.2h0.9M508.2 522.4h0.9M533.4 527.4h0.9M513.6 531.9h0.9M496.1 537.5h0.9M546 508.2h0.9M498 531.6h0.9M552.9 520h0.9M479.7 548.4h0.9M504.4 536.2h0.9M511 531.6h0.9M513.6 544.6h0.9M512.5 516.8h0.9M503.9 539.6h0.9M482 528.3h0.9M509.4 521.2h0.9M494.3 535.9h0.9M485.2 546.7h0.9M499.1 523.7h0.9M512.3 495.5h0.9M522.7 503h0.9M500.6 519.9h0.9M541.9 538.4h0.9M494.1 543.5h0.9M482.3 513.3h0.9M510.8 539.2h0.9M507.8 526.9h0.9M485.9 533h0.9M509.1 536.3h0.9M508.2 543.2h0.9M475.8 511.7h0.9M531.7 513.4h0.9M508.5 536.4h0.9M532.8 527.1h0.9M499 535.4h0.9M508.7 537.9h0.9M529.8 508.5h0.9M504.4 528.1h0.9M496.5 529.3h0.9M508.6 534.7h0.9M505.6 540h0.9M518.2 534.8h0.9M508.4 528.4h0.9M509.4 539.3h0.9M508.8 541.6h0.9M472.2 539.6h0.9M496.8 544.7h0.9M510.7 528h0.9M521.2 522.2h0.9M502.1 539.2h0.9M542.4 537.9h0.9M486.2 525h0.9M510.7 529.6h0.9M528 533.1h0.9M511.2 532.3h0.9M524.7 527.7h0.9M512.2 509.7h0.9M494.2 526.7h0.9M510.8 530.5h0.9M526.4 503.2h0.9M521.5 537.7h0.9M529.1 525.4h0.9M528.3 530.4h0.9M509.8 515.1h0.9M487.5 531.6h0.9M514.7 530.8h0.9M527 524.1h0.9M508.2 520.2h0.9M517.3 537h0.9M498.5 540.4h0.9M495.3 547.4h0.9M472.1 534.5h0.9M507 520.8h0.9M529.8 496h0.9M528.8 524.8h0.9M546.6 531.5h0.9M500.3 521.9h0.9M516.8 521h0.9M530.6 535.8h0.9M505.4 531.3h0.9M495.2 521.7h0.9M499.4 531.3h0.9M517.1 532.6h0.9M521.7 544h0.9M498.7 536.3h0.9M484 540.3h0.9M524.1 538.8h0.9M520.8 526.2h0.9M522.2 549.7h0.9M483.7 543.9h0.9M505.2 530h0.9M499.3 536.1h0.9M506.7 526.1h0.9M490.2 542.1h0.9M499.9 533h0.9M512.4 536.9h0.9M501.6 525.5h0.9M505.2 533.4h0.9M543.9 538.7h0.9M503.7 535.6h0.9M502.8 548.4h0.9M512.3 524.8h0.9M504.2 526.5h0.9M513.6 538.2h0.9M509.5 519.6h0.9M497.2 539.5h0.9M509.6 537h0.9M508.9 509.7h0.9M489.8 515.4h0.9M501.1 549.6h0.9M522.4 537.2h0.9M536.9 523.7h0.9M485.7 527h0.9M505.7 535.3h0.9M495.6 520.9h0.9M526.6 525.1h0.9M533.9 518.8h0.9M498.3 524h0.9M504.5 541.5h0.9M478.2 543.5h0.9M529.4 540.5h0.9M514.4 522.5h0.9M491.1 524.1h0.9M504.1 547.9h0.9M481.1 545.2h0.9M469.5 550.8h0.9M503.1 534.8h0.9M485.6 537.9h0.9M505.2 522.4h0.9M512.5 533.8h0.9M496.1 545.5h0.9M506.7 531.1h0.9M522.6 506.6h0.9M542.9 521.6h0.9M514.1 526.8h0.9M539.2 524.7h0.9M545 516.1h0.9M521 523.2h0.9M545.2 510.6h0.9M519.5 526.3h0.9M509.9 520.5h0.9M538.5 534.7h0.9M505.2 512.7h0.9M504.4 536h0.9M502.9 540.4h0.9M509.7 531.2h0.9M504.1 536.3h0.9M483.1 528h0.9M534.9 532.5h0.9M559.2 512.3h0.9M511.9 548.5h0.9M499.2 525.2h0.9M508.4 521.9h0.9M523.9 536.8h0.9M504.2 523.3h0.9M518.6 532.1h0.9M540.3 524.3h0.9M472.5 507.3h0.9M504.5 527.8h0.9M497.9 531.2h0.9M534.4 511.8h0.9M490.1 538.9h0.9M481.3 532.9h0.9M512.2 527.2h0.9M509.5 514h0.9M501.7 537.6h0.9M522 548.5h0.9M535.3 526.3h0.9M550.9 529.7h0.9M465 511.2h0.9M485 510.5h0.9M494.7 522.3h0.9M487.5 523.8h0.9M505.8 522.2h0.9M522.8 526.6h0.9M494.7 534.4h0.9M510.4 522.8h0.9M491.1 533.6h0.9M495.2 537.9h0.9M492.6 547.1h0.9M522.9 517.4h0.9M494.5 530.3h0.9M478.7 535.2h0.9M494 536.6h0.9M499.3 532.7h0.9M508.6 523h0.9M500.2 521.3h0.9M522.6 531.6h0.9M499.5 521.1h0.9M496.7 541.4h0.9M497.5 536.4h0.9M548.3 523.6h0.9M498.7 533h0.9M486.2 500.9h0.9M521.9 533.4h0.9M522.7 540h0.9M485 521.8h0.9M506.6 528.6h0.9M510.5 527.8h0.9M525.8 533.9h0.9M501.4 536.2h0.9M483 533.2h0.9M506.1 514h0.9M528.4 528.3h0.9M470.5 539.6h0.9M503.5 505.2h0.9M470.6 533.1h0.9M502.5 533h0.9M497.2 522.7h0.9M501.5 548.2h0.9M490.3 520.6h0.9M501.7 528.4h0.9M529 533.6h0.9M494.8 519h0.9M497.4 508.5h0.9M490.5 529.7h0.9M496.3 535.5h0.9M515.1 541.3h0.9M482.1 545.1h0.9M508.5 527.9h0.9M466.9 548.9h0.9M502.7 532.6h0.9M516.9 516.6h0.9M489.8 526.3h0.9M522.5 522.2h0.9M541 527.6h0.9M535.3 519.2h0.9M523.4 538.7h0.9M499.8 525.2h0.9M510.2 533.5h0.9M542.2 528.9h0.9M519.8 538.7h0.9M506.3 509.8h0.9M469.8 526.2h0.9M503.8 533.1h0.9M506.2 526.2h0.9M491.5 543.1h0.9M506.1 540h0.9M508 534.9h0.9M508.9 534.5h0.9M519.6 513.9h0.9M491 546.8h0.9M526.2 521h0.9M523.8 525.4h0.9M499.3 537h0.9M540.3 529.9h0.9M486.6 531.3h0.9M506.1 542.1h0.9M486.4 524.4h0.9M538.2 532.2h0.9M502 536.2h0.9M517.7 526.4h0.9M523.8 525.2h0.9M502.5 535.1h0.9M484.6 536.3h0.9M524.6 516.1h0.9M510.3 519.6h0.9M497.3 535.8h0.9M499.7 525.7h0.9M521.1 539.6h0.9M490.9 533.7h0.9M515 519.8h0.9M530.1 534.8h0.9M529.6 546.2h0.9M508.8 536h0.9M498.7 518.9h0.9M505.1 542.5h0.9M504.3 519.4h0.9M485.2 536.6h0.9M475.6 514.9h0.9M502.4 519.4h0.9M513.6 544.6h0.9M495.9 512.2h0.9M481.9 544.7h0.9M505.8 516.5h0.9M509.8 548.1h0.9M498.7 539.1h0.9M487.1 516h0.9M506.5 523.9h0.9M501.3 534.9h0.9M504.7 531.8h0.9M517.1 530.9h0.9M506.2 523.1h0.9M506.4 525.9h0.9M498.3 507.3h0.9M507.6 522.7h0.9M499.1 535.1h0.9M501.8 534.3h0.9M522.2 549h0.9M536.5 531.4h0.9M501.4 534.2h0.9M536.3 522.9h0.9M531.1 538.2h0.9M547.9 526h0.9M561 518.9h0.9M518.1 543.5h0.9M500.3 545h0.9M490.7 544.2h0.9M497.6 537.5h0.9M517.7 524.2h0.9M504 527.8h0.9M517.1 547.1h0.9M477.8 521.7h0.9M501.5 524.2h0.9M521.8 519.8h0.9M516.5 538.6h0.9M502.8 522.8h0.9M498.2 500.4h0.9M505.7 519.1h0.9M535.1 530.6h0.9M513.5 527.4h0.9M494.8 511h0.9M528.9 531h0.9M509.5 545.6h0.9M492.3 528.4h0.9M515.6 524h0.9M486.9 523.5h0.9M552 519.7h0.9M506.5 540.7h0.9M516.1 520.1h0.9M509.2 532.4h0.9M521.4 522.2h0.9M499.6 531.5h0.9M513.9 532.3h0.9M510.4 519.4h0.9M501 541h0.9M514.1 540.9h0.9M514.3 530.5h0.9M489.2 532.1h0.9M500.6 527.2h0.9M512.1 534.6h0.9M492.6 511.2h0.9M504.8 534h0.9M489 532.4h0.9M539.6 526.3h0.9M509.8 527h0.9M490.3 535.9h0.9M470.4 527.5h0.9M526.2 543.7h0.9M501.7 529h0.9M552.9 527.4h0.9M527.3 529.8h0.9M498.8 539.9h0.9M499.7 535.7h0.9M490.5 536.2h0.9M500.6 518.5h0.9M513.7 530.8h0.9M508.9 522.3h0.9M506.4 530.1h0.9M500.8 519.2h0.9M492.3 537.8h0.9M514.9 539.1h0.9M512.3 547h0.9M496 527.5h0.9M537.1 536.9h0.9M486.8 534h0.9M478.8 525.3h0.9M519.5 513.4h0.9M518.9 545.4h0.9M520.4 535h0.9M486.8 537.2h0.9M488.7 518.7h0.9M512.1 521.8h0.9M508.1 522.1h0.9M475.3 538.1h0.9M523.6 531.3h0.9M515.9 525.6h0.9M547.5 511.5h0.9M495.2 542.4h0.9M522.7 525h0.9M509 527.8h0.9M502 524.9h0.9M487.1 533.3h0.9M527.7 535.2h0.9M521.4 535.6h0.9M507.1 518h0.9M500 536.5h0.9M537.7 524h0.9M559.4 517.9h0.9M509.6 529.6h0.9M490.6 533.9h0.9M493 509.4h0.9M493.9 511.1h0.9M504.5 522.8h0.9M505.1 535.6h0.9M484.9 513.9h0.9M516.9 536.6h0.9M486.4 540.8h0.9M512.9 540.9h0.9M527 541.7h0.9M506.8 537.7h0.9M485.9 532.5h0.9M504.5 522.9h0.9M513.8 539.8h0.9M527.7 534.6h0.9M493.3 525.6h0.9M511.4 530.4h0.9M498.9 549.1h0.9M572.9 504.5h0.9M510.1 517.1h0.9M516.8 510.2h0.9M528.4 506.8h0.9M524.1 536h0.9M545.1 530.5h0.9M521 531.9h0.9M523.4 528h0.9M512.6 541.5h0.9M574.2 512.5h0.9M524 521.5h0.9M507.6 518.3h0.9M497.4 524.8h0.9M537 533.5h0.9M508.2 529.3h0.9M502.7 533.1h0.9M498.7 511.6h0.9M500.5 550.4h0.9M499.3 531.1h0.9M500 511.5h0.9M511.5 527.4h0.9M507.7 516.5h0.9M543.5 540.4h0.9M490.5 514.5h0.9M490.1 529.3h0.9M489.9 540h0.9M523.6 499.7h0.9M501.8 520.6h0.9M565.4 505.3h0.9M507.4 524.4h0.9M522.3 546.1h0.9M495 541.7h0.9M488.6 548.4h0.9M510.7 527.2h0.9M491 522.2h0.9M527.8 538.9h0.9M508.8 541.8h0.9M467 526.2h0.9M498.7 532.6h0.9M517.7 538.2h0.9M504.8 543.4h0.9M511.8 523.5h0.9M524.9 517h0.9M531.9 545.5h0.9M506.3 534.8h0.9M511.5 531.5h0.9M512.9 516.9h0.9M488.7 539.7h0.9M499.6 538.1h0.9M534.6 533h0.9M494.8 546h0.9M516.3 538.1h0.9M520.3 536.7h0.9M512.5 526.9h0.9M496.8 521.8h0.9M502 532.3h0.9M489.8 525.2h0.9M486.1 542h0.9M542.9 516.8h0.9M484.2 516.9h0.9M503.4 532.4h0.9M501.8 522.8h0.9M484.6 534.8h0.9M460.7 518.3h0.9M514.3 519.3h0.9M535.1 515.3h0.9M500.6 532.8h0.9M533.1 541.4h0.9M522.1 530.3h0.9M529.1 527.3h0.9M488.4 535.5h0.9M497.1 524h0.9M550.4 520.4h0.9M505.5 541.4h0.9M489.4 520.2h0.9M492.8 518.4h0.9M507.6 531.9h0.9M501.3 518.6h0.9M494.7 539.7h0.9M513.5 502h0.9M483 515.5h0.9M511.3 540.7h0.9M512.1 522.1h0.9M537.4 529.8h0.9M511.1 529.6h0.9M500.4 539.6h0.9M516.7 522h0.9M503.1 533.2h0.9M530.2 531.4h0.9M524.2 521.4h0.9M473 532.1h0.9M501.3 529.3h0.9M502 514.5h0.9M495.8 532.9h0.9M501.8 534.6h0.9M488.7 538.7h0.9M514.3 532.9h0.9M494.3 534.3h0.9M536.8 548.3h0.9M510.7 516.5h0.9M535.6 521.5h0.9M487.9 538.6h0.9M509.8 540.3h0.9M520.6 523.5h0.9M492.3 525.4h0.9M501.3 536h0.9M491.6 525.4h0.9M489 527.6h0.9M537.1 526.7h0.9M488.6 532.6h0.9M511 519.7h0.9M492.4 525.5h0.9M518.3 529.3h0.9M521.5 529.4h0.9M522.8 524.7h0.9M538.6 520.2h0.9M464.1 528.9h0.9M506.8 530h0.9M545.3 537.5h0.9M489.3 512.9h0.9M512.2 525h0.9M532.8 541.6h0.9M519.2 528.3h0.9M518.9 534.7h0.9M505.3 526.1h0.9M518.6 531.9h0.9M501.9 545.2h0.9M520.6 510.7h0.9M494.5 534.3h0.9M533 511.2h0.9M507.2 526.2h0.9M459.7 543.5h0.9M528.4 517.9h0.9M511.3 537h0.9M495.3 525.2h0.9M517.4 524.6h0.9M510.8 530h0.9M547.6 540.7h0.9M473.3 521.5h0.9M503.1 520.6h0.9M509.8 519.6h0.9M520.3 529.6h0.9M517.8 526.9h0.9M508.6 521.1h0.9M511.1 528.5h0.9M513.5 513.2h0.9M514.4 542.8h0.9M502.4 528.2h0.9M516.1 526.1h0.9M503.4 534.2h0.9M502.9 532.9h0.9M545.2 530.7h0.9M491.2 521.4h0.9M497.7 527.8h0.9M512.8 521.7h0.9M504.6 514.4h0.9M476 522.2h0.9M499.8 535.9h0.9M496 531.9h0.9M493.2 520.8h0.9M523.9 537.1h0.9M514 547h0.9M511.8 523.2h0.9M491.8 526.6h0.9M513.7 519.7h0.9M527.9 526h0.9M495.8 541h0.9M495.2 545.8h0.9M527.4 540.7h0.9M501.1 522.7h0.9M496.5 525.3h0.9M473.4 539h0.9M502.5 533h0.9M534.5 534.9h0.9M469 519h0.9M524.8 532.8h0.9M525.9 505.7h0.9M507.3 521.9h0.9M498.3 520.7h0.9M504.8 536.6h0.9M481.6 550.1h0.9M550.4 536.3h0.9M512 511.5h0.9M490.9 513.6h0.9M490.6 535.3h0.9M518.1 538.3h0.9M505 518.3h0.9M535.3 522.3h0.9M504.5 528.2h0.9M516.5 521.5h0.9M520.7 522.2h0.9M535.3 518h0.9M513.8 535.2h0.9M500.3 542.2h0.9M536.6 530.9h0.9M497.2 532.2h0.9M499.7 525.8h0.9M508.2 515h0.9M517.7 530.8h0.9M508.2 535.4h0.9M541.2 534.8h0.9M498.5 529.6h0.9M488.2 536.2h0.9M498 535.9h0.9M533.7 519.3h0.9M511 523.6h0.9M536.5 536.9h0.9M500.7 533.8h0.9M490.8 524.2h0.9M523.1 530.1h0.9M516.8 533.9h0.9M494.8 537.9h0.9M476.5 530h0.9M507 532.3h0.9M499.3 527.8h0.9M505.7 530.7h0.9M522.3 531h0.9M577.2 530.3h0.9M531.1 484.8h0.9M505.8 546h0.9M483.3 535.2h0.9M499 527.7h0.9M476.5 528.6h0.9M519.6 521.4h0.9M512.9 532h0.9M473.9 528.3h0.9M484.1 513.6h0.9M510.3 542.5h0.9M535.4 525.4h0.9M500.5 524.9h0.9M541.6 530h0.9M484.8 540.8h0.9M515.9 516.9h0.9M495.8 539.6h0.9M510.3 541.1h0.9M510.3 523.7h0.9M527.2 527h0.9M519.2 521.7h0.9M500.4 513.7h0.9M480.7 532.8h0.9M510.6 525.4h0.9M499.2 529h0.9M494.3 541.4h0.9M546.5 531.9h0.9M503.6 531.5h0.9M506.9 519.2h0.9M487 532.1h0.9M522.6 519.1h0.9M499.2 540.2h0.9M502.8 533.9h0.9M522.3 527.4h0.9M501.8 532.3h0.9M494.7 525h0.9M496.8 539.5h0.9M476 530.7h0.9M483.5 529.2h0.9M489.9 535.3h0.9M492.7 518.5h0.9M492.4 542.8h0.9M521.5 527.7h0.9M493.9 516.8h0.9M528.5 548.9h0.9M505.4 518.1h0.9M488.2 517.5h0.9M507.4 524.2h0.9M535.3 537.4h0.9M490.6 528.3h0.9M531 514.3h0.9M510.7 528.3h0.9M491.4 540.4h0.9M493.9 527.2h0.9M494.6 539.5h0.9M474 548.6h0.9M507 532h0.9M523.8 529.4h0.9M504.3 540h0.9M529.3 518.9h0.9M563.2 527.6h0.9M541.3 516.4h0.9M499.2 536.7h0.9M515.1 527.5h0.9M508.8 540h0.9M511.4 526.1h0.9M514 536.2h0.9M488.7 543.4h0.9M488.9 512h0.9M543.2 508.1h0.9M509.1 528.6h0.9M487.9 524.2h0.9M511.8 520.3h0.9M511 538.6h0.9M540.3 538.9h0.9M531.8 537.8h0.9M494 528.5h0.9M469.5 538.7h0.9M512.8 537.7h0.9M526.7 523.3h0.9M490.2 504.3h0.9M507.2 537.9h0.9M508.7 535.1h0.9M481.3 549.5h0.9M492.4 531.4h0.9M507.7 525h0.9M505.5 534.5h0.9M493.8 540.1h0.9M499.7 506.5h0.9M488.4 531.5h0.9M519.7 540.7h0.9M480.2 537.2h0.9M504.2 543.9h0.9M514.5 537.8h0.9M507.4 536.1h0.9M511.7 527.4h0.9M513.6 529.7h0.9M516.9 519.7h0.9M486 518.2h0.9M496.4 531.8h0.9M499.6 549h0.9M517.2 533.6h0.9M503.7 516.7h0.9M506.7 520.9h0.9M508 516.9h0.9M493.2 531h0.9M505.8 525.7h0.9M518.9 525.2h0.9M528 529h0.9M506.5 541.6h0.9M493.8 546.9h0.9M515.1 543.3h0.9M508.2 536.2h0.9M461.9 532.8h0.9M504.2 542.8h0.9M522.8 515.9h0.9M517.2 537.7h0.9M539.1 515.2h0.9M508.8 519.9h0.9M523.8 548.2h0.9M514 537h0.9M477.2 544.2h0.9M490.7 543.4h0.9M506.1 524.7h0.9M521.3 523.1h0.9M506.8 533.2h0.9M519.1 529.8h0.9M515.3 514.5h0.9M519.8 530.6h0.9M510.1 520.1h0.9M493.7 519.5h0.9M516.2 527.7h0.9M486.4 536.1h0.9M513.4 537.3h0.9M479.1 527.9h0.9M482.7 530.1h0.9M507.4 540h0.9M486.8 520.7h0.9M498.1 536.5h0.9M523.7 526h0.9M491.4 538h0.9M512.3 532.9h0.9M499.4 529.1h0.9M491.3 521.5h0.9M527.2 529.4h0.9M493.1 542.6h0.9M505.2 525.4h0.9M500.7 523h0.9M527.7 530.6h0.9M500.3 516.6h0.9M539.5 547.6h0.9M505.4 519.7h0.9M521.6 520.4h0.9M507.1 524.7h0.9M519.2 520.1h0.9M533.1 535.5h0.9M524.6 526h0.9M500.5 522.6h0.9M489.5 526.5h0.9M485.6 534.6h0.9M496.6 527h0.9M502.6 524.4h0.9M515.8 506.2h0.9M488.1 528.8h0.9M515.9 514.5h0.9M491 511.4h0.9M481.9 530.2h0.9M499.7 521.1h0.9M495.5 549.6h0.9M515.9 524.9h0.9M548.8 527.3h0.9M513 520.8h0.9M498.5 542.3h0.9M486.2 514h0.9M522.3 531.9h0.9M495.3 544.9h0.9M488 531.7h0.9M518.6 533.9h0.9M512.5 510.9h0.9M516.7 524h0.9M506.7 529.4h0.9M520.9 534.8h0.9M511.6 529.3h0.9M495.8 536.8h0.9M507.5 504.4h0.9M506.6 528.4h0.9M533.3 503.9h0.9M550.9 533.7h0.9M522.7 492.2h0.9M512.7 542.7h0.9M525.5 542.6h0.9M527.8 533.4h0.9M538 547.1h0.9M537.7 515.6h0.9M502.2 533.7h0.9M495.7 518.8h0.9M521.3 547.1h0.9M483.1 525.3h0.9M517 524.1h0.9M507.7 521.9h0.9M537.5 533h0.9M530 527.4h0.9M531 511.6h0.9M524.3 526.9h0.9M503.1 537.6h0.9M528.1 537.5h0.9M517.6 518.8h0.9M512.7 546.3h0.9M510.9 528.4h0.9M503.1 535.9h0.9M522.5 532.8h0.9M529.4 529.6h0.9M512.5 519.9h0.9M514.6 518.6h0.9M519.4 516h0.9M504.7 509.9h0.9M510.7 530.5h0.9M520 524.1h0.9M510.2 539.4h0.9M525.7 537.3h0.9M495.7 542.8h0.9M504.4 541.1h0.9M516.6 524.3h0.9M504 524.8h0.9M508.3 549h0.9M483.3 532.6h0.9M497.9 516.6h0.9M496.1 540.2h0.9M468 535.3h0.9M513.7 526.1h0.9M536.2 518.1h0.9M502 527.6h0.9M506.6 544.4h0.9M484.2 528.9h0.9M526.2 536.7h0.9M530.6 523.5h0.9M492.6 541.9h0.9M528.4 533.1h0.9M500.3 507.6h0.9M496.6 518.4h0.9M574.2 531.7h0.9M506.5 514.1h0.9M499.9 527.1h0.9M548.6 537.2h0.9M506 532.1h0.9M511.7 531h0.9M518.2 539.2h0.9M525.5 519h0.9M471.3 517.2h0.9M491.6 513.6h0.9M517 523h0.9M507.5 527.8h0.9M519.5 531.9h0.9M501.2 536.5h0.9M490.3 531.3h0.9M494.4 538.6h0.9M517.8 533.6h0.9M487.5 520.8h0.9M514.1 534.8h0.9M536.1 535.5h0.9M515.7 539.3h0.9M517.2 540.9h0.9M502.9 518.5h0.9M522.7 524.8h0.9M529.6 536h0.9M469.3 522.2h0.9M526 539.4h0.9M506.6 541.5h0.9M498 530.9h0.9M496.1 525.6h0.9M504.9 529.5h0.9M506.7 530.9h0.9M507.9 533.8h0.9M486.9 516.7h0.9M509.5 538.9h0.9M528.4 533.6h0.9M475.6 533.3h0.9M514 535.3h0.9M503.7 524h0.9M462.5 530.9h0.9M511.8 530.7h0.9M538.6 536.9h0.9M497.6 541.1h0.9M525.5 526.6h0.9M518.3 524.1h0.9M506.3 518.4h0.9M473.3 519h0.9M522.7 525h0.9M516.5 543.6h0.9M499.1 526.8h0.9M521.6 528.6h0.9M506.8 495.4h0.9M524 523h0.9M527.3 534.3h0.9M519.1 529.6h0.9M467.1 528.7h0.9M515.9 537.6h0.9M487 529.6h0.9M507.1 533.7h0.9M499.5 544.7h0.9M533.4 539h0.9M496.2 533.8h0.9M544.6 524.3h0.9M491.2 524.2h0.9M534.4 529.9h0.9M479.2 542.5h0.9M479.8 534.3h0.9M546.1 524.9h0.9M508.2 505.7h0.9M515 527.9h0.9M565.8 541.9h0.9M530.6 546.2h0.9M510.8 520.4h0.9M534.3 550.7h0.9M488.2 523.8h0.9M528.9 540.6h0.9M485.4 538.8h0.9M492 528.9h0.9M470.8 532.6h0.9M483.3 525.8h0.9M522.2 536.7h0.9M494.8 526.7h0.9M533.8 529.8h0.9M521.5 522.9h0.9M474 546.6h0.9M506.9 528.9h0.9M505.4 530.1h0.9M512.6 548.7h0.9M502.1 530.9h0.9M518.2 524.1h0.9M517 532.7h0.9M486.3 528.5h0.9M505.6 525.5h0.9M497.4 514.3h0.9M516 528.6h0.9M460.4 540.1h0.9M512.2 546.7h0.9M465.6 536.7h0.9M514.7 539h0.9M483.8 522.9h0.9M507.8 546.5h0.9M514 529.7h0.9M490.3 539.5h0.9M498.6 520.3h0.9M516.3 515.5h0.9M498.2 526.1h0.9M491.6 530.3h0.9M516.7 524.5h0.9M507.7 537.2h0.9M519.2 531.8h0.9M523.5 508.1h0.9M501.1 531.6h0.9M490.1 538.1h0.9M511.9 530.8h0.9M523 537.8h0.9M510.6 532.6h0.9M534.4 534h0.9M504.6 510.2h0.9M481.4 513.6h0.9M514.6 529.6h0.9M516.4 533.2h0.9M531.2 522.7h0.9M529.2 523.8h0.9M516.2 506.8h0.9M523 536.9h0.9M497.3 515.8h0.9M514.5 530.3h0.9M473.3 513.4h0.9M506.5 542.1h0.9M495.7 530.8h0.9M515.3 514h0.9M520.1 535.5h0.9M489.7 523.2h0.9M537.3 537.3h0.9M489.6 524.5h0.9M483.2 515.2h0.9M505 537.3h0.9M501.9 538.5h0.9M504.3 523.2h0.9M495.9 536.1h0.9M510.2 539.3h0.9M518.7 530.8h0.9M517.5 531.6h0.9M500.7 549h0.9M506.6 532.1h0.9M504.8 543.1h0.9M520.3 544.9h0.9M526.5 539.9h0.9M492.1 539.8h0.9M514.1 515.1h0.9M498.7 534.3h0.9M487.3 535.8h0.9M508 526.6h0.9M510.4 524.6h0.9M484.2 540.2h0.9M487.9 529.9h0.9M517.6 526.8h0.9M503.3 528.1h0.9M479.3 541.9h0.9M505.7 525.5h0.9M532.4 525.2h0.9M495.8 524.2h0.9M497.5 538.5h0.9M512.2 531.8h0.9M470.1 520.3h0.9M520.8 536.2h0.9M521.8 527.7h0.9M545.8 533.7h0.9M519.1 536.1h0.9M502.8 537.1h0.9M490.8 536.5h0.9M520.1 514.1h0.9M519.9 536.4h0.9M508.9 529.4h0.9M499.5 535.3h0.9M542.5 529.1h0.9M537.4 540.9h0.9M499 523.1h0.9M508.7 534.3h0.9M486.3 536.2h0.9M526.8 533.4h0.9M508.2 530h0.9M508.6 530h0.9M493.2 533.6h0.9M494.3 542.9h0.9M520.8 530.2h0.9M528.2 535.1h0.9M523 507.7h0.9M502.4 525.1h0.9M549.2 547h0.9M506.5 532.9h0.9M493.7 520.4h0.9M509.2 520.8h0.9M478.6 531.8h0.9M495 524.7h0.9M514.9 542.8h0.9M506.1 533.8h0.9M530.8 546.3h0.9M470.5 493.1h0.9M497 523.3h0.9M519.6 544.3h0.9M505.1 549.3h0.9M486.7 517.7h0.9M528.1 526.7h0.9M499.1 541.8h0.9M519.3 519.3h0.9M512.4 521.4h0.9M514.7 510.9h0.9M507.9 533.6h0.9M480.6 505.1h0.9M555.2 538.7h0.9M486.7 526.1h0.9M487.8 532.2h0.9M512.4 517.6h0.9M505.4 540.4h0.9M526.4 525.5h0.9M512.7 529.5h0.9M497 523.8h0.9M538.6 517.3h0.9M509.5 536.5h0.9M480.9 518.9h0.9M502.4 509.5h0.9M549.3 532.1h0.9M511.4 529.3h0.9M507.5 531h0.9M485.8 538.4h0.9M513.7 532.7h0.9M537.8 529.9h0.9M520.2 536.2h0.9M491.4 539h0.9M543.6 546.7h0.9M500.1 530.5h0.9M498.9 526.2h0.9M480.7 524.6h0.9M527.5 528.9h0.9M533.2 518.2h0.9M517.7 517.9h0.9M508.8 517.7h0.9M521 533.3h0.9M529.7 532h0.9M481.9 528.3h0.9M523.1 549.7h0.9M520.3 520.8h0.9M505.5 527.1h0.9M498 516.9h0.9M564.5 511.8h0.9M521.5 549.7h0.9M518.7 537.4h0.9M494.9 533.8h0.9M508.3 535.2h0.9M482.3 515.5h0.9M510.6 525.8h0.9M543.7 535.9h0.9M515.7 520.9h0.9M502.3 536.9h0.9M515.3 538h0.9M514.7 498.1h0.9M507.1 516.8h0.9M520.5 520.6h0.9M510.4 529h0.9M498.1 548.3h0.9M484.3 530.8h0.9M493.7 506.8h0.9M502.3 525.6h0.9M506 540.1h0.9M527.3 521.8h0.9M488.3 537.2h0.9M503.6 524.8h0.9M525.9 529.2h0.9M537.5 525.1h0.9M509.6 537.9h0.9M570.9 527.5h0.9M514.1 546.2h0.9M517.3 531.4h0.9M519.4 526h0.9M503.4 541.1h0.9M485 529.3h0.9M492.3 519.6h0.9M503.9 507.6h0.9M512.8 527h0.9M508.4 518.8h0.9M471.8 521.7h0.9M466.9 522.9h0.9M493.5 523.3h0.9M508 535.3h0.9M521.9 522.4h0.9M504.7 520h0.9M513.7 519h0.9M501.1 535.5h0.9M504.1 521.9h0.9M476.9 530.6h0.9M493.8 532.4h0.9M500.3 541.6h0.9M488.4 534.1h0.9M497.2 532.4h0.9M531.8 524.2h0.9M485 543.1h0.9M508.3 516.4h0.9M493.2 538.9h0.9M513.8 502.8h0.9M476.1 539.5h0.9M501.2 513.7h0.9M504.7 534h0.9M504.4 541.4h0.9M486.7 523.6h0.9M489.6 526.7h0.9M503.5 531.2h0.9M523.4 515.1h0.9M490.2 521.8h0.9M512 526.7h0.9M489.5 529.1h0.9M498.7 504.8h0.9M505.5 539.7h0.9M521.9 529.1h0.9M527.6 522.7h0.9M526.4 540.7h0.9M539 534.6h0.9M513 528.4h0.9M551.9 547.8h0.9M521.2 541.2h0.9M492.1 528.4h0.9M487.6 511.8h0.9M488.7 529h0.9M488.3 543.5h0.9M514 525.7h0.9M503 489.5h0.9M495.9 536.8h0.9M537.5 540.7h0.9M499 529.5h0.9M506.3 523.7h0.9M477 537.5h0.9M490.4 508.7h0.9M517 535.2h0.9M506.4 504.7h0.9M515 529.5h0.9M518.6 541.4h0.9M545.7 515.1h0.9M503.1 540.2h0.9M513.1 533.5h0.9M518.4 532h0.9M498.7 526h0.9M527.7 518.5h0.9M509.8 531.9h0.9M494.3 517.6h0.9M534.1 529.6h0.9M531.2 537h0.9M514.9 523.5h0.9M489 522.8h0.9M474 535.5h0.9M495.6 545.3h0.9M516.5 527.9h0.9M485.2 528.1h0.9M522.6 533.8h0.9M519.7 526.3h0.9M503.5 534h0.9M503.6 523.4h0.9M523.9 539.2h0.9M535.7 514.2h0.9M537.7 524.4h0.9M511.8 527.4h0.9M501.9 533.4h0.9M482.7 543.5h0.9M509.5 529.1h0.9M496.7 540.2h0.9M509.5 533.9h0.9M507.5 532.2h0.9M490.6 529.1h0.9M531.2 537.1h0.9M504.8 540.3h0.9M503.7 518.8h0.9M507.9 532.2h0.9M504.5 537.7h0.9M503 524.3h0.9M511.1 535.4h0.9M487.8 532.6h0.9M516 536h0.9M496.5 522h0.9M490.3 529.6h0.9M500.4 525.3h0.9M504.5 528.3h0.9M515.2 546.8h0.9M523.1 527.5h0.9M499.1 532.9h0.9M485 522.2h0.9M504.7 539.4h0.9M526.6 536.3h0.9M507.6 514.2h0.9M512.6 522h0.9M527.4 529.4h0.9M530.5 530.8h0.9M516.8 510.4h0.9M504.5 529.6h0.9M525.2 530.6h0.9M508.1 512.9h0.9M523.8 528.5h0.9M518.1 521h0.9M535.4 531.2h0.9M516.1 538.6h0.9M554.2 543.7h0.9M486.5 522h0.9M519.3 533.3h0.9M485.3 519.6h0.9M474.8 541.1h0.9M481.5 534.3h0.9M523.3 534.4h0.9M508 521.7h0.9M501.4 522.8h0.9M530.2 528.2h0.9M497.9 530.4h0.9M539 495.9h0.9M503.4 530.6h0.9M514.2 533h0.9M503.2 531.5h0.9M509.9 521.5h0.9M504 532.1h0.9M492 519.2h0.9M508.7 533.4h0.9M514 526.6h0.9M534.9 519h0.9M482.9 537.8h0.9M505.8 540.2h0.9M478.6 521.7h0.9M492.5 525.1h0.9M508.5 529.1h0.9M512.6 527.2h0.9M519.5 524.2h0.9M505.6 536.4h0.9M490.3 532.9h0.9M515.3 509.4h0.9M494.6 528.5h0.9M516.6 519.2h0.9M508.8 523.8h0.9M514.5 547.5h0.9M493.7 516.4h0.9M502.9 545.5h0.9M507.7 515.2h0.9M534.6 537.7h0.9M516.5 526.6h0.9M478 527.5h0.9M515.2 533h0.9M494.2 519.7h0.9M539.5 527.3h0.9M503.1 523.5h0.9M516.2 538.7h0.9M512.9 524.5h0.9M521.8 540.6h0.9M491.1 521.4h0.9M489.7 533.6h0.9M477.9 531.9h0.9M489.5 536.5h0.9M490.7 524.8h0.9M516.5 536.9h0.9M529.8 523.3h0.9M481.3 522.7h0.9M516.9 513.1h0.9M492.4 545.9h0.9M481.5 507.8h0.9M513.5 533.2h0.9M550.3 517.1h0.9M499.2 529.5h0.9M550.4 503.5h0.9M492.1 543.8h0.9M562.3 523.7h0.9M530.7 518.6h0.9M492.3 539.5h0.9M536.6 541.6h0.9M523.4 517.8h0.9M488.9 547.7h0.9M530.7 540.1h0.9M488.2 544.7h0.9M520.3 533.7h0.9M500.7 533.9h0.9M505.2 533.5h0.9M526.7 521.1h0.9M527.7 519.6h0.9M501.3 541.4h0.9M489.8 537.1h0.9M514.8 530.1h0.9M498.5 533.5h0.9M495.4 528.7h0.9M506.6 534.2h0.9M496.2 534.9h0.9M526.4 540.9h0.9M472.8 542.8h0.9M493.6 541h0.9M542.4 540.8h0.9M490.4 527.3h0.9M514.4 525.9h0.9M484.8 527.2h0.9M499 518.2h0.9M496.5 531.6h0.9M485.9 546.6h0.9M495.2 521.1h0.9M490.2 526.7h0.9M474.4 504.2h0.9M493.9 528.1h0.9M544.8 517.2h0.9M505.6 520.2h0.9M549.5 547.9h0.9M516.3 531.5h0.9M483.7 526.3h0.9M516.7 537.2h0.9M494.3 526.6h0.9M505.7 514.9h0.9M517.5 525.3h0.9M502.3 530.5h0.9M519.7 522.6h0.9M520.9 514.1h0.9M499.2 526.7h0.9M479.8 519.2h0.9M500.9 518.1h0.9M491.9 519.6h0.9M488.7 549.7h0.9M527.4 516.1h0.9M514.5 523.7h0.9M513 537h0.9M514.8 529.8h0.9M501.4 521h0.9M503.3 526.9h0.9M493.3 537.4h0.9M514.6 534.7h0.9M519.1 543.4h0.9M493.8 529.9h0.9M504.6 515.8h0.9M518 528.6h0.9M510.9 536h0.9M488.7 526.6h0.9M500.2 523.1h0.9M502.8 517.4h0.9M501.8 532.5h0.9M541.6 521h0.9M523.8 522.7h0.9M498.9 542.9h0.9M524.1 531.5h0.9M479 527h0.9M495.7 534.2h0.9M490.1 541.1h0.9M500.4 534.7h0.9M540 534.4h0.9M499.7 516.9h0.9M508.9 523.7h0.9M502.6 545h0.9M521.5 530.6h0.9M515.1 523.1h0.9M516.7 535.1h0.9M525.9 531.4h0.9M523.7 527.5h0.9M498.6 528.4h0.9M487.5 539.7h0.9M505.2 544.2h0.9M521.5 524.5h0.9M506.9 544.4h0.9M499 532.4h0.9M511.2 531.2h0.9M510.6 523.1h0.9M524.7 514.3h0.9M507.9 528.5h0.9M512.3 546.1h0.9M495.1 533.4h0.9M519.2 533.4h0.9M489.4 526.3h0.9M482.7 545.8h0.9M504.6 528.2h0.9M505.4 526h0.9M500.1 537h0.9M501.9 543.1h0.9M504.8 514.5h0.9M486.3 531.9h0.9M528.6 540.2h0.9M525.9 528.3h0.9M482.7 501.3h0.9M496.5 539h0.9M498.8 529.8h0.9M514.8 536.9h0.9M552.8 526.3h0.9M526.6 508.9h0.9M502.8 508.9h0.9M489.4 532.4h0.9M475 516.8h0.9M523 519.5h0.9M514.6 525.5h0.9M574.1 521.2h0.9M508.4 533h0.9M498.6 550.7h0.9M493.6 526.6h0.9M475.9 542.7h0.9M522.5 521.8h0.9M515.5 529.4h0.9M532 534.6h0.9M502.5 524.9h0.9M500.2 531h0.9M496.5 544.3h0.9M490.3 546.4h0.9M498.5 531.3h0.9M505.8 524.9h0.9M535.2 515.2h0.9M492.9 537.5h0.9M543.1 519h0.9M546.7 509.9h0.9M513.2 529.2h0.9M522.6 525.1h0.9M508.7 516.5h0.9M495.9 538.1h0.9M523.9 509.1h0.9M483.3 530.7h0.9M482.9 534.3h0.9M500.8 536.3h0.9M510.3 533.7h0.9M504.8 517.6h0.9M517.5 527.1h0.9M495.4 540.3h0.9M521.9 507.8h0.9M491.1 528.4h0.9M497.7 533.4h0.9M506.6 523.8h0.9M498.5 524.8h0.9M504.7 545.8h0.9M527.1 504.6h0.9M489.3 522.3h0.9M520.3 508.5h0.9M519.1 524.7h0.9M512.7 527.4h0.9M492.3 533.4h0.9M504.4 522.5h0.9M515.7 541.3h0.9M524.7 543.2h0.9M547.3 527.9h0.9M544.4 522.1h0.9M496.6 526.8h0.9M518.7 533.7h0.9M502.3 535h0.9M502 526.7h0.9M492.5 512.3h0.9M510.4 545.4h0.9M510.2 530.6h0.9M497.9 505.8h0.9M505.9 525.4h0.9M505.3 537h0.9M500.3 512.1h0.9M507.7 528.4h0.9M510.2 538.2h0.9M500.6 520.1h0.9M499.8 516.7h0.9M508.2 538.1h0.9M535.3 499.6h0.9M470.3 533.5h0.9M515.1 537h0.9M513 531.4h0.9M512.3 540.3h0.9M509.9 528.8h0.9M504.1 516.2h0.9M533.8 527.3h0.9M485.3 524.6h0.9M535.6 542.2h0.9M510.6 549.4h0.9M495.1 525.5h0.9M499.7 523.5h0.9M515.1 537.3h0.9M492.8 526.9h0.9M521.5 540.7h0.9M501 526h0.9M503.7 533.7h0.9M475.1 526h0.9M530.9 520.4h0.9M494.4 523.5h0.9M546.8 535.3h0.9M521.4 536.1h0.9M507.6 530.5h0.9M515.9 542.1h0.9M544.4 508.1h0.9M514.4 541.8h0.9M492.5 531.4h0.9M529.4 526.1h0.9M480.5 532.3h0.9M519.9 535.4h0.9M516 549.7h0.9M536.2 528.1h0.9M536.9 499.6h0.9M508.2 524.6h0.9M520.8 532.5h0.9M562.6 534.8h0.9M515.8 531.9h0.9M549.9 534.1h0.9M467.7 535h0.9M512.2 525.7h0.9M501.3 526.7h0.9M492.1 536.6h0.9M521.6 528.3h0.9M529.2 531.4h0.9M489.4 530h0.9M481 522h0.9M530.8 518.5h0.9M501.1 529.5h0.9M504.8 528.9h0.9M497.6 507.7h0.9M503.6 521.1h0.9M528.2 532.3h0.9M494.8 537.9h0.9M496.5 521.5h0.9M510.4 534.2h0.9M516.4 525.3h0.9M518.7 522.9h0.9M490 531.8h0.9M486.4 527.1h0.9M516.5 538.6h0.9M490.7 535.9h0.9M522.2 550.3h0.9M514.5 542.1h0.9M479.8 535.4h0.9M541.6 520.2h0.9M494.1 529.5h0.9M504.8 527h0.9M505.1 536.3h0.9M524.7 533.8h0.9M504.1 535.3h0.9M524.9 534h0.9M519.9 532.9h0.9M503.9 525.5h0.9M498.6 540.5h0.9M485.5 518.3h0.9M483 534.5h0.9M522.7 546.5h0.9M530.8 526h0.9M493.5 548.6h0.9M498.1 523.3h0.9M462.2 517.4h0.9M474.2 511.5h0.9M492.2 533.9h0.9M523.1 533.1h0.9M473.2 512.3h0.9M536.2 515.8h0.9M519.2 529.8h0.9M490.7 528.2h0.9M460.4 523.7h0.9M502.1 535.3h0.9M553.7 542.8h0.9M517.4 532.9h0.9M496.8 518.6h0.9M503.2 548.8h0.9M530 530.8h0.9M504.2 527.9h0.9M498.2 523.5h0.9M481.7 536.2h0.9M501.9 531.2h0.9M492.4 522.9h0.9M518.4 524.7h0.9M512.9 537.2h0.9" fill="none" stroke="#f59090" stroke-width="0.9" stroke-opacity="0.65"/>
<ellipse cx="501.5" cy="530" rx="22" ry="15.5" fill="url(#glow)"/>
<path d="M541.6 533.3C541.2 530.8 539.1 526.2 536.6 523.3C534.1 520.4 530.4 518.2 526.7 515.9C523 513.6 519.7 511.1 514.3 509.7C508.9 508.2 499.8 506.8 494.4 507.2C489 507.6 485 509.3 482 512.2C479 515.1 477.2 520.5 476.6 524.6C476 528.7 476.2 533.8 478.3 537C480.4 540.2 484.3 542.7 489.5 543.9C494.7 545.1 502.7 544.7 509.3 544.4C515.9 544.1 524.2 543 529.2 542C534.2 541 537 539.7 539.1 538.2C541.2 536.8 542 535.8 541.6 533.3Z" fill="none" stroke="#1a1a1a" stroke-width="0.85"/>
<path d="M535.7 532.8C535.3 530.7 533.5 526.7 531.4 524.2C529.3 521.7 526.1 519.8 522.9 517.9C519.7 515.9 516.9 513.8 512.2 512.5C507.6 511.3 499.7 510 495.1 510.4C490.5 510.8 487 512.2 484.4 514.7C481.9 517.2 480.3 521.8 479.8 525.4C479.3 528.9 479.4 533.3 481.3 536C483.1 538.8 486.5 540.9 490.9 542C495.3 543 502.2 542.7 507.9 542.4C513.6 542.1 520.8 541.2 525 540.3C529.3 539.4 531.8 538.3 533.6 537.1C535.3 535.8 536.1 535 535.7 532.8Z" fill="none" stroke="#2a2a2a" stroke-width="0.85"/>
<path d="M519.9 528.5C519.9 530.6 519.2 532.9 518 534.8C516.8 536.8 514.9 538.7 512.8 540.2C510.8 541.7 508.1 542.9 505.5 543.7C502.9 544.5 500.1 545 497.5 545C494.9 545 492.4 544.5 490.2 543.7C488 542.9 486.1 541.7 484.6 540.2C483 538.7 481.8 536.8 481.1 534.8C480.3 532.9 479.9 530.6 479.9 528.5C479.9 526.4 480.3 524.1 481.1 522.2C481.8 520.2 483 518.3 484.6 516.8C486.1 515.3 488 514.1 490.2 513.3C492.4 512.5 494.9 512 497.5 512C500.1 512 502.9 512.5 505.5 513.3C508.1 514.1 510.8 515.3 512.8 516.8C514.9 518.3 516.8 520.2 518 522.2C519.2 524.1 519.9 526.4 519.9 528.5Z" fill="none" stroke="#5a1a2a" stroke-width="0.65"/>
<path d="M516.9 528.5C516.9 530.3 516.3 532.3 515.3 534C514.2 535.6 512.6 537.3 510.8 538.6C509 539.9 506.6 541 504.4 541.7C502.2 542.4 499.7 542.8 497.5 542.8C495.3 542.8 493.1 542.4 491.2 541.7C489.3 541 487.6 539.9 486.3 538.6C485 537.3 484 535.6 483.3 534C482.6 532.3 482.3 530.3 482.3 528.5C482.3 526.7 482.6 524.7 483.3 523C484 521.4 485 519.7 486.3 518.4C487.6 517.1 489.3 516 491.2 515.3C493.1 514.6 495.3 514.2 497.5 514.2C499.7 514.2 502.2 514.6 504.4 515.3C506.6 516 509 517.1 510.8 518.4C512.6 519.7 514.2 521.4 515.3 523C516.3 524.7 516.9 526.7 516.9 528.5Z" fill="none" stroke="#7a2034" stroke-width="0.65"/>
<path d="M514.1 528.5C514.1 530.1 513.6 531.7 512.8 533.2C511.9 534.6 510.5 536.1 508.9 537.2C507.4 538.3 505.4 539.2 503.4 539.8C501.5 540.4 499.4 540.8 497.5 540.8C495.6 540.8 493.7 540.4 492.1 539.8C490.5 539.2 489 538.3 487.9 537.2C486.8 536.1 485.9 534.6 485.3 533.2C484.7 531.7 484.4 530.1 484.4 528.5C484.4 526.9 484.7 525.3 485.3 523.8C485.9 522.4 486.8 520.9 487.9 519.8C489 518.7 490.5 517.8 492.1 517.2C493.7 516.6 495.6 516.2 497.5 516.2C499.4 516.2 501.5 516.6 503.4 517.2C505.4 517.8 507.4 518.7 508.9 519.8C510.5 520.9 511.9 522.4 512.8 523.8C513.6 525.3 514.1 526.9 514.1 528.5Z" fill="none" stroke="#952840" stroke-width="0.65"/>
<path d="M511.4 528.5C511.4 529.8 511 531.2 510.3 532.4C509.5 533.6 508.3 534.8 507 535.8C505.7 536.7 504.1 537.5 502.5 538C500.9 538.5 499.1 538.8 497.5 538.8C495.9 538.8 494.3 538.5 493 538C491.6 537.5 490.4 536.7 489.5 535.8C488.5 534.8 487.8 533.6 487.3 532.4C486.8 531.2 486.6 529.8 486.6 528.5C486.6 527.2 486.8 525.8 487.3 524.6C487.8 523.4 488.5 522.2 489.5 521.2C490.4 520.3 491.6 519.5 493 519C494.3 518.5 495.9 518.2 497.5 518.2C499.1 518.2 500.9 518.5 502.5 519C504.1 519.5 505.7 520.3 507 521.2C508.3 522.2 509.5 523.4 510.3 524.6C511 525.8 511.4 527.2 511.4 528.5Z" fill="none" stroke="#ad3048" stroke-width="0.65"/>
<path d="M509 528.5C509 529.6 508.6 530.7 508 531.7C507.4 532.7 506.5 533.7 505.4 534.5C504.3 535.3 502.9 535.9 501.6 536.3C500.3 536.7 498.8 537 497.5 537C496.2 537 494.9 536.7 493.8 536.3C492.6 535.9 491.6 535.3 490.9 534.5C490.1 533.7 489.5 532.7 489.1 531.7C488.7 530.7 488.5 529.6 488.5 528.5C488.5 527.4 488.7 526.3 489.1 525.3C489.5 524.3 490.1 523.3 490.9 522.5C491.6 521.7 492.6 521.1 493.8 520.7C494.9 520.3 496.2 520 497.5 520C498.8 520 500.3 520.3 501.6 520.7C502.9 521.1 504.3 521.7 505.4 522.5C506.5 523.3 507.4 524.3 508 525.3C508.6 526.3 509 527.4 509 528.5Z" fill="none" stroke="#c23850" stroke-width="0.65"/>
<path d="M506.6 528.5C506.6 529.4 506.3 530.3 505.8 531.1C505.3 531.8 504.6 532.6 503.7 533.2C502.9 533.8 501.8 534.4 500.7 534.7C499.7 535 498.5 535.2 497.5 535.2C496.5 535.2 495.4 535 494.5 534.7C493.7 534.4 492.9 533.8 492.3 533.2C491.6 532.6 491.2 531.8 490.8 531.1C490.5 530.3 490.4 529.4 490.4 528.5C490.4 527.6 490.5 526.7 490.8 525.9C491.2 525.2 491.6 524.4 492.3 523.8C492.9 523.2 493.7 522.6 494.5 522.3C495.4 522 496.5 521.8 497.5 521.8C498.5 521.8 499.7 522 500.7 522.3C501.8 522.6 502.9 523.2 503.7 523.8C504.6 524.4 505.3 525.2 505.8 525.9C506.3 526.7 506.6 527.6 506.6 528.5Z" fill="none" stroke="#d44850" stroke-width="0.65"/>
<path d="M504.2 528.5C504.2 529.1 504 529.8 503.6 530.4C503.3 531 502.7 531.5 502.1 532C501.4 532.4 500.6 532.8 499.9 533C499.1 533.3 498.3 533.4 497.5 533.4C496.7 533.4 496 533.3 495.3 533C494.7 532.8 494.1 532.4 493.7 532C493.2 531.5 492.8 531 492.6 530.4C492.4 529.8 492.3 529.1 492.3 528.5C492.3 527.9 492.4 527.2 492.6 526.6C492.8 526 493.2 525.5 493.7 525C494.1 524.6 494.7 524.2 495.3 524C496 523.7 496.7 523.6 497.5 523.6C498.3 523.6 499.1 523.7 499.9 524C500.6 524.2 501.4 524.6 502.1 525C502.7 525.5 503.3 526 503.6 526.6C504 527.2 504.2 527.9 504.2 528.5Z" fill="none" stroke="#e46048" stroke-width="0.65"/>
<path d="M501.7 528.5C501.7 528.9 501.6 529.3 501.4 529.7C501.2 530.1 500.8 530.4 500.4 530.7C500 531 499.5 531.2 499 531.4C498.5 531.5 498 531.6 497.5 531.6C497 531.6 496.5 531.5 496.1 531.4C495.7 531.2 495.3 531 495.1 530.7C494.8 530.4 494.5 530.1 494.4 529.7C494.2 529.3 494.2 528.9 494.2 528.5C494.2 528.1 494.2 527.7 494.4 527.3C494.5 526.9 494.8 526.6 495.1 526.3C495.3 526 495.7 525.8 496.1 525.6C496.5 525.5 497 525.4 497.5 525.4C498 525.4 498.5 525.5 499 525.6C499.5 525.8 500 526 500.4 526.3C500.8 526.6 501.2 526.9 501.4 527.3C501.6 527.7 501.7 528.1 501.7 528.5Z" fill="none" stroke="#f08040" stroke-width="0.65"/>
<path d="M499.6 528.5C499.6 528.7 499.6 528.9 499.4 529.1C499.3 529.3 499.1 529.5 499 529.6C498.8 529.7 498.5 529.9 498.3 529.9C498 530 497.7 530.1 497.5 530.1C497.3 530.1 497 530 496.8 529.9C496.6 529.9 496.4 529.7 496.3 529.6C496.1 529.5 496 529.3 495.9 529.1C495.9 528.9 495.8 528.7 495.8 528.5C495.8 528.3 495.9 528.1 495.9 527.9C496 527.7 496.1 527.5 496.3 527.4C496.4 527.3 496.6 527.1 496.8 527.1C497 527 497.3 526.9 497.5 526.9C497.7 526.9 498 527 498.3 527.1C498.5 527.1 498.8 527.3 499 527.4C499.1 527.5 499.3 527.7 499.4 527.9C499.6 528.1 499.6 528.3 499.6 528.5Z" fill="none" stroke="#f8a848" stroke-width="0.65"/>
<path d="M518 531.7h0.9M491.8 525.7h0.9M489.6 510.8h0.9M485.5 530h0.9M491.2 526.1h0.9M520.2 519.1h0.9M500.3 540.1h0.9M512.3 538.7h0.9M499.2 523.1h0.9M483.9 531h0.9M511.8 530.1h0.9M506.2 527.6h0.9M501.9 520.8h0.9M506 541.5h0.9M523.7 527h0.9M483.5 536.4h0.9M493.2 530.7h0.9M522.2 539h0.9M490.7 530.2h0.9M502.1 535.2h0.9M488.2 545.5h0.9M497 533.5h0.9M488.5 520.9h0.9M495.4 530.7h0.9M517.1 524.5h0.9M508.1 529.9h0.9M513.3 519.8h0.9M527.9 534.8h0.9M483.9 523h0.9M511.4 543.9h0.9M500.1 532.6h0.9M505.3 524.3h0.9M501.5 515.3h0.9M488.1 537.5h0.9M489.1 531h0.9M501 543.1h0.9M480.6 537.5h0.9M505.8 537.8h0.9M503.8 525.4h0.9M499.1 538.8h0.9M507.5 538.2h0.9M514.5 539h0.9M515.3 530.5h0.9M506 528.1h0.9M502.9 528.3h0.9M473.2 540h0.9M507.2 533.9h0.9M510.8 523.7h0.9M495 544.7h0.9M496.3 524.7h0.9M507.4 531.6h0.9M497.6 533.9h0.9M497.6 526.7h0.9M505.7 527h0.9M523.2 527h0.9M504.6 530.5h0.9M495.8 522.8h0.9M513.6 529.7h0.9M501.3 537.6h0.9M506.2 520.4h0.9M515.5 539.4h0.9M485.5 519.7h0.9M511.4 544.2h0.9M505.7 531.7h0.9M497.1 536.9h0.9M483.9 534.4h0.9M510.6 523.1h0.9M513.9 539.8h0.9M482.4 535.9h0.9M476.2 530.2h0.9M506.5 524.9h0.9M500.6 542.1h0.9M512.6 530.5h0.9M500.4 525.1h0.9M514.8 527.6h0.9M486.1 528.9h0.9M503.4 523.2h0.9M499.1 540h0.9M509.6 536.8h0.9M503 533.3h0.9M508.8 523.7h0.9M506.6 526.2h0.9M504 523.5h0.9M493.2 522.6h0.9M501.6 517h0.9M513.6 532h0.9M474.1 530.3h0.9M491.9 518.5h0.9M489.9 541.2h0.9M507.6 514.3h0.9M490.1 542.1h0.9M506.6 537.2h0.9M523.1 535.4h0.9M516.4 526.3h0.9M513.9 534.6h0.9M509.1 530.4h0.9M509.4 527.9h0.9M508.5 529.9h0.9M507.2 532.3h0.9M517.9 525.7h0.9M498.9 535.2h0.9M491.8 528.2h0.9M490.1 540.3h0.9M499.6 537.4h0.9M488.4 526.5h0.9M508.6 523.8h0.9M514.2 532h0.9M502 532.7h0.9M511.6 522.4h0.9M507.9 530.4h0.9M510.7 525.3h0.9M475.9 543.1h0.9M510.3 535.9h0.9M491.5 536.8h0.9M528.9 513.5h0.9M503.3 527.6h0.9M509.1 522.2h0.9M517.6 519.2h0.9M514.9 536.2h0.9M529.9 536.7h0.9M503.2 538.2h0.9M515.4 527.8h0.9M513.8 517.6h0.9M509.7 534.5h0.9M501.9 534.4h0.9M529.7 536.2h0.9M492.1 528h0.9M506.9 519.2h0.9M488.4 533.7h0.9M498.5 522.2h0.9M497 519.1h0.9M513.6 536.2h0.9M510.3 520h0.9M507.5 532.5h0.9M498.7 525.4h0.9M491.7 528.6h0.9M508.8 526.6h0.9M505.9 512.6h0.9M490.2 531.7h0.9M522 522.5h0.9M490.6 530.2h0.9M508.3 531h0.9M494.6 529.3h0.9M478.3 516.5h0.9M520.7 521.5h0.9M529.1 532.3h0.9M495.4 530.8h0.9M515 523.4h0.9M504.2 527.6h0.9M514.8 536.4h0.9M498.1 525h0.9M510.4 532.9h0.9M484.4 537h0.9M491.1 532.7h0.9M518.2 526.1h0.9M490 529.3h0.9M496.5 528.9h0.9M516.9 537h0.9M499.3 519.5h0.9M494.1 532h0.9M499.4 528.4h0.9M497.9 538.8h0.9M521.7 528.2h0.9M510 530.4h0.9M528.4 517h0.9M491.2 528.5h0.9M514.5 519.6h0.9M491.2 523.8h0.9M502.4 522.6h0.9M513.1 534.5h0.9M497.1 527.1h0.9M511.9 536.5h0.9M501.4 535.4h0.9M509.7 530.3h0.9M497.5 536.2h0.9M497.8 526.2h0.9M518 532h0.9M498.1 527.4h0.9M508.5 533.9h0.9M511.8 533.9h0.9M493.6 541.1h0.9M495.4 531.5h0.9M509.8 524.2h0.9M489 534.2h0.9M495.7 540h0.9M500.3 534.6h0.9M522.2 535.1h0.9M501.7 541.6h0.9M507.7 535.6h0.9M493.3 533.6h0.9M503 531.3h0.9M497.5 542.9h0.9M517.8 538.2h0.9M508.1 524.8h0.9M512.6 528.6h0.9M500.3 521.5h0.9M473.6 524.1h0.9M482.1 537.7h0.9M505.3 541.7h0.9M490.9 509h0.9M491.6 525.8h0.9M493.4 521.2h0.9M510.7 536.4h0.9M494.6 519.6h0.9M504.5 525.5h0.9M510.6 528h0.9M492.8 527.2h0.9M513.3 534.1h0.9M510.7 531.5h0.9M489.3 531.4h0.9M489 536.3h0.9M488.9 529.1h0.9M507.9 521.3h0.9M504.4 528h0.9M479.9 523.4h0.9M508.9 525.4h0.9M513.4 523.2h0.9M499.3 535.4h0.9M492.9 524.2h0.9M509.5 528.8h0.9M521.6 524.9h0.9M502.5 535.4h0.9M495.6 522.8h0.9M496.1 531.4h0.9M499.3 524.1h0.9M496 522.5h0.9M495.9 515.4h0.9M487.7 515.5h0.9M521.5 523.7h0.9M516.5 539h0.9M500.3 528.1h0.9M497.6 523.7h0.9M495.3 527.9h0.9M504.7 539.4h0.9M503.3 532.9h0.9M497.3 528.9h0.9M483.6 541h0.9M499.6 518.5h0.9M501 533.7h0.9M489.9 539.5h0.9M512.5 531.3h0.9M510.9 526.8h0.9M498.9 538.5h0.9M496.4 527.7h0.9M496.3 533.2h0.9M502.8 522.1h0.9M497.7 518.1h0.9M509.8 522h0.9M508.6 529.3h0.9M516.3 533.2h0.9M488.1 513.2h0.9M515.9 536.3h0.9M486.3 533.9h0.9M507.3 535.2h0.9M517.3 539.2h0.9M505.5 534.4h0.9M496 526.8h0.9M497 519.7h0.9M512.9 533.2h0.9M505 532.1h0.9" fill="none" stroke="#f59090" stroke-width="0.9" stroke-opacity="0.45"/>
<line x1="458.5" y1="527" x2="578.8" y2="534" stroke="#a8a8a8" stroke-width="1.3" />
<line x1="458.5" y1="482.4" x2="458.5" y2="551.9" stroke="#333" stroke-width="0.9" />
<line x1="458.5" y1="551.9" x2="578.8" y2="551.9" stroke="#333" stroke-width="0.9" />
<path d="M458.5 482.4h2M458.5 517.1h2M458.5 551.9h2M498.6 551.9v-2M538.8 551.9v-2M579 551.9v-2" fill="none" stroke="#333" stroke-width="0.6"/>
<text x="456" y="485.5" font-size="8.60" text-anchor="end" fill="#222">1.5</text>
<text x="456" y="520.2" font-size="8.60" text-anchor="end" fill="#222">1</text>
<text x="456" y="555" font-size="8.60" text-anchor="end" fill="#222">0.5</text>
<text x="460" y="485.7" font-size="9" font-weight="bold" fill="#f85858">GluN1-Ab</text>
<text x="578" y="491.1" font-size="8.50" text-anchor="end" font-weight="bold" fill="#111">ρ=-0.07</text>
<rect x="530.4" y="395.4" width="52.1" height="7.4" fill="url(#hot)" stroke="#444" stroke-width="0.5"/>
<text x="556.5" y="393.2" font-size="7.10" text-anchor="middle" fill="#111">Density changes</text>
<text x="530.4" y="409" font-size="7.30" fill="#111">low</text>
<text x="582.8" y="409" font-size="7.30" text-anchor="end" fill="#111">high</text>
<text x="458.5" y="562.4" font-size="8.60" text-anchor="middle" fill="#222">0.5</text>
<text x="498.6" y="562.4" font-size="8.60" text-anchor="middle" fill="#222">1</text>
<text x="538.8" y="562.4" font-size="8.60" text-anchor="middle" fill="#222">1.5</text>
<text x="579" y="562.4" font-size="8.60" text-anchor="middle" fill="#222">2</text>
<text x="516.8" y="572.2" font-size="9.30" text-anchor="middle" fill="#222">CV: global irregularity</text>
<text x="435.3" y="479" font-size="9.30" text-anchor="middle" fill="#222" transform="rotate(-90 435.3 479)">CV2: local irregularity</text>
<text x="604" y="398.5" font-size="14" font-weight="bold">I</text>
<rect x="632" y="394.5" width="44.8" height="8.7" fill="#ececec" />
<text x="654.4" y="401" font-size="8.50" text-anchor="middle" fill="#222">CV <tspan font-style="italic">vs.</tspan> CV2</text>
<line x1="634.7" y1="405.8" x2="634.7" y2="467.4" stroke="#333" stroke-width="0.9" />
<line x1="634.7" y1="467.4" x2="674.2" y2="467.4" stroke="#333" stroke-width="0.9" />
<path d="M634.7 417.6h1.8M634.7 437.4h1.8M634.7 457.1h1.8" fill="none" stroke="#333" stroke-width="0.6"/>
<text x="632.7" y="420.8" font-size="8.60" text-anchor="end" fill="#222">0.2</text>
<text x="632.7" y="440.6" font-size="8.60" text-anchor="end" fill="#222">0</text>
<text x="632.7" y="460.3" font-size="8.60" text-anchor="end" fill="#222">-0.2</text>
<path d="M647.2 413.4V412.9M647.2 435.8V439.2M643.5 412.9h7.5M643.5 439.2h7.5" fill="none" stroke="#3434ee" stroke-width="1"/>
<rect x="639.5" y="413.4" width="15.5" height="22.4" fill="#7676f4" stroke="#3434ee" stroke-width="0.9"/>
<line x1="639.5" y1="424.2" x2="655" y2="424.2" stroke="#3434ee" stroke-width="1" />
<g fill="#fff" stroke="#2a2a2a" stroke-width="0.65"><circle cx="644" cy="413.5" r="1.65"/><circle cx="647" cy="413" r="1.65"/><circle cx="651" cy="412.6" r="1.65"/><circle cx="652" cy="419" r="1.65"/><circle cx="647" cy="424" r="1.65"/><circle cx="652" cy="427" r="1.65"/><circle cx="647" cy="432" r="1.65"/><circle cx="648" cy="436" r="1.65"/><circle cx="646" cy="438.5" r="1.65"/></g>
<path d="M662.8 431.3V405.5M662.8 456.3V467.4M659 405.5h7.5M659 467.4h7.5" fill="none" stroke="#f03434" stroke-width="1"/>
<rect x="655.3" y="431.3" width="15" height="25" fill="#f27f7f" stroke="#f03434" stroke-width="0.9"/>
<line x1="655.3" y1="441.3" x2="670.3" y2="441.3" stroke="#f03434" stroke-width="1" />
<g fill="#fff" stroke="#2a2a2a" stroke-width="0.65"><circle cx="660.5" cy="405.8" r="1.65"/><circle cx="666" cy="431.5" r="1.65"/><circle cx="663" cy="436" r="1.65"/><circle cx="663" cy="448" r="1.65"/><circle cx="660" cy="450.5" r="1.65"/><circle cx="663" cy="454" r="1.65"/><circle cx="663.5" cy="467" r="1.65"/></g>
<text x="654.5" y="478" font-size="8.70" text-anchor="middle" font-weight="bold" fill="#111">p=0.025</text>
<text x="614.3" y="436.6" font-size="9.30" text-anchor="middle" fill="#222" transform="rotate(-90 614.3 436.6)">Correlation</text>
<rect x="632.9" y="487.9" width="40.8" height="8.7" fill="#ececec" />
<text x="653.3" y="494.4" font-size="8.50" text-anchor="middle" fill="#222">CV <tspan font-style="italic">vs.</tspan> ICI</text>
<line x1="634.7" y1="499.7" x2="634.7" y2="561.6" stroke="#333" stroke-width="0.9" />
<line x1="634.7" y1="561.6" x2="674.2" y2="561.6" stroke="#333" stroke-width="0.9" />
<path d="M634.7 512.4h1.8M634.7 534.7h1.8M634.7 556.8h1.8" fill="none" stroke="#333" stroke-width="0.6"/>
<text x="632.7" y="515.6" font-size="8.60" text-anchor="end" fill="#222">0</text>
<text x="632.7" y="537.9" font-size="8.60" text-anchor="end" fill="#222">-0.2</text>
<text x="632.7" y="560" font-size="8.60" text-anchor="end" fill="#222">-0.4</text>
<path d="M647.2 504.5V499.7M647.2 527.9V548.4M643.5 499.7h7.5M643.5 548.4h7.5" fill="none" stroke="#3434ee" stroke-width="1"/>
<rect x="639.5" y="504.5" width="15.5" height="23.4" fill="#7676f4" stroke="#3434ee" stroke-width="0.9"/>
<line x1="639.5" y1="516" x2="655" y2="516" stroke="#3434ee" stroke-width="1" />
<g fill="#fff" stroke="#2a2a2a" stroke-width="0.65"><circle cx="649" cy="499.5" r="1.65"/><circle cx="648" cy="502" r="1.65"/><circle cx="645" cy="506" r="1.65"/><circle cx="649" cy="513" r="1.65"/><circle cx="647" cy="516" r="1.65"/><circle cx="649.5" cy="520" r="1.65"/><circle cx="644.5" cy="522" r="1.65"/><circle cx="645" cy="528" r="1.65"/><circle cx="648" cy="548" r="1.65"/></g>
<path d="M662.8 529.5V501M662.8 559V561.6M659 501h7.5M659 561.6h7.5" fill="none" stroke="#f03434" stroke-width="1"/>
<rect x="655.3" y="529.5" width="15" height="29.5" fill="#f27f7f" stroke="#f03434" stroke-width="0.9"/>
<line x1="655.3" y1="553.7" x2="670.3" y2="553.7" stroke="#f03434" stroke-width="1" />
<g fill="#fff" stroke="#2a2a2a" stroke-width="0.65"><circle cx="660" cy="501" r="1.65"/><circle cx="663" cy="520" r="1.65"/><circle cx="664.5" cy="535" r="1.65"/><circle cx="661" cy="547" r="1.65"/><circle cx="664" cy="550" r="1.65"/><circle cx="664" cy="554" r="1.65"/><circle cx="661" cy="557" r="1.65"/><circle cx="662" cy="559.5" r="1.65"/><circle cx="666" cy="561" r="1.65"/></g>
<text x="654.5" y="572.4" font-size="8.70" text-anchor="middle" font-weight="bold" fill="#111">p=0.019</text>
<text x="614.3" y="530" font-size="9.30" text-anchor="middle" fill="#222" transform="rotate(-90 614.3 530)">Correlation</text>
<text x="1" y="593.6" font-size="14" font-weight="bold">J</text>
<rect x="24" y="593.6" width="5" height="145.2" fill="#c5f0c5" />
<path d="M24.6 593.6L25 603.8L25.5 613.6L25.9 623.2L26.4 632.8L26.8 639.6L27.3 644L27.7 648L28.2 654.7L28.6 659.1L29.1 664.9L29.5 668.3L30 673.2L30.4 675.6L30.9 677.6L31.3 678.9L31.8 681.1L32.2 681.2L32.7 682.3L33.1 679.4L33.6 679.4L34 680.2L34.5 679.7L34.9 678.8L35.4 679.2L35.8 678.1L36.3 675.9L36.7 675.9L37.2 676.7L37.6 675.2L38.1 675.2L38.5 674.3L39 673.3L39.4 672L39.9 671.4L40.3 666.5L40.8 666.2L41.2 667.3L41.7 665.5L42.1 667L42.6 662.9L43 664L43.5 664.9L43.9 668.4L44.3 675.8L44.8 680.1L45.2 681.2L45.7 686.3L46.1 688.2L46.6 689.2L47 690.8L47.5 691.6L47.9 692.3L48.4 692.5L48.8 692.1L49.3 694.6L49.7 693.9L50.2 694L50.6 693.5L51.1 694.8L51.5 694.1L52 695.7L52.4 695.1L52.9 697.9L53.3 695.1L53.8 698.3L54.2 698.1L54.7 699.1L55.1 698.9L55.6 697.6L56 698.4L56.5 699.8L56.9 700.1L57.4 699.8L57.8 700.9L58.3 701L58.7 700.8L59.2 701.5L59.6 704.1L60.1 703L60.5 702.2L61 700.9L61.4 702.5L61.9 703.3L62.3 705.2L62.8 705.2L63.2 706.2L63.6 704.8L64.1 705.2L64.5 704.6L65 705.7L65.4 706.1L65.9 706.6L66.3 706.3L66.8 708.1L67.2 708.3L67.7 707.4L68.1 704.7L68.6 707.5L69 708.6L69.5 708.6L69.9 709.9L70.4 708.1L70.8 710.5L71.3 710.5L71.7 710.3L72.2 710.1L72.6 709L73.1 709.5L73.5 709.2L74 709.9L74.4 711L74.9 711L75.3 711.6L75.8 712.5L76.2 712.5L76.7 711.8L77.1 713.2L77.6 713L78 714.8L78.5 714.8L78.9 713.9L79.4 711.9L79.8 714.5L80.3 715.3L80.7 714.7L81.2 715.7L81.6 714.8L82.1 715.5L82.5 714.3L82.9 715.3L83.4 716.4L83.8 714.9L84.3 716L84.7 716L85.2 716.8L85.6 714.8L86.1 717L86.5 716.4L87 717.5L87.4 717.5L87.9 716.3L88.3 717L88.8 717.6L89.2 718L89.7 718.2L90.1 718.5L90.6 717.9L91 718.1L91.5 718.2L91.9 718.6L92.4 720.7L92.8 719.2L93.3 718.3L93.7 719.1L94.2 719.4L94.6 719.7L95.1 719.5L95.5 721.4L96 720.7L96.4 720.8L96.9 721.4L97.3 719.9L97.8 720.5L98.2 720L98.7 720.3L99.1 720.6L99.6 722.4L100 722.7L100.5 722.9L100.9 721.4L101.3 722.1L101.8 722L102.2 722.1L102.7 721.9L103.1 722.9L103.6 722.1L104 722.3L104.5 723.5L104.9 721.9L105.4 721.9L105.8 724L106.3 722.8L106.7 723.5L107.2 724.2L107.6 724.5L108.1 723.1L108.5 720.4L109 722.2L109.4 723.9L109.9 723.7L110.3 724.6L110.8 723.2L111.2 723.8L111.7 724.7L112.1 724.3L112.6 723.4L113 723.5L113.5 723.4L113.9 724.1L114.4 724.9L114.8 725.8L115.3 724.7L115.7 722.6L116.2 725.2L116.6 725.9L117.1 724.4L117.5 725L118 725.3L118.4 726.1L118.9 725.9L119.3 725.9L119.8 724.8L120.2 725.8L120.6 727.3L121.1 726.3L121.5 726.2L122 726.4L122.4 726.4L122.9 725.2L123.3 727.3L123.8 725.7L124.2 726.6L124.7 726.6L125.1 726.5L125.6 726.4L126 726.3L126.5 727.9L126.9 726.1L127.4 727L127.8 725.6L128.3 727.2L128.7 726L129.2 726.4L129.6 727.1L130.1 726.4L130.5 727L131 727.1L131.4 726.7L131.9 726.2L132.3 726.2L132.8 726.7L133.2 727.5L133.7 727.6L134.1 728L134.6 726.3L135 727.2L135.5 728.1L135.9 728.9L136.4 726.9L136.8 728.4L137.3 728.6L137.7 729.1L138.2 729.2L138.6 729.1L139.1 728.4L139.5 727.4L139.9 727.7L140.4 727.3L140.8 728L141.3 729.1L141.7 729.1L142.2 728.8L142.6 728.6L143.1 727.8L143.5 729.2L144 729.8L144.4 727.9L144.9 727.8L145.3 729.5L145.8 728.6L146.2 728.1L146.7 727.9L147.1 728.3L147.6 728.7L148 729.3L148.5 729.8L148.9 729.5L149.4 731.1L149.8 731.5L150.3 729.5L150.7 728.9L151.2 730.1L151.6 729.8L152.1 728.5L152.5 730L153 729.7L153.4 729.1L153.9 729.3L154.3 730.1L154.8 729.6L155.2 730.3L155.7 731L156.1 730.4L156.6 729.5L157 730.2L157.5 729L157.9 730L158.4 730.1L158.8 730.8L158.8 734.7L158.4 734.5L157.9 734.2L157.5 734L157 733.6L156.6 733.6L156.1 733.9L155.7 734.6L155.2 734.6L154.8 734.4L154.3 733.9L153.9 733.5L153.4 733.8L153 734.3L152.5 734.2L152.1 733.7L151.6 733.5L151.2 733.7L150.7 733.8L150.3 734.2L149.8 734.7L149.4 734.8L148.9 734.2L148.5 734L148 733.7L147.6 733.3L147.1 732.4L146.7 732.1L146.2 732.7L145.8 733.2L145.3 733.2L144.9 732.9L144.4 733.3L144 733.7L143.5 733.5L143.1 732.6L142.6 732.8L142.2 733.6L141.7 734L141.3 733.5L140.8 732.6L140.4 732.1L139.9 732.1L139.5 732.4L139.1 733L138.6 733.7L138.2 733.7L137.7 733.4L137.3 732.9L136.8 733L136.4 732.6L135.9 732.8L135.5 732L135 731.6L134.6 731.3L134.1 732.2L133.7 732.3L133.2 732.3L132.8 731.6L132.3 730.6L131.9 730.6L131.4 731.6L131 732.2L130.5 731.5L130.1 731.5L129.6 731.2L129.2 731.8L128.7 731.8L128.3 732.1L127.8 730.9L127.4 731.4L126.9 732.1L126.5 732.5L126 731.8L125.6 731.3L125.1 731.4L124.7 731.7L124.2 731.8L123.8 731.2L123.3 730.9L122.9 730.9L122.4 731.3L122 731.4L121.5 731.4L121.1 731.6L120.6 731.6L120.2 730.9L119.8 730.1L119.3 730.5L118.9 731.4L118.4 731.5L118 730.6L117.5 730.3L117.1 730.9L116.6 731L116.2 730.6L115.7 729.7L115.3 730.1L114.8 730.4L114.4 730.5L113.9 729.6L113.5 729.3L113 729.4L112.6 729.3L112.1 729.3L111.7 728.9L111.2 729.1L110.8 729.1L110.3 729.6L109.9 730L109.4 729.6L109 728.5L108.5 727.4L108.1 728.2L107.6 729.6L107.2 730L106.7 729.4L106.3 728.9L105.8 729L105.4 728.4L104.9 728.1L104.5 728.1L104 728.1L103.6 728L103.1 728.1L102.7 728.8L102.2 728.6L101.8 728.1L101.3 727.5L100.9 727.6L100.5 727.6L100 727.8L99.6 727.5L99.1 727.2L98.7 726.7L98.2 726.1L97.8 726L97.3 726.5L96.9 726.6L96.4 726.4L96 726.4L95.5 726.5L95.1 726.5L94.6 726.3L94.2 725.9L93.7 725.8L93.3 725.6L92.8 725.6L92.4 725.5L91.9 725.4L91.5 724.7L91 724.4L90.6 725.1L90.1 725.3L89.7 725L89.2 724.2L88.8 724.5L88.3 723.9L87.9 723.5L87.4 723.4L87 723.6L86.5 723.4L86.1 723L85.6 722.7L85.2 722.3L84.7 722.3L84.3 722.7L83.8 722.3L83.4 722.1L82.9 722.3L82.5 721.8L82.1 721.3L81.6 721.7L81.2 722.3L80.7 722.3L80.3 721.2L79.8 720.9L79.4 720.7L78.9 721.6L78.5 722.2L78 722L77.6 721L77.1 719.8L76.7 719.7L76.2 719.7L75.8 719.7L75.3 719.2L74.9 718.7L74.4 717.9L74 717.6L73.5 717.2L73.1 716.7L72.6 716.6L72.2 716.8L71.7 717.4L71.3 717.7L70.8 717.1L70.4 716L69.9 716.2L69.5 716.3L69 715.5L68.6 714.6L68.1 714.6L67.7 715.1L67.2 715.4L66.8 715.4L66.3 714.7L65.9 714.5L65.4 713.8L65 713.4L64.5 712.9L64.1 712.5L63.6 712.6L63.2 712.8L62.8 712.6L62.3 711.8L61.9 711.4L61.4 710.9L61 710.2L60.5 710.2L60.1 710.5L59.6 710.6L59.2 709.9L58.7 709.2L58.3 708.9L57.8 709.6L57.4 709.5L56.9 708.8L56.5 707.7L56 707.5L55.6 707.3L55.1 707.1L54.7 706.8L54.2 706.5L53.8 705.9L53.3 705.5L52.9 705.2L52.4 704.9L52 703.9L51.5 703.4L51.1 703L50.6 702.7L50.2 701.9L49.7 701.9L49.3 701.8L48.8 701.5L48.4 701L47.9 700.7L47.5 700.2L47 699.5L46.6 698.6L46.1 697L45.7 695.3L45.2 693.2L44.8 690.4L44.3 685.5L43.9 680.4L43.5 677.9L43 677.9L42.6 679.3L42.1 681.1L41.7 682.5L41.2 683L40.8 683.1L40.3 683.5L39.9 683.5L39.4 683.9L39 684.5L38.5 685.1L38.1 685.4L37.6 686.5L37.2 687.1L36.7 686.9L36.3 686.5L35.8 687.5L35.4 688.7L34.9 689.1L34.5 689.2L34 689.5L33.6 690.7L33.1 691.2L32.7 691.4L32.2 690.6L31.8 689.4L31.3 688.1L30.9 686.5L30.4 684.2L30 681.4L29.5 677.7L29.1 673.2L28.6 667.9L28.2 662.4L27.7 656.9L27.3 651.1L26.8 644.7L26.4 637.1L25.9 627.2L25.5 616L25 604.9L24.6 593.6Z" fill="#6060f0" stroke="#3535f0" stroke-width="0.4" fill-opacity="0.33" stroke-opacity="0.5"/>
<path d="M24.6 593.6 L25 604.4 L25.5 614.9 L25.9 625.6 L26.4 635 L26.8 642 L27.3 647.8 L27.7 653.1 L28.2 658.3 L28.6 663.7 L29.1 669 L29.5 673.4 L30 677 L30.4 679.7 L30.9 681.9 L31.3 683.4 L31.8 684.6 L32.2 685.8 L32.7 686.4 L33.1 686.2 L33.6 685.7 L34 684.5 L34.5 684.2 L34.9 684.1 L35.4 683.7 L35.8 682.5 L36.3 681.5 L36.7 681.9 L37.2 682.1 L37.6 681.5 L38.1 680.4 L38.5 680.1 L39 679.5 L39.4 678.9 L39.9 678.5 L40.3 678.5 L40.8 678.1 L41.2 678 L41.7 677.5 L42.1 676.1 L42.6 674.3 L43 672.9 L43.5 672.9 L43.9 675.4 L44.3 680.5 L44.8 685.5 L45.2 688.3 L45.7 690.5 L46.1 692.2 L46.6 693.8 L47 694.7 L47.5 695.5 L47.9 696 L48.4 696.3 L48.8 696.8 L49.3 697.1 L49.7 697.2 L50.2 697.3 L50.6 698.1 L51.1 698.5 L51.5 698.9 L52 699.4 L52.4 700.5 L52.9 700.8 L53.3 701.1 L53.8 701.6 L54.2 702.1 L54.7 702.5 L55.1 702.9 L55.6 703.1 L56 703.2 L56.5 703.5 L56.9 704.7 L57.4 705.3 L57.8 705.5 L58.3 704.8 L58.7 705.1 L59.2 705.9 L59.6 706.6 L60.1 706.5 L60.5 706.2 L61 706.2 L61.4 707 L61.9 707.4 L62.3 707.9 L62.8 708.7 L63.2 708.9 L63.6 708.7 L64.1 708.6 L64.5 709 L65 709.5 L65.4 710 L65.9 710.6 L66.3 710.8 L66.8 711.6 L67.2 711.6 L67.7 711.3 L68.1 710.8 L68.6 710.8 L69 711.8 L69.5 712.6 L69.9 712.4 L70.4 712.2 L70.8 713.4 L71.3 714 L71.7 713.7 L72.2 713.1 L72.6 713 L73.1 713.1 L73.5 713.6 L74 714 L74.4 714.2 L74.9 715.1 L75.3 715.6 L75.8 716.1 L76.2 716.2 L76.7 716.1 L77.1 716.3 L77.6 717.4 L78 718.5 L78.5 718.6 L78.9 718.1 L79.4 717.2 L79.8 717.4 L80.3 717.8 L80.7 718.9 L81.2 718.9 L81.6 718.3 L82.1 717.9 L82.5 718.4 L82.9 718.9 L83.4 718.7 L83.8 718.9 L84.3 719.4 L84.7 719 L85.2 718.9 L85.6 719.3 L86.1 719.7 L86.5 720.1 L87 720.3 L87.4 720.1 L87.9 720.2 L88.3 720.7 L88.8 721.2 L89.2 720.9 L89.7 721.7 L90.1 722.1 L90.6 721.9 L91 721.2 L91.5 721.6 L91.9 722.2 L92.4 722.4 L92.8 722.5 L93.3 722.4 L93.7 722.6 L94.2 722.7 L94.6 723.2 L95.1 723.4 L95.5 723.4 L96 723.3 L96.4 723.4 L96.9 723.6 L97.3 723.5 L97.8 722.9 L98.2 723 L98.7 723.7 L99.1 724.3 L99.6 724.5 L100 724.8 L100.5 724.7 L100.9 724.6 L101.3 724.5 L101.8 725.2 L102.2 725.7 L102.7 725.9 L103.1 725.2 L103.6 725.1 L104 725.2 L104.5 725.2 L104.9 725.2 L105.4 725.5 L105.8 726.1 L106.3 726 L106.7 726.6 L107.2 727.1 L107.6 726.8 L108.1 725.3 L108.5 724.6 L109 725.7 L109.4 726.8 L109.9 727.1 L110.3 726.8 L110.8 726.3 L111.2 726.3 L111.7 726.1 L112.1 726.5 L112.6 726.5 L113 726.7 L113.5 726.5 L113.9 726.9 L114.4 727.8 L114.8 727.6 L115.3 727.4 L115.7 727 L116.2 727.9 L116.6 728.3 L117.1 728.2 L117.5 727.6 L118 727.9 L118.4 728.8 L118.9 728.7 L119.3 727.8 L119.8 727.4 L120.2 728.2 L120.6 729 L121.1 729 L121.5 728.8 L122 728.7 L122.4 728.7 L122.9 728.3 L123.3 728.3 L123.8 728.7 L124.2 729.2 L124.7 729.1 L125.1 728.8 L125.6 728.8 L126 729.2 L126.5 730 L126.9 729.5 L127.4 728.9 L127.8 728.4 L128.3 729.5 L128.7 729.3 L129.2 729.3 L129.6 728.8 L130.1 729 L130.5 729 L131 729.7 L131.4 729.1 L131.9 728.2 L132.3 728.2 L132.8 729.2 L133.2 729.9 L133.7 729.8 L134.1 729.8 L134.6 728.9 L135 729.2 L135.5 729.6 L135.9 730.4 L136.4 730.2 L136.8 730.6 L137.3 730.5 L137.7 731.1 L138.2 731.4 L138.6 731.3 L139.1 730.6 L139.5 730.1 L139.9 729.8 L140.4 729.8 L140.8 730.3 L141.3 731.2 L141.7 731.7 L142.2 731.3 L142.6 730.5 L143.1 730.3 L143.5 731.2 L144 731.5 L144.4 731.1 L144.9 730.7 L145.3 731 L145.8 730.9 L146.2 730.5 L146.7 729.9 L147.1 730.2 L147.6 731.1 L148 731.6 L148.5 731.8 L148.9 732 L149.4 732.6 L149.8 732.5 L150.3 732 L150.7 731.7 L151.2 731.6 L151.6 731.4 L152.1 731.6 L152.5 732.1 L153 732.2 L153.4 731.7 L153.9 731.5 L154.3 731.8 L154.8 732.3 L155.2 732.5 L155.7 732.5 L156.1 731.9 L156.6 731.6 L157 731.6 L157.5 731.9 L157.9 732.2 L158.4 732.5 L158.8 732.7" fill="none" stroke="#3535f0" stroke-width="0.9"/>
<path d="M24.6 594L25 603.7L25.5 611.8L25.9 618.6L26.4 623.8L26.8 627.3L27.3 632.1L27.7 631.8L28.2 628.1L28.6 635L29.1 631.3L29.5 629.6L30 630.9L30.4 631.2L30.9 628.4L31.3 633.2L31.8 624.3L32.2 637.9L32.7 632.5L33.1 633.9L33.6 638.4L34 627.4L34.5 629.1L34.9 627.4L35.4 624L35.8 632L36.3 625.6L36.7 622L37.2 625L37.6 625.1L38.1 619.3L38.5 627.6L39 623.7L39.4 616.7L39.9 612.3L40.3 616.1L40.8 621.2L41.2 620L41.7 628.1L42.1 631.7L42.6 628L43 633.3L43.5 633L43.9 634.4L44.3 635.1L44.8 640.2L45.2 641.1L45.7 635.2L46.1 636.9L46.6 637.4L47 636L47.5 634.9L47.9 640.8L48.4 646L48.8 637L49.3 629.2L49.7 638L50.2 637.8L50.6 642L51.1 648.3L51.5 646.4L52 650.1L52.4 652.6L52.9 644.9L53.3 653.1L53.8 655.3L54.2 659.2L54.7 656.5L55.1 651.4L55.6 658.3L56 654.5L56.5 660.2L56.9 661.9L57.4 664.5L57.8 663.4L58.3 664.1L58.7 673.4L59.2 670.5L59.6 668.9L60.1 669.7L60.5 674.7L61 673.9L61.4 671.9L61.9 677.2L62.3 674L62.8 677.6L63.2 674.8L63.6 676.2L64.1 676.6L64.5 677.9L65 677.1L65.4 678.1L65.9 683L66.3 677.3L66.8 677.8L67.2 683.4L67.7 680.8L68.1 677.7L68.6 681.5L69 680.5L69.5 686.5L69.9 684.6L70.4 679.1L70.8 682L71.3 682.4L71.7 683.4L72.2 688.2L72.6 689.7L73.1 688.7L73.5 691.8L74 695.2L74.4 691.1L74.9 691.6L75.3 693.1L75.8 692.7L76.2 695.5L76.7 694.9L77.1 697.7L77.6 697.9L78 698.7L78.5 698.7L78.9 701.2L79.4 701.5L79.8 704.4L80.3 703.9L80.7 700.6L81.2 700L81.6 702.7L82.1 702.5L82.5 703.1L82.9 704.3L83.4 703.6L83.8 705L84.3 702.4L84.7 707.3L85.2 705.8L85.6 704.5L86.1 705.3L86.5 707.1L87 705L87.4 708.1L87.9 705.3L88.3 705.9L88.8 703.1L89.2 704.3L89.7 707.4L90.1 707.2L90.6 708.2L91 708.2L91.5 708.6L91.9 711.8L92.4 709.2L92.8 712.2L93.3 709.2L93.7 711.1L94.2 711.4L94.6 711.9L95.1 711.3L95.5 714.4L96 712L96.4 713.1L96.9 713.4L97.3 714.2L97.8 713.8L98.2 712.9L98.7 712.1L99.1 712.6L99.6 714.7L100 714.3L100.5 715.9L100.9 715.8L101.3 716.2L101.8 714.5L102.2 714.9L102.7 714.5L103.1 715.2L103.6 714.9L104 715.7L104.5 717.4L104.9 716.3L105.4 717.2L105.8 715.4L106.3 715.3L106.7 714.1L107.2 714.8L107.6 719.8L108.1 717.7L108.5 717.2L109 718.8L109.4 718.7L109.9 718.4L110.3 719.1L110.8 719.9L111.2 717.3L111.7 716.7L112.1 717.4L112.6 718.6L113 718.8L113.5 719L113.9 717.5L114.4 718.5L114.8 719.8L115.3 718.4L115.7 718.1L116.2 718.9L116.6 718.7L117.1 720.9L117.5 719.9L118 718.2L118.4 718.4L118.9 717.8L119.3 718.6L119.8 720.1L120.2 720.2L120.6 720.8L121.1 721.5L121.5 723.2L122 721.2L122.4 721.3L122.9 720.6L123.3 722.1L123.8 720.9L124.2 721.9L124.7 720.2L125.1 721.3L125.6 720.8L126 722.3L126.5 723.9L126.9 724.1L127.4 723.3L127.8 722.5L128.3 719.9L128.7 720.9L129.2 720.7L129.6 721.5L130.1 720.5L130.5 722L131 722.9L131.4 723.5L131.9 723.9L132.3 722.3L132.8 721.4L133.2 721.7L133.7 722.3L134.1 722.9L134.6 722.7L135 722.7L135.5 724.8L135.9 725.1L136.4 725.9L136.8 724.3L137.3 722.5L137.7 722.1L138.2 722.4L138.6 724L139.1 724L139.5 724.9L139.9 724L140.4 724L140.8 724.8L141.3 723.8L141.7 723.6L142.2 724.8L142.6 725.3L143.1 724.3L143.5 724.5L144 724.1L144.4 723.9L144.9 724.1L145.3 724.4L145.8 727.4L146.2 726.1L146.7 726.9L147.1 725.7L147.6 727L148 727L148.5 726.9L148.9 726L149.4 726.5L149.8 726.1L150.3 726.2L150.7 726L151.2 727.9L151.6 728.8L152.1 728.9L152.5 728.2L153 727.2L153.4 729.5L153.9 730L154.3 729.6L154.8 729.1L155.2 729.3L155.7 729.2L156.1 728L156.6 728.1L157 727.1L157.5 728.7L157.9 728.4L158.4 728.4L158.8 729.1L158.8 733.3L158.4 733.5L157.9 733.2L157.5 733.5L157 733L156.6 733.3L156.1 733.1L155.7 734.3L155.2 734.2L154.8 734.7L154.3 734.7L153.9 735.2L153.4 734L153 733L152.5 733.1L152.1 733.6L151.6 733.3L151.2 732.2L150.7 731.1L150.3 731.5L149.8 731.9L149.4 731.9L148.9 731.3L148.5 731.7L148 732.4L147.6 731.9L147.1 731.2L146.7 731.8L146.2 732.2L145.8 731.7L145.3 730.3L144.9 730L144.4 729.7L144 729.4L143.5 729.6L143.1 730.4L142.6 730.9L142.2 730.5L141.7 729.9L141.3 729.8L140.8 729.9L140.4 730L139.9 729.5L139.5 729.8L139.1 729.6L138.6 729.6L138.2 728.6L137.7 728.2L137.3 728.3L136.8 729.7L136.4 731.7L135.9 731.9L135.5 730.2L135 728.5L134.6 728.5L134.1 728.6L133.7 727.4L133.2 727L132.8 727.4L132.3 728.8L131.9 728.8L131.4 729.1L131 728.6L130.5 727.7L130.1 726.7L129.6 727.1L129.2 727.1L128.7 726.5L128.3 726.9L127.8 728.3L127.4 728.6L126.9 728.8L126.5 728.6L126 728.6L125.6 727.7L125.1 727.5L124.7 727L124.2 728L123.8 728.9L123.3 728.3L122.9 727.3L122.4 727.2L122 727.8L121.5 728.3L121.1 728.1L120.6 726.9L120.2 726L119.8 726.1L119.3 725.9L118.9 724.6L118.4 724.2L118 725.6L117.5 727L117.1 727.2L116.6 725.5L116.2 724.7L115.7 724.3L115.3 725.2L114.8 725.3L114.4 725.5L113.9 725.1L113.5 724.9L113 724.6L112.6 724.4L112.1 724.5L111.7 723.7L111.2 723.8L110.8 725.1L110.3 725.8L109.9 725L109.4 724.5L109 723.7L108.5 723.6L108.1 723.6L107.6 724.8L107.2 723.1L106.7 721.8L106.3 721.1L105.8 722.1L105.4 723L104.9 723.5L104.5 723.2L104 722.7L103.6 723.3L103.1 722.8L102.7 721.8L102.2 721.6L101.8 722.1L101.3 722L100.9 722.8L100.5 723.1L100 722.3L99.6 720.4L99.1 720.1L98.7 719.7L98.2 720.6L97.8 720.6L97.3 720.8L96.9 719.9L96.4 719.8L96 719.9L95.5 719.9L95.1 719.2L94.6 718.7L94.2 718.4L93.7 718.8L93.3 719.1L92.8 718.9L92.4 718.6L91.9 717.8L91.5 716.9L91 715.5L90.6 715.7L90.1 715.8L89.7 715.5L89.2 714.2L88.8 713.4L88.3 713.7L87.9 714.9L87.4 715.2L87 715.4L86.5 715.8L86.1 714.8L85.6 713.8L85.2 714.2L84.7 715.5L84.3 714.7L83.8 713.4L83.4 712.2L82.9 712.2L82.5 713.2L82.1 713.4L81.6 711.5L81.2 709.6L80.7 709.8L80.3 711.6L79.8 712.6L79.4 711.7L78.9 709.8L78.5 709L78 709.4L77.6 710.5L77.1 710.3L76.7 708.8L76.2 707.7L75.8 708.2L75.3 708.9L74.9 709L74.4 709L74 708.8L73.5 708.1L73.1 708L72.6 707.7L72.2 706.8L71.7 706L71.3 705.4L70.8 705.3L70.4 704.8L69.9 705.5L69.5 704.3L69 703.1L68.6 700.9L68.1 700.9L67.7 700.6L67.2 701.1L66.8 699.8L66.3 699.5L65.9 699.3L65.4 698.9L65 698L64.5 697.6L64.1 696.5L63.6 695.7L63.2 695L62.8 694.6L62.3 692.4L61.9 691.1L61.4 689.2L61 689.1L60.5 688.8L60.1 689.2L59.6 688.9L59.2 689L58.7 687L58.3 684.8L57.8 682.3L57.4 682L56.9 682L56.5 683L56 683L55.6 682.6L55.1 681.5L54.7 681L54.2 680.5L53.8 679.7L53.3 678.7L52.9 678.6L52.4 679.2L52 678.5L51.5 677.2L51.1 676.7L50.6 675.8L50.2 674.8L49.7 673.2L49.3 672.7L48.8 671.4L48.4 671.4L47.9 670.4L47.5 669.5L47 668L46.6 667.8L46.1 667.1L45.7 666.5L45.2 665.2L44.8 663.9L44.3 662.4L43.9 660.8L43.5 660.2L43 660.1L42.6 659.3L42.1 658.5L41.7 658.9L41.2 658.5L40.8 657.7L40.3 656.6L39.9 656.8L39.4 656L39 656.6L38.5 657.3L38.1 656.8L37.6 655.9L37.2 655.8L36.7 656.9L36.3 657.3L35.8 656.5L35.4 657L34.9 657.8L34.5 660L34 660.4L33.6 661L33.1 660.7L32.7 661.4L32.2 662L31.8 662.7L31.3 662.7L30.9 663.1L30.4 662.9L30 662.4L29.5 661.2L29.1 659L28.6 656.3L28.2 653.3L27.7 649.6L27.3 645.1L26.8 640.4L26.4 634.8L25.9 626.9L25.5 617L25 605.9L24.6 594Z" fill="#ef6060" stroke="#f03c3c" stroke-width="0.4" fill-opacity="0.33" stroke-opacity="0.5"/>
<path d="M24.6 594 L25 604.8 L25.5 614.8 L25.9 623.6 L26.4 630.5 L26.8 635 L27.3 638.6 L27.7 642 L28.2 645.4 L28.6 648.7 L29.1 651.6 L29.5 654 L30 655.3 L30.4 655.7 L30.9 655.7 L31.3 655.2 L31.8 655.1 L32.2 654.2 L32.7 653.4 L33.1 652.4 L33.6 652.2 L34 651.1 L34.5 650.3 L34.9 647.7 L35.4 646.4 L35.8 645.5 L36.3 645.8 L36.7 644.9 L37.2 643.4 L37.6 643 L38.1 643.5 L38.5 643.5 L39 642.4 L39.4 641.3 L39.9 642 L40.3 642 L40.8 643.5 L41.2 644.6 L41.7 645.4 L42.1 645.3 L42.6 646.5 L43 647.6 L43.5 648.1 L43.9 648.8 L44.3 650.4 L44.8 651.9 L45.2 653.2 L45.7 654.5 L46.1 655.1 L46.6 655.8 L47 656 L47.5 657.5 L47.9 658.4 L48.4 659.4 L48.8 659.4 L49.3 660.7 L49.7 661.3 L50.2 663 L50.6 664.2 L51.1 665.3 L51.5 666 L52 667.5 L52.4 668.3 L52.9 667.9 L53.3 668.2 L53.8 669.4 L54.2 670.4 L54.7 671.1 L55.1 671.7 L55.6 673 L56 673.6 L56.5 673.8 L56.9 673 L57.4 673.2 L57.8 673.7 L58.3 676.3 L58.7 678.7 L59.2 680.9 L59.6 680.9 L60.1 681.2 L60.5 680.8 L61 681.1 L61.4 681.2 L61.9 683.1 L62.3 684.4 L62.8 686.6 L63.2 687 L63.6 687.7 L64.1 688.5 L64.5 689.6 L65 690 L65.4 690.9 L65.9 691.3 L66.3 691.5 L66.8 691.8 L67.2 693.1 L67.7 692.6 L68.1 692.9 L68.6 692.9 L69 695.1 L69.5 696.3 L69.9 697.7 L70.4 697.2 L70.8 697.9 L71.3 698.3 L71.7 699 L72.2 700 L72.6 701 L73.1 701.5 L73.5 701.9 L74 702.7 L74.4 703.1 L74.9 703.3 L75.3 703.4 L75.8 702.8 L76.2 702.5 L76.7 703.8 L77.1 705.4 L77.6 705.9 L78 704.9 L78.5 704.7 L78.9 705.7 L79.4 707.7 L79.8 708.7 L80.3 707.7 L80.7 705.9 L81.2 705.7 L81.6 707.6 L82.1 709.5 L82.5 709.4 L82.9 708.4 L83.4 708.4 L83.8 709.7 L84.3 710.9 L84.7 711.8 L85.2 710.6 L85.6 710.2 L86.1 711.2 L86.5 712.2 L87 711.8 L87.4 711.6 L87.9 711.3 L88.3 710.2 L88.8 709.9 L89.2 710.8 L89.7 712.1 L90.1 712.3 L90.6 712.3 L91 712.1 L91.5 713.6 L91.9 714.4 L92.4 715.3 L92.8 715.6 L93.3 715.8 L93.7 715.5 L94.2 715.1 L94.6 715.5 L95.1 716 L95.5 716.7 L96 716.8 L96.4 716.7 L96.9 716.8 L97.3 717.7 L97.8 717.5 L98.2 717.5 L98.7 716.7 L99.1 717.1 L99.6 717.4 L100 719.3 L100.5 720.1 L100.9 719.8 L101.3 719.1 L101.8 719.1 L102.2 718.6 L102.7 718.8 L103.1 719.8 L103.6 720.3 L104 719.8 L104.5 720.2 L104.9 720.6 L105.4 720.1 L105.8 719.2 L106.3 718.1 L106.7 718.8 L107.2 720.2 L107.6 721.8 L108.1 720.7 L108.5 720.7 L109 720.8 L109.4 721.6 L109.9 722.1 L110.3 722.9 L110.8 722.2 L111.2 720.9 L111.7 720.8 L112.1 721.6 L112.6 721.6 L113 721.7 L113.5 722 L113.9 722.2 L114.4 722.6 L114.8 722.4 L115.3 722.3 L115.7 721.4 L116.2 721.8 L116.6 722.6 L117.1 724.3 L117.5 724.2 L118 722.7 L118.4 721.4 L118.9 721.7 L119.3 723.1 L119.8 723.3 L120.2 723.2 L120.6 724.1 L121.1 725.2 L121.5 725.5 L122 725 L122.4 724.4 L122.9 724.5 L123.3 725.5 L123.8 726.1 L124.2 725.2 L124.7 724.2 L125.1 724.7 L125.6 724.9 L126 725.8 L126.5 725.9 L126.9 726.1 L127.4 725.9 L127.8 725.5 L128.3 724.1 L128.7 723.8 L129.2 724.3 L129.6 724.4 L130.1 723.9 L130.5 725 L131 725.8 L131.4 726.4 L131.9 726.1 L132.3 726 L132.8 724.7 L133.2 724.3 L133.7 724.7 L134.1 725.9 L134.6 725.8 L135 725.8 L135.5 727.5 L135.9 729.2 L136.4 729 L136.8 727 L137.3 725.7 L137.7 725.5 L138.2 725.9 L138.6 726.9 L139.1 726.9 L139.5 727.2 L139.9 726.9 L140.4 727.4 L140.8 727.3 L141.3 727.2 L141.7 727.2 L142.2 727.9 L142.6 728.3 L143.1 727.8 L143.5 726.9 L144 726.7 L144.4 727 L144.9 727.3 L145.3 727.7 L145.8 729 L146.2 729.6 L146.7 729.2 L147.1 728.6 L147.6 729.3 L148 729.8 L148.5 729.1 L148.9 728.7 L149.4 729.4 L149.8 729.3 L150.3 728.9 L150.7 728.5 L151.2 729.6 L151.6 730.7 L152.1 731.1 L152.5 730.5 L153 730.4 L153.4 731.5 L153.9 732.6 L154.3 732.2 L154.8 732.2 L155.2 731.6 L155.7 731.8 L156.1 730.6 L156.6 730.8 L157 730.5 L157.5 731 L157.9 730.7 L158.4 731 L158.8 730.8" fill="none" stroke="#f03c3c" stroke-width="0.9"/>
<line x1="24" y1="593.6" x2="24" y2="738.8" stroke="#333" stroke-width="0.9" />
<line x1="24" y1="738.8" x2="158.8" y2="738.8" stroke="#333" stroke-width="0.9" />
<path d="M24 714.6h2M24 690.4h2M24 666.2h2M24 642h2M24 617.8h2M24 738.8v-2.5M91.4 738.8v-2.5M158.8 738.8v-2.5M57.7 738.8v-1.5M125.1 738.8v-1.5" fill="none" stroke="#333" stroke-width="0.6"/>
<text x="20" y="597" font-size="8.60" text-anchor="end" fill="#222">6</text>
<text x="19.6" y="596.2" font-size="7.80" fill="#333">×10<tspan font-size="5.8" dy="-3.2">-3</tspan></text>
<text x="22" y="742" font-size="8.60" text-anchor="end" fill="#222">0</text>
<text x="24" y="749.8" font-size="8.60" text-anchor="middle" fill="#222">0</text>
<text x="91.4" y="749.8" font-size="8.60" text-anchor="middle" fill="#222">1</text>
<text x="158.8" y="749.8" font-size="8.60" text-anchor="middle" fill="#222">2</text>
<text x="90.6" y="759" font-size="9.30" text-anchor="middle" fill="#222">Frequency (Hz)</text>
<text x="11.5" y="666" text-anchor="middle" fill="#222" transform="rotate(-90 11.5 666)">PSD of Φ (norm.)</text>
<path d="M29 599V596H158.8V599" fill="none" stroke="#555" stroke-width="0.9"/>
<path d="M29 614V611H90.6V614" fill="none" stroke="#555" stroke-width="0.9"/>
<text x="93" y="593.2" font-size="8.70" text-anchor="middle" font-weight="bold" fill="#111">p=0.016</text>
<text x="59.6" y="608" font-size="8.70" text-anchor="middle" font-weight="bold" fill="#111">p=0.04</text>
<text x="31" y="725.2" font-size="8.40" fill="#3535f0">Ctrl-Ab</text>
<text x="31" y="735" font-size="8.40" fill="#f03c3c">GluN1-Ab</text>
<rect x="95.5" y="628.3" width="62.1" height="61.3" fill="#d2f5d2" />
<path d="M95.5 647C97.1 647.3 101.8 647.8 105 649C108.2 650.2 111.7 652.1 115 654C118.3 655.9 121.7 658.3 125 660.5C128.3 662.7 131.7 664.9 135 667C138.3 669.1 141.2 671 145 673C148.8 675 155.5 678.2 157.6 679.2L157.6 683.2C155.5 682.2 148.8 679 145 677C141.2 675 138.3 673.1 135 671C131.7 668.9 128.3 666.7 125 664.5C121.7 662.3 118.3 659.9 115 658C111.7 656.1 108.2 654.2 105 653C101.8 651.8 97.1 651.3 95.5 651Z" fill="#e07070" fill-opacity="0.45"/>
<path d="M95.5 639.8C97.1 640.2 101.8 640.8 105 642C108.2 643.2 111.7 644.9 115 647C118.3 649.1 121.7 651.9 125 654.5C128.3 657.1 131.7 659.8 135 662.5C138.3 665.2 141.2 667.9 145 670.5C148.8 673.1 155.5 676.9 157.6 678.2L157.6 680.2C155.5 678.9 148.8 675.1 145 672.5C141.2 669.9 138.3 667.2 135 664.5C131.7 661.8 128.3 659.1 125 656.5C121.7 653.9 118.3 651.1 115 649C111.7 646.9 108.2 645.2 105 644C101.8 642.8 97.1 642.2 95.5 641.8Z" fill="#7070e0" fill-opacity="0.4"/>
<path d="M95.5 640.8C97.1 641.2 101.8 641.8 105 643C108.2 644.2 111.7 645.9 115 648C118.3 650.1 121.7 652.9 125 655.5C128.3 658.1 131.7 660.8 135 663.5C138.3 666.2 141.2 668.9 145 671.5C148.8 674.1 155.5 677.9 157.6 679.2" fill="none" stroke="#3535f0" stroke-width="1.2"/>
<path d="M95.5 649C97.1 649.3 101.8 649.8 105 651C108.2 652.2 111.7 654.1 115 656C118.3 657.9 121.7 660.3 125 662.5C128.3 664.7 131.7 666.9 135 669C138.3 671.1 141.2 673 145 675C148.8 677 155.5 680.2 157.6 681.2" fill="none" stroke="#f03c3c" stroke-width="1.2"/>
<line x1="95.5" y1="628.3" x2="95.5" y2="689.6" stroke="#333" stroke-width="0.9" />
<line x1="95.5" y1="689.6" x2="157.6" y2="689.6" stroke="#333" stroke-width="0.9" />
<path d="M95.5 643.6h1.5M95.5 658.9h1.5M95.5 674.3h1.5M111 689.6v-1.5M126.5 689.6v-1.5M142 689.6v-1.5" fill="none" stroke="#333" stroke-width="0.5"/>
<text x="93.5" y="631.6" font-size="8.60" text-anchor="end" fill="#222">0.25</text>
<text x="93.5" y="692.8" font-size="8.60" text-anchor="end" fill="#222">0</text>
<text x="95.5" y="700.4" font-size="8.60" text-anchor="middle" fill="#222">0</text>
<text x="150.5" y="700.4" font-size="8.60" text-anchor="middle" fill="#222">0.05</text>
<text x="140.5" y="638.4" font-size="8.40" text-anchor="middle" font-weight="bold" fill="#111">zoom-in</text>
<text x="172" y="594" font-size="14" font-weight="bold">K</text>
<line x1="208.5" y1="594.5" x2="208.5" y2="658" stroke="#333" stroke-width="0.9" />
<line x1="208.5" y1="658" x2="248.8" y2="658" stroke="#333" stroke-width="0.9" />
<path d="M208.5 599h1.8M208.5 605.5h1.8M208.5 612.1h1.8M208.5 620h1.8M208.5 628.7h1.8M208.5 640h1.8M208.5 653.6h1.8" fill="none" stroke="#333" stroke-width="0.6"/>
<text x="206.5" y="602.2" font-size="8.60" text-anchor="end" fill="#222">1.8</text>
<text x="206.5" y="615.3" font-size="8.60" text-anchor="end" fill="#222">1.4</text>
<text x="206.5" y="631.9" font-size="8.60" text-anchor="end" fill="#222">1.0</text>
<text x="206.5" y="656.8" font-size="8.60" text-anchor="end" fill="#222">0.6</text>
<path d="M220.6 643.4V634.8M220.6 652.7V658M216.8 634.8h7.5M216.8 658h7.5" fill="none" stroke="#3434ee" stroke-width="1"/>
<rect x="212.6" y="643.4" width="15.9" height="9.3" fill="#7676f4" stroke="#3434ee" stroke-width="0.9"/>
<line x1="212.6" y1="647.8" x2="228.5" y2="647.8" stroke="#3434ee" stroke-width="1" />
<g fill="#fff" stroke="#2a2a2a" stroke-width="0.65"><circle cx="220.7" cy="634.8" r="1.65"/><circle cx="215" cy="643.4" r="1.65"/><circle cx="219.2" cy="645.8" r="1.65"/><circle cx="216.8" cy="647.8" r="1.65"/><circle cx="223.6" cy="647.8" r="1.65"/><circle cx="220" cy="649.5" r="1.65"/><circle cx="217.5" cy="651.2" r="1.65"/><circle cx="221.2" cy="653.1" r="1.65"/><circle cx="223.1" cy="658" r="1.65"/></g>
<path d="M237.6 626.8V617M237.6 643.4V653.1M233.9 617h7.5M233.9 653.1h7.5" fill="none" stroke="#f03434" stroke-width="1"/>
<rect x="229.7" y="626.8" width="15.9" height="16.6" fill="#f27f7f" stroke="#f03434" stroke-width="0.9"/>
<line x1="229.7" y1="642.9" x2="245.6" y2="642.9" stroke="#f03434" stroke-width="1" />
<g fill="#fff" stroke="#2a2a2a" stroke-width="0.65"><circle cx="239.5" cy="617.2" r="1.65"/><circle cx="241.9" cy="631.2" r="1.65"/><circle cx="238.3" cy="633.6" r="1.65"/><circle cx="241.4" cy="636" r="1.65"/><circle cx="234.1" cy="641.4" r="1.65"/><circle cx="238.3" cy="642.2" r="1.65"/><circle cx="235.8" cy="645.8" r="1.65"/><circle cx="237" cy="653.1" r="1.65"/></g>
<circle cx="237" cy="594.8" r="1.65" fill="#fff" stroke="#c03030" stroke-width="0.65"/>
<text x="228" y="668.2" font-size="8.70" text-anchor="middle" font-weight="bold" fill="#111">p=0.031</text>
<text x="188.8" y="627.5" font-size="9.30" text-anchor="middle" fill="#222" transform="rotate(-90 188.8 627.5)">Φ variability</text>
<text x="172" y="689.8" font-size="14" font-weight="bold">L</text>
<line x1="209" y1="687.8" x2="209" y2="747" stroke="#333" stroke-width="0.9" />
<line x1="209" y1="747" x2="248.8" y2="747" stroke="#333" stroke-width="0.9" />
<path d="M209 687.8h1.8M209 707.5h1.8M209 727.2h1.8" fill="none" stroke="#333" stroke-width="0.6"/>
<text x="207" y="691" font-size="8.60" text-anchor="end" fill="#222">0.15</text>
<text x="207" y="710.7" font-size="8.60" text-anchor="end" fill="#222">0.1</text>
<text x="207" y="730.4" font-size="8.60" text-anchor="end" fill="#222">0.05</text>
<text x="207" y="750.2" font-size="8.60" text-anchor="end" fill="#222">0</text>
<path d="M220.1 703.2V700M220.1 719.1V721.5M216.3 700h7.5M216.3 721.5h7.5" fill="none" stroke="#3434ee" stroke-width="1"/>
<rect x="212.1" y="703.2" width="15.9" height="15.9" fill="#7676f4" stroke="#3434ee" stroke-width="0.9"/>
<line x1="212.1" y1="706.9" x2="228" y2="706.9" stroke="#3434ee" stroke-width="1" />
<g fill="#fff" stroke="#2a2a2a" stroke-width="0.65"><circle cx="215" cy="700.8" r="1.65"/><circle cx="219.9" cy="700" r="1.65"/><circle cx="223.6" cy="700.8" r="1.65"/><circle cx="217.5" cy="704.4" r="1.65"/><circle cx="222.4" cy="708.1" r="1.65"/><circle cx="218.7" cy="715.4" r="1.65"/><circle cx="223.6" cy="716.6" r="1.65"/><circle cx="217.5" cy="720.3" r="1.65"/><circle cx="221.9" cy="721" r="1.65"/></g>
<path d="M237.4 712.2V709.3M237.4 722.7V735M233.6 709.3h7.5M233.6 735h7.5" fill="none" stroke="#f03434" stroke-width="1"/>
<rect x="229.2" y="712.2" width="16.4" height="10.5" fill="#f27f7f" stroke="#f03434" stroke-width="0.9"/>
<line x1="229.2" y1="719.1" x2="245.6" y2="719.1" stroke="#f03434" stroke-width="1" />
<g fill="#fff" stroke="#2a2a2a" stroke-width="0.65"><circle cx="233.4" cy="709.8" r="1.65"/><circle cx="240.7" cy="709.8" r="1.65"/><circle cx="238.3" cy="713" r="1.65"/><circle cx="235.1" cy="719.1" r="1.65"/><circle cx="238.3" cy="719.6" r="1.65"/><circle cx="241.4" cy="719.1" r="1.65"/><circle cx="232.9" cy="721" r="1.65"/><circle cx="237" cy="730" r="1.65"/><circle cx="238.3" cy="735" r="1.65"/></g>
<text x="227.3" y="758" font-size="8.70" text-anchor="middle" font-weight="bold" fill="#111">p=0.03</text>
<text x="188.8" y="717.9" font-size="9.30" text-anchor="middle" fill="#222" transform="rotate(-90 188.8 717.9)">SE rate (Hz)</text>
<text x="260.5" y="594.3" font-size="14" font-weight="bold">M</text>
<path d="M283.5 674.3C284.1 668.5 286.1 648.4 287.3 639.5C288.6 630.6 290 624.2 291 620.9C292 617.6 292.5 618.7 293.5 619.7C294.5 620.7 296 623.4 297.2 627.1C298.4 630.8 299.7 636.4 300.9 642C302.1 647.6 303.2 654 304.6 660.6C306.1 667.2 307.1 674.7 309.6 681.7C312.1 688.7 316.2 696.8 319.5 702.8C322.8 708.8 326.1 714.2 329.4 717.7C332.7 721.2 336.1 722.1 339.4 724C342.7 725.9 345.2 727.2 349.3 728.8C353.4 730.4 359.2 732.2 364.2 733.5C369.2 734.8 369.6 735.7 379.1 736.3C388.6 736.9 414 737.1 421 737.3L421 737.5C414 737.5 388.6 737.5 379.1 737.3C369.6 737 369.2 736.8 364.2 736C359.2 735.2 353.4 733.9 349.3 732.6C345.2 731.4 342.7 730.2 339.4 728.5C336.1 726.8 332.7 725.6 329.4 722.6C326.1 719.6 322.8 715.4 319.5 710.2C316.2 705 312.1 697.2 309.6 691.6C307.1 686 306.1 681.9 304.6 676.7C303.2 671.5 302.1 664.4 300.9 660.6C299.7 656.8 298.4 655.1 297.2 653.9C296 652.7 294.5 652.5 293.5 653.2C292.5 653.9 292 655 291 658.1C290 661.2 288.6 666.6 287.3 671.8C286.1 677 284.1 686.2 283.5 689.1Z" fill="#5a5af0" stroke="#4a4ae8" stroke-width="0.4" fill-opacity="0.3" stroke-opacity="0.6"/>
<path d="M283.5 676.7C283.9 673.8 285 662.8 286 659.4C287 656 287 657 289.7 656.4C292.4 655.8 299.6 655.1 302.1 655.6C304.6 656.1 303.4 655.9 304.6 659.4C305.9 662.9 307.1 670.3 309.6 676.7C312.1 683.1 316.2 692.4 319.5 697.8C322.8 703.2 326.1 705.7 329.4 709C332.7 712.3 336.1 715 339.4 717.7C342.7 720.4 345.2 722.8 349.3 725.1C353.4 727.5 359.2 730.1 364.2 731.8C369.2 733.5 369.6 734.6 379.1 735.5C388.6 736.4 414 737 421 737.3L421 737.5C414 737.4 388.6 737.5 379.1 737C369.6 736.5 369.2 735.9 364.2 734.8C359.2 733.6 353.4 731.7 349.3 730.1C345.2 728.5 342.7 727.4 339.4 725.1C336.1 722.8 332.7 719.7 329.4 716.4C326.1 713.1 322.8 709.4 319.5 705.3C316.2 701.2 312.1 694.7 309.6 691.6C307.1 688.5 306.1 687.9 304.6 686.7C303.2 685.5 302.1 684.4 300.9 684.2C299.7 684 298.6 684.2 297.2 685.4C295.8 686.6 293.8 689.3 292.2 691.6C290.6 693.9 288.8 696.6 287.3 699.1C285.9 701.6 284.1 705.3 283.5 706.5Z" fill="#ee5050" stroke="#e84848" stroke-width="0.4" fill-opacity="0.3" stroke-opacity="0.6"/>
<path d="M283.5 681.7C284.1 677.6 286.1 663.5 287.3 656.9C288.6 650.3 290 645.3 291 642C292 638.7 292.5 637.2 293.5 637C294.5 636.8 296 638.3 297.2 640.8C298.4 643.3 299.7 647.1 300.9 651.9C302.1 656.6 303.2 663.5 304.6 669.3C306.1 675.1 307.9 682.2 309.6 686.7C311.3 691.2 313 693.3 314.6 696.6C316.2 699.9 317.9 703.4 319.5 706.5C321.1 709.6 322.9 712.9 324.5 715.2C326.1 717.5 326.9 718.3 329.4 720.2C331.9 722.1 336.1 724.6 339.4 726.4C342.7 728.2 345.2 729.4 349.3 730.8C353.4 732.2 359.2 734 364.2 735C369.2 736 374.1 736.4 379.1 736.8C384.1 737.2 387 737.2 394 737.3C401 737.4 416.5 737.5 421 737.5" fill="none" stroke="#3f3ff0" stroke-width="0.9"/>
<path d="M283.5 690.4C284.1 689.1 285.9 685.4 287.3 682.9C288.8 680.4 290.6 677.4 292.2 675.5C293.8 673.6 295.8 672.2 297.2 671.3C298.6 670.3 299.7 669.5 300.9 669.8C302.1 670.1 303.2 670.6 304.6 673C306.1 675.4 307.9 680.7 309.6 684.2C311.3 687.7 313 691.2 314.6 694.1C316.2 697 317.9 699.3 319.5 701.6C321.1 703.9 322.9 705.9 324.5 707.8C326.1 709.6 326.9 710.4 329.4 712.7C331.9 715 336.1 718.9 339.4 721.4C342.7 723.9 345.2 725.6 349.3 727.6C353.4 729.6 359.2 731.8 364.2 733.3C369.2 734.8 374.1 735.6 379.1 736.3C384.1 737 387 737.1 394 737.3C401 737.5 416.5 737.5 421 737.5" fill="none" stroke="#f03c3c" stroke-width="0.9"/>
<line x1="283.5" y1="599" x2="283.5" y2="737.5" stroke="#333" stroke-width="0.9" />
<line x1="283.5" y1="737.5" x2="421.3" y2="737.5" stroke="#333" stroke-width="0.9" />
<path d="M283.5 668.2h2M288.7 737.5v-1.3M297.7 737.5v-1.3M305 737.5v-1.3M311.3 737.5v-1.3M316.7 737.5v-1.3M321.4 737.5v-1.3M325.7 737.5v-2.5M353.7 737.5v-1.3M370.1 737.5v-1.3M381.8 737.5v-1.3M390.8 737.5v-1.3M398.1 737.5v-1.3M404.4 737.5v-1.3M409.8 737.5v-1.3M414.5 737.5v-1.3" fill="none" stroke="#333" stroke-width="0.6"/>
<text x="281" y="602.2" font-size="8.60" text-anchor="end" fill="#222">0.08</text>
<text x="281" y="740.7" font-size="8.60" text-anchor="end" fill="#222">0</text>
<text x="323.5" y="749.5" font-size="8.60" text-anchor="middle" fill="#222">10<tspan font-size="6.3" dy="-3.5">1</tspan></text>
<text x="416.5" y="749.5" font-size="8.60" text-anchor="middle" fill="#222">10<tspan font-size="6.3" dy="-3.5">2</tspan></text>
<text x="353" y="757.5" font-size="9.30" text-anchor="middle" fill="#222">Synchronous event (SE) size (%)</text>
<text x="271.2" y="669.3" font-size="9.30" text-anchor="middle" fill="#222" transform="rotate(-90 271.2 669.3)">Probability</text>
<text x="330.7" y="606.6" font-size="8.40" font-weight="bold" fill="#111">p-kld=0.037</text>
<text x="385.3" y="714.2" font-size="8.40" fill="#3a3af0">Ctrl-Ab</text>
<text x="385.3" y="725.2" font-size="8.40" fill="#f03c3c">GluN1-Ab</text>
<path d="M349.3 674.3C349.9 671.4 351.8 662.3 353 656.9C354.2 651.5 355.2 646.1 356.7 642C358.1 637.9 359.6 634.8 361.7 632.1C363.8 629.4 366.2 627.6 369.1 625.9C372 624.2 375.4 623 379.1 622.1C382.8 621.2 387.4 620.6 391.5 620.2C395.6 619.8 399.6 619.9 403.9 619.7C408.2 619.5 415.2 619.3 417.5 619.2" fill="none" stroke="#3f3ff0" stroke-width="1"/>
<path d="M349.3 674.3C349.9 672 351.8 664.8 353 660.6C354.2 656.5 355.2 653.1 356.7 649.4C358.1 645.7 359.6 641.4 361.7 638.3C363.8 635.2 366.2 632.9 369.1 630.8C372 628.6 375.4 626.9 379.1 625.4C382.8 623.9 387.4 622.6 391.5 621.7C395.6 620.8 399.6 620.6 403.9 620.2C408.2 619.8 415.2 619.4 417.5 619.2" fill="none" stroke="#f03c3c" stroke-width="1"/>
<line x1="348.8" y1="619.2" x2="348.8" y2="674.3" stroke="#333" stroke-width="0.9" />
<line x1="348.8" y1="674.3" x2="417.5" y2="674.3" stroke="#333" stroke-width="0.9" />
<path d="M348.8 619.2h1.5M348.8 646.8h1.5M348.8 674.3h1.5M361.7 674.3v-1.5M380.3 674.3v-1.5M398.9 674.3v-1.5M417.5 674.3v-1.5" fill="none" stroke="#333" stroke-width="0.5"/>
<text x="346.5" y="622.4" font-size="8.60" text-anchor="end" fill="#222">1</text>
<text x="346.5" y="650.2" font-size="8.60" text-anchor="end" fill="#222">0.5</text>
<text x="346.5" y="677.5" font-size="8.60" text-anchor="end" fill="#222">0</text>
<text x="361.7" y="683.3" font-size="8.60" text-anchor="middle" fill="#222">10</text>
<text x="380.3" y="683.3" font-size="8.60" text-anchor="middle" fill="#222">20</text>
<text x="398.9" y="683.3" font-size="8.60" text-anchor="middle" fill="#222">30</text>
<text x="417.5" y="683.3" font-size="8.60" text-anchor="middle" fill="#222">40</text>
<text x="382.8" y="693" font-size="9.30" text-anchor="middle" fill="#222">SE size (%)</text>
<text x="363" y="663.6" font-size="8.40" fill="#222">Cumulative Pr.</text>
<text x="426" y="594" font-size="14" font-weight="bold">N</text>
<path d="M457.8 732.8C458.9 728.9 462.4 719.2 464.4 709.7C466.4 700.2 468.2 686.3 469.7 675.9C471.2 665.5 472.5 654.5 473.6 647.1C474.7 639.7 475.3 634.9 476.2 631.5C477.1 628.1 478 627.1 478.9 626.8C479.8 626.4 480.4 626.6 481.5 629.5C482.6 632.3 483.9 637.1 485.4 643.8C486.9 650.6 488.8 661.6 490.7 670C492.6 678.5 494.3 687.9 496.5 694.6C498.7 701.3 501.3 706.2 503.8 710.4C506.3 714.6 508.6 716.7 511.7 719.6C514.8 722.5 518.2 725.3 522.2 727.5C526.2 729.7 530.6 731.4 535.4 732.8C540.2 734.2 545 735.2 551.1 735.9C557.2 736.5 564.6 736.6 572.1 736.7C579.6 736.8 592.3 736.7 596.3 736.7L596.3 737.9C592.3 737.9 579.6 737.9 572.1 737.9C564.6 737.9 557.2 738.4 551.1 737.9C545 737.4 540.2 736.4 535.4 735.1C530.6 733.7 526.2 732 522.2 729.8C518.2 727.6 514.8 724.7 511.7 721.9C508.6 719 506.3 716.8 503.8 712.7C501.3 708.5 498.7 703.5 496.5 697.1C494.3 690.6 492.6 681.5 490.7 674.1C488.8 666.8 486.9 658 485.4 652.9C483.9 647.7 482.6 645 481.5 643.2C480.4 641.4 479.8 641.7 478.9 642.2C478 642.8 477.1 643.6 476.2 646.5C475.3 649.5 474.7 653.6 473.6 659.8C472.5 666.1 471.2 675 469.7 683.9C468.2 692.8 466.4 704.8 464.4 713.3C462.4 721.9 458.9 731.5 457.8 735.1Z" fill="#5a5af0" stroke="#4a4ae8" stroke-width="0.4" fill-opacity="0.3" stroke-opacity="0.6"/>
<path d="M457.8 727.4C458.9 724.9 462 719.2 464.4 712.5C466.8 705.8 470.1 694.5 472.3 687.4C474.5 680.3 476 674.3 477.5 670C479 665.7 480.4 663.4 481.5 661.6C482.6 659.8 483 658.8 484.1 659.1C485.2 659.4 486.6 660.2 488.1 663.4C489.6 666.6 491.6 673.6 493.3 678.2C495.1 682.9 496.4 687.2 498.6 691.5C500.8 695.7 503.4 700.3 506.5 703.6C509.6 707 513.5 709.1 517 711.8C520.5 714.5 523.1 717.4 527.5 719.6C531.9 721.8 537.5 723.4 543.2 724.9C548.9 726.4 555.5 727.8 561.6 728.8C567.7 729.8 574.2 730.4 580 730.9C585.8 731.4 593.6 731.8 596.3 732L596.3 737C593.6 736.8 585.8 736.4 580 735.9C574.2 735.4 567.7 734.8 561.6 733.8C555.5 732.8 548.9 731.4 543.2 729.9C537.5 728.4 531.9 726.8 527.5 724.6C523.1 722.4 520.5 719.4 517 716.8C513.5 714.2 509.6 711.9 506.5 709.2C503.4 706.4 500.8 703.1 498.6 700.3C496.4 697.6 495.1 695.4 493.3 692.6C491.6 689.8 489.6 685.5 488.1 683.6C486.6 681.7 485.2 681.2 484.1 681.1C483 681 482.6 681.7 481.5 682.8C480.4 683.9 479 684.9 477.5 687.6C476 690.3 474.5 693.8 472.3 699C470.1 704.2 466.8 713.1 464.4 718.7C462 724.3 458.9 730.3 457.8 732.6Z" fill="#ee5050" stroke="#e84848" stroke-width="0.4" fill-opacity="0.3" stroke-opacity="0.6"/>
<path d="M457.8 734C458.9 730.3 462.4 720.6 464.4 711.6C466.4 702.6 468.2 689.7 469.7 680.1C471.2 670.5 472.5 660.6 473.6 653.8C474.7 647 475.3 642.5 476.2 639.4C477.1 636.2 478 635.3 478.9 634.9C479.8 634.5 480.4 634.4 481.5 636.7C482.6 639 483.9 642.7 485.4 648.6C486.9 654.5 488.8 664.3 490.7 672.2C492.6 680.1 494.3 689.3 496.5 695.9C498.7 702.5 501.3 707.5 503.8 711.6C506.3 715.8 508.6 717.9 511.7 720.8C514.8 723.6 518.2 726.5 522.2 728.7C526.2 730.9 530.6 732.6 535.4 734C540.2 735.4 545 736.5 551.1 737.1C557.2 737.8 564.6 737.8 572.1 737.9C579.6 738 592.3 737.9 596.3 737.9" fill="none" stroke="#3f3ff0" stroke-width="0.9"/>
<path d="M457.8 730C458.9 727.6 462 721.7 464.4 715.6C466.8 709.5 470.1 699.3 472.3 693.2C474.5 687.1 476 682.3 477.5 678.8C479 675.3 480.4 673.7 481.5 672.2C482.6 670.8 483 669.9 484.1 670.1C485.2 670.3 486.6 671 488.1 673.5C489.6 676 491.6 681.7 493.3 685.4C495.1 689.1 496.4 692.4 498.6 695.9C500.8 699.4 503.4 703.3 506.5 706.4C509.6 709.5 513.5 711.7 517 714.3C520.5 716.9 523.1 719.9 527.5 722.1C531.9 724.3 537.5 725.9 543.2 727.4C548.9 728.9 555.5 730.3 561.6 731.3C567.7 732.3 574.2 732.9 580 733.4C585.8 733.9 593.6 734.3 596.3 734.5" fill="none" stroke="#f03c3c" stroke-width="0.9"/>
<line x1="457.8" y1="599.4" x2="457.8" y2="737.9" stroke="#333" stroke-width="0.9" />
<line x1="457.8" y1="737.9" x2="596.3" y2="737.9" stroke="#333" stroke-width="0.9" />
<path d="M457.8 634.1h2M457.8 668.3h2M457.8 703.2h2M492.4 737.9v-2.5M527 737.9v-2.5M561.6 737.9v-2.5M596.2 737.9v-2.5" fill="none" stroke="#333" stroke-width="0.6"/>
<text x="455.5" y="602.6" font-size="8.60" text-anchor="end" fill="#222">0.08</text>
<text x="455.5" y="741.2" font-size="8.60" text-anchor="end" fill="#222">0</text>
<text x="457.8" y="749.8" font-size="8.60" text-anchor="middle" fill="#222">0</text>
<text x="492.4" y="749.8" font-size="8.60" text-anchor="middle" fill="#222">2</text>
<text x="527" y="749.8" font-size="8.60" text-anchor="middle" fill="#222">4</text>
<text x="561.6" y="749.8" font-size="8.60" text-anchor="middle" fill="#222">6</text>
<text x="596.2" y="749.8" font-size="8.60" text-anchor="middle" fill="#222">8</text>
<text x="527.5" y="759" font-size="9.30" text-anchor="middle" fill="#222">SC: synch. capacity (s/event)</text>
<text x="446.4" y="668.3" font-size="9.30" text-anchor="middle" fill="#222" transform="rotate(-90 446.4 668.3)">Probability</text>
<text x="549.8" y="714.8" font-size="8.40" fill="#3a3af0">Ctrl-Ab</text>
<text x="549.8" y="725.4" font-size="8.40" fill="#f03c3c">GluN1-Ab</text>
<rect x="547" y="605" width="40" height="68" fill="#fff" />
<text x="565.5" y="603.6" font-size="8.30" text-anchor="middle" fill="#333">Mean values</text>
<line x1="546.4" y1="610.5" x2="546.4" y2="674" stroke="#333" stroke-width="0.9" />
<line x1="546.4" y1="674" x2="585.3" y2="674" stroke="#333" stroke-width="0.9" />
<path d="M546.4 610.5h1.8M546.4 674h1.8" fill="none" stroke="#333" stroke-width="0.6"/>
<text x="544.4" y="613.7" font-size="8.60" text-anchor="end" fill="#222">5.4</text>
<text x="544.4" y="677.2" font-size="8.60" text-anchor="end" fill="#222">1.3</text>
<path d="M557.7 665.1V660.4M557.7 670.9V671.7M554 660.4h7.5M554 671.7h7.5" fill="none" stroke="#3434ee" stroke-width="1"/>
<rect x="549.8" y="665.1" width="15.8" height="5.8" fill="#7676f4" stroke="#3434ee" stroke-width="0.9"/>
<line x1="549.8" y1="667.5" x2="565.6" y2="667.5" stroke="#3434ee" stroke-width="1" />
<g fill="#fff" stroke="#2a2a2a" stroke-width="0.65"><circle cx="551.1" cy="660.4" r="1.65"/><circle cx="558.5" cy="660.4" r="1.65"/><circle cx="560.3" cy="663.5" r="1.65"/><circle cx="553.7" cy="665.6" r="1.65"/><circle cx="556.4" cy="667.5" r="1.65"/><circle cx="561.6" cy="667.5" r="1.65"/><circle cx="555" cy="669.6" r="1.65"/><circle cx="559" cy="670.1" r="1.65"/></g>
<path d="M573.5 649.4V646M573.5 663.8V669M569.7 646h7.5M569.7 669h7.5" fill="none" stroke="#f03434" stroke-width="1"/>
<rect x="565.6" y="649.4" width="15.7" height="14.4" fill="#f27f7f" stroke="#f03434" stroke-width="0.9"/>
<line x1="565.6" y1="663.8" x2="581.3" y2="663.8" stroke="#f03434" stroke-width="1" />
<path d="M572.5 611.8h4M574.5 609.8v4" fill="none" stroke="#f03434" stroke-width="1"/>
<g fill="#fff" stroke="#2a2a2a" stroke-width="0.65"><circle cx="570.8" cy="645.9" r="1.65"/><circle cx="573.4" cy="649.9" r="1.65"/><circle cx="569" cy="652.5" r="1.65"/><circle cx="574.8" cy="653.8" r="1.65"/><circle cx="570.8" cy="659.1" r="1.65"/><circle cx="576.1" cy="660.4" r="1.65"/><circle cx="569.5" cy="663" r="1.65"/><circle cx="572.1" cy="665.6" r="1.65"/><circle cx="570" cy="668.3" r="1.65"/></g>
<circle cx="572.1" cy="611.8" r="1.65" fill="#fff" stroke="#2a2a2a" stroke-width="0.65"/>
<text x="535.8" y="642.8" font-size="9.20" text-anchor="middle" fill="#222" transform="rotate(-90 535.8 642.8)">SC</text>
<text x="564.3" y="686.4" font-size="8.70" text-anchor="middle" font-weight="bold" fill="#111">p=0.014</text>
<text x="599.5" y="594" font-size="14" font-weight="bold">O</text>
<line x1="635.4" y1="594.1" x2="635.4" y2="657.7" stroke="#333" stroke-width="0.9" />
<line x1="635.4" y1="657.7" x2="673.3" y2="657.7" stroke="#333" stroke-width="0.9" />
<path d="M635.4 594.1h1.8M635.4 657.7h1.8" fill="none" stroke="#333" stroke-width="0.6"/>
<text x="633.4" y="597.3" font-size="8.60" text-anchor="end" fill="#222">6</text>
<text x="633.4" y="660.9" font-size="8.60" text-anchor="end" fill="#222">0</text>
<text x="636" y="593.6" font-size="8.60" fill="#333">×10<tspan font-size="6.4" dy="-3.4">-3</tspan></text>
<path d="M647.5 638.1V631.7M647.5 647.1V650.3M643.8 631.7h7.5M643.8 650.3h7.5" fill="none" stroke="#3434ee" stroke-width="1"/>
<rect x="640.2" y="638.1" width="14.7" height="9" fill="#7676f4" stroke="#3434ee" stroke-width="0.9"/>
<line x1="640.2" y1="643" x2="654.9" y2="643" stroke="#3434ee" stroke-width="1" />
<g fill="#fff" stroke="#2a2a2a" stroke-width="0.65"><circle cx="643.9" cy="631.7" r="1.65"/><circle cx="641.5" cy="639.1" r="1.65"/><circle cx="651.7" cy="639.1" r="1.65"/><circle cx="647.6" cy="642.3" r="1.65"/><circle cx="643.9" cy="644.7" r="1.65"/><circle cx="650" cy="645.9" r="1.65"/><circle cx="646.4" cy="647.1" r="1.65"/><circle cx="642.7" cy="648.4" r="1.65"/><circle cx="651.7" cy="650.3" r="1.65"/></g>
<path d="M663.5 630V619.5M663.5 642.3V644M659.7 619.5h7.5M659.7 644h7.5" fill="none" stroke="#f03434" stroke-width="1"/>
<rect x="656.1" y="630" width="14.7" height="12.3" fill="#f27f7f" stroke="#f03434" stroke-width="0.9"/>
<line x1="656.1" y1="640.5" x2="670.8" y2="640.5" stroke="#f03434" stroke-width="1" />
<path d="M662 604.8h4M664 602.8v4" fill="none" stroke="#f03434" stroke-width="1"/>
<g fill="#fff" stroke="#2a2a2a" stroke-width="0.65"><circle cx="665.9" cy="619" r="1.65"/><circle cx="664.7" cy="631.2" r="1.65"/><circle cx="659.8" cy="633.7" r="1.65"/><circle cx="666.4" cy="634.2" r="1.65"/><circle cx="658.1" cy="639.1" r="1.65"/><circle cx="662.3" cy="639.1" r="1.65"/><circle cx="659.8" cy="641.5" r="1.65"/><circle cx="664" cy="642.3" r="1.65"/><circle cx="668.4" cy="642.3" r="1.65"/></g>
<text x="654.9" y="669.2" font-size="8.70" text-anchor="middle" font-weight="bold" fill="#111">p=0.04</text>
<text x="614.8" y="626.4" font-size="9.30" text-anchor="middle" fill="#222" transform="rotate(-90 614.8 626.4)">Bandpower</text>
<text x="626.3" y="626.4" font-size="9.30" text-anchor="middle" fill="#222" transform="rotate(-90 626.3 626.4)">(norm.)</text>
<text x="600.5" y="678.3" font-size="14" font-weight="bold">P</text>
<line x1="635.6" y1="688.2" x2="635.6" y2="745.5" stroke="#333" stroke-width="0.9" />
<line x1="635.6" y1="745.5" x2="673.3" y2="745.5" stroke="#333" stroke-width="0.9" />
<path d="M635.6 688.2h1.8M635.6 745.5h1.8" fill="none" stroke="#333" stroke-width="0.6"/>
<text x="633.6" y="691.4" font-size="8.60" text-anchor="end" fill="#222">2</text>
<text x="633.6" y="748.7" font-size="8.60" text-anchor="end" fill="#222">0.5</text>
<path d="M648 702.9V695.3M648 714.9V721.2M644.3 695.3h7.5M644.3 721.2h7.5" fill="none" stroke="#3434ee" stroke-width="1"/>
<rect x="640.7" y="702.9" width="14.7" height="12" fill="#7676f4" stroke="#3434ee" stroke-width="0.9"/>
<line x1="640.7" y1="707.1" x2="655.4" y2="707.1" stroke="#3434ee" stroke-width="1" />
<g fill="#fff" stroke="#2a2a2a" stroke-width="0.65"><circle cx="646.8" cy="695.3" r="1.65"/><circle cx="646.8" cy="703.4" r="1.65"/><circle cx="644.6" cy="706.3" r="1.65"/><circle cx="648.3" cy="707.8" r="1.65"/><circle cx="645.1" cy="710.7" r="1.65"/><circle cx="648.8" cy="713.2" r="1.65"/><circle cx="646.4" cy="720.5" r="1.65"/><circle cx="649.3" cy="721.2" r="1.65"/></g>
<path d="M662.5 714.4V701.7M662.5 732.7V745.5M658.8 701.7h7.5M658.8 745.5h7.5" fill="none" stroke="#f03434" stroke-width="1"/>
<rect x="655.4" y="714.4" width="14.2" height="18.3" fill="#f27f7f" stroke="#f03434" stroke-width="0.9"/>
<line x1="655.4" y1="721.2" x2="669.6" y2="721.2" stroke="#f03434" stroke-width="1" />
<g fill="#fff" stroke="#2a2a2a" stroke-width="0.65"><circle cx="662.3" cy="701.7" r="1.65"/><circle cx="659.8" cy="719.3" r="1.65"/><circle cx="663" cy="721.2" r="1.65"/><circle cx="661" cy="724.7" r="1.65"/><circle cx="663.5" cy="729.6" r="1.65"/><circle cx="660.5" cy="738.4" r="1.65"/><circle cx="664.7" cy="744.2" r="1.65"/></g>
<text x="654.9" y="758.8" font-size="8.70" text-anchor="middle" font-weight="bold" fill="#111">p=0.025</text>
<text x="614.8" y="716.8" font-size="9.30" text-anchor="middle" fill="#222" transform="rotate(-90 614.8 716.8)">Non-SE Φ</text>
<text x="626.3" y="716.8" font-size="9.30" text-anchor="middle" fill="#222" transform="rotate(-90 626.3 716.8)">activity (%)</text>
</svg></body></html>
